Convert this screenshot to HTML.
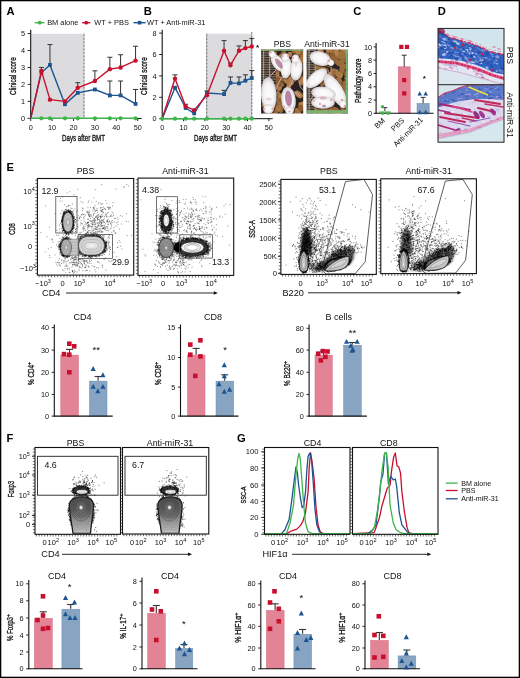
<!DOCTYPE html>
<html><head><meta charset="utf-8"><style>
html,body{margin:0;padding:0;background:#fff;overflow:hidden;width:520px;height:678px;}
svg{display:block;filter:blur(0.3px);}
text{font-family:"Liberation Sans",sans-serif;}
</style></head><body>
<svg width="520" height="678" viewBox="0 0 520 678" font-family="Liberation Sans, sans-serif">
<rect width="520" height="678" fill="#fff"/>
<line x1="34.70" y1="22.70" x2="44.40" y2="22.70" stroke="#3db54a" stroke-width="1.4" />
<circle cx="39.70" cy="22.70" r="1.9" fill="#3db54a"/>
<text x="47.20" y="25.20" font-size="7.4" text-anchor="start" font-weight="normal" fill="#111" >BM alone</text>
<line x1="82.20" y1="22.70" x2="90.30" y2="22.70" stroke="#c8102e" stroke-width="1.4" />
<circle cx="86.20" cy="22.70" r="1.9" fill="#c8102e"/>
<text x="94.30" y="25.20" font-size="7.4" text-anchor="start" font-weight="normal" fill="#111" >WT + PBS</text>
<line x1="133.50" y1="22.70" x2="145.60" y2="22.70" stroke="#1c5590" stroke-width="1.4" />
<rect x="137.80" y="20.90" width="3.60" height="3.60" fill="#1c5590" stroke="none" stroke-width="1" />
<text x="147.00" y="25.20" font-size="7.4" text-anchor="start" font-weight="normal" fill="#111" >WT + Anti-miR-31</text>
<text x="6.60" y="14.50" font-size="11.2" text-anchor="start" font-weight="bold" fill="#000" >A</text>
<rect x="31.20" y="33.80" width="52.30" height="84.70" fill="#dcdcde" stroke="none" stroke-width="1" />
<line x1="84.00" y1="33.80" x2="84.00" y2="118.50" stroke="#222" stroke-width="1" stroke-dasharray="0.7 0.7"/>
<line x1="30.70" y1="29.70" x2="30.70" y2="119.00" stroke="#111" stroke-width="1.1" />
<line x1="30.20" y1="118.50" x2="141.50" y2="118.50" stroke="#111" stroke-width="1" />
<line x1="27.60" y1="118.30" x2="30.70" y2="118.30" stroke="#111" stroke-width="0.9" />
<text x="25.00" y="120.90" font-size="7.3" text-anchor="end" font-weight="normal" fill="#111" >0</text>
<line x1="27.60" y1="101.35" x2="30.70" y2="101.35" stroke="#111" stroke-width="0.9" />
<text x="25.00" y="103.95" font-size="7.3" text-anchor="end" font-weight="normal" fill="#111" >1</text>
<line x1="27.60" y1="84.40" x2="30.70" y2="84.40" stroke="#111" stroke-width="0.9" />
<text x="25.00" y="87.00" font-size="7.3" text-anchor="end" font-weight="normal" fill="#111" >2</text>
<line x1="27.60" y1="67.45" x2="30.70" y2="67.45" stroke="#111" stroke-width="0.9" />
<text x="25.00" y="70.05" font-size="7.3" text-anchor="end" font-weight="normal" fill="#111" >3</text>
<line x1="27.60" y1="50.50" x2="30.70" y2="50.50" stroke="#111" stroke-width="0.9" />
<text x="25.00" y="53.10" font-size="7.3" text-anchor="end" font-weight="normal" fill="#111" >4</text>
<line x1="27.60" y1="33.55" x2="30.70" y2="33.55" stroke="#111" stroke-width="0.9" />
<text x="25.00" y="36.15" font-size="7.3" text-anchor="end" font-weight="normal" fill="#111" >5</text>
<line x1="30.70" y1="118.50" x2="30.70" y2="121.00" stroke="#111" stroke-width="0.9" />
<text x="30.70" y="130.00" font-size="7.3" text-anchor="middle" font-weight="normal" fill="#111" >0</text>
<line x1="52.10" y1="118.50" x2="52.10" y2="121.00" stroke="#111" stroke-width="0.9" />
<text x="52.10" y="130.00" font-size="7.3" text-anchor="middle" font-weight="normal" fill="#111" >10</text>
<line x1="73.50" y1="118.50" x2="73.50" y2="121.00" stroke="#111" stroke-width="0.9" />
<text x="73.50" y="130.00" font-size="7.3" text-anchor="middle" font-weight="normal" fill="#111" >20</text>
<line x1="94.90" y1="118.50" x2="94.90" y2="121.00" stroke="#111" stroke-width="0.9" />
<text x="94.90" y="130.00" font-size="7.3" text-anchor="middle" font-weight="normal" fill="#111" >30</text>
<line x1="116.30" y1="118.50" x2="116.30" y2="121.00" stroke="#111" stroke-width="0.9" />
<text x="116.30" y="130.00" font-size="7.3" text-anchor="middle" font-weight="normal" fill="#111" >40</text>
<line x1="137.70" y1="118.50" x2="137.70" y2="121.00" stroke="#111" stroke-width="0.9" />
<text x="137.70" y="130.00" font-size="7.3" text-anchor="middle" font-weight="normal" fill="#111" >50</text>
<text x="83.50" y="141.00" font-size="9" text-anchor="middle" textLength="43" lengthAdjust="spacingAndGlyphs" fill="#111" stroke="#111" stroke-width="0.32">Days after BMT</text>
<text x="16.50" y="76.10" font-size="9" text-anchor="middle" textLength="37.6" lengthAdjust="spacingAndGlyphs" fill="#111" stroke="#111" stroke-width="0.32" transform="rotate(-90 16.50 76.10)">Clinical score</text>
<line x1="49.96" y1="64.91" x2="49.96" y2="44.57" stroke="#333" stroke-width="1" />
<line x1="47.46" y1="44.57" x2="52.46" y2="44.57" stroke="#333" stroke-width="1" />
<line x1="109.88" y1="95.42" x2="109.88" y2="81.01" stroke="#333" stroke-width="1" />
<line x1="107.38" y1="81.01" x2="112.38" y2="81.01" stroke="#333" stroke-width="1" />
<line x1="120.58" y1="95.42" x2="120.58" y2="81.01" stroke="#333" stroke-width="1" />
<line x1="118.08" y1="81.01" x2="123.08" y2="81.01" stroke="#333" stroke-width="1" />
<line x1="135.56" y1="103.89" x2="135.56" y2="89.48" stroke="#333" stroke-width="1" />
<line x1="133.06" y1="89.48" x2="138.06" y2="89.48" stroke="#333" stroke-width="1" />
<line x1="41.40" y1="70.84" x2="41.40" y2="67.45" stroke="#333" stroke-width="1" />
<line x1="38.90" y1="67.45" x2="43.90" y2="67.45" stroke="#333" stroke-width="1" />
<line x1="77.78" y1="87.79" x2="77.78" y2="82.70" stroke="#333" stroke-width="1" />
<line x1="75.28" y1="82.70" x2="80.28" y2="82.70" stroke="#333" stroke-width="1" />
<line x1="94.90" y1="81.01" x2="94.90" y2="70.84" stroke="#333" stroke-width="1" />
<line x1="92.40" y1="70.84" x2="97.40" y2="70.84" stroke="#333" stroke-width="1" />
<line x1="109.88" y1="69.15" x2="109.88" y2="57.28" stroke="#333" stroke-width="1" />
<line x1="107.38" y1="57.28" x2="112.38" y2="57.28" stroke="#333" stroke-width="1" />
<line x1="120.58" y1="67.45" x2="120.58" y2="54.74" stroke="#333" stroke-width="1" />
<line x1="118.08" y1="54.74" x2="123.08" y2="54.74" stroke="#333" stroke-width="1" />
<line x1="135.56" y1="60.67" x2="135.56" y2="46.26" stroke="#333" stroke-width="1" />
<line x1="133.06" y1="46.26" x2="138.06" y2="46.26" stroke="#333" stroke-width="1" />
<polyline points="30.70,118.30 41.40,72.53 49.96,64.91 64.94,104.23 77.78,92.88 94.90,89.48 109.88,95.42 120.58,95.42 135.56,103.89" fill="none" stroke="#1c5590" stroke-width="1.4" stroke-linejoin="round"/>
<rect x="39.50" y="70.63" width="3.80" height="3.80" fill="#1c5590" stroke="none" stroke-width="1" />
<rect x="48.06" y="63.01" width="3.80" height="3.80" fill="#1c5590" stroke="none" stroke-width="1" />
<rect x="63.04" y="102.33" width="3.80" height="3.80" fill="#1c5590" stroke="none" stroke-width="1" />
<rect x="75.88" y="90.97" width="3.80" height="3.80" fill="#1c5590" stroke="none" stroke-width="1" />
<rect x="93.00" y="87.58" width="3.80" height="3.80" fill="#1c5590" stroke="none" stroke-width="1" />
<rect x="107.98" y="93.52" width="3.80" height="3.80" fill="#1c5590" stroke="none" stroke-width="1" />
<rect x="118.68" y="93.52" width="3.80" height="3.80" fill="#1c5590" stroke="none" stroke-width="1" />
<rect x="133.66" y="101.99" width="3.80" height="3.80" fill="#1c5590" stroke="none" stroke-width="1" />
<polyline points="30.70,118.30 41.40,70.84 49.96,99.66 64.94,101.35 77.78,87.79 94.90,81.01 109.88,69.15 120.58,67.45 135.56,60.67" fill="none" stroke="#c8102e" stroke-width="1.4" stroke-linejoin="round"/>
<circle cx="41.40" cy="70.84" r="2.2" fill="#c8102e"/>
<circle cx="49.96" cy="99.66" r="2.2" fill="#c8102e"/>
<circle cx="64.94" cy="101.35" r="2.2" fill="#c8102e"/>
<circle cx="77.78" cy="87.79" r="2.2" fill="#c8102e"/>
<circle cx="94.90" cy="81.01" r="2.2" fill="#c8102e"/>
<circle cx="109.88" cy="69.15" r="2.2" fill="#c8102e"/>
<circle cx="120.58" cy="67.45" r="2.2" fill="#c8102e"/>
<circle cx="135.56" cy="60.67" r="2.2" fill="#c8102e"/>
<line x1="30.70" y1="118.30" x2="135.56" y2="118.30" stroke="#3db54a" stroke-width="1.5" />
<circle cx="41.40" cy="118.30" r="2.1" fill="#3db54a"/>
<circle cx="49.96" cy="118.30" r="2.1" fill="#3db54a"/>
<circle cx="64.94" cy="118.30" r="2.1" fill="#3db54a"/>
<circle cx="77.78" cy="118.30" r="2.1" fill="#3db54a"/>
<circle cx="94.90" cy="118.30" r="2.1" fill="#3db54a"/>
<circle cx="109.88" cy="118.30" r="2.1" fill="#3db54a"/>
<circle cx="120.58" cy="118.30" r="2.1" fill="#3db54a"/>
<circle cx="135.56" cy="118.30" r="2.1" fill="#3db54a"/>
<text x="143.70" y="14.50" font-size="11.2" text-anchor="start" font-weight="bold" fill="#000" >B</text>
<rect x="206.70" y="33.70" width="45.10" height="85.00" fill="#dcdcde" stroke="none" stroke-width="1" />
<line x1="206.70" y1="33.70" x2="206.70" y2="118.70" stroke="#222" stroke-width="1" stroke-dasharray="0.7 0.7"/>
<line x1="251.80" y1="32.00" x2="251.80" y2="118.70" stroke="#222" stroke-width="1" stroke-dasharray="0.7 0.7"/>
<line x1="162.20" y1="29.70" x2="162.20" y2="119.00" stroke="#111" stroke-width="1.1" />
<line x1="161.70" y1="118.70" x2="272.70" y2="118.70" stroke="#111" stroke-width="1" />
<line x1="159.20" y1="118.70" x2="162.20" y2="118.70" stroke="#111" stroke-width="0.9" />
<text x="156.50" y="121.30" font-size="7.3" text-anchor="end" font-weight="normal" fill="#111" >0</text>
<line x1="159.20" y1="97.30" x2="162.20" y2="97.30" stroke="#111" stroke-width="0.9" />
<text x="156.50" y="99.90" font-size="7.3" text-anchor="end" font-weight="normal" fill="#111" >2</text>
<line x1="159.20" y1="75.90" x2="162.20" y2="75.90" stroke="#111" stroke-width="0.9" />
<text x="156.50" y="78.50" font-size="7.3" text-anchor="end" font-weight="normal" fill="#111" >4</text>
<line x1="159.20" y1="54.50" x2="162.20" y2="54.50" stroke="#111" stroke-width="0.9" />
<text x="156.50" y="57.10" font-size="7.3" text-anchor="end" font-weight="normal" fill="#111" >6</text>
<line x1="159.20" y1="33.10" x2="162.20" y2="33.10" stroke="#111" stroke-width="0.9" />
<text x="156.50" y="35.70" font-size="7.3" text-anchor="end" font-weight="normal" fill="#111" >8</text>
<line x1="162.20" y1="118.70" x2="162.20" y2="121.20" stroke="#111" stroke-width="0.9" />
<text x="162.20" y="130.00" font-size="7.3" text-anchor="middle" font-weight="normal" fill="#111" >0</text>
<line x1="183.53" y1="118.70" x2="183.53" y2="121.20" stroke="#111" stroke-width="0.9" />
<text x="183.53" y="130.00" font-size="7.3" text-anchor="middle" font-weight="normal" fill="#111" >10</text>
<line x1="204.86" y1="118.70" x2="204.86" y2="121.20" stroke="#111" stroke-width="0.9" />
<text x="204.86" y="130.00" font-size="7.3" text-anchor="middle" font-weight="normal" fill="#111" >20</text>
<line x1="226.19" y1="118.70" x2="226.19" y2="121.20" stroke="#111" stroke-width="0.9" />
<text x="226.19" y="130.00" font-size="7.3" text-anchor="middle" font-weight="normal" fill="#111" >30</text>
<line x1="247.52" y1="118.70" x2="247.52" y2="121.20" stroke="#111" stroke-width="0.9" />
<text x="247.52" y="130.00" font-size="7.3" text-anchor="middle" font-weight="normal" fill="#111" >40</text>
<line x1="268.85" y1="118.70" x2="268.85" y2="121.20" stroke="#111" stroke-width="0.9" />
<text x="268.85" y="130.00" font-size="7.3" text-anchor="middle" font-weight="normal" fill="#111" >50</text>
<text x="215.60" y="141.00" font-size="9" text-anchor="middle" textLength="43" lengthAdjust="spacingAndGlyphs" fill="#111" stroke="#111" stroke-width="0.32">Days after BMT</text>
<text x="146.90" y="76.10" font-size="9" text-anchor="middle" textLength="37.6" lengthAdjust="spacingAndGlyphs" fill="#111" stroke="#111" stroke-width="0.32" transform="rotate(-90 146.90 76.10)">Clinical score</text>
<line x1="224.06" y1="94.09" x2="224.06" y2="90.34" stroke="#333" stroke-width="1" />
<line x1="221.56" y1="90.34" x2="226.56" y2="90.34" stroke="#333" stroke-width="1" />
<line x1="230.46" y1="82.86" x2="230.46" y2="76.97" stroke="#333" stroke-width="1" />
<line x1="227.96" y1="76.97" x2="232.96" y2="76.97" stroke="#333" stroke-width="1" />
<line x1="238.99" y1="83.39" x2="238.99" y2="76.97" stroke="#333" stroke-width="1" />
<line x1="236.49" y1="76.97" x2="241.49" y2="76.97" stroke="#333" stroke-width="1" />
<line x1="245.39" y1="80.72" x2="245.39" y2="74.83" stroke="#333" stroke-width="1" />
<line x1="242.89" y1="74.83" x2="247.89" y2="74.83" stroke="#333" stroke-width="1" />
<line x1="251.79" y1="78.04" x2="251.79" y2="70.55" stroke="#333" stroke-width="1" />
<line x1="249.29" y1="70.55" x2="254.29" y2="70.55" stroke="#333" stroke-width="1" />
<line x1="175.00" y1="78.58" x2="175.00" y2="74.83" stroke="#333" stroke-width="1" />
<line x1="172.50" y1="74.83" x2="177.50" y2="74.83" stroke="#333" stroke-width="1" />
<line x1="185.66" y1="106.40" x2="185.66" y2="104.25" stroke="#333" stroke-width="1" />
<line x1="183.16" y1="104.25" x2="188.16" y2="104.25" stroke="#333" stroke-width="1" />
<line x1="206.99" y1="95.16" x2="206.99" y2="90.88" stroke="#333" stroke-width="1" />
<line x1="204.49" y1="90.88" x2="209.49" y2="90.88" stroke="#333" stroke-width="1" />
<line x1="224.06" y1="50.76" x2="224.06" y2="40.59" stroke="#333" stroke-width="1" />
<line x1="221.56" y1="40.59" x2="226.56" y2="40.59" stroke="#333" stroke-width="1" />
<line x1="230.46" y1="65.20" x2="230.46" y2="63.06" stroke="#333" stroke-width="1" />
<line x1="227.96" y1="63.06" x2="232.96" y2="63.06" stroke="#333" stroke-width="1" />
<line x1="238.99" y1="50.76" x2="238.99" y2="45.94" stroke="#333" stroke-width="1" />
<line x1="236.49" y1="45.94" x2="241.49" y2="45.94" stroke="#333" stroke-width="1" />
<line x1="245.39" y1="48.08" x2="245.39" y2="40.59" stroke="#333" stroke-width="1" />
<line x1="242.89" y1="40.59" x2="247.89" y2="40.59" stroke="#333" stroke-width="1" />
<line x1="251.79" y1="46.48" x2="251.79" y2="38.45" stroke="#333" stroke-width="1" />
<line x1="249.29" y1="38.45" x2="254.29" y2="38.45" stroke="#333" stroke-width="1" />
<polyline points="162.20,118.70 175.00,87.67 185.66,108.00 194.19,113.35 206.99,93.02 224.06,94.09 230.46,82.86 238.99,83.39 245.39,80.72 251.79,78.04" fill="none" stroke="#1c5590" stroke-width="1.4" stroke-linejoin="round"/>
<rect x="173.10" y="85.77" width="3.80" height="3.80" fill="#1c5590" stroke="none" stroke-width="1" />
<rect x="183.76" y="106.10" width="3.80" height="3.80" fill="#1c5590" stroke="none" stroke-width="1" />
<rect x="192.29" y="111.45" width="3.80" height="3.80" fill="#1c5590" stroke="none" stroke-width="1" />
<rect x="205.09" y="91.12" width="3.80" height="3.80" fill="#1c5590" stroke="none" stroke-width="1" />
<rect x="222.16" y="92.19" width="3.80" height="3.80" fill="#1c5590" stroke="none" stroke-width="1" />
<rect x="228.56" y="80.95" width="3.80" height="3.80" fill="#1c5590" stroke="none" stroke-width="1" />
<rect x="237.09" y="81.49" width="3.80" height="3.80" fill="#1c5590" stroke="none" stroke-width="1" />
<rect x="243.49" y="78.81" width="3.80" height="3.80" fill="#1c5590" stroke="none" stroke-width="1" />
<rect x="249.89" y="76.14" width="3.80" height="3.80" fill="#1c5590" stroke="none" stroke-width="1" />
<polyline points="162.20,118.70 175.00,78.58 185.66,106.40 194.19,110.14 206.99,95.16 224.06,50.76 230.46,65.20 238.99,50.76 245.39,48.08 251.79,46.48" fill="none" stroke="#c8102e" stroke-width="1.4" stroke-linejoin="round"/>
<circle cx="175.00" cy="78.58" r="2.2" fill="#c8102e"/>
<circle cx="185.66" cy="106.40" r="2.2" fill="#c8102e"/>
<circle cx="194.19" cy="110.14" r="2.2" fill="#c8102e"/>
<circle cx="206.99" cy="95.16" r="2.2" fill="#c8102e"/>
<circle cx="224.06" cy="50.76" r="2.2" fill="#c8102e"/>
<circle cx="230.46" cy="65.20" r="2.2" fill="#c8102e"/>
<circle cx="238.99" cy="50.76" r="2.2" fill="#c8102e"/>
<circle cx="245.39" cy="48.08" r="2.2" fill="#c8102e"/>
<circle cx="251.79" cy="46.48" r="2.2" fill="#c8102e"/>
<line x1="162.20" y1="118.70" x2="251.79" y2="118.70" stroke="#3db54a" stroke-width="1.5" />
<circle cx="162.20" cy="118.70" r="2.1" fill="#3db54a"/>
<circle cx="175.00" cy="118.70" r="2.1" fill="#3db54a"/>
<circle cx="185.66" cy="118.70" r="2.1" fill="#3db54a"/>
<circle cx="194.19" cy="118.70" r="2.1" fill="#3db54a"/>
<circle cx="206.99" cy="118.70" r="2.1" fill="#3db54a"/>
<circle cx="224.06" cy="118.70" r="2.1" fill="#3db54a"/>
<circle cx="230.46" cy="118.70" r="2.1" fill="#3db54a"/>
<circle cx="238.99" cy="118.70" r="2.1" fill="#3db54a"/>
<circle cx="245.39" cy="118.70" r="2.1" fill="#3db54a"/>
<circle cx="251.79" cy="118.70" r="2.1" fill="#3db54a"/>
<text x="257.50" y="50.00" font-size="8" text-anchor="middle" font-weight="bold" fill="#111" >*</text>
<text x="282.30" y="46.70" font-size="8.6" text-anchor="middle" font-weight="normal" fill="#111" >PBS</text>
<text x="327.00" y="46.70" font-size="8.6" text-anchor="middle" font-weight="normal" fill="#111" >Anti-miR-31</text>
<defs><radialGradient id="mouseg"><stop offset="0" stop-color="#fdfdfd"/><stop offset="0.65" stop-color="#f5f4f5"/><stop offset="1" stop-color="#d2cdd0"/></radialGradient></defs>
<defs><filter id="pblur" x="-10%" y="-10%" width="120%" height="120%"><feGaussianBlur stdDeviation="0.45"/></filter></defs>
<clipPath id="cp11"><rect x="261.1" y="49.6" width="42.1" height="64"/></clipPath><g clip-path="url(#cp11)"><g filter="url(#pblur)">
<rect x="260.10" y="48.60" width="44.10" height="66.00" fill="#2a2420" stroke="none" stroke-width="1" />
<ellipse cx="280.15" cy="85.43" rx="4.26" ry="2.51" fill="#946636" transform="rotate(153.90821446276655 280.15 85.43)" />
<ellipse cx="269.09" cy="101.05" rx="3.46" ry="2.70" fill="#a87844" transform="rotate(16.942222121259324 269.09 101.05)" />
<ellipse cx="273.87" cy="55.40" rx="4.06" ry="2.80" fill="#9a6a3a" transform="rotate(107.17857105132053 273.87 55.40)" />
<ellipse cx="277.78" cy="78.59" rx="3.93" ry="2.75" fill="#946636" transform="rotate(2.7001326509288837 277.78 78.59)" />
<ellipse cx="283.34" cy="53.41" rx="2.94" ry="2.21" fill="#9a6a3a" transform="rotate(140.0595131777838 283.34 53.41)" />
<ellipse cx="274.84" cy="87.42" rx="2.95" ry="2.20" fill="#8a5c30" transform="rotate(89.9591673972225 274.84 87.42)" />
<ellipse cx="288.99" cy="78.87" rx="3.10" ry="3.20" fill="#9a6a3a" transform="rotate(127.4057318696309 288.99 78.87)" />
<ellipse cx="274.37" cy="64.30" rx="3.12" ry="1.99" fill="#9a6a3a" transform="rotate(72.07196488532838 274.37 64.30)" />
<ellipse cx="296.74" cy="74.34" rx="4.32" ry="3.00" fill="#9a6a3a" transform="rotate(38.43030212632666 296.74 74.34)" />
<ellipse cx="300.13" cy="52.95" rx="3.28" ry="2.82" fill="#b08050" transform="rotate(13.146901890065621 300.13 52.95)" />
<ellipse cx="287.60" cy="99.42" rx="3.09" ry="2.01" fill="#8a5c30" transform="rotate(2.7269120032617233 287.60 99.42)" />
<ellipse cx="278.36" cy="108.66" rx="2.84" ry="2.82" fill="#9a6a3a" transform="rotate(10.780812529393806 278.36 108.66)" />
<ellipse cx="294.65" cy="60.97" rx="3.61" ry="2.48" fill="#a87844" transform="rotate(177.3506530504 294.65 60.97)" />
<ellipse cx="293.50" cy="76.43" rx="3.29" ry="2.41" fill="#a87844" transform="rotate(0.08476353111188661 293.50 76.43)" />
<ellipse cx="297.49" cy="111.99" rx="3.67" ry="3.20" fill="#9a6a3a" transform="rotate(37.92783985819909 297.49 111.99)" />
<ellipse cx="277.70" cy="104.28" rx="3.76" ry="2.03" fill="#a87844" transform="rotate(38.38380634395406 277.70 104.28)" />
<ellipse cx="271.97" cy="99.05" rx="3.19" ry="2.29" fill="#9a6a3a" transform="rotate(13.37057870791175 271.97 99.05)" />
<ellipse cx="269.89" cy="90.34" rx="2.63" ry="2.38" fill="#946636" transform="rotate(81.57745885029281 269.89 90.34)" />
<ellipse cx="301.48" cy="80.56" rx="3.63" ry="3.03" fill="#a87844" transform="rotate(112.90407767701414 301.48 80.56)" />
<ellipse cx="274.19" cy="64.22" rx="3.70" ry="2.84" fill="#a87844" transform="rotate(133.09639016699722 274.19 64.22)" />
<ellipse cx="300.69" cy="62.18" rx="4.31" ry="3.05" fill="#946636" transform="rotate(14.129605411457263 300.69 62.18)" />
<ellipse cx="263.10" cy="56.58" rx="3.52" ry="2.23" fill="#a0703e" transform="rotate(126.82430290050785 263.10 56.58)" />
<ellipse cx="271.92" cy="102.32" rx="3.67" ry="2.28" fill="#a87844" transform="rotate(167.26251356053052 271.92 102.32)" />
<ellipse cx="302.24" cy="57.69" rx="3.46" ry="2.75" fill="#946636" transform="rotate(110.57454283047626 302.24 57.69)" />
<ellipse cx="272.90" cy="108.31" rx="2.97" ry="1.92" fill="#8a5c30" transform="rotate(74.05678123404826 272.90 108.31)" />
<ellipse cx="271.59" cy="52.58" rx="3.11" ry="2.59" fill="#a87844" transform="rotate(16.59458223869002 271.59 52.58)" />
<ellipse cx="266.93" cy="78.42" rx="3.20" ry="2.85" fill="#946636" transform="rotate(105.1992482724322 266.93 78.42)" />
<ellipse cx="267.01" cy="51.85" rx="2.63" ry="3.08" fill="#a0703e" transform="rotate(56.12484673633264 267.01 51.85)" />
<ellipse cx="262.51" cy="87.90" rx="2.73" ry="1.99" fill="#8a5c30" transform="rotate(57.40280825338545 262.51 87.90)" />
<ellipse cx="303.17" cy="54.42" rx="3.58" ry="2.86" fill="#a0703e" transform="rotate(132.68687327701085 303.17 54.42)" />
<ellipse cx="266.55" cy="111.26" rx="3.21" ry="2.01" fill="#b08050" transform="rotate(162.1504690794682 266.55 111.26)" />
<ellipse cx="297.77" cy="76.30" rx="4.02" ry="3.02" fill="#946636" transform="rotate(2.6158560253150576 297.77 76.30)" />
<ellipse cx="288.98" cy="73.87" rx="2.62" ry="1.99" fill="#9a6a3a" transform="rotate(115.09277627471432 288.98 73.87)" />
<ellipse cx="302.92" cy="105.91" rx="3.91" ry="2.40" fill="#a0703e" transform="rotate(124.94816500374314 302.92 105.91)" />
<ellipse cx="280.37" cy="79.21" rx="3.57" ry="2.57" fill="#946636" transform="rotate(5.362169413583697 280.37 79.21)" />
<ellipse cx="286.41" cy="80.38" rx="3.01" ry="2.81" fill="#b08050" transform="rotate(140.39030619420546 286.41 80.38)" />
<ellipse cx="288.89" cy="80.72" rx="4.21" ry="2.38" fill="#a87844" transform="rotate(122.06465624359589 288.89 80.72)" />
<ellipse cx="269.63" cy="60.45" rx="4.23" ry="2.76" fill="#b08050" transform="rotate(89.69598755621048 269.63 60.45)" />
<ellipse cx="271.27" cy="75.50" rx="3.05" ry="2.72" fill="#a87844" transform="rotate(158.44840525503508 271.27 75.50)" />
<ellipse cx="277.28" cy="86.92" rx="3.17" ry="2.08" fill="#b08050" transform="rotate(63.134125252643294 277.28 86.92)" />
<ellipse cx="298.81" cy="52.20" rx="2.72" ry="3.17" fill="#a87844" transform="rotate(20.30928761599138 298.81 52.20)" />
<ellipse cx="280.94" cy="108.85" rx="4.10" ry="2.40" fill="#946636" transform="rotate(88.89756605764114 280.94 108.85)" />
<ellipse cx="274.38" cy="103.30" rx="4.37" ry="2.49" fill="#9a6a3a" transform="rotate(149.17092431833922 274.38 103.30)" />
<ellipse cx="272.81" cy="88.48" rx="3.82" ry="2.27" fill="#8a5c30" transform="rotate(55.62546325379271 272.81 88.48)" />
<ellipse cx="294.42" cy="50.82" rx="2.84" ry="2.49" fill="#9a6a3a" transform="rotate(138.45836497351763 294.42 50.82)" />
<ellipse cx="272.32" cy="99.47" rx="4.03" ry="3.18" fill="#9a6a3a" transform="rotate(80.36653801518406 272.32 99.47)" />
<ellipse cx="287.62" cy="91.52" rx="4.05" ry="3.15" fill="#a0703e" transform="rotate(35.64905789406191 287.62 91.52)" />
<ellipse cx="295.78" cy="65.99" rx="3.89" ry="2.88" fill="#946636" transform="rotate(128.55077197038756 295.78 65.99)" />
<ellipse cx="268.64" cy="67.03" rx="3.22" ry="2.81" fill="#946636" transform="rotate(90.0748840764208 268.64 67.03)" />
<ellipse cx="303.07" cy="59.79" rx="4.13" ry="2.81" fill="#a87844" transform="rotate(15.69773878072797 303.07 59.79)" />
<ellipse cx="300.36" cy="95.83" rx="2.83" ry="2.49" fill="#a0703e" transform="rotate(159.71865343893887 300.36 95.83)" />
<ellipse cx="261.38" cy="84.80" rx="3.77" ry="2.55" fill="#8a5c30" transform="rotate(83.46739186915839 261.38 84.80)" />
<ellipse cx="288.52" cy="62.71" rx="3.90" ry="2.96" fill="#a0703e" transform="rotate(166.36148042365275 288.52 62.71)" />
<ellipse cx="266.30" cy="65.11" rx="3.30" ry="2.01" fill="#8a5c30" transform="rotate(96.65218812089222 266.30 65.11)" />
<ellipse cx="294.39" cy="70.11" rx="4.24" ry="3.01" fill="#8a5c30" transform="rotate(90.84946509375472 294.39 70.11)" />
<ellipse cx="262.66" cy="71.49" rx="3.36" ry="2.26" fill="#9a6a3a" transform="rotate(39.29301400218328 262.66 71.49)" />
<ellipse cx="297.62" cy="77.05" rx="2.66" ry="2.59" fill="#a0703e" transform="rotate(141.82306487024798 297.62 77.05)" />
<ellipse cx="267.02" cy="59.12" rx="3.53" ry="2.84" fill="#a0703e" transform="rotate(124.08687799594834 267.02 59.12)" />
<ellipse cx="300.92" cy="81.13" rx="4.31" ry="2.01" fill="#a87844" transform="rotate(79.09597750603713 300.92 81.13)" />
<ellipse cx="284.62" cy="102.79" rx="3.61" ry="2.11" fill="#946636" transform="rotate(151.8522118277711 284.62 102.79)" />
<ellipse cx="284.67" cy="69.55" rx="3.29" ry="3.00" fill="#946636" transform="rotate(37.48312305511595 284.67 69.55)" />
<ellipse cx="296.92" cy="111.58" rx="3.54" ry="2.64" fill="#a87844" transform="rotate(73.99503422128157 296.92 111.58)" />
<ellipse cx="265.91" cy="49.92" rx="3.28" ry="2.60" fill="#9a6a3a" transform="rotate(92.88319889548158 265.91 49.92)" />
<ellipse cx="277.96" cy="100.87" rx="3.61" ry="2.54" fill="#a0703e" transform="rotate(30.01882070200175 277.96 100.87)" />
<ellipse cx="300.29" cy="78.97" rx="4.26" ry="2.94" fill="#b08050" transform="rotate(48.45848220832602 300.29 78.97)" />
<ellipse cx="281.02" cy="57.73" rx="3.38" ry="2.96" fill="#b08050" transform="rotate(94.49672115667637 281.02 57.73)" />
<ellipse cx="265.67" cy="76.45" rx="2.65" ry="2.24" fill="#a0703e" transform="rotate(140.27199175887148 265.67 76.45)" />
<ellipse cx="262.06" cy="62.02" rx="3.01" ry="2.79" fill="#8a5c30" transform="rotate(130.24849939318355 262.06 62.02)" />
<ellipse cx="271.39" cy="81.52" rx="3.50" ry="2.66" fill="#946636" transform="rotate(112.2346695147429 271.39 81.52)" />
<ellipse cx="291.32" cy="94.49" rx="4.18" ry="1.93" fill="#a0703e" transform="rotate(74.41236219206715 291.32 94.49)" />
<ellipse cx="283.39" cy="59.82" rx="2.97" ry="2.72" fill="#a0703e" transform="rotate(39.30187430479692 283.39 59.82)" />
<ellipse cx="270.20" cy="84.35" rx="3.66" ry="2.08" fill="#a0703e" transform="rotate(113.01911984303209 270.20 84.35)" />
<ellipse cx="275.73" cy="61.19" rx="3.69" ry="3.06" fill="#a87844" transform="rotate(39.2659759528683 275.73 61.19)" />
<ellipse cx="303.13" cy="106.40" rx="2.84" ry="2.21" fill="#a0703e" transform="rotate(15.865994890850422 303.13 106.40)" />
<ellipse cx="277.43" cy="77.43" rx="4.29" ry="2.61" fill="#a0703e" transform="rotate(22.68058937874621 277.43 77.43)" />
<ellipse cx="278.06" cy="93.45" rx="2.63" ry="2.16" fill="#a0703e" transform="rotate(64.365767568701 278.06 93.45)" />
<ellipse cx="295.66" cy="72.72" rx="3.87" ry="2.73" fill="#8a5c30" transform="rotate(90.5013799648404 295.66 72.72)" />
<ellipse cx="289.97" cy="61.70" rx="2.73" ry="2.04" fill="#9a6a3a" transform="rotate(137.1594954975014 289.97 61.70)" />
<ellipse cx="286.92" cy="107.53" rx="3.47" ry="2.15" fill="#9a6a3a" transform="rotate(36.70452319866788 286.92 107.53)" />
<ellipse cx="296.47" cy="112.98" rx="4.27" ry="2.02" fill="#9a6a3a" transform="rotate(24.201047504462956 296.47 112.98)" />
<ellipse cx="289.77" cy="54.57" rx="2.77" ry="2.41" fill="#b08050" transform="rotate(92.75168272720751 289.77 54.57)" />
<ellipse cx="279.21" cy="88.06" rx="2.62" ry="2.81" fill="#a87844" transform="rotate(32.62845362299719 279.21 88.06)" />
<ellipse cx="280.21" cy="96.92" rx="3.33" ry="2.15" fill="#a87844" transform="rotate(17.064297588623624 280.21 96.92)" />
<ellipse cx="294.46" cy="70.32" rx="2.75" ry="2.99" fill="#a0703e" transform="rotate(169.12558222421842 294.46 70.32)" />
<ellipse cx="285.08" cy="61.82" rx="3.65" ry="2.34" fill="#8a5c30" transform="rotate(50.31283769036698 285.08 61.82)" />
<ellipse cx="266.00" cy="97.15" rx="2.89" ry="3.11" fill="#a87844" transform="rotate(161.3781125797624 266.00 97.15)" />
<ellipse cx="298.14" cy="94.07" rx="3.98" ry="2.89" fill="#b08050" transform="rotate(37.22917877192931 298.14 94.07)" />
<ellipse cx="268.88" cy="100.63" rx="3.14" ry="2.03" fill="#8a5c30" transform="rotate(178.30423589772113 268.88 100.63)" />
<ellipse cx="299.10" cy="52.77" rx="3.09" ry="3.15" fill="#8a5c30" transform="rotate(60.80681054956172 299.10 52.77)" />
<ellipse cx="288.88" cy="86.05" rx="3.56" ry="2.41" fill="#b08050" transform="rotate(115.60774712547192 288.88 86.05)" />
<ellipse cx="290.62" cy="98.35" rx="4.36" ry="1.93" fill="#946636" transform="rotate(19.450336046390817 290.62 98.35)" />
<ellipse cx="271.08" cy="77.99" rx="3.51" ry="2.89" fill="#a0703e" transform="rotate(67.62180717245073 271.08 77.99)" />
<ellipse cx="265.24" cy="65.66" rx="4.23" ry="2.62" fill="#946636" transform="rotate(74.82370595696963 265.24 65.66)" />
<ellipse cx="283.02" cy="103.77" rx="2.78" ry="2.48" fill="#a0703e" transform="rotate(13.715278051009818 283.02 103.77)" />
<ellipse cx="286.26" cy="98.19" rx="2.68" ry="3.11" fill="#a87844" transform="rotate(69.4624469050547 286.26 98.19)" />
<ellipse cx="301.94" cy="104.36" rx="3.58" ry="2.68" fill="#b08050" transform="rotate(170.14921388787002 301.94 104.36)" />
<ellipse cx="278.81" cy="83.31" rx="3.68" ry="2.38" fill="#8a5c30" transform="rotate(86.98367311000881 278.81 83.31)" />
<ellipse cx="272.46" cy="109.09" rx="3.79" ry="2.87" fill="#9a6a3a" transform="rotate(2.5222444463359883 272.46 109.09)" />
<ellipse cx="271.42" cy="52.34" rx="2.88" ry="2.88" fill="#b08050" transform="rotate(9.5024615642248 271.42 52.34)" />
<ellipse cx="274.37" cy="75.06" rx="3.65" ry="2.84" fill="#8a5c30" transform="rotate(13.230770852912144 274.37 75.06)" />
<ellipse cx="299.22" cy="77.09" rx="3.46" ry="3.17" fill="#a87844" transform="rotate(8.17811097357197 299.22 77.09)" />
<ellipse cx="265.25" cy="101.45" rx="4.24" ry="2.09" fill="#a87844" transform="rotate(108.65219240749694 265.25 101.45)" />
<ellipse cx="265.95" cy="89.55" rx="3.42" ry="2.16" fill="#9a6a3a" transform="rotate(64.20547287954349 265.95 89.55)" />
<ellipse cx="267.61" cy="72.85" rx="2.85" ry="2.44" fill="#946636" transform="rotate(47.18329351489818 267.61 72.85)" />
<ellipse cx="285.61" cy="76.45" rx="4.00" ry="2.59" fill="#a87844" transform="rotate(171.47429862784767 285.61 76.45)" />
<ellipse cx="292.01" cy="64.86" rx="2.80" ry="3.06" fill="#946636" transform="rotate(112.49575653956157 292.01 64.86)" />
<ellipse cx="276.22" cy="66.98" rx="3.83" ry="2.63" fill="#946636" transform="rotate(34.204435452506786 276.22 66.98)" />
<ellipse cx="272.83" cy="64.92" rx="4.31" ry="2.55" fill="#a0703e" transform="rotate(164.82996251639722 272.83 64.92)" />
<ellipse cx="298.10" cy="52.13" rx="2.71" ry="2.25" fill="#b08050" transform="rotate(4.842687638125187 298.10 52.13)" />
<ellipse cx="262.70" cy="63.84" rx="3.10" ry="2.88" fill="#a0703e" transform="rotate(28.95430087382457 262.70 63.84)" />
<ellipse cx="270.98" cy="112.42" rx="3.47" ry="2.36" fill="#8a5c30" transform="rotate(61.866094388015824 270.98 112.42)" />
<ellipse cx="292.46" cy="103.27" rx="2.73" ry="2.06" fill="#946636" transform="rotate(150.83808316569912 292.46 103.27)" />
<ellipse cx="293.47" cy="78.04" rx="3.95" ry="2.41" fill="#a87844" transform="rotate(66.41099920588717 293.47 78.04)" />
<ellipse cx="288.62" cy="112.91" rx="3.19" ry="2.61" fill="#a0703e" transform="rotate(148.70825250259418 288.62 112.91)" />
<ellipse cx="268.84" cy="91.44" rx="3.65" ry="2.50" fill="#8a5c30" transform="rotate(14.131371809944042 268.84 91.44)" />
<ellipse cx="264.60" cy="85.71" rx="3.47" ry="2.79" fill="#8a5c30" transform="rotate(148.22932511263022 264.60 85.71)" />
<ellipse cx="261.49" cy="69.45" rx="4.24" ry="2.68" fill="#a0703e" transform="rotate(54.684942432172775 261.49 69.45)" />
<ellipse cx="291.62" cy="94.01" rx="3.11" ry="2.09" fill="#8a5c30" transform="rotate(118.30736972894975 291.62 94.01)" />
<ellipse cx="274.87" cy="107.60" rx="3.18" ry="2.47" fill="#946636" transform="rotate(165.34019203804527 274.87 107.60)" />
<ellipse cx="300.67" cy="108.06" rx="3.39" ry="2.94" fill="#8a5c30" transform="rotate(82.48965559282499 300.67 108.06)" />
<ellipse cx="270.41" cy="111.54" rx="3.91" ry="2.57" fill="#9a6a3a" transform="rotate(65.10495744000583 270.41 111.54)" />
<ellipse cx="276.49" cy="72.85" rx="3.31" ry="2.40" fill="#a87844" transform="rotate(132.9898406675819 276.49 72.85)" />
<ellipse cx="276.60" cy="74.58" rx="2.88" ry="2.67" fill="#a87844" transform="rotate(31.786594958254227 276.60 74.58)" />
<ellipse cx="293.05" cy="105.98" rx="3.11" ry="1.93" fill="#946636" transform="rotate(10.390962943042066 293.05 105.98)" />
<ellipse cx="267.78" cy="68.54" rx="2.64" ry="2.99" fill="#b08050" transform="rotate(11.530165558701963 267.78 68.54)" />
<ellipse cx="284.12" cy="100.04" rx="2.75" ry="2.01" fill="#a0703e" transform="rotate(18.97300229842167 284.12 100.04)" />
<ellipse cx="274.31" cy="51.26" rx="3.78" ry="2.03" fill="#a0703e" transform="rotate(75.96935022012175 274.31 51.26)" />
<ellipse cx="291.08" cy="80.90" rx="4.23" ry="2.34" fill="#b08050" transform="rotate(70.98886372953115 291.08 80.90)" />
<ellipse cx="275.32" cy="111.57" rx="3.81" ry="2.54" fill="#946636" transform="rotate(144.86070655113699 275.32 111.57)" />
<ellipse cx="264.15" cy="89.16" rx="2.68" ry="2.88" fill="#a0703e" transform="rotate(62.84976283930783 264.15 89.16)" />
<ellipse cx="261.26" cy="73.79" rx="2.76" ry="2.50" fill="#946636" transform="rotate(115.2492039232148 261.26 73.79)" />
<ellipse cx="283.15" cy="95.05" rx="4.04" ry="2.45" fill="#b08050" transform="rotate(164.8012413554944 283.15 95.05)" />
<ellipse cx="271.44" cy="59.98" rx="3.74" ry="2.79" fill="#8a5c30" transform="rotate(36.78565494774925 271.44 59.98)" />
<ellipse cx="278.99" cy="68.29" rx="4.35" ry="1.98" fill="#8a5c30" transform="rotate(131.53862283130204 278.99 68.29)" />
<ellipse cx="273.88" cy="59.55" rx="4.26" ry="3.09" fill="#b08050" transform="rotate(3.090606966107754 273.88 59.55)" />
<ellipse cx="281.35" cy="100.83" rx="3.16" ry="2.16" fill="#8a5c30" transform="rotate(39.12558083164043 281.35 100.83)" />
<ellipse cx="271.01" cy="95.50" rx="3.67" ry="2.19" fill="#a87844" transform="rotate(161.01377867602665 271.01 95.50)" />
<ellipse cx="278.04" cy="107.88" rx="4.29" ry="2.71" fill="#946636" transform="rotate(86.30840311654092 278.04 107.88)" />
<ellipse cx="272.07" cy="106.39" rx="4.25" ry="2.34" fill="#946636" transform="rotate(138.90247056084485 272.07 106.39)" />
<ellipse cx="264.99" cy="104.80" rx="3.32" ry="2.18" fill="#a87844" transform="rotate(144.25517785318422 264.99 104.80)" />
<ellipse cx="277.31" cy="83.37" rx="3.53" ry="2.26" fill="#9a6a3a" transform="rotate(118.3595858988632 277.31 83.37)" />
<ellipse cx="271.10" cy="50.30" rx="3.45" ry="2.38" fill="#a87844" transform="rotate(128.39174833788655 271.10 50.30)" />
<ellipse cx="286.62" cy="59.67" rx="2.88" ry="2.32" fill="#8a5c30" transform="rotate(163.4589737390295 286.62 59.67)" />
<ellipse cx="295.20" cy="57.99" rx="3.94" ry="2.71" fill="#946636" transform="rotate(96.22375897712578 295.20 57.99)" />
<ellipse cx="267.44" cy="98.90" rx="2.60" ry="2.97" fill="#a87844" transform="rotate(147.97591181929937 267.44 98.90)" />
<ellipse cx="264.57" cy="66.87" rx="3.89" ry="2.03" fill="#b08050" transform="rotate(124.86453625827633 264.57 66.87)" />
<ellipse cx="264.59" cy="97.51" rx="3.58" ry="2.56" fill="#9a6a3a" transform="rotate(142.07789788989183 264.59 97.51)" />
<ellipse cx="278.65" cy="108.27" rx="2.76" ry="2.97" fill="#a87844" transform="rotate(6.699945612302742 278.65 108.27)" />
<ellipse cx="278.49" cy="81.23" rx="4.30" ry="3.15" fill="#8a5c30" transform="rotate(55.93440244334228 278.49 81.23)" />
<ellipse cx="264.30" cy="69.16" rx="3.44" ry="2.83" fill="#8a5c30" transform="rotate(13.382049975372698 264.30 69.16)" />
<rect x="261.10" y="49.60" width="14.90" height="34.40" fill="#2a2420" stroke="none" stroke-width="1" opacity="0.8"/>
<line x1="261.10" y1="50.40" x2="276.00" y2="50.40" stroke="#a09a90" stroke-width="0.8" opacity="0.85"/>
<line x1="261.10" y1="52.80" x2="276.00" y2="52.80" stroke="#a09a90" stroke-width="0.8" opacity="0.85"/>
<line x1="261.10" y1="55.20" x2="276.00" y2="55.20" stroke="#a09a90" stroke-width="0.8" opacity="0.85"/>
<line x1="261.10" y1="57.60" x2="276.00" y2="57.60" stroke="#a09a90" stroke-width="0.8" opacity="0.85"/>
<line x1="261.10" y1="60.00" x2="276.00" y2="60.00" stroke="#a09a90" stroke-width="0.8" opacity="0.85"/>
<line x1="261.10" y1="62.40" x2="276.00" y2="62.40" stroke="#a09a90" stroke-width="0.8" opacity="0.85"/>
<line x1="261.10" y1="64.80" x2="276.00" y2="64.80" stroke="#a09a90" stroke-width="0.8" opacity="0.85"/>
<line x1="261.10" y1="67.20" x2="276.00" y2="67.20" stroke="#a09a90" stroke-width="0.8" opacity="0.85"/>
<line x1="261.10" y1="69.60" x2="276.00" y2="69.60" stroke="#a09a90" stroke-width="0.8" opacity="0.85"/>
<line x1="261.10" y1="72.00" x2="276.00" y2="72.00" stroke="#a09a90" stroke-width="0.8" opacity="0.85"/>
<line x1="261.10" y1="74.40" x2="276.00" y2="74.40" stroke="#a09a90" stroke-width="0.8" opacity="0.85"/>
<line x1="261.10" y1="76.80" x2="276.00" y2="76.80" stroke="#a09a90" stroke-width="0.8" opacity="0.85"/>
<line x1="261.10" y1="79.20" x2="276.00" y2="79.20" stroke="#a09a90" stroke-width="0.8" opacity="0.85"/>
<line x1="261.10" y1="81.60" x2="276.00" y2="81.60" stroke="#a09a90" stroke-width="0.8" opacity="0.85"/>
<line x1="263.60" y1="49.60" x2="263.60" y2="84.00" stroke="#b0aca4" stroke-width="0.9" />
<line x1="269.60" y1="49.60" x2="269.60" y2="84.00" stroke="#b0aca4" stroke-width="0.9" />
<path d="M283,76 C278,82 277,88 274,95" stroke="#d8a8b8" stroke-width="1" fill="none"/>
<path d="M293,80 C290,88 286,90 281,97" stroke="#d8a8b8" stroke-width="1" fill="none"/>
<path d="M276,70 C270,76 266,80 264,86" stroke="#d8a8b8" stroke-width="1" fill="none"/>
<path d="M300,82 C299,86 301,88 303,90" stroke="#d8a8b8" stroke-width="1" fill="none"/>
<path d="M290,88 C292,92 296,92 300,96" stroke="#d8a8b8" stroke-width="1" fill="none"/>
<ellipse cx="278.50" cy="63.70" rx="5.96" ry="10.28" fill="#1e1a16" transform="rotate(-35 278.50 63.70)" opacity="0.5"/>
<ellipse cx="273.00" cy="55.20" rx="3.82" ry="4.35" fill="#1e1a16" transform="rotate(-45 273.00 55.20)" opacity="0.5"/>
<ellipse cx="286.50" cy="68.20" rx="5.96" ry="11.32" fill="#1e1a16" transform="rotate(4 286.50 68.20)" opacity="0.5"/>
<ellipse cx="285.80" cy="58.20" rx="4.25" ry="4.56" fill="#1e1a16" opacity="0.5"/>
<ellipse cx="296.80" cy="69.70" rx="6.61" ry="11.84" fill="#1e1a16" transform="rotate(5 296.80 69.70)" opacity="0.5"/>
<ellipse cx="296.10" cy="59.70" rx="4.47" ry="4.98" fill="#1e1a16" opacity="0.5"/>
<ellipse cx="269.30" cy="95.20" rx="8.21" ry="17.56" fill="#1e1a16" transform="rotate(-3 269.30 95.20)" opacity="0.5"/>
<ellipse cx="269.00" cy="109.70" rx="5.75" ry="5.08" fill="#1e1a16" opacity="0.5"/>
<ellipse cx="289.00" cy="100.70" rx="7.68" ry="13.40" fill="#1e1a16" transform="rotate(-6 289.00 100.70)" opacity="0.5"/>
<ellipse cx="290.00" cy="111.20" rx="4.68" ry="4.04" fill="#1e1a16" opacity="0.5"/>
<ellipse cx="278.00" cy="63.00" rx="5.56" ry="9.88" fill="url(#mouseg)" transform="rotate(-35 278.00 63.00)" />
<ellipse cx="272.50" cy="54.50" rx="3.42" ry="3.95" fill="url(#mouseg)" transform="rotate(-45 272.50 54.50)" />
<ellipse cx="286.00" cy="67.50" rx="5.56" ry="10.92" fill="url(#mouseg)" transform="rotate(4 286.00 67.50)" />
<ellipse cx="285.30" cy="57.50" rx="3.85" ry="4.16" fill="url(#mouseg)" />
<ellipse cx="296.30" cy="69.00" rx="6.21" ry="11.44" fill="url(#mouseg)" transform="rotate(5 296.30 69.00)" />
<ellipse cx="295.60" cy="59.00" rx="4.07" ry="4.58" fill="url(#mouseg)" />
<ellipse cx="268.80" cy="94.50" rx="7.81" ry="17.16" fill="url(#mouseg)" transform="rotate(-3 268.80 94.50)" />
<ellipse cx="268.50" cy="109.00" rx="5.35" ry="4.68" fill="url(#mouseg)" />
<ellipse cx="288.50" cy="100.00" rx="7.28" ry="13.00" fill="url(#mouseg)" transform="rotate(-6 288.50 100.00)" />
<ellipse cx="289.50" cy="110.50" rx="4.28" ry="3.64" fill="url(#mouseg)" />
<ellipse cx="279.00" cy="63.50" rx="2.40" ry="6.00" fill="#a86890" transform="rotate(-35 279.00 63.50)" opacity="0.75"/>
<ellipse cx="270.50" cy="52.50" rx="1.20" ry="1.00" fill="#e89aa8" opacity="0.9"/>
<ellipse cx="275.00" cy="53.00" rx="1.00" ry="0.80" fill="#e89aa8" opacity="0.8"/>
<ellipse cx="282.80" cy="56.00" rx="1.00" ry="1.00" fill="#e89aa8" opacity="0.9"/>
<ellipse cx="288.00" cy="56.00" rx="1.00" ry="1.00" fill="#e89aa8" opacity="0.9"/>
<ellipse cx="293.00" cy="58.00" rx="1.00" ry="1.00" fill="#e89aa8" opacity="0.9"/>
<ellipse cx="298.60" cy="58.00" rx="1.00" ry="1.00" fill="#e89aa8" opacity="0.9"/>
<ellipse cx="296.00" cy="64.00" rx="1.20" ry="3.00" fill="#d8c0d0" opacity="0.6"/>
<ellipse cx="288.50" cy="98.50" rx="3.40" ry="8.00" fill="#a86890" transform="rotate(-6 288.50 98.50)" opacity="0.8"/>
<ellipse cx="289.50" cy="111.50" rx="1.20" ry="1.00" fill="#e89aa8" opacity="0.9"/>
<ellipse cx="284.00" cy="107.00" rx="1.00" ry="1.00" fill="#e89aa8" opacity="0.8"/>
<ellipse cx="294.00" cy="107.00" rx="1.00" ry="1.00" fill="#e89aa8" opacity="0.8"/>
<ellipse cx="264.00" cy="109.00" rx="1.20" ry="1.00" fill="#e89aa8" opacity="0.9"/>
<ellipse cx="272.50" cy="109.00" rx="1.20" ry="1.00" fill="#e89aa8" opacity="0.9"/>
<ellipse cx="268.50" cy="99.00" rx="3.00" ry="1.50" fill="#e0c8d4" opacity="0.7"/>
</g>
<rect x="261.10" y="49.60" width="42.10" height="1.30" fill="#7ab070" stroke="none" stroke-width="1" />
</g>
<clipPath id="cp12"><rect x="306.6" y="49.6" width="41.3" height="64"/></clipPath><g clip-path="url(#cp12)"><g filter="url(#pblur)">
<rect x="305.60" y="48.60" width="43.30" height="66.00" fill="#2a2420" stroke="none" stroke-width="1" />
<ellipse cx="326.20" cy="91.68" rx="3.80" ry="2.09" fill="#9a6a3a" transform="rotate(179.3920013864026 326.20 91.68)" />
<ellipse cx="326.53" cy="90.78" rx="3.43" ry="3.02" fill="#a87844" transform="rotate(100.47420859560265 326.53 90.78)" />
<ellipse cx="333.91" cy="58.90" rx="3.39" ry="2.11" fill="#a87844" transform="rotate(10.588378933955893 333.91 58.90)" />
<ellipse cx="340.42" cy="54.38" rx="3.84" ry="2.34" fill="#b08050" transform="rotate(143.6176838847444 340.42 54.38)" />
<ellipse cx="310.21" cy="108.41" rx="4.08" ry="2.76" fill="#a87844" transform="rotate(16.376038030545 310.21 108.41)" />
<ellipse cx="347.37" cy="110.19" rx="2.80" ry="2.45" fill="#a87844" transform="rotate(97.10831698967012 347.37 110.19)" />
<ellipse cx="343.03" cy="85.32" rx="4.36" ry="3.05" fill="#946636" transform="rotate(30.81853666383459 343.03 85.32)" />
<ellipse cx="340.29" cy="75.23" rx="3.35" ry="2.67" fill="#b08050" transform="rotate(109.67335186321027 340.29 75.23)" />
<ellipse cx="328.95" cy="90.61" rx="2.75" ry="2.15" fill="#a0703e" transform="rotate(47.081472457514195 328.95 90.61)" />
<ellipse cx="345.47" cy="105.03" rx="3.29" ry="2.30" fill="#8a5c30" transform="rotate(42.29503691451159 345.47 105.03)" />
<ellipse cx="321.61" cy="82.33" rx="4.06" ry="2.55" fill="#9a6a3a" transform="rotate(68.5647509102685 321.61 82.33)" />
<ellipse cx="342.08" cy="51.69" rx="2.65" ry="2.78" fill="#9a6a3a" transform="rotate(69.88430169815528 342.08 51.69)" />
<ellipse cx="338.48" cy="56.17" rx="3.59" ry="2.13" fill="#a0703e" transform="rotate(49.28165455633622 338.48 56.17)" />
<ellipse cx="324.50" cy="81.49" rx="3.68" ry="2.84" fill="#946636" transform="rotate(82.66716693561523 324.50 81.49)" />
<ellipse cx="315.22" cy="67.64" rx="3.46" ry="3.15" fill="#b08050" transform="rotate(43.184227586243566 315.22 67.64)" />
<ellipse cx="347.43" cy="79.34" rx="3.59" ry="2.14" fill="#a0703e" transform="rotate(39.579157562312034 347.43 79.34)" />
<ellipse cx="331.67" cy="110.25" rx="4.25" ry="2.94" fill="#a87844" transform="rotate(43.48561110414765 331.67 110.25)" />
<ellipse cx="306.96" cy="52.16" rx="3.71" ry="3.18" fill="#946636" transform="rotate(90.6479065706223 306.96 52.16)" />
<ellipse cx="307.59" cy="70.24" rx="4.02" ry="2.98" fill="#a0703e" transform="rotate(21.2593297758144 307.59 70.24)" />
<ellipse cx="338.99" cy="81.74" rx="3.48" ry="2.36" fill="#a0703e" transform="rotate(170.40193423680643 338.99 81.74)" />
<ellipse cx="343.54" cy="59.98" rx="3.12" ry="3.04" fill="#8a5c30" transform="rotate(59.40020747410251 343.54 59.98)" />
<ellipse cx="342.21" cy="90.57" rx="3.40" ry="2.93" fill="#a0703e" transform="rotate(51.30371357334024 342.21 90.57)" />
<ellipse cx="317.13" cy="93.33" rx="3.85" ry="2.07" fill="#8a5c30" transform="rotate(75.65811324796161 317.13 93.33)" />
<ellipse cx="316.56" cy="77.46" rx="4.36" ry="2.63" fill="#946636" transform="rotate(129.38411001554235 316.56 77.46)" />
<ellipse cx="345.27" cy="66.11" rx="2.67" ry="2.46" fill="#9a6a3a" transform="rotate(162.17308322229576 345.27 66.11)" />
<ellipse cx="339.20" cy="86.73" rx="3.23" ry="2.38" fill="#a0703e" transform="rotate(69.3070894583978 339.20 86.73)" />
<ellipse cx="313.25" cy="93.68" rx="2.88" ry="1.94" fill="#9a6a3a" transform="rotate(161.54578650845914 313.25 93.68)" />
<ellipse cx="344.20" cy="83.84" rx="4.02" ry="2.39" fill="#9a6a3a" transform="rotate(127.85107123531739 344.20 83.84)" />
<ellipse cx="314.40" cy="66.92" rx="4.03" ry="2.79" fill="#b08050" transform="rotate(111.97951681915065 314.40 66.92)" />
<ellipse cx="311.75" cy="83.79" rx="3.86" ry="2.41" fill="#a87844" transform="rotate(12.91178593962501 311.75 83.79)" />
<ellipse cx="321.29" cy="54.87" rx="3.20" ry="2.79" fill="#a0703e" transform="rotate(56.245912730002246 321.29 54.87)" />
<ellipse cx="335.34" cy="98.22" rx="3.79" ry="3.12" fill="#8a5c30" transform="rotate(31.64348963911274 335.34 98.22)" />
<ellipse cx="315.24" cy="89.47" rx="3.47" ry="1.97" fill="#946636" transform="rotate(61.4277100730833 315.24 89.47)" />
<ellipse cx="316.44" cy="70.56" rx="4.30" ry="1.91" fill="#8a5c30" transform="rotate(65.9672158237154 316.44 70.56)" />
<ellipse cx="341.65" cy="93.66" rx="3.13" ry="2.57" fill="#a87844" transform="rotate(90.18622027697796 341.65 93.66)" />
<ellipse cx="335.43" cy="59.99" rx="3.44" ry="2.69" fill="#a0703e" transform="rotate(44.9777329178965 335.43 59.99)" />
<ellipse cx="325.58" cy="104.31" rx="4.10" ry="2.20" fill="#946636" transform="rotate(125.79537046725754 325.58 104.31)" />
<ellipse cx="339.30" cy="82.97" rx="3.39" ry="1.97" fill="#9a6a3a" transform="rotate(99.69870226587564 339.30 82.97)" />
<ellipse cx="334.72" cy="72.01" rx="3.92" ry="2.32" fill="#b08050" transform="rotate(161.22564781420837 334.72 72.01)" />
<ellipse cx="332.72" cy="60.50" rx="3.46" ry="2.94" fill="#a87844" transform="rotate(45.33303446344472 332.72 60.50)" />
<ellipse cx="308.50" cy="101.03" rx="3.11" ry="3.12" fill="#946636" transform="rotate(50.90397439922385 308.50 101.03)" />
<ellipse cx="340.17" cy="100.12" rx="3.69" ry="2.09" fill="#8a5c30" transform="rotate(115.3699851472956 340.17 100.12)" />
<ellipse cx="341.40" cy="88.54" rx="4.01" ry="2.44" fill="#946636" transform="rotate(118.5262400461419 341.40 88.54)" />
<ellipse cx="320.64" cy="98.80" rx="3.49" ry="3.12" fill="#a87844" transform="rotate(30.568809971068195 320.64 98.80)" />
<ellipse cx="315.07" cy="65.90" rx="4.35" ry="2.58" fill="#9a6a3a" transform="rotate(156.31069623210408 315.07 65.90)" />
<ellipse cx="333.57" cy="97.08" rx="3.89" ry="3.17" fill="#8a5c30" transform="rotate(138.74532285861443 333.57 97.08)" />
<ellipse cx="342.07" cy="69.51" rx="4.17" ry="2.87" fill="#9a6a3a" transform="rotate(100.00975635286086 342.07 69.51)" />
<ellipse cx="308.36" cy="101.46" rx="2.95" ry="2.16" fill="#8a5c30" transform="rotate(166.8570768401737 308.36 101.46)" />
<ellipse cx="347.14" cy="99.10" rx="3.58" ry="1.93" fill="#9a6a3a" transform="rotate(65.63242840244537 347.14 99.10)" />
<ellipse cx="327.18" cy="62.42" rx="2.78" ry="1.91" fill="#a87844" transform="rotate(144.1274625859869 327.18 62.42)" />
<ellipse cx="327.47" cy="90.28" rx="3.44" ry="2.72" fill="#b08050" transform="rotate(153.5116885205831 327.47 90.28)" />
<ellipse cx="343.47" cy="51.40" rx="4.12" ry="1.93" fill="#a87844" transform="rotate(88.47827252954679 343.47 51.40)" />
<ellipse cx="341.93" cy="93.79" rx="4.32" ry="2.79" fill="#b08050" transform="rotate(98.77828190517192 341.93 93.79)" />
<ellipse cx="346.36" cy="73.60" rx="2.73" ry="3.09" fill="#8a5c30" transform="rotate(11.229488117294487 346.36 73.60)" />
<ellipse cx="311.07" cy="54.99" rx="2.70" ry="1.91" fill="#a87844" transform="rotate(5.577578696395009 311.07 54.99)" />
<ellipse cx="334.96" cy="85.75" rx="4.26" ry="2.84" fill="#a0703e" transform="rotate(134.41048646117392 334.96 85.75)" />
<ellipse cx="345.82" cy="51.40" rx="3.01" ry="3.10" fill="#b08050" transform="rotate(113.25915796448542 345.82 51.40)" />
<ellipse cx="325.64" cy="71.15" rx="3.77" ry="2.98" fill="#a87844" transform="rotate(70.33631545075501 325.64 71.15)" />
<ellipse cx="333.69" cy="71.19" rx="2.71" ry="2.94" fill="#a0703e" transform="rotate(168.01329238537426 333.69 71.19)" />
<ellipse cx="321.56" cy="68.68" rx="4.26" ry="2.68" fill="#a0703e" transform="rotate(50.00850768578944 321.56 68.68)" />
<ellipse cx="314.76" cy="57.49" rx="3.38" ry="2.34" fill="#b08050" transform="rotate(136.31372762613594 314.76 57.49)" />
<ellipse cx="320.63" cy="74.02" rx="4.15" ry="3.19" fill="#b08050" transform="rotate(61.657556258574694 320.63 74.02)" />
<ellipse cx="343.33" cy="90.27" rx="3.72" ry="1.98" fill="#8a5c30" transform="rotate(69.362574577133 343.33 90.27)" />
<ellipse cx="331.89" cy="57.72" rx="3.57" ry="3.14" fill="#a0703e" transform="rotate(50.22895608382972 331.89 57.72)" />
<ellipse cx="320.78" cy="113.01" rx="2.81" ry="2.66" fill="#b08050" transform="rotate(31.10818822146545 320.78 113.01)" />
<ellipse cx="329.24" cy="87.73" rx="3.64" ry="2.39" fill="#8a5c30" transform="rotate(67.38040748143204 329.24 87.73)" />
<ellipse cx="344.05" cy="108.23" rx="4.30" ry="2.68" fill="#9a6a3a" transform="rotate(31.14192673894294 344.05 108.23)" />
<ellipse cx="323.11" cy="62.72" rx="3.18" ry="2.38" fill="#8a5c30" transform="rotate(154.50722462556857 323.11 62.72)" />
<ellipse cx="312.46" cy="71.12" rx="4.39" ry="2.74" fill="#9a6a3a" transform="rotate(92.83269211014732 312.46 71.12)" />
<ellipse cx="333.34" cy="54.31" rx="3.81" ry="2.03" fill="#8a5c30" transform="rotate(29.46273673891508 333.34 54.31)" />
<ellipse cx="326.65" cy="55.40" rx="3.16" ry="2.93" fill="#a87844" transform="rotate(50.875728965491746 326.65 55.40)" />
<ellipse cx="341.34" cy="64.53" rx="2.95" ry="2.73" fill="#a0703e" transform="rotate(38.18614517267539 341.34 64.53)" />
<ellipse cx="314.16" cy="97.18" rx="3.16" ry="2.07" fill="#b08050" transform="rotate(70.5132652777807 314.16 97.18)" />
<ellipse cx="325.82" cy="72.60" rx="3.89" ry="2.88" fill="#a87844" transform="rotate(106.24313797564832 325.82 72.60)" />
<ellipse cx="339.00" cy="80.64" rx="3.79" ry="2.83" fill="#a0703e" transform="rotate(61.131524324043546 339.00 80.64)" />
<ellipse cx="323.08" cy="58.35" rx="2.73" ry="2.77" fill="#8a5c30" transform="rotate(70.25030181525064 323.08 58.35)" />
<ellipse cx="346.55" cy="107.36" rx="2.87" ry="2.99" fill="#b08050" transform="rotate(103.8892806810666 346.55 107.36)" />
<ellipse cx="314.00" cy="76.65" rx="4.10" ry="2.08" fill="#b08050" transform="rotate(21.036025551016564 314.00 76.65)" />
<ellipse cx="319.29" cy="59.74" rx="2.82" ry="2.98" fill="#b08050" transform="rotate(92.18856385536492 319.29 59.74)" />
<ellipse cx="319.30" cy="55.56" rx="2.95" ry="2.99" fill="#b08050" transform="rotate(154.865422361953 319.30 55.56)" />
<ellipse cx="344.17" cy="109.24" rx="3.55" ry="2.38" fill="#a87844" transform="rotate(22.653501360959613 344.17 109.24)" />
<ellipse cx="315.16" cy="103.62" rx="2.79" ry="2.21" fill="#9a6a3a" transform="rotate(96.07121302439398 315.16 103.62)" />
<ellipse cx="344.04" cy="56.55" rx="3.71" ry="2.14" fill="#946636" transform="rotate(151.06657395059707 344.04 56.55)" />
<ellipse cx="333.20" cy="77.50" rx="2.64" ry="2.54" fill="#8a5c30" transform="rotate(151.48020485062528 333.20 77.50)" />
<ellipse cx="310.11" cy="84.57" rx="4.24" ry="2.49" fill="#946636" transform="rotate(71.93374185204635 310.11 84.57)" />
<ellipse cx="306.94" cy="81.88" rx="3.35" ry="2.08" fill="#8a5c30" transform="rotate(143.30180580228028 306.94 81.88)" />
<ellipse cx="328.40" cy="89.43" rx="4.38" ry="2.19" fill="#b08050" transform="rotate(50.378300874909506 328.40 89.43)" />
<ellipse cx="327.88" cy="74.80" rx="2.75" ry="2.78" fill="#9a6a3a" transform="rotate(156.45008319304895 327.88 74.80)" />
<ellipse cx="333.45" cy="72.85" rx="3.12" ry="2.01" fill="#9a6a3a" transform="rotate(148.52768233160054 333.45 72.85)" />
<ellipse cx="311.34" cy="101.29" rx="2.72" ry="2.10" fill="#946636" transform="rotate(95.89541517327675 311.34 101.29)" />
<ellipse cx="313.91" cy="102.50" rx="4.15" ry="3.17" fill="#a87844" transform="rotate(149.7981687818382 313.91 102.50)" />
<ellipse cx="307.41" cy="58.85" rx="3.42" ry="2.49" fill="#8a5c30" transform="rotate(135.27831964345202 307.41 58.85)" />
<ellipse cx="340.63" cy="97.66" rx="3.11" ry="2.88" fill="#b08050" transform="rotate(37.097026932950634 340.63 97.66)" />
<ellipse cx="346.02" cy="109.22" rx="3.24" ry="2.28" fill="#946636" transform="rotate(88.21082895206948 346.02 109.22)" />
<ellipse cx="323.74" cy="70.42" rx="3.62" ry="2.60" fill="#946636" transform="rotate(111.95752052744183 323.74 70.42)" />
<ellipse cx="329.51" cy="50.22" rx="3.72" ry="2.63" fill="#a87844" transform="rotate(168.66061919175826 329.51 50.22)" />
<ellipse cx="308.98" cy="69.95" rx="4.28" ry="2.76" fill="#a0703e" transform="rotate(160.80317420362152 308.98 69.95)" />
<ellipse cx="343.13" cy="55.19" rx="4.33" ry="2.69" fill="#a0703e" transform="rotate(77.54756166679061 343.13 55.19)" />
<ellipse cx="340.43" cy="93.07" rx="4.40" ry="2.91" fill="#b08050" transform="rotate(39.418057382549534 340.43 93.07)" />
<ellipse cx="322.04" cy="71.18" rx="3.74" ry="3.18" fill="#8a5c30" transform="rotate(118.85127070708589 322.04 71.18)" />
<ellipse cx="326.42" cy="62.64" rx="2.99" ry="1.99" fill="#9a6a3a" transform="rotate(120.37978489873183 326.42 62.64)" />
<ellipse cx="326.98" cy="101.30" rx="2.90" ry="2.16" fill="#b08050" transform="rotate(96.09426960135731 326.98 101.30)" />
<ellipse cx="322.70" cy="71.12" rx="2.94" ry="3.10" fill="#a87844" transform="rotate(106.26482250430088 322.70 71.12)" />
<ellipse cx="313.57" cy="79.78" rx="3.41" ry="2.10" fill="#a87844" transform="rotate(117.00501064984978 313.57 79.78)" />
<ellipse cx="315.41" cy="66.01" rx="2.73" ry="2.51" fill="#a0703e" transform="rotate(81.13091851020022 315.41 66.01)" />
<ellipse cx="310.34" cy="91.54" rx="4.23" ry="2.12" fill="#946636" transform="rotate(117.01534891311827 310.34 91.54)" />
<ellipse cx="333.45" cy="58.82" rx="3.57" ry="2.12" fill="#8a5c30" transform="rotate(112.70179410036192 333.45 58.82)" />
<ellipse cx="333.98" cy="52.37" rx="3.45" ry="3.01" fill="#a0703e" transform="rotate(160.1427069691841 333.98 52.37)" />
<ellipse cx="313.18" cy="55.26" rx="4.29" ry="2.69" fill="#a0703e" transform="rotate(101.15884184938162 313.18 55.26)" />
<ellipse cx="316.08" cy="109.03" rx="4.35" ry="2.93" fill="#a87844" transform="rotate(160.84855727510813 316.08 109.03)" />
<ellipse cx="327.93" cy="87.65" rx="3.54" ry="2.72" fill="#8a5c30" transform="rotate(14.23009165166002 327.93 87.65)" />
<ellipse cx="313.33" cy="67.00" rx="4.31" ry="3.04" fill="#a0703e" transform="rotate(5.3305208442502945 313.33 67.00)" />
<ellipse cx="331.39" cy="78.44" rx="3.54" ry="3.15" fill="#a0703e" transform="rotate(78.3149963490527 331.39 78.44)" />
<ellipse cx="342.22" cy="61.30" rx="2.71" ry="3.08" fill="#9a6a3a" transform="rotate(21.99998089792774 342.22 61.30)" />
<ellipse cx="328.61" cy="75.40" rx="3.60" ry="2.02" fill="#a0703e" transform="rotate(165.8644469649683 328.61 75.40)" />
<ellipse cx="341.29" cy="83.90" rx="2.76" ry="2.13" fill="#8a5c30" transform="rotate(12.432168594870895 341.29 83.90)" />
<ellipse cx="313.35" cy="75.49" rx="4.12" ry="3.17" fill="#9a6a3a" transform="rotate(27.168685341907832 313.35 75.49)" />
<ellipse cx="309.90" cy="66.61" rx="4.20" ry="2.24" fill="#a0703e" transform="rotate(64.44122106878021 309.90 66.61)" />
<ellipse cx="344.46" cy="87.03" rx="3.39" ry="2.94" fill="#9a6a3a" transform="rotate(158.1578690275077 344.46 87.03)" />
<ellipse cx="324.61" cy="112.63" rx="3.33" ry="3.13" fill="#8a5c30" transform="rotate(179.74732130448953 324.61 112.63)" />
<ellipse cx="310.97" cy="67.10" rx="3.85" ry="3.05" fill="#8a5c30" transform="rotate(139.98277558601998 310.97 67.10)" />
<ellipse cx="326.38" cy="71.39" rx="2.82" ry="2.42" fill="#a87844" transform="rotate(41.13965674394771 326.38 71.39)" />
<ellipse cx="345.12" cy="93.08" rx="4.15" ry="3.09" fill="#b08050" transform="rotate(159.34025783329315 345.12 93.08)" />
<ellipse cx="338.21" cy="74.34" rx="2.72" ry="3.06" fill="#a87844" transform="rotate(109.40633267289347 338.21 74.34)" />
<ellipse cx="313.54" cy="112.94" rx="4.12" ry="2.48" fill="#946636" transform="rotate(53.643299141929035 313.54 112.94)" />
<ellipse cx="336.65" cy="52.61" rx="4.17" ry="2.31" fill="#b08050" transform="rotate(100.92944425582088 336.65 52.61)" />
<ellipse cx="337.85" cy="112.17" rx="4.26" ry="2.94" fill="#b08050" transform="rotate(23.566116498489926 337.85 112.17)" />
<ellipse cx="332.34" cy="112.90" rx="2.61" ry="2.50" fill="#8a5c30" transform="rotate(13.645143328571914 332.34 112.90)" />
<ellipse cx="320.56" cy="50.92" rx="3.21" ry="2.21" fill="#a87844" transform="rotate(10.738941837460924 320.56 50.92)" />
<ellipse cx="312.17" cy="108.99" rx="3.89" ry="3.18" fill="#9a6a3a" transform="rotate(132.91825156384238 312.17 108.99)" />
<ellipse cx="315.97" cy="56.56" rx="4.37" ry="2.79" fill="#a0703e" transform="rotate(127.3858766692785 315.97 56.56)" />
<ellipse cx="307.49" cy="73.22" rx="4.14" ry="2.38" fill="#a87844" transform="rotate(174.1768577560947 307.49 73.22)" />
<ellipse cx="332.32" cy="55.41" rx="2.75" ry="2.88" fill="#8a5c30" transform="rotate(151.0936262163313 332.32 55.41)" />
<ellipse cx="314.24" cy="89.73" rx="3.90" ry="2.34" fill="#9a6a3a" transform="rotate(33.470215745059285 314.24 89.73)" />
<ellipse cx="312.82" cy="78.07" rx="2.80" ry="1.98" fill="#b08050" transform="rotate(10.329193690543125 312.82 78.07)" />
<ellipse cx="327.81" cy="65.01" rx="3.17" ry="1.92" fill="#8a5c30" transform="rotate(29.828680890416255 327.81 65.01)" />
<ellipse cx="324.02" cy="76.15" rx="2.73" ry="3.02" fill="#9a6a3a" transform="rotate(87.58221117368541 324.02 76.15)" />
<ellipse cx="341.53" cy="56.00" rx="4.20" ry="2.51" fill="#a0703e" transform="rotate(173.47549495089953 341.53 56.00)" />
<ellipse cx="338.74" cy="86.72" rx="3.77" ry="2.53" fill="#b08050" transform="rotate(104.10418855974078 338.74 86.72)" />
<ellipse cx="329.21" cy="75.52" rx="3.73" ry="2.66" fill="#b08050" transform="rotate(139.12191819370983 329.21 75.52)" />
<ellipse cx="320.22" cy="95.68" rx="3.02" ry="2.53" fill="#946636" transform="rotate(107.01933868861452 320.22 95.68)" />
<ellipse cx="338.78" cy="62.86" rx="4.09" ry="2.98" fill="#9a6a3a" transform="rotate(30.688452189780683 338.78 62.86)" />
<ellipse cx="329.71" cy="106.03" rx="3.37" ry="2.19" fill="#946636" transform="rotate(125.41457276081796 329.71 106.03)" />
<ellipse cx="333.98" cy="60.08" rx="4.24" ry="3.06" fill="#946636" transform="rotate(89.37215028185176 333.98 60.08)" />
<ellipse cx="334.78" cy="108.77" rx="4.37" ry="1.93" fill="#946636" transform="rotate(18.619288634202494 334.78 108.77)" />
<ellipse cx="345.79" cy="100.08" rx="3.06" ry="2.83" fill="#946636" transform="rotate(51.12479002336948 345.79 100.08)" />
<ellipse cx="320.48" cy="109.61" rx="3.38" ry="1.99" fill="#946636" transform="rotate(1.0104258504583985 320.48 109.61)" />
<ellipse cx="333.00" cy="94.72" rx="4.16" ry="2.60" fill="#946636" transform="rotate(5.635451421847089 333.00 94.72)" />
<ellipse cx="338.18" cy="83.69" rx="4.25" ry="1.93" fill="#9a6a3a" transform="rotate(77.82205275547902 338.18 83.69)" />
<ellipse cx="324.67" cy="109.99" rx="3.70" ry="3.00" fill="#b08050" transform="rotate(7.773560968447837 324.67 109.99)" />
<rect x="306.60" y="49.60" width="8.40" height="64.00" fill="#2a2420" stroke="none" stroke-width="1" opacity="0.8"/>
<line x1="306.60" y1="50.40" x2="315.00" y2="50.40" stroke="#a09a90" stroke-width="0.8" opacity="0.85"/>
<line x1="306.60" y1="52.80" x2="315.00" y2="52.80" stroke="#a09a90" stroke-width="0.8" opacity="0.85"/>
<line x1="306.60" y1="55.20" x2="315.00" y2="55.20" stroke="#a09a90" stroke-width="0.8" opacity="0.85"/>
<line x1="306.60" y1="57.60" x2="315.00" y2="57.60" stroke="#a09a90" stroke-width="0.8" opacity="0.85"/>
<line x1="306.60" y1="60.00" x2="315.00" y2="60.00" stroke="#a09a90" stroke-width="0.8" opacity="0.85"/>
<line x1="306.60" y1="62.40" x2="315.00" y2="62.40" stroke="#a09a90" stroke-width="0.8" opacity="0.85"/>
<line x1="306.60" y1="64.80" x2="315.00" y2="64.80" stroke="#a09a90" stroke-width="0.8" opacity="0.85"/>
<line x1="306.60" y1="67.20" x2="315.00" y2="67.20" stroke="#a09a90" stroke-width="0.8" opacity="0.85"/>
<line x1="306.60" y1="69.60" x2="315.00" y2="69.60" stroke="#a09a90" stroke-width="0.8" opacity="0.85"/>
<line x1="306.60" y1="72.00" x2="315.00" y2="72.00" stroke="#a09a90" stroke-width="0.8" opacity="0.85"/>
<line x1="306.60" y1="74.40" x2="315.00" y2="74.40" stroke="#a09a90" stroke-width="0.8" opacity="0.85"/>
<line x1="306.60" y1="76.80" x2="315.00" y2="76.80" stroke="#a09a90" stroke-width="0.8" opacity="0.85"/>
<line x1="306.60" y1="79.20" x2="315.00" y2="79.20" stroke="#a09a90" stroke-width="0.8" opacity="0.85"/>
<line x1="306.60" y1="81.60" x2="315.00" y2="81.60" stroke="#a09a90" stroke-width="0.8" opacity="0.85"/>
<line x1="306.60" y1="84.00" x2="315.00" y2="84.00" stroke="#a09a90" stroke-width="0.8" opacity="0.85"/>
<line x1="306.60" y1="86.40" x2="315.00" y2="86.40" stroke="#a09a90" stroke-width="0.8" opacity="0.85"/>
<line x1="306.60" y1="88.80" x2="315.00" y2="88.80" stroke="#a09a90" stroke-width="0.8" opacity="0.85"/>
<line x1="306.60" y1="91.20" x2="315.00" y2="91.20" stroke="#a09a90" stroke-width="0.8" opacity="0.85"/>
<line x1="306.60" y1="93.60" x2="315.00" y2="93.60" stroke="#a09a90" stroke-width="0.8" opacity="0.85"/>
<line x1="306.60" y1="96.00" x2="315.00" y2="96.00" stroke="#a09a90" stroke-width="0.8" opacity="0.85"/>
<line x1="306.60" y1="98.40" x2="315.00" y2="98.40" stroke="#a09a90" stroke-width="0.8" opacity="0.85"/>
<line x1="306.60" y1="100.80" x2="315.00" y2="100.80" stroke="#a09a90" stroke-width="0.8" opacity="0.85"/>
<line x1="306.60" y1="103.20" x2="315.00" y2="103.20" stroke="#a09a90" stroke-width="0.8" opacity="0.85"/>
<line x1="306.60" y1="105.60" x2="315.00" y2="105.60" stroke="#a09a90" stroke-width="0.8" opacity="0.85"/>
<line x1="306.60" y1="108.00" x2="315.00" y2="108.00" stroke="#a09a90" stroke-width="0.8" opacity="0.85"/>
<line x1="306.60" y1="110.40" x2="315.00" y2="110.40" stroke="#a09a90" stroke-width="0.8" opacity="0.85"/>
<line x1="306.60" y1="112.80" x2="315.00" y2="112.80" stroke="#a09a90" stroke-width="0.8" opacity="0.85"/>
<line x1="309.10" y1="49.60" x2="309.10" y2="113.60" stroke="#b0aca4" stroke-width="0.9" />
<line x1="315.10" y1="49.60" x2="315.10" y2="113.60" stroke="#b0aca4" stroke-width="0.9" />
<path d="M330,64 C333,70 330,74 327,78" stroke="#d8a8b8" stroke-width="1" fill="none"/>
<path d="M318,90 C314,94 312,98 310,100" stroke="#d8a8b8" stroke-width="1" fill="none"/>
<ellipse cx="320.70" cy="59.20" rx="11.31" ry="7.47" fill="#1e1a16" transform="rotate(16 320.70 59.20)" opacity="0.5"/>
<ellipse cx="331.00" cy="63.20" rx="4.15" ry="3.52" fill="#1e1a16" transform="rotate(30 331.00 63.20)" opacity="0.5"/>
<ellipse cx="317.00" cy="78.90" rx="6.82" ry="13.40" fill="#1e1a16" transform="rotate(48 317.00 78.90)" opacity="0.5"/>
<ellipse cx="336.00" cy="91.20" rx="7.68" ry="19.64" fill="#1e1a16" transform="rotate(-32 336.00 91.20)" opacity="0.5"/>
<ellipse cx="343.50" cy="104.70" rx="4.15" ry="4.56" fill="#1e1a16" transform="rotate(-32 343.50 104.70)" opacity="0.5"/>
<ellipse cx="324.10" cy="94.20" rx="12.71" ry="7.16" fill="#1e1a16" transform="rotate(8 324.10 94.20)" opacity="0.5"/>
<ellipse cx="323.50" cy="103.20" rx="12.17" ry="6.64" fill="#1e1a16" opacity="0.5"/>
<ellipse cx="320.20" cy="58.50" rx="10.91" ry="7.07" fill="url(#mouseg)" transform="rotate(16 320.20 58.50)" />
<ellipse cx="330.50" cy="62.50" rx="3.75" ry="3.12" fill="url(#mouseg)" transform="rotate(30 330.50 62.50)" />
<ellipse cx="316.50" cy="78.20" rx="6.42" ry="13.00" fill="url(#mouseg)" transform="rotate(48 316.50 78.20)" />
<ellipse cx="335.50" cy="90.50" rx="7.28" ry="19.24" fill="url(#mouseg)" transform="rotate(-32 335.50 90.50)" />
<ellipse cx="343.00" cy="104.00" rx="3.75" ry="4.16" fill="url(#mouseg)" transform="rotate(-32 343.00 104.00)" />
<ellipse cx="323.60" cy="93.50" rx="12.31" ry="6.76" fill="url(#mouseg)" transform="rotate(8 323.60 93.50)" />
<ellipse cx="323.00" cy="102.50" rx="11.77" ry="6.24" fill="url(#mouseg)" />
<ellipse cx="328.80" cy="61.00" rx="1.40" ry="1.20" fill="#e89aa8" opacity="0.9"/>
<ellipse cx="342.00" cy="100.00" rx="1.30" ry="1.30" fill="#e89aa8" opacity="0.9"/>
<ellipse cx="345.00" cy="106.00" rx="1.40" ry="1.20" fill="#e89aa8" opacity="0.9"/>
<ellipse cx="323.00" cy="98.00" rx="3.50" ry="1.50" fill="#d0a0b8" opacity="0.7"/>
<ellipse cx="320.00" cy="104.00" rx="1.20" ry="1.20" fill="#e89aa8" opacity="0.9"/>
<ellipse cx="314.00" cy="101.00" rx="1.00" ry="1.00" fill="#e89aa8" opacity="0.8"/>
<ellipse cx="331.00" cy="100.00" rx="1.20" ry="1.00" fill="#e89aa8" opacity="0.8"/>
<ellipse cx="324.00" cy="106.00" rx="2.00" ry="1.20" fill="#a86890" opacity="0.7"/>
<ellipse cx="312.00" cy="92.00" rx="1.00" ry="1.00" fill="#e89aa8" opacity="0.8"/>
</g>
<rect x="306.60" y="110.20" width="41.30" height="3.40" fill="#7ab070" stroke="none" stroke-width="1" />
<rect x="345.80" y="49.60" width="2.10" height="64.00" fill="#7ab070" stroke="none" stroke-width="1" />
</g>
<text x="353.30" y="15.00" font-size="11.2" text-anchor="start" font-weight="bold" fill="#000" >C</text>
<rect x="378.80" y="111.11" width="12.20" height="2.19" fill="#9fd89f" stroke="none" stroke-width="1" />
<rect x="398.20" y="66.82" width="12.00" height="46.48" fill="#e28496" stroke="#d46b80" stroke-width="0.5" />
<rect x="417.00" y="103.34" width="12.20" height="9.96" fill="#87a5c3" stroke="#6f8fb0" stroke-width="0.5" />
<line x1="384.90" y1="111.11" x2="384.90" y2="107.66" stroke="#333" stroke-width="1" />
<line x1="382.40" y1="107.66" x2="387.40" y2="107.66" stroke="#333" stroke-width="1" />
<line x1="404.20" y1="66.82" x2="404.20" y2="55.20" stroke="#333" stroke-width="1" />
<line x1="401.70" y1="55.20" x2="406.70" y2="55.20" stroke="#333" stroke-width="1" />
<line x1="423.10" y1="103.34" x2="423.10" y2="97.36" stroke="#333" stroke-width="1" />
<line x1="420.60" y1="97.36" x2="425.60" y2="97.36" stroke="#333" stroke-width="1" />
<line x1="376.10" y1="43.10" x2="376.10" y2="113.80" stroke="#111" stroke-width="1.1" />
<line x1="375.60" y1="113.30" x2="433.60" y2="113.30" stroke="#111" stroke-width="1.1" />
<line x1="373.60" y1="113.30" x2="376.10" y2="113.30" stroke="#111" stroke-width="0.9" />
<text x="372.10" y="115.90" font-size="7.3" text-anchor="end" font-weight="normal" fill="#111" >0</text>
<line x1="373.60" y1="100.02" x2="376.10" y2="100.02" stroke="#111" stroke-width="0.9" />
<text x="372.10" y="102.62" font-size="7.3" text-anchor="end" font-weight="normal" fill="#111" >2</text>
<line x1="373.60" y1="86.74" x2="376.10" y2="86.74" stroke="#111" stroke-width="0.9" />
<text x="372.10" y="89.34" font-size="7.3" text-anchor="end" font-weight="normal" fill="#111" >4</text>
<line x1="373.60" y1="73.46" x2="376.10" y2="73.46" stroke="#111" stroke-width="0.9" />
<text x="372.10" y="76.06" font-size="7.3" text-anchor="end" font-weight="normal" fill="#111" >6</text>
<line x1="373.60" y1="60.18" x2="376.10" y2="60.18" stroke="#111" stroke-width="0.9" />
<text x="372.10" y="62.78" font-size="7.3" text-anchor="end" font-weight="normal" fill="#111" >8</text>
<line x1="373.60" y1="46.90" x2="376.10" y2="46.90" stroke="#111" stroke-width="0.9" />
<text x="372.10" y="49.50" font-size="7.3" text-anchor="end" font-weight="normal" fill="#111" >10</text>
<text x="361.30" y="80.70" font-size="9" text-anchor="middle" textLength="44.5" lengthAdjust="spacingAndGlyphs" fill="#111" stroke="#111" stroke-width="0.32" transform="rotate(-90 361.30 80.70)">Pathology score</text>
<circle cx="382.50" cy="106.66" r="1.7" fill="#3db54a"/>
<circle cx="382.50" cy="113.30" r="1.7" fill="#3db54a"/>
<circle cx="388.00" cy="113.30" r="1.7" fill="#3db54a"/>
<rect x="399.20" y="44.80" width="4.20" height="4.20" fill="#c8102e" stroke="none" stroke-width="1" />
<rect x="404.90" y="44.80" width="4.20" height="4.20" fill="#c8102e" stroke="none" stroke-width="1" />
<rect x="402.10" y="78.00" width="4.20" height="4.20" fill="#c8102e" stroke="none" stroke-width="1" />
<rect x="402.10" y="91.28" width="4.20" height="4.20" fill="#c8102e" stroke="none" stroke-width="1" />
<polygon points="417.40,95.56 422.00,95.56 419.70,91.19" fill="#1c5590"/>
<polygon points="423.40,95.56 428.00,95.56 425.70,91.19" fill="#1c5590"/>
<polygon points="417.40,114.16 422.00,114.16 419.70,109.79" fill="#1c5590"/>
<polygon points="423.40,114.16 428.00,114.16 425.70,109.79" fill="#1c5590"/>
<text x="424.20" y="81.20" font-size="8" text-anchor="middle" font-weight="bold" fill="#111" >*</text>
<text x="385.5" y="121" font-size="7.6" text-anchor="end" transform="rotate(-45 385.5 121)" fill="#111">BM</text>
<text x="404.8" y="121" font-size="7.6" text-anchor="end" transform="rotate(-45 404.8 121)" fill="#111">PBS</text>
<text x="423.3" y="120.5" font-size="7.6" text-anchor="end" textLength="38" lengthAdjust="spacingAndGlyphs" transform="rotate(-45 423.3 120.5)" fill="#111">Anti-miR-31</text>
<text x="437.70" y="15.00" font-size="11.2" text-anchor="start" font-weight="bold" fill="#000" >D</text>
<defs><filter id="hblur" x="-5%" y="-5%" width="110%" height="110%"><feGaussianBlur stdDeviation="0.35"/></filter></defs>
<clipPath id="dtop"><rect x="438" y="28.4" width="66" height="56.3"/></clipPath>
<clipPath id="dbot"><rect x="438" y="84.7" width="66" height="57.5"/></clipPath>
<g clip-path="url(#dtop)"><g filter="url(#hblur)">
<rect x="437.00" y="27.40" width="68.00" height="58.00" fill="#d2e5ec" stroke="none" stroke-width="1" />
<path d="M438.0,58.3 L456.2,59.6 L476.4,65.0 L492.5,71.8 L504.0,74.5 L504.0,84.7 L470.0,84.7 L438.0,72.0Z" fill="#e2e6f2" stroke="none" stroke-width="1" />
<ellipse cx="479.11" cy="77.88" rx="2.15" ry="0.97" fill="#a8b8e0" transform="rotate(15.435078424254222 479.11 77.88)" opacity="0.8"/>
<ellipse cx="468.73" cy="83.20" rx="1.90" ry="0.94" fill="#e05090" transform="rotate(20.576900333434608 468.73 83.20)" opacity="0.8"/>
<ellipse cx="444.73" cy="64.88" rx="2.04" ry="0.64" fill="#c8b0dc" transform="rotate(28.74518057712828 444.73 64.88)" opacity="0.8"/>
<ellipse cx="451.82" cy="63.99" rx="2.47" ry="0.92" fill="#b0a0d0" transform="rotate(19.704770516024304 451.82 63.99)" opacity="0.8"/>
<ellipse cx="439.42" cy="69.25" rx="2.39" ry="0.56" fill="#b0a0d0" transform="rotate(19.520386511541936 439.42 69.25)" opacity="0.8"/>
<ellipse cx="458.46" cy="79.91" rx="1.62" ry="0.59" fill="#f4f4fa" transform="rotate(22.088075247183717 458.46 79.91)" opacity="0.8"/>
<ellipse cx="449.62" cy="65.06" rx="2.40" ry="0.97" fill="#b0a0d0" transform="rotate(27.673213340821945 449.62 65.06)" opacity="0.8"/>
<ellipse cx="462.17" cy="73.57" rx="0.82" ry="0.43" fill="#c8b0dc" transform="rotate(24.355695466158526 462.17 73.57)" opacity="0.8"/>
<ellipse cx="468.51" cy="71.83" rx="2.32" ry="0.55" fill="#f4f4fa" transform="rotate(16.620793035972493 468.51 71.83)" opacity="0.8"/>
<ellipse cx="487.39" cy="79.35" rx="2.26" ry="0.42" fill="#e05090" transform="rotate(18.127250895731954 487.39 79.35)" opacity="0.8"/>
<ellipse cx="471.85" cy="67.87" rx="1.05" ry="0.57" fill="#a8b8e0" transform="rotate(16.3811001903322 471.85 67.87)" opacity="0.8"/>
<ellipse cx="490.72" cy="74.85" rx="2.03" ry="0.59" fill="#f4f4fa" transform="rotate(17.422941966369244 490.72 74.85)" opacity="0.8"/>
<ellipse cx="473.21" cy="69.02" rx="1.20" ry="0.76" fill="#b0a0d0" transform="rotate(21.834976522359973 473.21 69.02)" opacity="0.8"/>
<ellipse cx="470.58" cy="80.43" rx="1.02" ry="0.84" fill="#c8b0dc" transform="rotate(24.455989401395918 470.58 80.43)" opacity="0.8"/>
<ellipse cx="494.25" cy="84.07" rx="1.57" ry="0.69" fill="#b0a0d0" transform="rotate(22.185636752177274 494.25 84.07)" opacity="0.8"/>
<ellipse cx="457.21" cy="68.96" rx="1.05" ry="0.63" fill="#a8b8e0" transform="rotate(29.39723825224447 457.21 68.96)" opacity="0.8"/>
<ellipse cx="479.38" cy="71.48" rx="1.38" ry="0.45" fill="#b0a0d0" transform="rotate(22.727683087663983 479.38 71.48)" opacity="0.8"/>
<ellipse cx="474.17" cy="71.57" rx="0.91" ry="0.88" fill="#b0a0d0" transform="rotate(25.418951241763416 474.17 71.57)" opacity="0.8"/>
<ellipse cx="481.83" cy="78.35" rx="1.42" ry="0.82" fill="#b0a0d0" transform="rotate(27.528487274686086 481.83 78.35)" opacity="0.8"/>
<ellipse cx="485.26" cy="83.56" rx="1.38" ry="0.51" fill="#e05090" transform="rotate(22.114557684994217 485.26 83.56)" opacity="0.8"/>
<ellipse cx="456.06" cy="65.93" rx="1.65" ry="0.80" fill="#b0a0d0" transform="rotate(20.2182676204155 456.06 65.93)" opacity="0.8"/>
<ellipse cx="480.51" cy="77.78" rx="2.21" ry="0.61" fill="#c8b0dc" transform="rotate(28.048668786917418 480.51 77.78)" opacity="0.8"/>
<ellipse cx="483.43" cy="84.07" rx="2.43" ry="0.71" fill="#a8b8e0" transform="rotate(29.703072328065254 483.43 84.07)" opacity="0.8"/>
<ellipse cx="451.11" cy="67.86" rx="2.25" ry="0.57" fill="#e05090" transform="rotate(25.795297138861375 451.11 67.86)" opacity="0.8"/>
<ellipse cx="489.50" cy="73.63" rx="1.93" ry="0.65" fill="#a8b8e0" transform="rotate(23.298117306981766 489.50 73.63)" opacity="0.8"/>
<ellipse cx="476.71" cy="74.78" rx="1.11" ry="0.86" fill="#c8b0dc" transform="rotate(24.46297743005257 476.71 74.78)" opacity="0.8"/>
<ellipse cx="440.76" cy="70.75" rx="1.18" ry="0.43" fill="#c8b0dc" transform="rotate(16.662432512344886 440.76 70.75)" opacity="0.8"/>
<ellipse cx="474.19" cy="69.27" rx="1.40" ry="0.80" fill="#e05090" transform="rotate(23.852466032396954 474.19 69.27)" opacity="0.8"/>
<ellipse cx="438.04" cy="69.00" rx="1.27" ry="0.65" fill="#e05090" transform="rotate(25.332830231417347 438.04 69.00)" opacity="0.8"/>
<ellipse cx="474.12" cy="83.76" rx="1.73" ry="0.58" fill="#b0a0d0" transform="rotate(23.178312947524454 474.12 83.76)" opacity="0.8"/>
<ellipse cx="460.40" cy="73.64" rx="2.43" ry="0.89" fill="#f4f4fa" transform="rotate(21.138641887864825 460.40 73.64)" opacity="0.8"/>
<ellipse cx="475.22" cy="72.51" rx="1.59" ry="0.49" fill="#f4f4fa" transform="rotate(23.457887076999764 475.22 72.51)" opacity="0.8"/>
<ellipse cx="501.18" cy="83.86" rx="1.83" ry="0.61" fill="#e05090" transform="rotate(20.727807295462302 501.18 83.86)" opacity="0.8"/>
<ellipse cx="473.60" cy="66.89" rx="2.29" ry="0.74" fill="#f4f4fa" transform="rotate(21.475256902353514 473.60 66.89)" opacity="0.8"/>
<ellipse cx="452.94" cy="66.00" rx="2.45" ry="0.63" fill="#c8b0dc" transform="rotate(23.937149673024248 452.94 66.00)" opacity="0.8"/>
<ellipse cx="470.76" cy="69.27" rx="1.34" ry="0.99" fill="#f4f4fa" transform="rotate(28.943168105900103 470.76 69.27)" opacity="0.8"/>
<ellipse cx="481.56" cy="83.67" rx="1.22" ry="0.42" fill="#c8b0dc" transform="rotate(27.402079559012 481.56 83.67)" opacity="0.8"/>
<ellipse cx="455.67" cy="62.39" rx="2.48" ry="0.58" fill="#a8b8e0" transform="rotate(29.887249485548374 455.67 62.39)" opacity="0.8"/>
<ellipse cx="472.20" cy="81.10" rx="2.30" ry="0.94" fill="#e05090" transform="rotate(26.405980191308892 472.20 81.10)" opacity="0.8"/>
<ellipse cx="457.85" cy="72.38" rx="1.37" ry="0.58" fill="#a8b8e0" transform="rotate(15.399237476028883 457.85 72.38)" opacity="0.8"/>
<ellipse cx="461.08" cy="76.30" rx="2.18" ry="0.48" fill="#e05090" transform="rotate(18.786344217497284 461.08 76.30)" opacity="0.8"/>
<ellipse cx="468.07" cy="82.50" rx="2.31" ry="0.73" fill="#e05090" transform="rotate(21.445058000652043 468.07 82.50)" opacity="0.8"/>
<ellipse cx="491.30" cy="74.01" rx="1.97" ry="0.97" fill="#f4f4fa" transform="rotate(27.880393256811274 491.30 74.01)" opacity="0.8"/>
<ellipse cx="483.03" cy="77.30" rx="2.33" ry="0.68" fill="#e05090" transform="rotate(19.55475198137894 483.03 77.30)" opacity="0.8"/>
<ellipse cx="476.42" cy="75.42" rx="1.60" ry="0.59" fill="#c8b0dc" transform="rotate(22.176189165029612 476.42 75.42)" opacity="0.8"/>
<ellipse cx="474.24" cy="71.44" rx="1.36" ry="0.49" fill="#a8b8e0" transform="rotate(23.1210934160452 474.24 71.44)" opacity="0.8"/>
<ellipse cx="455.64" cy="60.55" rx="0.91" ry="0.97" fill="#b0a0d0" transform="rotate(25.838978785574753 455.64 60.55)" opacity="0.8"/>
<ellipse cx="502.59" cy="84.66" rx="1.99" ry="0.43" fill="#e05090" transform="rotate(18.288481639462205 502.59 84.66)" opacity="0.8"/>
<ellipse cx="480.62" cy="83.44" rx="2.01" ry="0.48" fill="#b0a0d0" transform="rotate(25.586608788147323 480.62 83.44)" opacity="0.8"/>
<ellipse cx="466.91" cy="63.13" rx="1.11" ry="0.88" fill="#e05090" transform="rotate(24.336075694837287 466.91 63.13)" opacity="0.8"/>
<ellipse cx="440.88" cy="61.16" rx="1.44" ry="0.44" fill="#e05090" transform="rotate(23.566549968934325 440.88 61.16)" opacity="0.8"/>
<ellipse cx="445.81" cy="68.82" rx="1.86" ry="0.41" fill="#e05090" transform="rotate(19.718544299022454 445.81 68.82)" opacity="0.8"/>
<ellipse cx="477.61" cy="71.22" rx="2.40" ry="0.62" fill="#e05090" transform="rotate(17.073485556687743 477.61 71.22)" opacity="0.8"/>
<ellipse cx="457.45" cy="73.31" rx="1.95" ry="0.57" fill="#a8b8e0" transform="rotate(23.24825457716858 457.45 73.31)" opacity="0.8"/>
<ellipse cx="452.56" cy="59.97" rx="1.20" ry="0.90" fill="#b0a0d0" transform="rotate(22.754935582179908 452.56 59.97)" opacity="0.8"/>
<ellipse cx="446.83" cy="64.49" rx="1.43" ry="0.84" fill="#c8b0dc" transform="rotate(16.967742150272763 446.83 64.49)" opacity="0.8"/>
<ellipse cx="439.23" cy="67.32" rx="1.77" ry="0.42" fill="#e05090" transform="rotate(22.597005619925362 439.23 67.32)" opacity="0.8"/>
<ellipse cx="467.93" cy="68.59" rx="1.59" ry="0.98" fill="#e05090" transform="rotate(26.946953743402197 467.93 68.59)" opacity="0.8"/>
<ellipse cx="441.54" cy="62.28" rx="2.42" ry="0.81" fill="#c8b0dc" transform="rotate(26.244113122978558 441.54 62.28)" opacity="0.8"/>
<ellipse cx="470.44" cy="63.88" rx="1.99" ry="0.63" fill="#c8b0dc" transform="rotate(19.347031712524412 470.44 63.88)" opacity="0.8"/>
<ellipse cx="499.42" cy="76.92" rx="2.15" ry="0.63" fill="#b0a0d0" transform="rotate(24.71834547399498 499.42 76.92)" opacity="0.8"/>
<ellipse cx="477.11" cy="73.43" rx="2.06" ry="0.64" fill="#e05090" transform="rotate(15.556533116828529 477.11 73.43)" opacity="0.8"/>
<ellipse cx="450.30" cy="63.46" rx="1.63" ry="0.96" fill="#b0a0d0" transform="rotate(15.006594482100123 450.30 63.46)" opacity="0.8"/>
<ellipse cx="469.03" cy="81.79" rx="1.85" ry="0.66" fill="#f4f4fa" transform="rotate(21.928469661595127 469.03 81.79)" opacity="0.8"/>
<ellipse cx="450.65" cy="75.55" rx="0.92" ry="0.92" fill="#f4f4fa" transform="rotate(17.281708779044045 450.65 75.55)" opacity="0.8"/>
<ellipse cx="454.77" cy="65.62" rx="1.07" ry="0.57" fill="#c8b0dc" transform="rotate(15.497295910347543 454.77 65.62)" opacity="0.8"/>
<ellipse cx="441.89" cy="58.87" rx="1.58" ry="0.91" fill="#c8b0dc" transform="rotate(16.768699338885032 441.89 58.87)" opacity="0.8"/>
<ellipse cx="482.51" cy="77.55" rx="1.08" ry="0.52" fill="#e05090" transform="rotate(23.62080118400668 482.51 77.55)" opacity="0.8"/>
<ellipse cx="481.33" cy="74.60" rx="2.35" ry="0.82" fill="#b0a0d0" transform="rotate(17.767143227313117 481.33 74.60)" opacity="0.8"/>
<ellipse cx="451.78" cy="59.46" rx="1.83" ry="0.84" fill="#b0a0d0" transform="rotate(15.094090267484743 451.78 59.46)" opacity="0.8"/>
<path d="M438,68 L458,72 L480,78 L504,84.7 L438,84.7Z" fill="#dbe6ee" stroke="none" stroke-width="1" />
<path d="M438,68 L458,72 L480,78 L504,84.7" fill="none" stroke="#c8a0c8" stroke-width="0.8" />
<path d="M438.0,30.5 L444.0,33.0 L449.5,37.5 L456.0,39.0 L463.0,41.5 L470.0,43.0 L476.4,45.7 L483.0,48.0 L489.8,51.7 L496.0,53.0 L504.0,54.5 L504.0,74.5 L492.5,71.8 L484.0,68.0 L476.4,65.0 L466.0,62.0 L456.2,59.6 L446.0,58.8 L438.0,58.3Z" fill="#3264c2" stroke="none" stroke-width="1" />
<ellipse cx="472.25" cy="45.90" rx="0.97" ry="0.46" fill="#c8d8f0" transform="rotate(3.67786643974072 472.25 45.90)" opacity="0.85"/>
<ellipse cx="469.10" cy="60.54" rx="1.96" ry="0.80" fill="#1f4fb0" transform="rotate(1.9160426424235233 469.10 60.54)" opacity="0.85"/>
<ellipse cx="483.92" cy="58.68" rx="1.14" ry="0.59" fill="#5a4aa8" transform="rotate(31.631963285201913 483.92 58.68)" opacity="0.85"/>
<ellipse cx="486.19" cy="58.00" rx="1.59" ry="0.69" fill="#8aa8e0" transform="rotate(22.85688154939411 486.19 58.00)" opacity="0.85"/>
<ellipse cx="462.86" cy="58.00" rx="2.11" ry="1.13" fill="#2448a0" transform="rotate(27.544211581063852 462.86 58.00)" opacity="0.85"/>
<ellipse cx="455.39" cy="48.21" rx="1.04" ry="0.83" fill="#c8d8f0" transform="rotate(9.793982117525925 455.39 48.21)" opacity="0.85"/>
<ellipse cx="443.57" cy="49.36" rx="1.84" ry="0.60" fill="#1f4fb0" transform="rotate(19.70641097444367 443.57 49.36)" opacity="0.85"/>
<ellipse cx="490.55" cy="69.34" rx="2.39" ry="0.46" fill="#5a4aa8" transform="rotate(15.19457601079857 490.55 69.34)" opacity="0.85"/>
<ellipse cx="441.12" cy="49.31" rx="0.99" ry="1.04" fill="#3f70c8" transform="rotate(12.851124127486013 441.12 49.31)" opacity="0.85"/>
<ellipse cx="470.85" cy="44.72" rx="0.86" ry="0.83" fill="#1f4fb0" transform="rotate(1.0988912348932756 470.85 44.72)" opacity="0.85"/>
<ellipse cx="441.34" cy="36.23" rx="1.44" ry="1.09" fill="#1f4fb0" transform="rotate(9.243885733913682 441.34 36.23)" opacity="0.85"/>
<ellipse cx="466.31" cy="46.45" rx="1.39" ry="0.41" fill="#3f70c8" transform="rotate(29.073326284568502 466.31 46.45)" opacity="0.85"/>
<ellipse cx="444.29" cy="53.83" rx="1.11" ry="0.97" fill="#c8d8f0" transform="rotate(30.58734504536914 444.29 53.83)" opacity="0.85"/>
<ellipse cx="466.68" cy="49.40" rx="1.40" ry="0.76" fill="#5a86d4" transform="rotate(18.439884959526914 466.68 49.40)" opacity="0.85"/>
<ellipse cx="466.65" cy="49.92" rx="2.18" ry="1.15" fill="#c8d8f0" transform="rotate(38.78660872323019 466.65 49.92)" opacity="0.85"/>
<ellipse cx="440.17" cy="55.89" rx="1.67" ry="1.11" fill="#8aa8e0" transform="rotate(18.567599718457398 440.17 55.89)" opacity="0.85"/>
<ellipse cx="458.01" cy="53.20" rx="2.18" ry="1.03" fill="#5a4aa8" transform="rotate(14.070835652601993 458.01 53.20)" opacity="0.85"/>
<ellipse cx="493.45" cy="67.89" rx="1.91" ry="0.72" fill="#3f70c8" transform="rotate(5.713046440982521 493.45 67.89)" opacity="0.85"/>
<ellipse cx="453.73" cy="47.29" rx="0.97" ry="0.72" fill="#2448a0" transform="rotate(36.00726751115148 453.73 47.29)" opacity="0.85"/>
<ellipse cx="494.97" cy="57.92" rx="2.24" ry="0.70" fill="#1f4fb0" transform="rotate(4.141533229274672 494.97 57.92)" opacity="0.85"/>
<ellipse cx="477.95" cy="57.82" rx="2.26" ry="0.42" fill="#1f4fb0" transform="rotate(24.40964737894456 477.95 57.82)" opacity="0.85"/>
<ellipse cx="471.90" cy="52.55" rx="1.78" ry="0.95" fill="#c8d8f0" transform="rotate(39.29549538720085 471.90 52.55)" opacity="0.85"/>
<ellipse cx="491.82" cy="71.15" rx="2.05" ry="0.94" fill="#3f70c8" transform="rotate(31.947272544108472 491.82 71.15)" opacity="0.85"/>
<ellipse cx="461.94" cy="56.62" rx="2.02" ry="0.82" fill="#2448a0" transform="rotate(11.455810987278001 461.94 56.62)" opacity="0.85"/>
<ellipse cx="440.49" cy="34.39" rx="2.53" ry="0.64" fill="#5a4aa8" transform="rotate(27.506992757672663 440.49 34.39)" opacity="0.85"/>
<ellipse cx="493.32" cy="63.00" rx="1.90" ry="0.57" fill="#2a5ab8" transform="rotate(35.84523055585212 493.32 63.00)" opacity="0.85"/>
<ellipse cx="473.90" cy="47.81" rx="0.81" ry="0.71" fill="#3f70c8" transform="rotate(30.0320540824811 473.90 47.81)" opacity="0.85"/>
<ellipse cx="496.69" cy="60.79" rx="2.57" ry="0.60" fill="#2a5ab8" transform="rotate(8.508331863241514 496.69 60.79)" opacity="0.85"/>
<ellipse cx="458.17" cy="42.28" rx="1.92" ry="1.12" fill="#3f70c8" transform="rotate(3.066974768879258 458.17 42.28)" opacity="0.85"/>
<ellipse cx="481.29" cy="55.58" rx="1.93" ry="0.91" fill="#8aa8e0" transform="rotate(16.673958966363234 481.29 55.58)" opacity="0.85"/>
<ellipse cx="466.08" cy="53.77" rx="2.43" ry="0.64" fill="#2448a0" transform="rotate(3.3769853727127286 466.08 53.77)" opacity="0.85"/>
<ellipse cx="457.51" cy="54.92" rx="1.81" ry="0.75" fill="#5a4aa8" transform="rotate(23.7808463282327 457.51 54.92)" opacity="0.85"/>
<ellipse cx="480.66" cy="60.87" rx="2.11" ry="0.45" fill="#c8d8f0" transform="rotate(5.508314917872581 480.66 60.87)" opacity="0.85"/>
<ellipse cx="450.50" cy="51.09" rx="1.49" ry="1.12" fill="#c8d8f0" transform="rotate(33.59640660905732 450.50 51.09)" opacity="0.85"/>
<ellipse cx="445.37" cy="45.27" rx="1.46" ry="1.01" fill="#c8d8f0" transform="rotate(29.448649085389718 445.37 45.27)" opacity="0.85"/>
<ellipse cx="491.88" cy="65.86" rx="2.08" ry="1.14" fill="#2a5ab8" transform="rotate(14.613473446036025 491.88 65.86)" opacity="0.85"/>
<ellipse cx="438.22" cy="47.27" rx="1.42" ry="0.99" fill="#c8d8f0" transform="rotate(30.391710680011972 438.22 47.27)" opacity="0.85"/>
<ellipse cx="445.71" cy="51.58" rx="1.44" ry="0.99" fill="#5a4aa8" transform="rotate(15.283739012962542 445.71 51.58)" opacity="0.85"/>
<ellipse cx="457.18" cy="52.45" rx="2.05" ry="1.03" fill="#2a5ab8" transform="rotate(11.838787915737141 457.18 52.45)" opacity="0.85"/>
<ellipse cx="473.73" cy="47.50" rx="2.48" ry="0.47" fill="#5a4aa8" transform="rotate(5.160657707089196 473.73 47.50)" opacity="0.85"/>
<ellipse cx="439.41" cy="55.24" rx="2.52" ry="1.09" fill="#2a5ab8" transform="rotate(2.125068000410124 439.41 55.24)" opacity="0.85"/>
<ellipse cx="467.21" cy="51.26" rx="0.95" ry="0.62" fill="#c8d8f0" transform="rotate(20.31252563670222 467.21 51.26)" opacity="0.85"/>
<ellipse cx="441.50" cy="47.78" rx="2.20" ry="0.75" fill="#1f4fb0" transform="rotate(8.623864359801804 441.50 47.78)" opacity="0.85"/>
<ellipse cx="491.62" cy="66.74" rx="1.58" ry="1.12" fill="#1f4fb0" transform="rotate(39.9620121168061 491.62 66.74)" opacity="0.85"/>
<ellipse cx="487.91" cy="69.74" rx="1.07" ry="1.02" fill="#8aa8e0" transform="rotate(33.368305257585085 487.91 69.74)" opacity="0.85"/>
<ellipse cx="443.06" cy="46.76" rx="1.51" ry="0.55" fill="#3f70c8" transform="rotate(18.79348050457657 443.06 46.76)" opacity="0.85"/>
<ellipse cx="446.14" cy="37.95" rx="1.62" ry="0.46" fill="#8aa8e0" transform="rotate(1.436594098032411 446.14 37.95)" opacity="0.85"/>
<ellipse cx="480.78" cy="63.38" rx="1.69" ry="0.65" fill="#c8d8f0" transform="rotate(5.453412970351192 480.78 63.38)" opacity="0.85"/>
<ellipse cx="450.20" cy="49.38" rx="1.28" ry="1.00" fill="#5a4aa8" transform="rotate(13.365677230115466 450.20 49.38)" opacity="0.85"/>
<ellipse cx="452.16" cy="43.43" rx="2.41" ry="1.11" fill="#2a5ab8" transform="rotate(11.345697972471509 452.16 43.43)" opacity="0.85"/>
<ellipse cx="444.99" cy="48.07" rx="1.35" ry="1.13" fill="#c8d8f0" transform="rotate(38.63414611541988 444.99 48.07)" opacity="0.85"/>
<ellipse cx="453.90" cy="55.52" rx="1.27" ry="0.84" fill="#8aa8e0" transform="rotate(5.343938242650785 453.90 55.52)" opacity="0.85"/>
<ellipse cx="469.76" cy="61.55" rx="0.81" ry="1.02" fill="#8aa8e0" transform="rotate(9.296908528853368 469.76 61.55)" opacity="0.85"/>
<ellipse cx="496.35" cy="64.67" rx="1.80" ry="0.75" fill="#2a5ab8" transform="rotate(26.195080019063038 496.35 64.67)" opacity="0.85"/>
<ellipse cx="472.98" cy="61.88" rx="2.49" ry="1.16" fill="#8aa8e0" transform="rotate(12.070899858107943 472.98 61.88)" opacity="0.85"/>
<ellipse cx="443.11" cy="50.24" rx="2.13" ry="0.82" fill="#8aa8e0" transform="rotate(3.9384227766133995 443.11 50.24)" opacity="0.85"/>
<ellipse cx="462.62" cy="48.48" rx="1.62" ry="0.45" fill="#1f4fb0" transform="rotate(22.636726666899165 462.62 48.48)" opacity="0.85"/>
<ellipse cx="451.69" cy="50.47" rx="0.91" ry="0.47" fill="#5a4aa8" transform="rotate(35.40853921883942 451.69 50.47)" opacity="0.85"/>
<ellipse cx="462.70" cy="45.49" rx="2.27" ry="0.79" fill="#3f70c8" transform="rotate(29.64630667101325 462.70 45.49)" opacity="0.85"/>
<ellipse cx="479.30" cy="47.60" rx="1.93" ry="0.60" fill="#2448a0" transform="rotate(23.68069049016257 479.30 47.60)" opacity="0.85"/>
<ellipse cx="495.77" cy="70.77" rx="2.31" ry="0.88" fill="#1f4fb0" transform="rotate(36.06746576420377 495.77 70.77)" opacity="0.85"/>
<ellipse cx="468.09" cy="61.02" rx="1.90" ry="0.94" fill="#1f4fb0" transform="rotate(1.0400621857807524 468.09 61.02)" opacity="0.85"/>
<ellipse cx="465.15" cy="48.65" rx="1.76" ry="0.75" fill="#5a86d4" transform="rotate(21.456556304997576 465.15 48.65)" opacity="0.85"/>
<ellipse cx="483.95" cy="61.55" rx="2.09" ry="0.87" fill="#1f4fb0" transform="rotate(2.6733868467189525 483.95 61.55)" opacity="0.85"/>
<ellipse cx="468.38" cy="59.05" rx="2.41" ry="0.98" fill="#2a5ab8" transform="rotate(38.257202697729454 468.38 59.05)" opacity="0.85"/>
<ellipse cx="464.74" cy="43.93" rx="1.62" ry="0.64" fill="#5a4aa8" transform="rotate(20.630116956710044 464.74 43.93)" opacity="0.85"/>
<ellipse cx="448.26" cy="40.02" rx="1.27" ry="1.16" fill="#5a86d4" transform="rotate(18.304727401793933 448.26 40.02)" opacity="0.85"/>
<ellipse cx="480.23" cy="49.76" rx="1.73" ry="0.72" fill="#5a86d4" transform="rotate(5.552307044002336 480.23 49.76)" opacity="0.85"/>
<ellipse cx="470.42" cy="60.74" rx="1.60" ry="0.86" fill="#1f4fb0" transform="rotate(5.802320669249674 470.42 60.74)" opacity="0.85"/>
<ellipse cx="455.68" cy="52.23" rx="1.77" ry="1.12" fill="#5a86d4" transform="rotate(26.495269587071036 455.68 52.23)" opacity="0.85"/>
<ellipse cx="445.12" cy="41.90" rx="1.44" ry="1.11" fill="#2448a0" transform="rotate(19.467514344864934 445.12 41.90)" opacity="0.85"/>
<ellipse cx="491.68" cy="60.85" rx="1.00" ry="0.48" fill="#2448a0" transform="rotate(33.773573862252604 491.68 60.85)" opacity="0.85"/>
<ellipse cx="480.00" cy="62.36" rx="1.27" ry="0.73" fill="#5a4aa8" transform="rotate(35.29907855270084 480.00 62.36)" opacity="0.85"/>
<ellipse cx="458.59" cy="43.38" rx="1.41" ry="1.20" fill="#8aa8e0" transform="rotate(2.5086444813534747 458.59 43.38)" opacity="0.85"/>
<ellipse cx="500.27" cy="65.28" rx="2.41" ry="0.81" fill="#2a5ab8" transform="rotate(18.471019392057613 500.27 65.28)" opacity="0.85"/>
<ellipse cx="442.73" cy="49.06" rx="2.49" ry="0.83" fill="#2a5ab8" transform="rotate(27.265258285870036 442.73 49.06)" opacity="0.85"/>
<ellipse cx="459.34" cy="46.44" rx="0.94" ry="0.70" fill="#3f70c8" transform="rotate(30.74832089127309 459.34 46.44)" opacity="0.85"/>
<ellipse cx="445.58" cy="54.15" rx="0.95" ry="1.19" fill="#8aa8e0" transform="rotate(17.499054406546026 445.58 54.15)" opacity="0.85"/>
<ellipse cx="455.96" cy="54.74" rx="2.55" ry="0.74" fill="#5a86d4" transform="rotate(35.27718499739732 455.96 54.74)" opacity="0.85"/>
<ellipse cx="448.96" cy="58.16" rx="1.62" ry="0.72" fill="#2a5ab8" transform="rotate(5.3678508388865165 448.96 58.16)" opacity="0.85"/>
<ellipse cx="467.46" cy="57.76" rx="2.34" ry="0.53" fill="#c8d8f0" transform="rotate(4.208962112053087 467.46 57.76)" opacity="0.85"/>
<ellipse cx="477.05" cy="58.62" rx="1.68" ry="1.10" fill="#2448a0" transform="rotate(24.215328196821716 477.05 58.62)" opacity="0.85"/>
<ellipse cx="441.82" cy="43.20" rx="1.74" ry="0.64" fill="#5a4aa8" transform="rotate(39.05518852862652 441.82 43.20)" opacity="0.85"/>
<ellipse cx="487.96" cy="62.54" rx="0.80" ry="1.15" fill="#2448a0" transform="rotate(38.54307200105916 487.96 62.54)" opacity="0.85"/>
<ellipse cx="465.55" cy="42.91" rx="2.28" ry="0.87" fill="#c8d8f0" transform="rotate(13.593801234537167 465.55 42.91)" opacity="0.85"/>
<ellipse cx="486.30" cy="52.73" rx="2.08" ry="0.89" fill="#1f4fb0" transform="rotate(6.372365825451181 486.30 52.73)" opacity="0.85"/>
<ellipse cx="490.19" cy="64.45" rx="2.31" ry="0.43" fill="#1f4fb0" transform="rotate(19.143813839935405 490.19 64.45)" opacity="0.85"/>
<ellipse cx="445.89" cy="39.41" rx="2.55" ry="1.08" fill="#5a86d4" transform="rotate(26.637017079925812 445.89 39.41)" opacity="0.85"/>
<ellipse cx="451.53" cy="40.88" rx="0.92" ry="1.14" fill="#5a4aa8" transform="rotate(17.394603068288408 451.53 40.88)" opacity="0.85"/>
<ellipse cx="462.60" cy="56.76" rx="2.16" ry="0.76" fill="#1f4fb0" transform="rotate(35.67267783298461 462.60 56.76)" opacity="0.85"/>
<ellipse cx="466.10" cy="50.90" rx="1.14" ry="0.55" fill="#3f70c8" transform="rotate(18.323883083210205 466.10 50.90)" opacity="0.85"/>
<ellipse cx="469.46" cy="53.46" rx="0.84" ry="1.04" fill="#c8d8f0" transform="rotate(33.39255232169083 469.46 53.46)" opacity="0.85"/>
<ellipse cx="478.53" cy="62.00" rx="2.33" ry="0.89" fill="#1f4fb0" transform="rotate(26.05653014317578 478.53 62.00)" opacity="0.85"/>
<ellipse cx="467.30" cy="52.61" rx="2.54" ry="0.96" fill="#5a86d4" transform="rotate(4.00542751970526 467.30 52.61)" opacity="0.85"/>
<ellipse cx="466.29" cy="43.70" rx="2.11" ry="0.71" fill="#3f70c8" transform="rotate(30.87364135783803 466.29 43.70)" opacity="0.85"/>
<ellipse cx="445.55" cy="47.39" rx="1.14" ry="0.51" fill="#c8d8f0" transform="rotate(5.892845812056211 445.55 47.39)" opacity="0.85"/>
<ellipse cx="483.38" cy="67.39" rx="1.28" ry="0.47" fill="#5a86d4" transform="rotate(36.68593031839906 483.38 67.39)" opacity="0.85"/>
<ellipse cx="481.54" cy="59.46" rx="2.39" ry="0.97" fill="#c8d8f0" transform="rotate(29.30512910805738 481.54 59.46)" opacity="0.85"/>
<ellipse cx="451.37" cy="56.11" rx="2.09" ry="1.09" fill="#1f4fb0" transform="rotate(7.683231777300272 451.37 56.11)" opacity="0.85"/>
<ellipse cx="477.97" cy="46.45" rx="1.06" ry="0.63" fill="#1f4fb0" transform="rotate(21.76762287285396 477.97 46.45)" opacity="0.85"/>
<ellipse cx="487.03" cy="61.34" rx="1.64" ry="1.06" fill="#5a4aa8" transform="rotate(29.056790150541655 487.03 61.34)" opacity="0.85"/>
<ellipse cx="465.22" cy="47.80" rx="1.81" ry="1.18" fill="#1f4fb0" transform="rotate(9.184796357266233 465.22 47.80)" opacity="0.85"/>
<ellipse cx="442.68" cy="54.13" rx="1.20" ry="0.93" fill="#5a4aa8" transform="rotate(3.7724796179038345 442.68 54.13)" opacity="0.85"/>
<ellipse cx="471.87" cy="51.16" rx="1.60" ry="0.52" fill="#2448a0" transform="rotate(24.642370775197882 471.87 51.16)" opacity="0.85"/>
<ellipse cx="492.88" cy="56.46" rx="0.93" ry="0.70" fill="#8aa8e0" transform="rotate(3.8376984476246623 492.88 56.46)" opacity="0.85"/>
<ellipse cx="443.80" cy="45.57" rx="1.18" ry="0.95" fill="#c8d8f0" transform="rotate(13.000495761126828 443.80 45.57)" opacity="0.85"/>
<ellipse cx="492.79" cy="52.35" rx="0.86" ry="1.17" fill="#1f4fb0" transform="rotate(23.797104426646097 492.79 52.35)" opacity="0.85"/>
<ellipse cx="472.71" cy="53.09" rx="0.97" ry="0.81" fill="#c8d8f0" transform="rotate(16.51896257902407 472.71 53.09)" opacity="0.85"/>
<ellipse cx="442.18" cy="44.70" rx="0.87" ry="1.03" fill="#8aa8e0" transform="rotate(24.131816011581783 442.18 44.70)" opacity="0.85"/>
<ellipse cx="440.73" cy="35.29" rx="2.16" ry="1.12" fill="#2a5ab8" transform="rotate(36.890020096731476 440.73 35.29)" opacity="0.85"/>
<ellipse cx="457.46" cy="43.36" rx="1.58" ry="0.59" fill="#8aa8e0" transform="rotate(18.26222279565537 457.46 43.36)" opacity="0.85"/>
<ellipse cx="448.67" cy="45.12" rx="2.05" ry="0.81" fill="#8aa8e0" transform="rotate(33.66878016777101 448.67 45.12)" opacity="0.85"/>
<ellipse cx="449.71" cy="51.38" rx="1.38" ry="0.90" fill="#2a5ab8" transform="rotate(17.507312561650533 449.71 51.38)" opacity="0.85"/>
<ellipse cx="460.44" cy="58.12" rx="1.01" ry="0.72" fill="#c8d8f0" transform="rotate(39.879902382081156 460.44 58.12)" opacity="0.85"/>
<ellipse cx="486.00" cy="50.64" rx="1.30" ry="0.54" fill="#8aa8e0" transform="rotate(0.37991193887146224 486.00 50.64)" opacity="0.85"/>
<ellipse cx="445.81" cy="47.14" rx="1.15" ry="0.55" fill="#8aa8e0" transform="rotate(9.747657087814424 445.81 47.14)" opacity="0.85"/>
<ellipse cx="470.96" cy="56.06" rx="1.71" ry="1.12" fill="#2448a0" transform="rotate(3.9691252525842247 470.96 56.06)" opacity="0.85"/>
<ellipse cx="460.23" cy="45.80" rx="2.32" ry="0.41" fill="#5a86d4" transform="rotate(19.98089642318039 460.23 45.80)" opacity="0.85"/>
<ellipse cx="456.04" cy="53.65" rx="0.88" ry="0.58" fill="#5a4aa8" transform="rotate(31.52192333770973 456.04 53.65)" opacity="0.85"/>
<ellipse cx="452.59" cy="50.57" rx="0.86" ry="0.50" fill="#5a86d4" transform="rotate(4.34635340699292 452.59 50.57)" opacity="0.85"/>
<ellipse cx="497.33" cy="58.41" rx="2.19" ry="1.12" fill="#5a4aa8" transform="rotate(31.30589465415051 497.33 58.41)" opacity="0.85"/>
<ellipse cx="494.16" cy="62.60" rx="2.12" ry="1.13" fill="#5a86d4" transform="rotate(15.332567592005875 494.16 62.60)" opacity="0.85"/>
<ellipse cx="440.41" cy="41.94" rx="1.62" ry="0.50" fill="#2a5ab8" transform="rotate(36.9741136572651 440.41 41.94)" opacity="0.85"/>
<ellipse cx="459.10" cy="41.11" rx="1.91" ry="0.41" fill="#1f4fb0" transform="rotate(23.695588095893854 459.10 41.11)" opacity="0.85"/>
<ellipse cx="459.27" cy="47.78" rx="1.37" ry="0.91" fill="#2448a0" transform="rotate(18.120183691246005 459.27 47.78)" opacity="0.85"/>
<ellipse cx="483.25" cy="56.54" rx="1.16" ry="1.13" fill="#2448a0" transform="rotate(3.565274545079382 483.25 56.54)" opacity="0.85"/>
<ellipse cx="453.64" cy="47.35" rx="1.96" ry="0.57" fill="#3f70c8" transform="rotate(8.258580791858261 453.64 47.35)" opacity="0.85"/>
<ellipse cx="477.07" cy="61.52" rx="2.12" ry="0.79" fill="#c8d8f0" transform="rotate(25.16567477763292 477.07 61.52)" opacity="0.85"/>
<ellipse cx="450.32" cy="50.99" rx="1.78" ry="0.48" fill="#5a4aa8" transform="rotate(22.704757891639687 450.32 50.99)" opacity="0.85"/>
<ellipse cx="438.95" cy="31.11" rx="1.10" ry="0.53" fill="#2448a0" transform="rotate(15.157928251951835 438.95 31.11)" opacity="0.85"/>
<ellipse cx="493.32" cy="67.99" rx="1.89" ry="0.67" fill="#5a86d4" transform="rotate(17.845387026079354 493.32 67.99)" opacity="0.85"/>
<ellipse cx="439.37" cy="52.44" rx="1.33" ry="0.42" fill="#2448a0" transform="rotate(28.66460536761155 439.37 52.44)" opacity="0.85"/>
<ellipse cx="455.85" cy="58.65" rx="1.36" ry="0.49" fill="#5a86d4" transform="rotate(0.8330686699409906 455.85 58.65)" opacity="0.85"/>
<ellipse cx="453.10" cy="42.87" rx="2.41" ry="0.75" fill="#2448a0" transform="rotate(2.690633380469003 453.10 42.87)" opacity="0.85"/>
<ellipse cx="503.10" cy="71.81" rx="0.91" ry="1.19" fill="#8aa8e0" transform="rotate(24.512239574854693 503.10 71.81)" opacity="0.85"/>
<ellipse cx="440.93" cy="52.73" rx="1.99" ry="0.66" fill="#3f70c8" transform="rotate(14.712156185923352 440.93 52.73)" opacity="0.85"/>
<ellipse cx="478.68" cy="57.52" rx="2.01" ry="1.14" fill="#5a86d4" transform="rotate(22.641448263561713 478.68 57.52)" opacity="0.85"/>
<ellipse cx="489.84" cy="59.55" rx="1.31" ry="1.18" fill="#8aa8e0" transform="rotate(19.684327983715274 489.84 59.55)" opacity="0.85"/>
<ellipse cx="472.57" cy="62.28" rx="2.18" ry="0.77" fill="#c8d8f0" transform="rotate(17.72011686303437 472.57 62.28)" opacity="0.85"/>
<ellipse cx="489.29" cy="59.18" rx="1.77" ry="1.03" fill="#3f70c8" transform="rotate(0.5487824936358043 489.29 59.18)" opacity="0.85"/>
<ellipse cx="484.07" cy="60.39" rx="1.05" ry="0.49" fill="#1f4fb0" transform="rotate(33.13676677986942 484.07 60.39)" opacity="0.85"/>
<ellipse cx="442.26" cy="49.26" rx="2.44" ry="1.16" fill="#1f4fb0" transform="rotate(13.34489518061623 442.26 49.26)" opacity="0.85"/>
<ellipse cx="488.81" cy="53.89" rx="2.00" ry="0.91" fill="#5a4aa8" transform="rotate(28.568076260090052 488.81 53.89)" opacity="0.85"/>
<ellipse cx="470.57" cy="59.43" rx="1.81" ry="0.44" fill="#5a4aa8" transform="rotate(0.3567619620636986 470.57 59.43)" opacity="0.85"/>
<ellipse cx="482.18" cy="50.01" rx="0.92" ry="0.80" fill="#c8d8f0" transform="rotate(9.333415129375485 482.18 50.01)" opacity="0.85"/>
<ellipse cx="466.79" cy="44.34" rx="2.22" ry="0.59" fill="#2448a0" transform="rotate(30.73606110658622 466.79 44.34)" opacity="0.85"/>
<ellipse cx="454.49" cy="43.40" rx="1.93" ry="0.78" fill="#2a5ab8" transform="rotate(21.260970688991414 454.49 43.40)" opacity="0.85"/>
<ellipse cx="444.67" cy="43.73" rx="1.06" ry="1.14" fill="#5a86d4" transform="rotate(12.68959025323069 444.67 43.73)" opacity="0.85"/>
<ellipse cx="438.20" cy="41.92" rx="2.58" ry="0.97" fill="#2a5ab8" transform="rotate(32.44254204518491 438.20 41.92)" opacity="0.85"/>
<ellipse cx="438.42" cy="44.00" rx="1.64" ry="1.13" fill="#3f70c8" transform="rotate(14.533734615847656 438.42 44.00)" opacity="0.85"/>
<ellipse cx="501.59" cy="68.60" rx="1.30" ry="0.75" fill="#1f4fb0" transform="rotate(18.13753142355139 501.59 68.60)" opacity="0.85"/>
<ellipse cx="469.37" cy="44.04" rx="2.20" ry="0.60" fill="#8aa8e0" transform="rotate(4.391031296279322 469.37 44.04)" opacity="0.85"/>
<ellipse cx="476.48" cy="58.73" rx="1.71" ry="0.71" fill="#5a86d4" transform="rotate(26.931710741671697 476.48 58.73)" opacity="0.85"/>
<ellipse cx="482.36" cy="53.44" rx="1.46" ry="0.52" fill="#1f4fb0" transform="rotate(0.957045293133234 482.36 53.44)" opacity="0.85"/>
<ellipse cx="478.76" cy="48.69" rx="2.53" ry="0.77" fill="#5a86d4" transform="rotate(35.89809665490537 478.76 48.69)" opacity="0.85"/>
<ellipse cx="452.97" cy="51.97" rx="1.26" ry="0.61" fill="#2448a0" transform="rotate(39.50057289393542 452.97 51.97)" opacity="0.85"/>
<ellipse cx="466.54" cy="60.05" rx="1.64" ry="0.44" fill="#3f70c8" transform="rotate(2.019219765843543 466.54 60.05)" opacity="0.85"/>
<ellipse cx="500.55" cy="68.58" rx="1.67" ry="1.11" fill="#2448a0" transform="rotate(2.8787931741650308 500.55 68.58)" opacity="0.85"/>
<ellipse cx="468.49" cy="59.90" rx="1.45" ry="0.89" fill="#5a86d4" transform="rotate(2.933109258248159 468.49 59.90)" opacity="0.85"/>
<ellipse cx="456.45" cy="59.35" rx="2.44" ry="0.94" fill="#1f4fb0" transform="rotate(29.73378370631615 456.45 59.35)" opacity="0.85"/>
<ellipse cx="465.12" cy="57.07" rx="1.56" ry="1.07" fill="#5a86d4" transform="rotate(23.86956548109953 465.12 57.07)" opacity="0.85"/>
<ellipse cx="444.28" cy="39.14" rx="2.13" ry="1.00" fill="#c8d8f0" transform="rotate(26.87012991969337 444.28 39.14)" opacity="0.85"/>
<ellipse cx="462.41" cy="47.89" rx="1.81" ry="0.70" fill="#5a4aa8" transform="rotate(38.00658202984446 462.41 47.89)" opacity="0.85"/>
<ellipse cx="461.01" cy="48.65" rx="1.30" ry="1.03" fill="#c8d8f0" transform="rotate(13.095811954268818 461.01 48.65)" opacity="0.85"/>
<ellipse cx="496.97" cy="63.83" rx="1.39" ry="0.47" fill="#c8d8f0" transform="rotate(14.348873783893886 496.97 63.83)" opacity="0.85"/>
<ellipse cx="457.66" cy="43.81" rx="1.89" ry="0.80" fill="#c8d8f0" transform="rotate(30.583256685908175 457.66 43.81)" opacity="0.85"/>
<ellipse cx="448.95" cy="39.19" rx="1.51" ry="1.19" fill="#2448a0" transform="rotate(37.22125221607116 448.95 39.19)" opacity="0.85"/>
<ellipse cx="479.03" cy="56.43" rx="2.22" ry="0.97" fill="#5a86d4" transform="rotate(4.235259418723514 479.03 56.43)" opacity="0.85"/>
<ellipse cx="487.85" cy="53.10" rx="2.07" ry="0.86" fill="#2448a0" transform="rotate(30.806218095434193 487.85 53.10)" opacity="0.85"/>
<ellipse cx="493.94" cy="68.55" rx="1.81" ry="1.15" fill="#2a5ab8" transform="rotate(28.038645543333793 493.94 68.55)" opacity="0.85"/>
<ellipse cx="450.12" cy="56.05" rx="1.96" ry="0.63" fill="#5a86d4" transform="rotate(24.399895487755995 450.12 56.05)" opacity="0.85"/>
<ellipse cx="478.79" cy="62.93" rx="1.38" ry="0.61" fill="#5a4aa8" transform="rotate(1.3837972218491723 478.79 62.93)" opacity="0.85"/>
<ellipse cx="456.79" cy="47.94" rx="1.90" ry="1.02" fill="#5a86d4" transform="rotate(10.483787293695176 456.79 47.94)" opacity="0.85"/>
<ellipse cx="443.01" cy="35.30" rx="1.85" ry="0.88" fill="#2a5ab8" transform="rotate(34.12037323705257 443.01 35.30)" opacity="0.85"/>
<ellipse cx="465.83" cy="51.23" rx="1.47" ry="1.01" fill="#2448a0" transform="rotate(4.902367546201254 465.83 51.23)" opacity="0.85"/>
<ellipse cx="487.42" cy="54.59" rx="1.86" ry="0.86" fill="#2a5ab8" transform="rotate(19.85529754484293 487.42 54.59)" opacity="0.85"/>
<ellipse cx="456.56" cy="58.03" rx="1.87" ry="0.59" fill="#1f4fb0" transform="rotate(15.483426186272698 456.56 58.03)" opacity="0.85"/>
<ellipse cx="438.14" cy="56.48" rx="2.22" ry="0.87" fill="#5a86d4" transform="rotate(23.275586584534636 438.14 56.48)" opacity="0.85"/>
<ellipse cx="447.21" cy="51.82" rx="1.46" ry="0.92" fill="#c8d8f0" transform="rotate(0.7208614501116806 447.21 51.82)" opacity="0.85"/>
<ellipse cx="476.93" cy="50.66" rx="1.66" ry="0.74" fill="#5a86d4" transform="rotate(13.059438115043921 476.93 50.66)" opacity="0.85"/>
<ellipse cx="482.83" cy="49.24" rx="2.40" ry="0.42" fill="#1f4fb0" transform="rotate(7.723968228995761 482.83 49.24)" opacity="0.85"/>
<ellipse cx="491.28" cy="53.96" rx="2.48" ry="0.66" fill="#8aa8e0" transform="rotate(39.62057771672969 491.28 53.96)" opacity="0.85"/>
<ellipse cx="460.38" cy="47.64" rx="1.02" ry="0.95" fill="#2a5ab8" transform="rotate(26.882289305097366 460.38 47.64)" opacity="0.85"/>
<ellipse cx="496.86" cy="71.01" rx="1.59" ry="1.07" fill="#8aa8e0" transform="rotate(9.700167655585092 496.86 71.01)" opacity="0.85"/>
<ellipse cx="496.27" cy="60.44" rx="1.28" ry="0.98" fill="#8aa8e0" transform="rotate(8.802233599019601 496.27 60.44)" opacity="0.85"/>
<ellipse cx="451.36" cy="58.23" rx="0.89" ry="0.40" fill="#5a4aa8" transform="rotate(31.38934679550307 451.36 58.23)" opacity="0.85"/>
<ellipse cx="470.72" cy="52.19" rx="1.61" ry="0.46" fill="#5a4aa8" transform="rotate(6.953073913364021 470.72 52.19)" opacity="0.85"/>
<ellipse cx="439.43" cy="44.85" rx="2.57" ry="1.06" fill="#c8d8f0" transform="rotate(34.62895986365979 439.43 44.85)" opacity="0.85"/>
<ellipse cx="497.01" cy="57.29" rx="2.34" ry="0.96" fill="#8aa8e0" transform="rotate(14.055556688857003 497.01 57.29)" opacity="0.85"/>
<ellipse cx="440.65" cy="35.40" rx="1.15" ry="0.66" fill="#5a86d4" transform="rotate(14.566597929243908 440.65 35.40)" opacity="0.85"/>
<ellipse cx="463.53" cy="51.36" rx="2.03" ry="0.62" fill="#c8d8f0" transform="rotate(8.164339666044924 463.53 51.36)" opacity="0.85"/>
<ellipse cx="452.61" cy="54.50" rx="1.57" ry="1.12" fill="#3f70c8" transform="rotate(15.36811855919074 452.61 54.50)" opacity="0.85"/>
<ellipse cx="473.43" cy="60.89" rx="1.27" ry="0.56" fill="#5a4aa8" transform="rotate(7.371481884412332 473.43 60.89)" opacity="0.85"/>
<ellipse cx="454.47" cy="45.24" rx="1.10" ry="0.94" fill="#2448a0" transform="rotate(39.82691593606107 454.47 45.24)" opacity="0.85"/>
<ellipse cx="446.04" cy="36.02" rx="2.13" ry="0.69" fill="#1f4fb0" transform="rotate(34.243019056170226 446.04 36.02)" opacity="0.85"/>
<ellipse cx="500.39" cy="71.40" rx="1.21" ry="1.14" fill="#c8d8f0" transform="rotate(31.205483044574137 500.39 71.40)" opacity="0.85"/>
<ellipse cx="481.79" cy="58.67" rx="1.16" ry="0.93" fill="#1f4fb0" transform="rotate(1.8172708954198402 481.79 58.67)" opacity="0.85"/>
<ellipse cx="485.01" cy="62.78" rx="1.84" ry="0.66" fill="#2a5ab8" transform="rotate(39.97042725729611 485.01 62.78)" opacity="0.85"/>
<ellipse cx="474.42" cy="56.83" rx="1.35" ry="0.93" fill="#c8d8f0" transform="rotate(33.00379334195247 474.42 56.83)" opacity="0.85"/>
<ellipse cx="452.05" cy="49.26" rx="1.26" ry="1.06" fill="#2a5ab8" transform="rotate(14.500231545906281 452.05 49.26)" opacity="0.85"/>
<ellipse cx="466.28" cy="46.73" rx="2.60" ry="0.56" fill="#2448a0" transform="rotate(31.00068721988684 466.28 46.73)" opacity="0.85"/>
<ellipse cx="443.16" cy="33.99" rx="1.47" ry="0.46" fill="#2448a0" transform="rotate(29.037656062594973 443.16 33.99)" opacity="0.85"/>
<ellipse cx="465.90" cy="47.21" rx="1.51" ry="1.13" fill="#8aa8e0" transform="rotate(9.797726213687374 465.90 47.21)" opacity="0.85"/>
<ellipse cx="501.85" cy="70.79" rx="1.03" ry="1.18" fill="#5a4aa8" transform="rotate(31.574180375093054 501.85 70.79)" opacity="0.85"/>
<ellipse cx="453.38" cy="41.49" rx="1.48" ry="0.77" fill="#8aa8e0" transform="rotate(33.08869598058922 453.38 41.49)" opacity="0.85"/>
<ellipse cx="459.94" cy="59.84" rx="2.27" ry="0.95" fill="#8aa8e0" transform="rotate(4.548430609688761 459.94 59.84)" opacity="0.85"/>
<ellipse cx="438.61" cy="37.43" rx="0.98" ry="1.02" fill="#5a4aa8" transform="rotate(35.13415086830578 438.61 37.43)" opacity="0.85"/>
<ellipse cx="462.60" cy="54.17" rx="1.81" ry="0.93" fill="#5a86d4" transform="rotate(25.137238278065247 462.60 54.17)" opacity="0.85"/>
<ellipse cx="465.85" cy="58.60" rx="2.09" ry="1.18" fill="#8aa8e0" transform="rotate(38.29442725388745 465.85 58.60)" opacity="0.85"/>
<ellipse cx="440.55" cy="36.78" rx="2.13" ry="0.70" fill="#5a86d4" transform="rotate(0.05204730520353085 440.55 36.78)" opacity="0.85"/>
<ellipse cx="478.62" cy="64.55" rx="0.82" ry="0.91" fill="#2448a0" transform="rotate(28.214884055428904 478.62 64.55)" opacity="0.85"/>
<ellipse cx="503.40" cy="71.14" rx="1.97" ry="0.45" fill="#5a86d4" transform="rotate(31.296834304213625 503.40 71.14)" opacity="0.85"/>
<ellipse cx="485.21" cy="49.85" rx="1.94" ry="1.14" fill="#c8d8f0" transform="rotate(18.386308573048545 485.21 49.85)" opacity="0.85"/>
<ellipse cx="476.64" cy="62.34" rx="1.30" ry="0.45" fill="#3f70c8" transform="rotate(3.5567578987442428 476.64 62.34)" opacity="0.85"/>
<ellipse cx="443.39" cy="41.95" rx="2.36" ry="0.58" fill="#c8d8f0" transform="rotate(17.192710583318544 443.39 41.95)" opacity="0.85"/>
<ellipse cx="470.40" cy="47.90" rx="1.64" ry="0.66" fill="#c8d8f0" transform="rotate(0.31841723987285686 470.40 47.90)" opacity="0.85"/>
<ellipse cx="503.96" cy="65.03" rx="0.85" ry="1.08" fill="#2448a0" transform="rotate(13.79154977789931 503.96 65.03)" opacity="0.85"/>
<ellipse cx="496.67" cy="71.88" rx="0.93" ry="0.90" fill="#8aa8e0" transform="rotate(8.977240761064568 496.67 71.88)" opacity="0.85"/>
<ellipse cx="443.57" cy="54.93" rx="1.88" ry="1.06" fill="#c8d8f0" transform="rotate(9.951084653927435 443.57 54.93)" opacity="0.85"/>
<ellipse cx="459.57" cy="54.43" rx="1.78" ry="0.63" fill="#2448a0" transform="rotate(38.64094755931445 459.57 54.43)" opacity="0.85"/>
<ellipse cx="483.11" cy="57.58" rx="1.46" ry="0.94" fill="#8aa8e0" transform="rotate(5.364605719217117 483.11 57.58)" opacity="0.85"/>
<ellipse cx="482.06" cy="55.93" rx="2.37" ry="1.10" fill="#1f4fb0" transform="rotate(13.175540361670626 482.06 55.93)" opacity="0.85"/>
<ellipse cx="458.17" cy="52.39" rx="1.04" ry="0.57" fill="#8aa8e0" transform="rotate(27.019671535334417 458.17 52.39)" opacity="0.85"/>
<ellipse cx="491.52" cy="61.80" rx="1.71" ry="0.74" fill="#1f4fb0" transform="rotate(26.802524653017983 491.52 61.80)" opacity="0.85"/>
<ellipse cx="465.96" cy="60.94" rx="2.15" ry="0.96" fill="#5a4aa8" transform="rotate(33.72148816341456 465.96 60.94)" opacity="0.85"/>
<ellipse cx="472.14" cy="47.70" rx="2.37" ry="0.54" fill="#2448a0" transform="rotate(35.33528907308113 472.14 47.70)" opacity="0.85"/>
<ellipse cx="440.76" cy="56.76" rx="1.58" ry="0.83" fill="#2448a0" transform="rotate(20.510788140429778 440.76 56.76)" opacity="0.85"/>
<ellipse cx="461.79" cy="48.43" rx="0.87" ry="1.16" fill="#2a5ab8" transform="rotate(6.643799007804909 461.79 48.43)" opacity="0.85"/>
<ellipse cx="451.78" cy="55.52" rx="0.96" ry="0.61" fill="#2448a0" transform="rotate(34.040003831796106 451.78 55.52)" opacity="0.85"/>
<ellipse cx="499.89" cy="71.83" rx="0.91" ry="1.08" fill="#3f70c8" transform="rotate(5.187408712372523 499.89 71.83)" opacity="0.85"/>
<ellipse cx="500.26" cy="69.54" rx="2.59" ry="0.60" fill="#5a86d4" transform="rotate(29.141438733788835 500.26 69.54)" opacity="0.85"/>
<ellipse cx="480.39" cy="56.74" rx="1.84" ry="1.03" fill="#3f70c8" transform="rotate(8.809286721227112 480.39 56.74)" opacity="0.85"/>
<ellipse cx="499.12" cy="72.50" rx="2.26" ry="0.51" fill="#2448a0" transform="rotate(21.28699287854168 499.12 72.50)" opacity="0.85"/>
<ellipse cx="452.46" cy="44.81" rx="2.46" ry="0.82" fill="#1f4fb0" transform="rotate(35.29443521545251 452.46 44.81)" opacity="0.85"/>
<ellipse cx="450.02" cy="56.63" rx="1.34" ry="1.04" fill="#1f4fb0" transform="rotate(25.228051027322145 450.02 56.63)" opacity="0.85"/>
<ellipse cx="478.58" cy="51.99" rx="2.43" ry="1.11" fill="#1f4fb0" transform="rotate(29.01664319329604 478.58 51.99)" opacity="0.85"/>
<ellipse cx="439.62" cy="38.30" rx="1.96" ry="0.97" fill="#5a4aa8" transform="rotate(27.9558299778172 439.62 38.30)" opacity="0.85"/>
<ellipse cx="464.08" cy="48.86" rx="1.24" ry="0.90" fill="#1f4fb0" transform="rotate(18.368417104008287 464.08 48.86)" opacity="0.85"/>
<ellipse cx="477.56" cy="61.15" rx="1.18" ry="1.12" fill="#3f70c8" transform="rotate(25.39801864561776 477.56 61.15)" opacity="0.85"/>
<ellipse cx="466.18" cy="47.77" rx="2.55" ry="1.16" fill="#3f70c8" transform="rotate(7.2268506343205186 466.18 47.77)" opacity="0.85"/>
<ellipse cx="467.77" cy="57.14" rx="0.82" ry="0.62" fill="#2448a0" transform="rotate(22.358218561098834 467.77 57.14)" opacity="0.85"/>
<ellipse cx="497.61" cy="72.56" rx="2.17" ry="0.63" fill="#2a5ab8" transform="rotate(4.656741364585364 497.61 72.56)" opacity="0.85"/>
<ellipse cx="474.07" cy="45.70" rx="1.65" ry="0.63" fill="#2a5ab8" transform="rotate(1.8064425692320762 474.07 45.70)" opacity="0.85"/>
<ellipse cx="450.39" cy="52.67" rx="2.40" ry="1.01" fill="#1f4fb0" transform="rotate(0.8855703715713936 450.39 52.67)" opacity="0.85"/>
<ellipse cx="445.96" cy="49.38" rx="1.71" ry="0.44" fill="#1f4fb0" transform="rotate(1.161392122101037 445.96 49.38)" opacity="0.85"/>
<ellipse cx="461.39" cy="57.37" rx="1.44" ry="0.84" fill="#5a4aa8" transform="rotate(6.254817445721739 461.39 57.37)" opacity="0.85"/>
<ellipse cx="494.83" cy="53.03" rx="1.26" ry="0.76" fill="#8aa8e0" transform="rotate(39.04232449850091 494.83 53.03)" opacity="0.85"/>
<ellipse cx="483.45" cy="52.88" rx="2.26" ry="0.81" fill="#5a86d4" transform="rotate(30.503730675647503 483.45 52.88)" opacity="0.85"/>
<ellipse cx="497.67" cy="56.34" rx="1.65" ry="0.91" fill="#8aa8e0" transform="rotate(31.5938411893137 497.67 56.34)" opacity="0.85"/>
<ellipse cx="483.55" cy="53.94" rx="1.71" ry="0.84" fill="#2448a0" transform="rotate(13.925754096819967 483.55 53.94)" opacity="0.85"/>
<ellipse cx="470.02" cy="52.16" rx="0.83" ry="0.50" fill="#c8d8f0" transform="rotate(25.460158218496947 470.02 52.16)" opacity="0.85"/>
<ellipse cx="444.46" cy="56.34" rx="1.36" ry="0.49" fill="#3f70c8" transform="rotate(17.34612488525828 444.46 56.34)" opacity="0.85"/>
<ellipse cx="486.05" cy="51.07" rx="1.52" ry="0.95" fill="#5a4aa8" transform="rotate(23.775172722391666 486.05 51.07)" opacity="0.85"/>
<ellipse cx="476.27" cy="53.82" rx="1.80" ry="0.81" fill="#8aa8e0" transform="rotate(34.434842591937084 476.27 53.82)" opacity="0.85"/>
<ellipse cx="480.01" cy="51.62" rx="2.14" ry="1.07" fill="#5a4aa8" transform="rotate(27.74296663620452 480.01 51.62)" opacity="0.85"/>
<ellipse cx="486.99" cy="67.56" rx="1.73" ry="0.87" fill="#c8d8f0" transform="rotate(20.24322218824523 486.99 67.56)" opacity="0.85"/>
<ellipse cx="445.33" cy="39.12" rx="1.10" ry="1.02" fill="#8aa8e0" transform="rotate(17.541608251536054 445.33 39.12)" opacity="0.85"/>
<ellipse cx="460.56" cy="41.10" rx="2.20" ry="0.87" fill="#3f70c8" transform="rotate(7.776917587821814 460.56 41.10)" opacity="0.85"/>
<ellipse cx="463.11" cy="57.65" rx="2.19" ry="0.74" fill="#3f70c8" transform="rotate(18.353277261731655 463.11 57.65)" opacity="0.85"/>
<ellipse cx="500.51" cy="62.08" rx="0.92" ry="0.93" fill="#1f4fb0" transform="rotate(28.92963927444797 500.51 62.08)" opacity="0.85"/>
<ellipse cx="455.48" cy="41.54" rx="2.04" ry="0.92" fill="#c8d8f0" transform="rotate(30.890218283059706 455.48 41.54)" opacity="0.85"/>
<ellipse cx="442.26" cy="35.37" rx="1.78" ry="0.88" fill="#2a5ab8" transform="rotate(6.086425655055838 442.26 35.37)" opacity="0.85"/>
<ellipse cx="492.16" cy="67.26" rx="0.85" ry="0.65" fill="#2448a0" transform="rotate(22.64786698337225 492.16 67.26)" opacity="0.85"/>
<ellipse cx="503.45" cy="68.58" rx="2.49" ry="0.98" fill="#2448a0" transform="rotate(21.242583904932715 503.45 68.58)" opacity="0.85"/>
<ellipse cx="456.99" cy="54.20" rx="1.35" ry="1.12" fill="#3f70c8" transform="rotate(22.80829145642796 456.99 54.20)" opacity="0.85"/>
<ellipse cx="444.21" cy="46.85" rx="2.07" ry="0.85" fill="#2448a0" transform="rotate(31.234888850735985 444.21 46.85)" opacity="0.85"/>
<ellipse cx="488.17" cy="54.38" rx="2.42" ry="0.54" fill="#2a5ab8" transform="rotate(18.6498873530915 488.17 54.38)" opacity="0.85"/>
<ellipse cx="465.52" cy="47.46" rx="2.19" ry="0.64" fill="#2a5ab8" transform="rotate(33.5667671686617 465.52 47.46)" opacity="0.85"/>
<ellipse cx="461.38" cy="46.32" rx="2.22" ry="0.82" fill="#2a5ab8" transform="rotate(5.205799399264781 461.38 46.32)" opacity="0.85"/>
<ellipse cx="457.02" cy="56.33" rx="2.45" ry="0.93" fill="#8aa8e0" transform="rotate(6.989774426515569 457.02 56.33)" opacity="0.85"/>
<ellipse cx="440.36" cy="46.57" rx="1.00" ry="0.42" fill="#5a4aa8" transform="rotate(5.318531981727279 440.36 46.57)" opacity="0.85"/>
<ellipse cx="449.00" cy="43.77" rx="1.21" ry="0.57" fill="#1f4fb0" transform="rotate(30.58221979794016 449.00 43.77)" opacity="0.85"/>
<ellipse cx="485.97" cy="54.90" rx="1.86" ry="0.88" fill="#1f4fb0" transform="rotate(21.34433751385735 485.97 54.90)" opacity="0.85"/>
<ellipse cx="470.42" cy="49.44" rx="1.08" ry="0.84" fill="#c8d8f0" transform="rotate(27.99728588119118 470.42 49.44)" opacity="0.85"/>
<ellipse cx="460.41" cy="57.54" rx="1.16" ry="0.82" fill="#5a86d4" transform="rotate(35.66606604627829 460.41 57.54)" opacity="0.85"/>
<ellipse cx="484.65" cy="54.60" rx="1.74" ry="0.44" fill="#3f70c8" transform="rotate(21.64853322461947 484.65 54.60)" opacity="0.85"/>
<ellipse cx="452.25" cy="48.06" rx="2.31" ry="1.00" fill="#8aa8e0" transform="rotate(21.826393885848752 452.25 48.06)" opacity="0.85"/>
<ellipse cx="460.09" cy="52.56" rx="0.91" ry="0.95" fill="#1f4fb0" transform="rotate(32.16561720539047 460.09 52.56)" opacity="0.85"/>
<ellipse cx="457.23" cy="55.23" rx="1.09" ry="1.15" fill="#3f70c8" transform="rotate(8.7579315853719 457.23 55.23)" opacity="0.85"/>
<ellipse cx="468.95" cy="61.79" rx="2.57" ry="0.83" fill="#8aa8e0" transform="rotate(27.951773180198103 468.95 61.79)" opacity="0.85"/>
<ellipse cx="463.00" cy="45.00" rx="1.60" ry="1.10" fill="#c82040" transform="rotate(42.932264438149176 463.00 45.00)" />
<ellipse cx="470.00" cy="60.00" rx="1.60" ry="1.10" fill="#c82040" transform="rotate(18.02820863762012 470.00 60.00)" />
<ellipse cx="455.00" cy="48.00" rx="1.60" ry="1.10" fill="#c82040" transform="rotate(11.216384436746123 455.00 48.00)" />
<ellipse cx="492.00" cy="70.00" rx="1.60" ry="1.10" fill="#c82040" transform="rotate(14.590357926997688 492.00 70.00)" />
<ellipse cx="482.00" cy="54.00" rx="1.60" ry="1.10" fill="#c82040" transform="rotate(51.84257219461073 482.00 54.00)" />
<path d="M438.0,30.5 L444.0,33.0 L449.5,37.5 L456.0,39.0 L463.0,41.5 L470.0,43.0 L476.4,45.7 L483.0,48.0 L489.8,51.7 L496.0,53.0 L504.0,54.5" fill="none" stroke="#c8285a" stroke-width="1.4" stroke-dasharray="4 0.8 2 1.2"/>
<path d="M438.0,28.3 L444.0,30.8 L449.5,35.3 L456.0,36.8 L463.0,39.3 L470.0,40.8 L476.4,43.5 L483.0,45.8 L489.8,49.5 L496.0,50.8 L504.0,52.3" fill="none" stroke="#e8a0b8" stroke-width="0.9" stroke-dasharray="3 2"/>
<path d="M438,61.5 L456,63 L476,68.5 L492,75 L504,78.5" fill="none" stroke="#e06a98" stroke-width="3.2" />
<path d="M438,61.5 L456,63 L476,68.5 L492,75 L504,78.5" fill="none" stroke="#d02860" stroke-width="2.2" stroke-dasharray="2.5 0.8 1.5 1.2 3 0.6 1 1"/>
<ellipse cx="441.00" cy="31.00" rx="4.00" ry="3.00" fill="#8a2050" transform="rotate(20 441.00 31.00)" opacity="0.8"/>
<ellipse cx="448.00" cy="35.00" rx="2.00" ry="0.80" fill="#e07090" transform="rotate(15 448.00 35.00)" opacity="0.7"/>
<ellipse cx="455.00" cy="37.00" rx="2.00" ry="0.80" fill="#e07090" transform="rotate(15 455.00 37.00)" opacity="0.7"/>
<ellipse cx="462.00" cy="39.00" rx="2.00" ry="0.80" fill="#e07090" transform="rotate(15 462.00 39.00)" opacity="0.7"/>
<ellipse cx="494.00" cy="47.00" rx="2.00" ry="0.80" fill="#e07090" transform="rotate(15 494.00 47.00)" opacity="0.7"/>
<ellipse cx="499.00" cy="49.00" rx="2.00" ry="0.80" fill="#e07090" transform="rotate(15 499.00 49.00)" opacity="0.7"/>
<ellipse cx="470.00" cy="41.00" rx="2.00" ry="0.80" fill="#e07090" transform="rotate(15 470.00 41.00)" opacity="0.7"/>
</g></g>
<g clip-path="url(#dbot)"><g filter="url(#hblur)">
<rect x="437.00" y="84.00" width="68.00" height="59.00" fill="#d4e6ec" stroke="none" stroke-width="1" />
<path d="M438.0,97.5 L445.0,93.0 L452.0,91.0 L458.0,88.5 L465.0,86.0 L470.0,85.0 L504.0,84.5 L504.0,116.3 L489.8,121.0 L470.0,128.5 L438.0,134.0Z" fill="#dcd8ee" stroke="none" stroke-width="1" />
<ellipse cx="493.99" cy="112.55" rx="2.16" ry="0.60" fill="#c8b8e0" transform="rotate(13.697150335249814 493.99 112.55)" opacity="0.8"/>
<ellipse cx="484.46" cy="100.59" rx="1.05" ry="0.85" fill="#c8b8e0" transform="rotate(21.324541849188762 484.46 100.59)" opacity="0.8"/>
<ellipse cx="465.63" cy="128.98" rx="0.86" ry="0.94" fill="#b8c8ea" transform="rotate(18.95747250847637 465.63 128.98)" opacity="0.8"/>
<ellipse cx="476.77" cy="125.36" rx="1.18" ry="0.51" fill="#d8cce8" transform="rotate(27.521038623402763 476.77 125.36)" opacity="0.8"/>
<ellipse cx="453.03" cy="111.57" rx="1.66" ry="0.59" fill="#f8f8fc" transform="rotate(15.656707600568446 453.03 111.57)" opacity="0.8"/>
<ellipse cx="489.45" cy="104.90" rx="1.05" ry="0.98" fill="#d8cce8" transform="rotate(14.634307787083959 489.45 104.90)" opacity="0.8"/>
<ellipse cx="458.78" cy="90.96" rx="1.96" ry="0.74" fill="#c8b8e0" transform="rotate(15.086277428499502 458.78 90.96)" opacity="0.8"/>
<ellipse cx="485.21" cy="95.06" rx="0.82" ry="0.40" fill="#f8f8fc" transform="rotate(13.544287525641305 485.21 95.06)" opacity="0.8"/>
<ellipse cx="473.43" cy="102.21" rx="1.36" ry="0.95" fill="#c8b8e0" transform="rotate(16.3233890563285 473.43 102.21)" opacity="0.8"/>
<ellipse cx="449.90" cy="106.13" rx="2.01" ry="0.60" fill="#e0d0e8" transform="rotate(19.921579836072198 449.90 106.13)" opacity="0.8"/>
<ellipse cx="449.31" cy="118.48" rx="2.40" ry="0.79" fill="#e0d0e8" transform="rotate(13.455652516152302 449.31 118.48)" opacity="0.8"/>
<ellipse cx="457.34" cy="113.56" rx="2.27" ry="0.73" fill="#b8c8ea" transform="rotate(17.746243089436106 457.34 113.56)" opacity="0.8"/>
<ellipse cx="460.30" cy="126.26" rx="1.73" ry="0.54" fill="#b8c8ea" transform="rotate(14.11771666537495 460.30 126.26)" opacity="0.8"/>
<ellipse cx="494.98" cy="99.95" rx="2.05" ry="0.43" fill="#f8f8fc" transform="rotate(19.374358160867388 494.98 99.95)" opacity="0.8"/>
<ellipse cx="487.11" cy="89.75" rx="1.83" ry="0.89" fill="#c8b8e0" transform="rotate(29.541291161325116 487.11 89.75)" opacity="0.8"/>
<ellipse cx="468.77" cy="115.90" rx="2.20" ry="0.45" fill="#f8f8fc" transform="rotate(16.483362659884648 468.77 115.90)" opacity="0.8"/>
<ellipse cx="498.42" cy="98.79" rx="0.95" ry="0.92" fill="#f8f8fc" transform="rotate(18.912530813788674 498.42 98.79)" opacity="0.8"/>
<ellipse cx="483.99" cy="121.68" rx="2.22" ry="0.51" fill="#f8f8fc" transform="rotate(25.775590031647234 483.99 121.68)" opacity="0.8"/>
<ellipse cx="472.45" cy="104.00" rx="2.47" ry="1.00" fill="#d8cce8" transform="rotate(20.12936086798149 472.45 104.00)" opacity="0.8"/>
<ellipse cx="471.29" cy="91.03" rx="1.84" ry="0.48" fill="#c8b8e0" transform="rotate(10.215085680572596 471.29 91.03)" opacity="0.8"/>
<ellipse cx="476.19" cy="112.46" rx="1.36" ry="0.60" fill="#b8c8ea" transform="rotate(20.1417341657249 476.19 112.46)" opacity="0.8"/>
<ellipse cx="458.79" cy="115.06" rx="2.40" ry="0.41" fill="#f8f8fc" transform="rotate(24.39753947742124 458.79 115.06)" opacity="0.8"/>
<ellipse cx="443.49" cy="112.08" rx="2.26" ry="0.41" fill="#f8f8fc" transform="rotate(12.778985816535391 443.49 112.08)" opacity="0.8"/>
<ellipse cx="461.10" cy="122.15" rx="1.89" ry="0.70" fill="#f8f8fc" transform="rotate(24.737372695883685 461.10 122.15)" opacity="0.8"/>
<ellipse cx="441.32" cy="112.15" rx="1.98" ry="0.47" fill="#c8b8e0" transform="rotate(23.759537157648538 441.32 112.15)" opacity="0.8"/>
<ellipse cx="463.21" cy="121.45" rx="1.94" ry="0.75" fill="#f8f8fc" transform="rotate(21.05547825560579 463.21 121.45)" opacity="0.8"/>
<ellipse cx="473.52" cy="97.29" rx="2.12" ry="0.46" fill="#f8f8fc" transform="rotate(27.863685284475338 473.52 97.29)" opacity="0.8"/>
<ellipse cx="468.16" cy="103.81" rx="2.06" ry="0.41" fill="#d8cce8" transform="rotate(15.199301181636631 468.16 103.81)" opacity="0.8"/>
<ellipse cx="469.82" cy="115.00" rx="1.13" ry="0.73" fill="#c8b8e0" transform="rotate(12.989962491894842 469.82 115.00)" opacity="0.8"/>
<ellipse cx="452.42" cy="94.17" rx="0.98" ry="0.41" fill="#f8f8fc" transform="rotate(10.782531647365603 452.42 94.17)" opacity="0.8"/>
<ellipse cx="492.99" cy="113.16" rx="1.15" ry="0.93" fill="#f8f8fc" transform="rotate(19.477165734795037 492.99 113.16)" opacity="0.8"/>
<ellipse cx="501.29" cy="106.15" rx="1.97" ry="0.51" fill="#e0d0e8" transform="rotate(15.875841775199262 501.29 106.15)" opacity="0.8"/>
<ellipse cx="477.96" cy="121.10" rx="0.86" ry="0.84" fill="#b8c8ea" transform="rotate(11.982807155668898 477.96 121.10)" opacity="0.8"/>
<ellipse cx="442.11" cy="126.66" rx="1.99" ry="0.84" fill="#e0d0e8" transform="rotate(27.58784956399841 442.11 126.66)" opacity="0.8"/>
<ellipse cx="445.47" cy="101.57" rx="0.83" ry="0.88" fill="#b8c8ea" transform="rotate(23.64180173683101 445.47 101.57)" opacity="0.8"/>
<ellipse cx="481.25" cy="95.34" rx="1.40" ry="0.83" fill="#f8f8fc" transform="rotate(19.06550675846347 481.25 95.34)" opacity="0.8"/>
<ellipse cx="440.58" cy="123.74" rx="2.45" ry="0.76" fill="#b8c8ea" transform="rotate(29.595901052371477 440.58 123.74)" opacity="0.8"/>
<ellipse cx="492.43" cy="106.45" rx="1.25" ry="0.95" fill="#f8f8fc" transform="rotate(10.697301118105171 492.43 106.45)" opacity="0.8"/>
<ellipse cx="500.78" cy="88.86" rx="1.79" ry="0.76" fill="#d8cce8" transform="rotate(29.716124139786032 500.78 88.86)" opacity="0.8"/>
<ellipse cx="497.56" cy="109.27" rx="2.13" ry="0.95" fill="#c8b8e0" transform="rotate(10.438049228636583 497.56 109.27)" opacity="0.8"/>
<ellipse cx="455.39" cy="110.59" rx="2.20" ry="0.51" fill="#e0d0e8" transform="rotate(16.70334612056541 455.39 110.59)" opacity="0.8"/>
<ellipse cx="468.76" cy="121.05" rx="1.75" ry="0.89" fill="#d8cce8" transform="rotate(29.30008299667276 468.76 121.05)" opacity="0.8"/>
<ellipse cx="460.52" cy="125.75" rx="2.47" ry="0.46" fill="#f8f8fc" transform="rotate(15.935798237378936 460.52 125.75)" opacity="0.8"/>
<ellipse cx="481.02" cy="97.64" rx="1.72" ry="0.44" fill="#c8b8e0" transform="rotate(19.500813013792985 481.02 97.64)" opacity="0.8"/>
<ellipse cx="447.42" cy="109.60" rx="1.65" ry="0.52" fill="#c8b8e0" transform="rotate(24.79735888765579 447.42 109.60)" opacity="0.8"/>
<ellipse cx="448.94" cy="115.26" rx="1.82" ry="0.96" fill="#c8b8e0" transform="rotate(27.794696861623937 448.94 115.26)" opacity="0.8"/>
<ellipse cx="441.59" cy="105.35" rx="1.06" ry="0.85" fill="#f8f8fc" transform="rotate(26.541438524193488 441.59 105.35)" opacity="0.8"/>
<ellipse cx="455.41" cy="101.71" rx="1.71" ry="0.59" fill="#d8cce8" transform="rotate(24.64123575415769 455.41 101.71)" opacity="0.8"/>
<ellipse cx="479.44" cy="111.56" rx="1.68" ry="0.42" fill="#d8cce8" transform="rotate(12.276643766280007 479.44 111.56)" opacity="0.8"/>
<ellipse cx="467.45" cy="96.56" rx="0.83" ry="0.88" fill="#d8cce8" transform="rotate(28.442739040783913 467.45 96.56)" opacity="0.8"/>
<ellipse cx="471.32" cy="123.08" rx="0.86" ry="0.69" fill="#b8c8ea" transform="rotate(14.91115019596565 471.32 123.08)" opacity="0.8"/>
<ellipse cx="463.27" cy="114.47" rx="1.55" ry="0.72" fill="#c8b8e0" transform="rotate(25.750715038752148 463.27 114.47)" opacity="0.8"/>
<ellipse cx="482.37" cy="114.29" rx="2.08" ry="0.55" fill="#e0d0e8" transform="rotate(18.869395322418022 482.37 114.29)" opacity="0.8"/>
<ellipse cx="480.24" cy="114.35" rx="1.83" ry="0.94" fill="#d8cce8" transform="rotate(11.18319226215001 480.24 114.35)" opacity="0.8"/>
<ellipse cx="490.13" cy="99.22" rx="2.02" ry="0.47" fill="#e0d0e8" transform="rotate(26.048655025909014 490.13 99.22)" opacity="0.8"/>
<ellipse cx="450.48" cy="103.27" rx="1.78" ry="0.75" fill="#f8f8fc" transform="rotate(20.12381887701094 450.48 103.27)" opacity="0.8"/>
<ellipse cx="444.65" cy="123.21" rx="2.15" ry="0.44" fill="#e0d0e8" transform="rotate(10.117412913114105 444.65 123.21)" opacity="0.8"/>
<ellipse cx="483.16" cy="115.31" rx="1.31" ry="0.45" fill="#c8b8e0" transform="rotate(27.123266849668482 483.16 115.31)" opacity="0.8"/>
<ellipse cx="480.50" cy="86.10" rx="1.54" ry="0.52" fill="#d8cce8" transform="rotate(16.070552704226703 480.50 86.10)" opacity="0.8"/>
<ellipse cx="440.49" cy="132.80" rx="1.41" ry="0.85" fill="#b8c8ea" transform="rotate(11.265641229005688 440.49 132.80)" opacity="0.8"/>
<ellipse cx="456.49" cy="103.45" rx="1.36" ry="0.68" fill="#b8c8ea" transform="rotate(11.944714016203573 456.49 103.45)" opacity="0.8"/>
<ellipse cx="476.24" cy="112.58" rx="1.56" ry="0.97" fill="#f8f8fc" transform="rotate(29.04609894953526 476.24 112.58)" opacity="0.8"/>
<ellipse cx="447.33" cy="110.73" rx="1.99" ry="0.51" fill="#f8f8fc" transform="rotate(12.413043892045208 447.33 110.73)" opacity="0.8"/>
<ellipse cx="457.58" cy="118.19" rx="2.30" ry="1.00" fill="#c8b8e0" transform="rotate(12.987463896878173 457.58 118.19)" opacity="0.8"/>
<ellipse cx="459.28" cy="104.13" rx="1.23" ry="0.85" fill="#b8c8ea" transform="rotate(10.692767207102097 459.28 104.13)" opacity="0.8"/>
<ellipse cx="466.39" cy="90.49" rx="1.15" ry="0.59" fill="#d8cce8" transform="rotate(18.838939249776182 466.39 90.49)" opacity="0.8"/>
<ellipse cx="451.44" cy="115.03" rx="1.47" ry="0.41" fill="#c8b8e0" transform="rotate(20.816237533732117 451.44 115.03)" opacity="0.8"/>
<ellipse cx="459.92" cy="114.59" rx="1.36" ry="0.96" fill="#c8b8e0" transform="rotate(27.565497308927746 459.92 114.59)" opacity="0.8"/>
<ellipse cx="445.88" cy="115.25" rx="2.19" ry="0.78" fill="#d8cce8" transform="rotate(14.291444269550889 445.88 115.25)" opacity="0.8"/>
<ellipse cx="446.39" cy="127.86" rx="1.15" ry="0.71" fill="#b8c8ea" transform="rotate(11.951175850164208 446.39 127.86)" opacity="0.8"/>
<ellipse cx="467.32" cy="125.94" rx="2.50" ry="0.99" fill="#b8c8ea" transform="rotate(20.89745129818799 467.32 125.94)" opacity="0.8"/>
<ellipse cx="476.00" cy="109.58" rx="1.80" ry="0.73" fill="#d8cce8" transform="rotate(27.276464195259233 476.00 109.58)" opacity="0.8"/>
<ellipse cx="471.93" cy="117.15" rx="2.39" ry="0.79" fill="#c8b8e0" transform="rotate(11.940177362027399 471.93 117.15)" opacity="0.8"/>
<ellipse cx="439.31" cy="130.15" rx="1.42" ry="0.48" fill="#e0d0e8" transform="rotate(27.819280223944748 439.31 130.15)" opacity="0.8"/>
<ellipse cx="464.28" cy="114.29" rx="1.55" ry="0.93" fill="#f8f8fc" transform="rotate(17.483085921392153 464.28 114.29)" opacity="0.8"/>
<ellipse cx="480.15" cy="95.11" rx="2.40" ry="0.50" fill="#b8c8ea" transform="rotate(20.722138141184814 480.15 95.11)" opacity="0.8"/>
<ellipse cx="451.13" cy="118.08" rx="1.24" ry="0.48" fill="#d8cce8" transform="rotate(27.806191074893547 451.13 118.08)" opacity="0.8"/>
<ellipse cx="496.87" cy="117.81" rx="1.89" ry="0.49" fill="#e0d0e8" transform="rotate(16.554782053619636 496.87 117.81)" opacity="0.8"/>
<ellipse cx="480.14" cy="85.77" rx="1.34" ry="0.71" fill="#b8c8ea" transform="rotate(10.522494228683016 480.14 85.77)" opacity="0.8"/>
<ellipse cx="497.94" cy="90.04" rx="1.54" ry="0.87" fill="#d8cce8" transform="rotate(23.39958792143602 497.94 90.04)" opacity="0.8"/>
<ellipse cx="487.09" cy="105.07" rx="1.00" ry="0.78" fill="#e0d0e8" transform="rotate(13.86584840469811 487.09 105.07)" opacity="0.8"/>
<ellipse cx="495.95" cy="117.11" rx="1.93" ry="0.85" fill="#d8cce8" transform="rotate(12.65854213504204 495.95 117.11)" opacity="0.8"/>
<ellipse cx="450.82" cy="93.75" rx="1.10" ry="0.47" fill="#e0d0e8" transform="rotate(11.594987137574524 450.82 93.75)" opacity="0.8"/>
<ellipse cx="480.86" cy="99.42" rx="0.97" ry="0.99" fill="#d8cce8" transform="rotate(24.517396130492923 480.86 99.42)" opacity="0.8"/>
<ellipse cx="440.04" cy="106.75" rx="1.68" ry="0.62" fill="#c8b8e0" transform="rotate(24.915487906305966 440.04 106.75)" opacity="0.8"/>
<ellipse cx="465.33" cy="96.56" rx="2.06" ry="0.49" fill="#d8cce8" transform="rotate(14.62203257753621 465.33 96.56)" opacity="0.8"/>
<ellipse cx="444.85" cy="103.79" rx="1.83" ry="0.53" fill="#f8f8fc" transform="rotate(24.375361999416242 444.85 103.79)" opacity="0.8"/>
<ellipse cx="444.98" cy="102.43" rx="1.64" ry="0.42" fill="#f8f8fc" transform="rotate(15.20410523532857 444.98 102.43)" opacity="0.8"/>
<ellipse cx="492.34" cy="98.40" rx="1.80" ry="0.72" fill="#d8cce8" transform="rotate(11.454972854390347 492.34 98.40)" opacity="0.8"/>
<ellipse cx="501.58" cy="116.12" rx="1.38" ry="0.69" fill="#d8cce8" transform="rotate(13.76745256827161 501.58 116.12)" opacity="0.8"/>
<ellipse cx="438.57" cy="106.23" rx="2.30" ry="0.78" fill="#c8b8e0" transform="rotate(10.939264074819743 438.57 106.23)" opacity="0.8"/>
<ellipse cx="482.02" cy="110.97" rx="2.35" ry="0.84" fill="#e0d0e8" transform="rotate(19.90033307869902 482.02 110.97)" opacity="0.8"/>
<ellipse cx="448.23" cy="125.57" rx="2.01" ry="0.51" fill="#d8cce8" transform="rotate(21.08111159681117 448.23 125.57)" opacity="0.8"/>
<ellipse cx="459.45" cy="93.09" rx="1.15" ry="0.75" fill="#e0d0e8" transform="rotate(27.31106937304489 459.45 93.09)" opacity="0.8"/>
<ellipse cx="497.52" cy="107.91" rx="1.00" ry="0.50" fill="#f8f8fc" transform="rotate(25.92554429536471 497.52 107.91)" opacity="0.8"/>
<ellipse cx="489.92" cy="112.51" rx="1.16" ry="0.87" fill="#c8b8e0" transform="rotate(18.763240269879994 489.92 112.51)" opacity="0.8"/>
<ellipse cx="473.69" cy="94.16" rx="1.29" ry="0.96" fill="#c8b8e0" transform="rotate(25.05498683373443 473.69 94.16)" opacity="0.8"/>
<ellipse cx="472.61" cy="85.05" rx="2.45" ry="0.91" fill="#f8f8fc" transform="rotate(23.24155489663534 472.61 85.05)" opacity="0.8"/>
<ellipse cx="460.00" cy="101.27" rx="1.99" ry="0.98" fill="#b8c8ea" transform="rotate(18.594740041697214 460.00 101.27)" opacity="0.8"/>
<ellipse cx="467.04" cy="107.78" rx="1.68" ry="0.46" fill="#f8f8fc" transform="rotate(19.512795374581444 467.04 107.78)" opacity="0.8"/>
<ellipse cx="479.05" cy="118.60" rx="2.30" ry="0.84" fill="#b8c8ea" transform="rotate(21.256305866977954 479.05 118.60)" opacity="0.8"/>
<ellipse cx="480.40" cy="118.62" rx="0.95" ry="0.96" fill="#f8f8fc" transform="rotate(27.58918344523414 480.40 118.62)" opacity="0.8"/>
<ellipse cx="480.39" cy="123.16" rx="1.39" ry="0.57" fill="#d8cce8" transform="rotate(23.20513861201531 480.39 123.16)" opacity="0.8"/>
<ellipse cx="489.07" cy="96.63" rx="0.92" ry="0.62" fill="#b8c8ea" transform="rotate(18.794278593669958 489.07 96.63)" opacity="0.8"/>
<ellipse cx="449.66" cy="128.87" rx="0.99" ry="0.71" fill="#f8f8fc" transform="rotate(23.995991091140166 449.66 128.87)" opacity="0.8"/>
<ellipse cx="456.88" cy="92.99" rx="0.83" ry="0.54" fill="#f8f8fc" transform="rotate(12.790344496217212 456.88 92.99)" opacity="0.8"/>
<ellipse cx="493.91" cy="111.17" rx="1.45" ry="0.89" fill="#b8c8ea" transform="rotate(25.799715525361023 493.91 111.17)" opacity="0.8"/>
<ellipse cx="471.37" cy="93.56" rx="2.50" ry="0.47" fill="#e0d0e8" transform="rotate(22.754964281985956 471.37 93.56)" opacity="0.8"/>
<ellipse cx="461.22" cy="95.84" rx="2.12" ry="0.44" fill="#e0d0e8" transform="rotate(13.871696401698593 461.22 95.84)" opacity="0.8"/>
<ellipse cx="487.39" cy="96.04" rx="1.90" ry="0.43" fill="#e0d0e8" transform="rotate(22.668562299849196 487.39 96.04)" opacity="0.8"/>
<ellipse cx="475.47" cy="110.92" rx="1.12" ry="0.77" fill="#b8c8ea" transform="rotate(11.713212385657389 475.47 110.92)" opacity="0.8"/>
<ellipse cx="478.01" cy="103.75" rx="1.65" ry="0.93" fill="#e0d0e8" transform="rotate(16.202934632756687 478.01 103.75)" opacity="0.8"/>
<ellipse cx="463.21" cy="89.42" rx="1.70" ry="0.79" fill="#f8f8fc" transform="rotate(16.06411878552443 463.21 89.42)" opacity="0.8"/>
<ellipse cx="457.16" cy="118.89" rx="1.02" ry="0.54" fill="#b8c8ea" transform="rotate(27.854929697881467 457.16 118.89)" opacity="0.8"/>
<ellipse cx="502.89" cy="109.84" rx="1.85" ry="0.42" fill="#d8cce8" transform="rotate(26.723510534258164 502.89 109.84)" opacity="0.8"/>
<ellipse cx="460.81" cy="114.68" rx="0.96" ry="0.96" fill="#b8c8ea" transform="rotate(25.829221823584657 460.81 114.68)" opacity="0.8"/>
<ellipse cx="458.90" cy="128.19" rx="2.34" ry="0.42" fill="#b8c8ea" transform="rotate(22.390294458909917 458.90 128.19)" opacity="0.8"/>
<ellipse cx="493.85" cy="85.37" rx="1.66" ry="0.98" fill="#f8f8fc" transform="rotate(13.41523060577652 493.85 85.37)" opacity="0.8"/>
<ellipse cx="451.73" cy="120.22" rx="2.18" ry="0.44" fill="#d8cce8" transform="rotate(12.188817248174109 451.73 120.22)" opacity="0.8"/>
<ellipse cx="439.47" cy="114.35" rx="1.86" ry="0.42" fill="#d8cce8" transform="rotate(25.35108067326213 439.47 114.35)" opacity="0.8"/>
<ellipse cx="477.31" cy="96.53" rx="2.37" ry="0.53" fill="#b8c8ea" transform="rotate(21.02280869056815 477.31 96.53)" opacity="0.8"/>
<ellipse cx="497.99" cy="111.49" rx="1.83" ry="0.96" fill="#b8c8ea" transform="rotate(18.16908051269818 497.99 111.49)" opacity="0.8"/>
<ellipse cx="494.22" cy="108.69" rx="0.86" ry="0.83" fill="#d8cce8" transform="rotate(25.21952869909157 494.22 108.69)" opacity="0.8"/>
<ellipse cx="451.87" cy="96.06" rx="0.90" ry="0.90" fill="#f8f8fc" transform="rotate(16.24134836146689 451.87 96.06)" opacity="0.8"/>
<ellipse cx="480.53" cy="115.38" rx="0.86" ry="0.96" fill="#c8b8e0" transform="rotate(11.66121788637604 480.53 115.38)" opacity="0.8"/>
<ellipse cx="445.33" cy="126.38" rx="1.04" ry="0.84" fill="#e0d0e8" transform="rotate(19.653530672622665 445.33 126.38)" opacity="0.8"/>
<ellipse cx="465.88" cy="128.81" rx="1.88" ry="0.99" fill="#b8c8ea" transform="rotate(20.278966135606595 465.88 128.81)" opacity="0.8"/>
<ellipse cx="449.55" cy="121.06" rx="2.33" ry="0.96" fill="#f8f8fc" transform="rotate(15.39842972131706 449.55 121.06)" opacity="0.8"/>
<ellipse cx="467.03" cy="92.34" rx="0.94" ry="0.68" fill="#f8f8fc" transform="rotate(24.21862047549267 467.03 92.34)" opacity="0.8"/>
<ellipse cx="487.20" cy="96.86" rx="2.12" ry="0.84" fill="#f8f8fc" transform="rotate(16.534826459693303 487.20 96.86)" opacity="0.8"/>
<ellipse cx="443.54" cy="112.94" rx="2.22" ry="0.71" fill="#f8f8fc" transform="rotate(18.392210823065962 443.54 112.94)" opacity="0.8"/>
<ellipse cx="472.86" cy="88.11" rx="0.93" ry="0.91" fill="#e0d0e8" transform="rotate(19.09432474658552 472.86 88.11)" opacity="0.8"/>
<ellipse cx="477.43" cy="87.57" rx="2.41" ry="0.48" fill="#c8b8e0" transform="rotate(27.42135795491358 477.43 87.57)" opacity="0.8"/>
<ellipse cx="458.93" cy="101.02" rx="1.89" ry="0.76" fill="#e0d0e8" transform="rotate(20.84800366563241 458.93 101.02)" opacity="0.8"/>
<ellipse cx="498.36" cy="109.40" rx="0.82" ry="0.85" fill="#b8c8ea" transform="rotate(17.71973691142978 498.36 109.40)" opacity="0.8"/>
<ellipse cx="481.52" cy="114.76" rx="1.40" ry="0.59" fill="#c8b8e0" transform="rotate(18.940454569144443 481.52 114.76)" opacity="0.8"/>
<ellipse cx="502.68" cy="84.54" rx="1.98" ry="0.62" fill="#e0d0e8" transform="rotate(29.93593554596209 502.68 84.54)" opacity="0.8"/>
<ellipse cx="454.46" cy="114.74" rx="1.15" ry="0.61" fill="#b8c8ea" transform="rotate(23.230494150353366 454.46 114.74)" opacity="0.8"/>
<ellipse cx="488.63" cy="116.70" rx="1.97" ry="0.83" fill="#c8b8e0" transform="rotate(24.86907584709017 488.63 116.70)" opacity="0.8"/>
<ellipse cx="500.10" cy="84.73" rx="1.32" ry="0.65" fill="#d8cce8" transform="rotate(14.803446733175399 500.10 84.73)" opacity="0.8"/>
<path d="M438.0,97.5 L445.0,93.0 L452.0,91.0 L458.0,88.5 L465.0,86.0 L470.0,85.0 L504.0,84.5 L504.0,100.0 L490.0,99.0 L475.0,99.0 L460.0,101.0 L448.0,104.0 L438.0,107.0Z" fill="#5a78c8" stroke="none" stroke-width="1" />
<ellipse cx="498.36" cy="89.27" rx="1.37" ry="0.75" fill="#4a6ac0" transform="rotate(-23.01739578867632 498.36 89.27)" opacity="0.85"/>
<ellipse cx="489.76" cy="98.61" rx="1.85" ry="0.46" fill="#2e50a8" transform="rotate(-21.703666355911494 489.76 98.61)" opacity="0.85"/>
<ellipse cx="467.02" cy="95.02" rx="0.92" ry="0.50" fill="#7a70c0" transform="rotate(-20.096347049553394 467.02 95.02)" opacity="0.85"/>
<ellipse cx="489.82" cy="91.80" rx="1.91" ry="0.82" fill="#8aa4dc" transform="rotate(0.023551780371580122 489.82 91.80)" opacity="0.85"/>
<ellipse cx="450.66" cy="101.13" rx="2.19" ry="0.66" fill="#8aa4dc" transform="rotate(-8.238099385055804 450.66 101.13)" opacity="0.85"/>
<ellipse cx="493.68" cy="87.76" rx="2.28" ry="0.59" fill="#7a70c0" transform="rotate(-17.301126337739184 493.68 87.76)" opacity="0.85"/>
<ellipse cx="458.68" cy="89.10" rx="1.81" ry="0.45" fill="#7a70c0" transform="rotate(-6.11195400913606 458.68 89.10)" opacity="0.85"/>
<ellipse cx="469.53" cy="94.36" rx="1.50" ry="0.79" fill="#b0a0d8" transform="rotate(-7.733478324231765 469.53 94.36)" opacity="0.85"/>
<ellipse cx="485.68" cy="88.26" rx="1.32" ry="0.83" fill="#b0a0d8" transform="rotate(-23.400700265553887 485.68 88.26)" opacity="0.85"/>
<ellipse cx="472.39" cy="88.28" rx="2.19" ry="0.65" fill="#2e50a8" transform="rotate(-10.01664044328077 472.39 88.28)" opacity="0.85"/>
<ellipse cx="459.65" cy="88.09" rx="1.51" ry="0.60" fill="#3a60b8" transform="rotate(0.2815009570860276 459.65 88.09)" opacity="0.85"/>
<ellipse cx="490.67" cy="88.81" rx="1.66" ry="0.56" fill="#2e50a8" transform="rotate(-14.795689614359569 490.67 88.81)" opacity="0.85"/>
<ellipse cx="477.23" cy="94.12" rx="1.95" ry="0.40" fill="#2e50a8" transform="rotate(-8.126892318746954 477.23 94.12)" opacity="0.85"/>
<ellipse cx="459.25" cy="95.53" rx="1.63" ry="0.45" fill="#4a6ac0" transform="rotate(-1.9014130119563362 459.25 95.53)" opacity="0.85"/>
<ellipse cx="490.74" cy="97.86" rx="2.00" ry="0.82" fill="#2e50a8" transform="rotate(-18.853885478588086 490.74 97.86)" opacity="0.85"/>
<ellipse cx="467.02" cy="96.36" rx="0.98" ry="0.77" fill="#2e50a8" transform="rotate(-18.99540069530469 467.02 96.36)" opacity="0.85"/>
<ellipse cx="498.10" cy="86.49" rx="2.19" ry="0.83" fill="#6a88d0" transform="rotate(-7.895368288529376 498.10 86.49)" opacity="0.85"/>
<ellipse cx="464.39" cy="92.23" rx="1.48" ry="0.49" fill="#6a88d0" transform="rotate(-6.2614877787503325 464.39 92.23)" opacity="0.85"/>
<ellipse cx="466.82" cy="90.01" rx="1.60" ry="0.64" fill="#b0a0d8" transform="rotate(1.5042495179861817 466.82 90.01)" opacity="0.85"/>
<ellipse cx="484.56" cy="96.23" rx="0.82" ry="0.67" fill="#6a88d0" transform="rotate(-8.76621549338996 484.56 96.23)" opacity="0.85"/>
<ellipse cx="490.22" cy="92.92" rx="2.22" ry="0.70" fill="#8aa4dc" transform="rotate(-15.135252701378027 490.22 92.92)" opacity="0.85"/>
<ellipse cx="441.85" cy="105.57" rx="1.94" ry="0.99" fill="#7a70c0" transform="rotate(-10.106624092395137 441.85 105.57)" opacity="0.85"/>
<ellipse cx="488.47" cy="88.20" rx="2.29" ry="0.44" fill="#6a88d0" transform="rotate(-12.24874660608134 488.47 88.20)" opacity="0.85"/>
<ellipse cx="491.42" cy="97.93" rx="1.59" ry="0.78" fill="#4a6ac0" transform="rotate(2.2146010000002008 491.42 97.93)" opacity="0.85"/>
<ellipse cx="442.55" cy="99.26" rx="1.14" ry="0.83" fill="#8aa4dc" transform="rotate(-15.467289679990746 442.55 99.26)" opacity="0.85"/>
<ellipse cx="497.76" cy="90.41" rx="1.99" ry="1.00" fill="#4a6ac0" transform="rotate(-12.021330903225744 497.76 90.41)" opacity="0.85"/>
<ellipse cx="452.54" cy="92.61" rx="1.78" ry="0.84" fill="#4a6ac0" transform="rotate(-1.0025286464044534 452.54 92.61)" opacity="0.85"/>
<ellipse cx="460.49" cy="87.64" rx="1.58" ry="0.47" fill="#2e50a8" transform="rotate(-14.703003906857749 460.49 87.64)" opacity="0.85"/>
<ellipse cx="495.62" cy="95.75" rx="2.23" ry="0.57" fill="#4a6ac0" transform="rotate(4.44015385335565 495.62 95.75)" opacity="0.85"/>
<ellipse cx="445.37" cy="100.83" rx="0.94" ry="0.94" fill="#2e50a8" transform="rotate(-23.18961511345695 445.37 100.83)" opacity="0.85"/>
<ellipse cx="448.67" cy="101.82" rx="1.31" ry="0.70" fill="#2e50a8" transform="rotate(1.2974491178917944 448.67 101.82)" opacity="0.85"/>
<ellipse cx="477.43" cy="93.73" rx="1.95" ry="0.87" fill="#b0a0d8" transform="rotate(-12.018939322866883 477.43 93.73)" opacity="0.85"/>
<ellipse cx="439.66" cy="99.13" rx="2.24" ry="0.61" fill="#6a88d0" transform="rotate(-20.60623601908899 439.66 99.13)" opacity="0.85"/>
<ellipse cx="471.81" cy="87.02" rx="2.02" ry="0.75" fill="#6a88d0" transform="rotate(-9.989859304654331 471.81 87.02)" opacity="0.85"/>
<ellipse cx="446.31" cy="99.24" rx="1.24" ry="0.55" fill="#8aa4dc" transform="rotate(1.963067002850238 446.31 99.24)" opacity="0.85"/>
<ellipse cx="498.53" cy="98.41" rx="2.07" ry="0.51" fill="#b0a0d8" transform="rotate(-21.789017461309697 498.53 98.41)" opacity="0.85"/>
<ellipse cx="467.89" cy="98.14" rx="2.24" ry="0.75" fill="#7a70c0" transform="rotate(-4.644765600651059 467.89 98.14)" opacity="0.85"/>
<ellipse cx="456.95" cy="98.15" rx="2.08" ry="0.78" fill="#6a88d0" transform="rotate(-11.316403757270452 456.95 98.15)" opacity="0.85"/>
<ellipse cx="503.15" cy="99.31" rx="1.52" ry="0.69" fill="#b0a0d8" transform="rotate(-18.77735453108692 503.15 99.31)" opacity="0.85"/>
<ellipse cx="500.60" cy="97.56" rx="2.26" ry="0.66" fill="#3a60b8" transform="rotate(-6.977352260628621 500.60 97.56)" opacity="0.85"/>
<ellipse cx="477.49" cy="90.15" rx="1.78" ry="0.50" fill="#6a88d0" transform="rotate(-17.650013778880037 477.49 90.15)" opacity="0.85"/>
<ellipse cx="491.89" cy="84.81" rx="0.96" ry="0.89" fill="#4a6ac0" transform="rotate(-19.747520070558192 491.89 84.81)" opacity="0.85"/>
<ellipse cx="443.19" cy="94.54" rx="1.94" ry="0.64" fill="#b0a0d8" transform="rotate(-17.18196803639581 443.19 94.54)" opacity="0.85"/>
<ellipse cx="494.86" cy="98.30" rx="1.43" ry="0.94" fill="#7a70c0" transform="rotate(-17.543185826928184 494.86 98.30)" opacity="0.85"/>
<ellipse cx="497.46" cy="91.83" rx="1.18" ry="0.40" fill="#b0a0d8" transform="rotate(-3.0083196204787086 497.46 91.83)" opacity="0.85"/>
<ellipse cx="492.18" cy="84.78" rx="1.93" ry="0.72" fill="#2e50a8" transform="rotate(3.327455217365703 492.18 84.78)" opacity="0.85"/>
<ellipse cx="448.22" cy="103.40" rx="0.96" ry="0.86" fill="#8aa4dc" transform="rotate(-1.3920893540673198 448.22 103.40)" opacity="0.85"/>
<ellipse cx="470.33" cy="89.09" rx="2.14" ry="0.51" fill="#3a60b8" transform="rotate(2.8011383440944364 470.33 89.09)" opacity="0.85"/>
<ellipse cx="491.41" cy="96.16" rx="1.46" ry="0.43" fill="#8aa4dc" transform="rotate(-11.038607409917192 491.41 96.16)" opacity="0.85"/>
<ellipse cx="466.92" cy="99.22" rx="1.40" ry="0.64" fill="#2e50a8" transform="rotate(-8.74181781772337 466.92 99.22)" opacity="0.85"/>
<ellipse cx="487.13" cy="87.52" rx="1.99" ry="0.48" fill="#3a60b8" transform="rotate(-13.357825030016699 487.13 87.52)" opacity="0.85"/>
<ellipse cx="499.50" cy="95.89" rx="1.07" ry="0.85" fill="#4a6ac0" transform="rotate(-8.490628773897772 499.50 95.89)" opacity="0.85"/>
<ellipse cx="460.98" cy="98.04" rx="1.39" ry="0.90" fill="#b0a0d8" transform="rotate(-15.733859439386656 460.98 98.04)" opacity="0.85"/>
<ellipse cx="442.80" cy="95.69" rx="1.57" ry="0.53" fill="#8aa4dc" transform="rotate(0.09122938145268833 442.80 95.69)" opacity="0.85"/>
<ellipse cx="502.64" cy="94.74" rx="1.92" ry="0.66" fill="#6a88d0" transform="rotate(-0.12993795116582874 502.64 94.74)" opacity="0.85"/>
<ellipse cx="490.09" cy="94.62" rx="2.20" ry="0.53" fill="#2e50a8" transform="rotate(-18.45798716383232 490.09 94.62)" opacity="0.85"/>
<ellipse cx="498.17" cy="98.87" rx="2.08" ry="0.50" fill="#7a70c0" transform="rotate(-20.795303241059194 498.17 98.87)" opacity="0.85"/>
<ellipse cx="439.42" cy="105.39" rx="2.38" ry="0.95" fill="#3a60b8" transform="rotate(-8.035727423585811 439.42 105.39)" opacity="0.85"/>
<ellipse cx="493.40" cy="95.95" rx="0.93" ry="0.97" fill="#7a70c0" transform="rotate(1.5627756143775713 493.40 95.95)" opacity="0.85"/>
<ellipse cx="497.01" cy="96.63" rx="1.63" ry="0.82" fill="#b0a0d8" transform="rotate(-21.69452559034023 497.01 96.63)" opacity="0.85"/>
<ellipse cx="460.37" cy="92.26" rx="2.25" ry="0.91" fill="#7a70c0" transform="rotate(-16.58640776378618 460.37 92.26)" opacity="0.85"/>
<ellipse cx="459.81" cy="90.89" rx="1.11" ry="0.41" fill="#6a88d0" transform="rotate(-22.64326321091127 459.81 90.89)" opacity="0.85"/>
<ellipse cx="473.13" cy="86.00" rx="1.00" ry="0.63" fill="#3a60b8" transform="rotate(-8.586940985297318 473.13 86.00)" opacity="0.85"/>
<ellipse cx="502.06" cy="90.44" rx="0.84" ry="0.96" fill="#7a70c0" transform="rotate(-1.864375263021632 502.06 90.44)" opacity="0.85"/>
<ellipse cx="448.97" cy="103.52" rx="2.18" ry="0.71" fill="#6a88d0" transform="rotate(-15.57019862534527 448.97 103.52)" opacity="0.85"/>
<ellipse cx="439.87" cy="98.75" rx="1.35" ry="0.49" fill="#6a88d0" transform="rotate(-14.208321774326091 439.87 98.75)" opacity="0.85"/>
<ellipse cx="458.45" cy="99.02" rx="1.02" ry="0.98" fill="#8aa4dc" transform="rotate(-7.352983968743455 458.45 99.02)" opacity="0.85"/>
<ellipse cx="450.37" cy="102.89" rx="1.73" ry="0.45" fill="#8aa4dc" transform="rotate(-17.757423295795988 450.37 102.89)" opacity="0.85"/>
<ellipse cx="440.77" cy="104.74" rx="0.98" ry="0.72" fill="#3a60b8" transform="rotate(-14.940313149690693 440.77 104.74)" opacity="0.85"/>
<ellipse cx="484.58" cy="92.88" rx="0.85" ry="0.45" fill="#4a6ac0" transform="rotate(4.229776082276505 484.58 92.88)" opacity="0.85"/>
<ellipse cx="452.71" cy="100.26" rx="2.23" ry="0.85" fill="#3a60b8" transform="rotate(4.781168140605864 452.71 100.26)" opacity="0.85"/>
<ellipse cx="438.14" cy="102.98" rx="0.88" ry="0.73" fill="#7a70c0" transform="rotate(0.047676565096249846 438.14 102.98)" opacity="0.85"/>
<ellipse cx="464.97" cy="87.62" rx="1.74" ry="0.56" fill="#6a88d0" transform="rotate(-0.7269799982945777 464.97 87.62)" opacity="0.85"/>
<ellipse cx="468.36" cy="96.21" rx="0.90" ry="0.84" fill="#4a6ac0" transform="rotate(-5.013305271991776 468.36 96.21)" opacity="0.85"/>
<ellipse cx="482.71" cy="94.13" rx="1.05" ry="0.41" fill="#4a6ac0" transform="rotate(-6.928374556608887 482.71 94.13)" opacity="0.85"/>
<ellipse cx="441.99" cy="98.84" rx="2.13" ry="0.52" fill="#3a60b8" transform="rotate(-19.94777511184405 441.99 98.84)" opacity="0.85"/>
<ellipse cx="467.03" cy="94.34" rx="2.34" ry="0.69" fill="#b0a0d8" transform="rotate(2.594054875250123 467.03 94.34)" opacity="0.85"/>
<ellipse cx="480.62" cy="84.87" rx="2.04" ry="0.86" fill="#6a88d0" transform="rotate(-8.88489279953323 480.62 84.87)" opacity="0.85"/>
<ellipse cx="498.50" cy="93.13" rx="1.23" ry="0.59" fill="#4a6ac0" transform="rotate(0.7217582625391614 498.50 93.13)" opacity="0.85"/>
<ellipse cx="442.63" cy="104.87" rx="1.30" ry="0.89" fill="#8aa4dc" transform="rotate(2.5971815185465132 442.63 104.87)" opacity="0.85"/>
<ellipse cx="479.68" cy="90.83" rx="2.14" ry="0.75" fill="#b0a0d8" transform="rotate(-3.2169263652675113 479.68 90.83)" opacity="0.85"/>
<ellipse cx="474.83" cy="94.77" rx="1.61" ry="0.68" fill="#3a60b8" transform="rotate(-2.229040062566412 474.83 94.77)" opacity="0.85"/>
<ellipse cx="487.07" cy="89.77" rx="2.37" ry="0.84" fill="#6a88d0" transform="rotate(-16.46777997314853 487.07 89.77)" opacity="0.85"/>
<ellipse cx="460.28" cy="97.24" rx="2.28" ry="0.81" fill="#7a70c0" transform="rotate(-18.814433173608762 460.28 97.24)" opacity="0.85"/>
<ellipse cx="495.55" cy="89.42" rx="1.20" ry="0.79" fill="#6a88d0" transform="rotate(-12.76861168170032 495.55 89.42)" opacity="0.85"/>
<ellipse cx="463.87" cy="99.81" rx="1.51" ry="0.80" fill="#7a70c0" transform="rotate(-12.453732987105802 463.87 99.81)" opacity="0.85"/>
<ellipse cx="498.54" cy="95.18" rx="1.98" ry="0.55" fill="#3a60b8" transform="rotate(-10.153953159256696 498.54 95.18)" opacity="0.85"/>
<ellipse cx="470.46" cy="96.21" rx="1.81" ry="0.72" fill="#7a70c0" transform="rotate(-14.46433746792325 470.46 96.21)" opacity="0.85"/>
<ellipse cx="487.46" cy="92.70" rx="1.99" ry="0.79" fill="#3a60b8" transform="rotate(-7.332326647171509 487.46 92.70)" opacity="0.85"/>
<ellipse cx="502.17" cy="92.90" rx="1.67" ry="0.52" fill="#6a88d0" transform="rotate(-24.541302617322984 502.17 92.90)" opacity="0.85"/>
<ellipse cx="485.08" cy="96.21" rx="1.27" ry="0.66" fill="#2e50a8" transform="rotate(-15.166883512943656 485.08 96.21)" opacity="0.85"/>
<ellipse cx="475.36" cy="94.84" rx="2.39" ry="0.81" fill="#8aa4dc" transform="rotate(-12.032163463996206 475.36 94.84)" opacity="0.85"/>
<ellipse cx="479.56" cy="89.88" rx="1.95" ry="0.79" fill="#2e50a8" transform="rotate(-16.50310667885866 479.56 89.88)" opacity="0.85"/>
<ellipse cx="454.52" cy="91.68" rx="1.22" ry="0.78" fill="#3a60b8" transform="rotate(-11.347317999788867 454.52 91.68)" opacity="0.85"/>
<ellipse cx="488.80" cy="93.31" rx="2.02" ry="0.47" fill="#3a60b8" transform="rotate(-17.183811716440154 488.80 93.31)" opacity="0.85"/>
<ellipse cx="493.38" cy="95.01" rx="0.97" ry="0.86" fill="#3a60b8" transform="rotate(-7.7252926990027255 493.38 95.01)" opacity="0.85"/>
<ellipse cx="448.09" cy="101.87" rx="1.28" ry="0.81" fill="#4a6ac0" transform="rotate(2.506364467384195 448.09 101.87)" opacity="0.85"/>
<ellipse cx="479.40" cy="88.22" rx="1.25" ry="0.75" fill="#4a6ac0" transform="rotate(4.517826525959876 479.40 88.22)" opacity="0.85"/>
<ellipse cx="503.45" cy="96.76" rx="2.02" ry="0.62" fill="#b0a0d8" transform="rotate(-17.5802385943882 503.45 96.76)" opacity="0.85"/>
<ellipse cx="477.13" cy="96.77" rx="1.20" ry="0.56" fill="#8aa4dc" transform="rotate(-18.36417142296861 477.13 96.77)" opacity="0.85"/>
<ellipse cx="479.82" cy="90.31" rx="2.07" ry="0.77" fill="#4a6ac0" transform="rotate(-14.293417874328586 479.82 90.31)" opacity="0.85"/>
<ellipse cx="452.60" cy="98.34" rx="1.92" ry="0.50" fill="#7a70c0" transform="rotate(-1.1808083259271989 452.60 98.34)" opacity="0.85"/>
<ellipse cx="496.28" cy="88.12" rx="2.16" ry="0.41" fill="#8aa4dc" transform="rotate(-21.107295221684907 496.28 88.12)" opacity="0.85"/>
<ellipse cx="485.85" cy="94.55" rx="1.93" ry="0.84" fill="#2e50a8" transform="rotate(-11.193934445317822 485.85 94.55)" opacity="0.85"/>
<ellipse cx="444.76" cy="94.16" rx="1.48" ry="0.59" fill="#2e50a8" transform="rotate(-0.269414824476911 444.76 94.16)" opacity="0.85"/>
<ellipse cx="460.65" cy="92.26" rx="1.75" ry="0.99" fill="#6a88d0" transform="rotate(-5.34593277639425 460.65 92.26)" opacity="0.85"/>
<ellipse cx="484.39" cy="91.15" rx="0.90" ry="0.52" fill="#8aa4dc" transform="rotate(-14.279419193710076 484.39 91.15)" opacity="0.85"/>
<ellipse cx="462.21" cy="97.55" rx="1.05" ry="0.69" fill="#6a88d0" transform="rotate(-5.7963853679230795 462.21 97.55)" opacity="0.85"/>
<ellipse cx="455.42" cy="101.10" rx="2.23" ry="0.56" fill="#4a6ac0" transform="rotate(-17.945628247032523 455.42 101.10)" opacity="0.85"/>
<ellipse cx="462.17" cy="93.96" rx="1.89" ry="0.70" fill="#2e50a8" transform="rotate(-24.14201969935993 462.17 93.96)" opacity="0.85"/>
<path d="M438,97.5 L445,93 L452,91 L458,88.5 L465,86 L470,85 L504,84.5" fill="none" stroke="#c83a70" stroke-width="1.1" />
<path d="M468.5,87 L488,95" fill="none" stroke="#f0e040" stroke-width="1.8" />
<path d="M440,104 L470,110" fill="none" stroke="#b02070" stroke-width="2.0" stroke-linecap="round"/>
<path d="M445,113 L478,118" fill="none" stroke="#c02858" stroke-width="2.1" stroke-linecap="round"/>
<path d="M475,100 L500,104" fill="none" stroke="#c02858" stroke-width="1.9" stroke-linecap="round"/>
<path d="M478,108 L495,112" fill="none" stroke="#c02858" stroke-width="1.9" stroke-linecap="round"/>
<path d="M440,117 L465,122" fill="none" stroke="#c02858" stroke-width="2.0" stroke-linecap="round"/>
<path d="M438,125 L455,130" fill="none" stroke="#b02070" stroke-width="1.8" stroke-linecap="round"/>
<path d="M452,106 L472,112" fill="none" stroke="#d05080" stroke-width="1.5" stroke-linecap="round"/>
<path d="M462,118 L476,121" fill="none" stroke="#c03068" stroke-width="1.4" stroke-linecap="round"/>
<path d="M485,104 L503,107" fill="none" stroke="#c03068" stroke-width="1.5" stroke-linecap="round"/>
<path d="M438,110 L450,112.5" fill="none" stroke="#a03088" stroke-width="1.3" stroke-linecap="round"/>
<path d="M448,121 L470,126" fill="none" stroke="#9a50b0" stroke-width="1.2" stroke-linecap="round"/>
<path d="M470,122 L490,118" fill="none" stroke="#8a60c0" stroke-width="1.0" stroke-linecap="round"/>
<ellipse cx="476.50" cy="115.00" rx="2.20" ry="4.50" fill="#8a1e78" transform="rotate(-35 476.50 115.00)" opacity="0.9"/>
<ellipse cx="482.00" cy="114.50" rx="2.00" ry="4.20" fill="#9a2888" transform="rotate(-35 482.00 114.50)" opacity="0.9"/>
<ellipse cx="493.00" cy="112.00" rx="2.00" ry="4.00" fill="#9a2888" transform="rotate(-35 493.00 112.00)" opacity="0.9"/>
<ellipse cx="458.00" cy="130.00" rx="2.60" ry="1.60" fill="#8a1e78" transform="rotate(-20 458.00 130.00)" opacity="0.9"/>
<path d="M438,134 L470,128.5 L489.8,121 L504,116.3 L504,119.5 L489.8,124.5 L470,132.5 L438,139Z" fill="#e0a0c4" stroke="none" stroke-width="1" />
<ellipse cx="468.16" cy="129.73" rx="0.56" ry="0.65" fill="#c8a0d0" transform="rotate(8.713074261915674 468.16 129.73)" opacity="0.8"/>
<ellipse cx="455.17" cy="133.65" rx="1.02" ry="0.62" fill="#c8a0d0" transform="rotate(12.810907854665786 455.17 133.65)" opacity="0.8"/>
<ellipse cx="480.30" cy="127.64" rx="1.18" ry="0.70" fill="#d86098" transform="rotate(16.043374226992057 480.30 127.64)" opacity="0.8"/>
<ellipse cx="459.88" cy="132.14" rx="0.62" ry="0.40" fill="#f0c0d8" transform="rotate(19.914201601815932 459.88 132.14)" opacity="0.8"/>
<ellipse cx="458.44" cy="134.32" rx="0.98" ry="0.41" fill="#c8a0d0" transform="rotate(9.817048075478942 458.44 134.32)" opacity="0.8"/>
<ellipse cx="499.18" cy="119.47" rx="0.77" ry="0.51" fill="#f0c0d8" transform="rotate(1.7438218080204226 499.18 119.47)" opacity="0.8"/>
<ellipse cx="440.08" cy="136.61" rx="1.19" ry="0.65" fill="#f0c0d8" transform="rotate(13.157698085450507 440.08 136.61)" opacity="0.8"/>
<ellipse cx="454.39" cy="131.66" rx="1.11" ry="0.69" fill="#d86098" transform="rotate(4.639673679720198 454.39 131.66)" opacity="0.8"/>
<ellipse cx="465.51" cy="129.72" rx="0.91" ry="0.59" fill="#d86098" transform="rotate(3.4814653185618782 465.51 129.72)" opacity="0.8"/>
<ellipse cx="477.91" cy="128.55" rx="1.11" ry="0.45" fill="#c8a0d0" transform="rotate(19.646407679871253 477.91 128.55)" opacity="0.8"/>
<ellipse cx="494.36" cy="121.30" rx="0.81" ry="0.47" fill="#c8a0d0" transform="rotate(9.91142543393394 494.36 121.30)" opacity="0.8"/>
<ellipse cx="485.43" cy="123.65" rx="0.67" ry="0.48" fill="#c8a0d0" transform="rotate(3.280369147449922 485.43 123.65)" opacity="0.8"/>
<ellipse cx="462.65" cy="133.10" rx="0.58" ry="0.44" fill="#f0c0d8" transform="rotate(12.708130455567698 462.65 133.10)" opacity="0.8"/>
<ellipse cx="461.17" cy="131.21" rx="1.15" ry="0.69" fill="#d86098" transform="rotate(6.973898269940461 461.17 131.21)" opacity="0.8"/>
<ellipse cx="462.04" cy="132.25" rx="1.18" ry="0.66" fill="#f0c0d8" transform="rotate(17.212960263270492 462.04 132.25)" opacity="0.8"/>
<ellipse cx="488.03" cy="124.44" rx="0.51" ry="0.76" fill="#d86098" transform="rotate(1.4022329546789325 488.03 124.44)" opacity="0.8"/>
<ellipse cx="439.28" cy="133.92" rx="0.89" ry="0.66" fill="#f0c0d8" transform="rotate(12.019377967808367 439.28 133.92)" opacity="0.8"/>
<ellipse cx="483.13" cy="126.17" rx="0.93" ry="0.64" fill="#c8a0d0" transform="rotate(3.558735626462717 483.13 126.17)" opacity="0.8"/>
<ellipse cx="460.79" cy="133.03" rx="0.73" ry="0.51" fill="#d86098" transform="rotate(2.111558627675907 460.79 133.03)" opacity="0.8"/>
<ellipse cx="442.79" cy="134.59" rx="0.55" ry="0.78" fill="#f0c0d8" transform="rotate(3.705269740501582 442.79 134.59)" opacity="0.8"/>
<ellipse cx="458.70" cy="133.05" rx="1.16" ry="0.44" fill="#d86098" transform="rotate(9.138042823233732 458.70 133.05)" opacity="0.8"/>
<ellipse cx="496.10" cy="120.73" rx="0.87" ry="0.59" fill="#f0c0d8" transform="rotate(8.151084493136626 496.10 120.73)" opacity="0.8"/>
<ellipse cx="500.54" cy="117.52" rx="1.18" ry="0.49" fill="#d86098" transform="rotate(2.441978764286803 500.54 117.52)" opacity="0.8"/>
<ellipse cx="479.38" cy="128.41" rx="1.04" ry="0.58" fill="#c8a0d0" transform="rotate(0.6318963476850881 479.38 128.41)" opacity="0.8"/>
<ellipse cx="495.51" cy="122.14" rx="0.80" ry="0.70" fill="#f0c0d8" transform="rotate(9.56171039285611 495.51 122.14)" opacity="0.8"/>
<ellipse cx="491.21" cy="120.71" rx="1.15" ry="0.44" fill="#d86098" transform="rotate(10.517535141904744 491.21 120.71)" opacity="0.8"/>
<ellipse cx="476.31" cy="129.65" rx="0.72" ry="0.42" fill="#c8a0d0" transform="rotate(1.0639531690465653 476.31 129.65)" opacity="0.8"/>
<ellipse cx="497.20" cy="119.39" rx="0.83" ry="0.66" fill="#d86098" transform="rotate(12.952644169652178 497.20 119.39)" opacity="0.8"/>
<ellipse cx="498.68" cy="118.42" rx="0.62" ry="0.70" fill="#d86098" transform="rotate(9.630737985672367 498.68 118.42)" opacity="0.8"/>
<ellipse cx="495.38" cy="120.69" rx="0.67" ry="0.42" fill="#d86098" transform="rotate(6.039629880223747 495.38 120.69)" opacity="0.8"/>
<ellipse cx="478.28" cy="127.26" rx="0.88" ry="0.51" fill="#d86098" transform="rotate(8.305667460317682 478.28 127.26)" opacity="0.8"/>
<ellipse cx="461.59" cy="133.81" rx="0.84" ry="0.74" fill="#f0c0d8" transform="rotate(6.505374791144545 461.59 133.81)" opacity="0.8"/>
<ellipse cx="497.84" cy="119.21" rx="1.14" ry="0.55" fill="#d86098" transform="rotate(6.326835417434329 497.84 119.21)" opacity="0.8"/>
<ellipse cx="501.31" cy="118.87" rx="1.13" ry="0.48" fill="#f0c0d8" transform="rotate(14.443749341431502 501.31 118.87)" opacity="0.8"/>
<ellipse cx="469.28" cy="130.03" rx="1.07" ry="0.47" fill="#f0c0d8" transform="rotate(2.256953244218576 469.28 130.03)" opacity="0.8"/>
<ellipse cx="476.31" cy="129.23" rx="0.60" ry="0.43" fill="#c8a0d0" transform="rotate(9.702435838275552 476.31 129.23)" opacity="0.8"/>
<ellipse cx="470.74" cy="131.01" rx="0.96" ry="0.65" fill="#c8a0d0" transform="rotate(15.137072221957231 470.74 131.01)" opacity="0.8"/>
<ellipse cx="461.78" cy="131.13" rx="0.95" ry="0.56" fill="#f0c0d8" transform="rotate(1.191315232324599 461.78 131.13)" opacity="0.8"/>
<ellipse cx="494.12" cy="121.33" rx="0.61" ry="0.43" fill="#f0c0d8" transform="rotate(5.134660899617655 494.12 121.33)" opacity="0.8"/>
<ellipse cx="446.15" cy="136.06" rx="0.65" ry="0.41" fill="#f0c0d8" transform="rotate(17.229512648309836 446.15 136.06)" opacity="0.8"/>
<path d="M438,139 L470,132.5 L489.8,124.5 L504,119.5 L504,143 L438,143Z" fill="#d6e8ee" stroke="none" stroke-width="1" />
<path d="M438,139 L470,132.5 L489.8,124.5 L504,119.5" fill="none" stroke="#b8b8d8" stroke-width="0.6" />
</g></g>
<rect x="438.00" y="28.40" width="66.00" height="113.80" fill="none" stroke="#222" stroke-width="1" />
<line x1="438.00" y1="84.70" x2="504.00" y2="84.70" stroke="#222" stroke-width="1" />
<text x="507" y="55.3" font-size="8.6" text-anchor="middle" transform="rotate(90 507 55.3)" fill="#111">PBS</text>
<text x="507" y="115" font-size="8.6" text-anchor="middle" transform="rotate(90 507 115)" fill="#111">Anti-miR-31</text>
<defs><filter id="bl06" x="-50%" y="-50%" width="200%" height="200%"><feGaussianBlur stdDeviation="0.6"/></filter><filter id="bl1" x="-50%" y="-50%" width="200%" height="200%"><feGaussianBlur stdDeviation="1"/></filter><filter id="bl15" x="-50%" y="-50%" width="200%" height="200%"><feGaussianBlur stdDeviation="1.5"/></filter><filter id="bl2" x="-50%" y="-50%" width="200%" height="200%"><feGaussianBlur stdDeviation="2.2"/></filter></defs>
<text x="6.60" y="171.00" font-size="11.2" text-anchor="start" font-weight="bold" fill="#000" >E</text>
<text x="85.50" y="174.30" font-size="8.8" text-anchor="middle" font-weight="normal" fill="#111" >PBS</text>
<clipPath id="ce1"><rect x="37.9" y="179.0" width="95.29999999999998" height="95.60000000000002"/></clipPath>
<g clip-path="url(#ce1)">
<path d="M93.6 220.4h.01M93.9 228.7h.01M93.7 207.8h.01M98.3 219.5h.01M92.8 223.1h.01M97.3 233.1h.01M101.6 223.0h.01M87.6 212.4h.01M97.5 234.5h.01M95.4 221.0h.01M100.3 208.2h.01M91.9 226.7h.01M103.7 219.7h.01M98.8 224.4h.01M102.8 211.4h.01M100.7 207.6h.01M68.8 216.2h.01M85.8 230.3h.01M101.6 210.4h.01M103.5 212.5h.01M94.1 219.2h.01M96.1 229.8h.01M101.4 225.3h.01M101.5 226.5h.01M88.7 215.2h.01M90.3 226.7h.01M92.5 244.2h.01M86.8 211.6h.01M102.7 235.5h.01M100.1 229.9h.01M109.3 221.1h.01M80.8 216.9h.01M104.5 208.3h.01M95.3 224.4h.01M91.8 228.9h.01M100.8 244.1h.01M101.2 216.2h.01M89.4 214.1h.01M104.5 216.6h.01M94.3 229.1h.01M87.8 219.2h.01M76.6 211.7h.01M89.3 225.9h.01M106.9 221.8h.01M97.6 223.6h.01M105.8 230.5h.01M97.7 212.4h.01M104.0 225.6h.01M107.3 221.7h.01M114.5 218.6h.01M110.9 223.1h.01M89.8 211.3h.01M93.5 235.5h.01M103.2 228.5h.01M71.2 228.8h.01M100.6 216.8h.01M88.7 222.0h.01M112.2 212.0h.01M90.7 234.9h.01M90.5 218.5h.01M96.0 210.2h.01M97.2 210.5h.01M103.9 222.0h.01M117.8 224.7h.01M108.7 209.6h.01M93.8 225.1h.01M112.5 206.0h.01M104.9 227.6h.01M110.3 228.8h.01M95.5 217.0h.01M82.5 223.9h.01M93.1 241.2h.01M88.9 225.0h.01M79.3 218.2h.01M97.6 229.8h.01M109.5 221.6h.01M83.8 226.3h.01M100.2 226.7h.01M88.0 232.8h.01M95.9 228.6h.01M107.7 227.8h.01M97.9 242.5h.01M97.4 219.2h.01M96.1 236.1h.01M96.2 226.9h.01M107.0 217.1h.01M77.7 224.8h.01M97.3 216.2h.01M103.7 227.8h.01M85.1 226.9h.01M93.0 207.9h.01M99.5 221.6h.01M87.5 227.0h.01M99.9 216.5h.01M99.0 231.6h.01M87.9 225.6h.01M95.0 243.5h.01M76.4 228.6h.01M91.9 221.0h.01M114.0 221.9h.01M117.4 217.8h.01M98.5 217.3h.01M88.1 222.6h.01M92.2 223.9h.01M73.9 241.0h.01M93.3 238.6h.01M84.9 224.8h.01M126.6 213.7h.01M80.0 216.8h.01M99.7 228.6h.01M107.9 219.6h.01M79.0 217.9h.01M107.4 226.4h.01M75.4 221.7h.01M109.0 242.2h.01M100.6 224.9h.01M82.6 214.0h.01M95.5 226.8h.01M100.8 217.5h.01M83.5 214.6h.01M83.4 228.1h.01M71.9 218.8h.01M99.5 236.5h.01M95.7 231.5h.01M91.0 214.9h.01M88.3 236.5h.01M104.9 226.6h.01M128.3 221.7h.01M101.2 224.9h.01M92.8 244.0h.01M110.1 208.7h.01M91.0 226.1h.01M102.8 209.2h.01M72.4 203.9h.01M94.3 221.0h.01M98.5 214.7h.01M82.8 202.8h.01M98.3 225.5h.01M104.9 229.5h.01M93.1 234.8h.01M93.6 215.7h.01M89.8 216.4h.01M73.3 223.5h.01M97.5 218.6h.01M87.9 225.5h.01M112.2 222.4h.01M89.9 216.4h.01M94.3 210.0h.01M93.7 222.6h.01M113.4 231.0h.01M105.3 215.2h.01M101.7 211.2h.01M98.1 226.0h.01M87.3 241.0h.01M100.7 203.9h.01M100.5 218.1h.01M95.0 226.4h.01M98.9 202.6h.01M83.4 229.3h.01M108.0 240.1h.01M113.0 202.5h.01M102.7 203.8h.01M111.1 224.4h.01M83.6 241.1h.01M101.4 204.0h.01M97.9 215.1h.01M96.1 217.6h.01M108.7 208.5h.01M98.2 239.2h.01M86.7 224.0h.01M97.0 215.4h.01M101.5 222.9h.01M85.6 238.7h.01M102.9 220.4h.01M88.6 214.5h.01M107.3 220.6h.01M99.6 220.2h.01M101.2 220.9h.01M102.6 220.3h.01M103.3 228.4h.01M93.8 213.8h.01M85.6 215.0h.01M85.2 230.2h.01M94.5 236.9h.01M117.8 222.2h.01M79.5 218.4h.01M94.2 207.9h.01M92.5 224.7h.01M90.4 214.7h.01M87.4 239.0h.01M93.4 214.1h.01M91.3 231.1h.01M88.2 226.6h.01M102.3 229.1h.01M109.0 216.8h.01M106.3 214.5h.01M91.0 233.4h.01M103.2 222.0h.01M83.1 227.3h.01M88.7 213.2h.01M88.5 224.3h.01M73.8 225.4h.01M96.7 216.4h.01M105.4 227.8h.01M88.9 215.6h.01M102.0 207.6h.01M91.7 216.0h.01M95.7 224.0h.01M95.4 232.8h.01M97.3 219.0h.01M82.9 228.9h.01M100.3 235.8h.01M87.5 222.3h.01M94.4 221.2h.01M95.1 205.7h.01M103.2 228.2h.01M106.3 243.4h.01M91.8 221.7h.01M95.1 240.5h.01M77.7 226.6h.01M80.3 197.5h.01M74.8 208.9h.01M105.7 213.8h.01M92.7 210.9h.01M101.1 211.5h.01M108.2 212.6h.01M87.4 223.2h.01M95.2 235.5h.01M96.2 210.5h.01M89.4 216.6h.01M102.3 225.6h.01M93.8 230.3h.01M89.7 220.7h.01M96.8 236.5h.01M94.0 218.7h.01M84.5 228.5h.01M89.1 225.3h.01M76.0 231.9h.01M81.7 214.6h.01M105.6 209.3h.01M74.2 262.4h.01M65.0 268.7h.01M90.0 252.1h.01M60.5 266.0h.01M62.0 260.1h.01M76.3 265.5h.01M72.8 262.5h.01M67.2 268.5h.01M70.0 263.7h.01M69.9 262.5h.01M73.3 261.2h.01M64.9 266.0h.01M89.1 263.2h.01M82.3 266.2h.01M84.3 263.5h.01M77.1 266.3h.01M75.7 257.1h.01M75.2 252.6h.01M74.9 264.1h.01M87.4 262.8h.01M84.3 262.0h.01M64.8 254.9h.01M65.3 255.2h.01M81.3 261.0h.01M80.7 262.4h.01M85.4 267.3h.01M68.5 260.6h.01M69.7 253.9h.01M81.8 267.9h.01M74.9 259.5h.01M85.9 250.3h.01M76.8 262.7h.01M69.3 269.0h.01M84.7 260.7h.01M74.1 260.1h.01M69.9 255.5h.01M88.8 267.1h.01M83.0 256.5h.01M95.8 271.9h.01M76.9 257.5h.01M66.3 264.1h.01M65.9 261.8h.01M85.9 254.5h.01M95.1 269.8h.01M62.6 254.9h.01M72.2 256.8h.01M72.4 249.1h.01M72.7 271.0h.01M63.8 260.6h.01M60.1 265.2h.01M72.7 271.7h.01M77.1 260.1h.01M80.5 259.5h.01M61.6 263.5h.01M73.3 262.8h.01M78.8 259.4h.01M79.2 270.7h.01M63.9 270.7h.01M72.6 258.2h.01M99.3 262.8h.01M88.7 266.1h.01M58.2 262.6h.01M69.7 255.3h.01M57.3 262.5h.01M80.9 264.0h.01M71.9 258.0h.01M65.1 259.2h.01M64.7 261.0h.01M74.8 257.5h.01M72.7 258.2h.01M75.0 264.5h.01M76.8 264.4h.01M58.5 260.1h.01M77.8 265.2h.01M59.0 262.8h.01M87.1 261.1h.01M74.1 264.3h.01M77.5 265.4h.01M75.7 262.8h.01M67.2 261.1h.01M75.5 219.5h.01M67.0 216.1h.01M72.7 211.7h.01M73.5 210.8h.01M61.7 224.5h.01M68.8 225.6h.01M74.4 217.1h.01M70.7 211.1h.01M75.6 229.6h.01M71.2 224.3h.01M63.3 218.1h.01M71.0 221.8h.01M68.7 205.7h.01M69.1 213.7h.01M61.5 220.1h.01M56.9 230.4h.01M73.1 221.4h.01M62.0 210.7h.01M67.1 192.9h.01M69.1 230.0h.01M66.1 216.1h.01M69.1 226.2h.01M74.6 222.2h.01M63.9 216.5h.01M69.1 240.7h.01M66.1 209.4h.01M62.8 196.8h.01M70.0 205.7h.01M60.6 198.3h.01M61.3 228.8h.01M60.1 201.0h.01M69.1 217.9h.01M70.6 230.9h.01M67.9 206.4h.01M67.3 228.0h.01M64.5 204.8h.01M74.6 217.0h.01M65.5 222.2h.01M74.2 225.2h.01M66.0 230.2h.01M80.9 238.7h.01M72.0 208.5h.01M90.5 207.6h.01M65.8 213.6h.01M77.8 227.0h.01M59.4 225.2h.01M71.3 218.2h.01M60.7 213.3h.01M65.4 222.3h.01M64.9 230.8h.01M62.3 201.2h.01M63.6 238.2h.01M64.6 250.1h.01M70.9 208.0h.01M63.0 224.9h.01M60.9 250.5h.01M62.1 230.2h.01M76.8 220.7h.01M62.0 218.7h.01M70.2 232.5h.01M68.3 205.2h.01M68.3 213.9h.01M54.9 213.6h.01M59.4 229.0h.01M79.7 244.3h.01M64.6 216.4h.01M72.1 234.7h.01M65.5 220.3h.01M81.2 220.7h.01M65.1 223.4h.01M70.6 239.8h.01M64.0 238.7h.01M63.8 263.0h.01M71.9 247.3h.01M58.5 245.5h.01M74.4 243.5h.01M77.6 237.0h.01M63.7 261.9h.01M49.9 257.5h.01M51.2 247.3h.01M64.6 254.6h.01M40.8 232.7h.01M61.5 248.3h.01M58.9 246.2h.01M56.5 244.8h.01M59.2 250.0h.01M70.7 259.5h.01M60.7 245.5h.01M66.4 245.6h.01M65.6 235.5h.01M69.0 240.7h.01M58.3 235.3h.01M75.3 246.9h.01M75.2 250.2h.01M52.4 239.3h.01M72.1 241.9h.01M57.3 246.6h.01M64.6 239.9h.01M63.4 244.2h.01M45.3 252.0h.01M59.5 258.4h.01M56.8 235.4h.01M75.5 235.3h.01M60.9 252.8h.01M63.4 234.8h.01M67.5 246.4h.01M76.3 252.7h.01M90.3 234.8h.01M65.8 239.5h.01M75.2 254.6h.01M72.0 241.8h.01M60.0 231.8h.01M79.7 252.1h.01M63.9 255.5h.01M72.0 255.8h.01M53.0 242.3h.01M67.6 250.8h.01M73.7 239.9h.01M67.0 265.6h.01M71.5 255.0h.01M90.7 252.9h.01M118.1 247.0h.01M109.4 238.1h.01M99.9 254.1h.01M79.7 255.9h.01M80.9 238.8h.01M91.0 263.4h.01M95.6 254.4h.01M80.0 246.7h.01M73.4 240.9h.01M103.5 245.7h.01M112.8 244.2h.01M88.0 257.5h.01M81.3 232.3h.01M110.5 249.7h.01M58.5 246.4h.01M84.9 261.7h.01M80.1 240.8h.01M77.3 236.5h.01M80.5 233.1h.01M75.5 231.5h.01M68.5 232.0h.01M83.2 239.8h.01M72.6 250.3h.01M90.3 242.1h.01M84.0 260.3h.01M94.6 250.3h.01M52.2 240.1h.01M58.4 242.2h.01M96.6 239.9h.01M98.8 236.8h.01M99.6 232.0h.01M87.1 249.8h.01M99.0 244.9h.01M120.1 242.3h.01M84.2 221.2h.01M117.5 242.7h.01M73.4 257.9h.01M109.5 247.0h.01M69.5 249.8h.01M81.7 235.5h.01M106.7 226.8h.01M99.5 250.1h.01M121.8 248.9h.01M60.1 238.5h.01M92.0 249.2h.01M105.7 228.4h.01M86.1 254.7h.01M114.2 262.7h.01M85.1 255.9h.01M116.7 256.8h.01M101.9 253.5h.01M79.2 233.0h.01M105.7 242.9h.01M90.6 240.8h.01M85.1 248.1h.01M75.7 246.6h.01M94.7 245.3h.01M79.8 253.1h.01M119.1 240.6h.01M109.5 254.0h.01M51.2 239.1h.01M81.5 253.0h.01M93.8 250.3h.01M100.5 237.9h.01M79.8 235.0h.01M88.4 244.9h.01M93.6 239.5h.01M104.6 254.3h.01M114.2 252.4h.01M93.8 252.1h.01M100.1 240.1h.01M110.3 261.5h.01M120.7 246.3h.01M95.9 249.7h.01M91.0 251.6h.01M89.2 244.3h.01M117.4 247.5h.01M92.0 253.9h.01M93.3 248.6h.01M107.9 229.2h.01M108.2 224.6h.01M111.2 228.0h.01M49.5 227.2h.01M126.7 184.5h.01M111.7 260.8h.01M87.5 222.9h.01M128.4 186.1h.01M83.6 217.7h.01M102.7 225.9h.01M123.4 187.3h.01M46.9 236.8h.01M45.5 206.0h.01M97.8 231.3h.01M69.4 272.6h.01M88.4 222.5h.01M95.3 189.7h.01M104.2 259.5h.01M99.5 251.7h.01M105.9 200.4h.01M81.1 201.7h.01M70.7 222.5h.01M77.8 189.3h.01M78.8 242.1h.01M73.9 194.6h.01M124.6 186.7h.01M116.2 189.1h.01M48.3 248.9h.01M114.3 232.0h.01M93.5 232.5h.01M69.8 191.8h.01M72.0 242.1h.01M108.7 260.9h.01M106.0 270.2h.01M94.8 213.1h.01M62.8 217.0h.01M69.0 234.5h.01M72.5 229.3h.01M68.4 210.6h.01M62.5 217.1h.01M74.6 220.1h.01M70.5 211.3h.01M74.0 224.1h.01M73.1 217.4h.01M70.4 232.6h.01M66.2 211.7h.01M74.0 222.6h.01M72.1 213.6h.01M71.5 230.8h.01M63.4 212.7h.01M69.1 232.9h.01M62.7 227.6h.01M66.8 210.8h.01M68.9 211.3h.01M73.2 225.7h.01M71.4 232.3h.01M67.0 234.0h.01M64.6 212.0h.01M67.1 232.7h.01M68.1 210.6h.01M66.7 233.4h.01M65.0 210.9h.01M73.3 225.2h.01M63.5 228.7h.01M66.1 232.3h.01M69.3 233.1h.01M65.1 232.2h.01M73.4 222.7h.01M63.6 230.0h.01M65.9 209.6h.01M69.8 212.3h.01M73.0 226.9h.01M73.5 223.5h.01M73.3 216.6h.01M62.3 216.9h.01M66.4 211.5h.01M73.5 223.6h.01M65.3 232.1h.01M71.1 211.5h.01M73.8 216.0h.01M68.2 234.1h.01M62.6 215.9h.01M65.8 232.2h.01M64.8 231.4h.01M62.0 221.5h.01M73.2 231.1h.01M64.6 230.9h.01M67.0 210.7h.01M68.5 235.0h.01M71.4 231.0h.01M68.3 209.9h.01M64.5 212.6h.01M61.3 222.7h.01M68.1 211.6h.01M73.5 216.7h.01M62.2 217.6h.01M72.0 213.2h.01M64.0 214.5h.01M62.5 226.1h.01M66.1 232.2h.01M62.2 221.7h.01M65.8 232.4h.01M70.6 212.9h.01M73.6 227.9h.01M63.0 213.9h.01M61.5 221.7h.01M69.4 211.7h.01M73.3 214.3h.01M64.5 213.0h.01M65.3 232.4h.01M73.0 226.2h.01M72.7 229.2h.01M66.6 211.2h.01M62.1 221.9h.01M62.4 226.6h.01M62.4 226.4h.01M64.0 229.8h.01M66.7 233.5h.01M63.1 215.7h.01M69.3 211.7h.01M72.6 228.3h.01M65.4 212.3h.01M64.2 211.6h.01M72.9 215.9h.01M62.7 216.5h.01M72.1 232.0h.01M65.7 209.4h.01M62.5 230.5h.01M65.5 233.7h.01M63.7 230.0h.01M64.6 210.8h.01M70.6 212.8h.01M61.4 220.1h.01M64.2 212.9h.01M64.1 230.6h.01M70.4 232.4h.01M60.7 223.4h.01M68.7 232.9h.01M71.1 213.1h.01M72.5 228.6h.01M73.0 213.4h.01M73.9 225.0h.01M72.4 231.4h.01M63.5 230.5h.01M68.8 209.6h.01M70.0 211.7h.01M62.7 228.5h.01M65.4 212.7h.01M66.5 233.9h.01M67.8 210.1h.01M65.8 232.5h.01M70.4 210.0h.01M64.0 230.3h.01M73.9 218.3h.01M66.8 232.6h.01M62.5 231.7h.01M70.3 212.0h.01M69.8 211.6h.01M64.2 213.4h.01M72.0 214.3h.01M71.1 213.4h.01M71.3 213.3h.01M66.9 234.9h.01M72.8 215.8h.01M73.7 218.3h.01M69.0 233.8h.01M73.5 224.0h.01M73.6 226.0h.01M73.4 221.8h.01M62.8 231.9h.01M71.0 212.8h.01M64.6 213.5h.01M66.5 233.1h.01M70.6 212.8h.01M66.3 211.4h.01M62.4 225.7h.01M67.7 232.7h.01M71.3 211.3h.01M62.1 220.3h.01M72.2 229.1h.01M73.7 225.6h.01M62.9 227.5h.01M72.7 229.9h.01M72.5 216.2h.01M62.3 221.2h.01M68.2 233.6h.01M63.3 214.5h.01M68.3 234.5h.01M73.1 228.1h.01M74.1 220.3h.01M62.0 221.7h.01M74.1 221.3h.01M62.3 224.2h.01M63.9 213.5h.01M73.4 223.3h.01M69.4 210.8h.01M63.4 213.3h.01M68.6 211.7h.01M73.8 225.4h.01M62.5 219.1h.01M69.0 211.1h.01M62.2 224.7h.01M70.3 210.7h.01M73.1 226.4h.01M66.2 233.8h.01M73.3 225.1h.01M73.1 217.8h.01M61.5 221.0h.01M67.8 232.8h.01M68.0 211.2h.01M69.1 210.7h.01M71.7 214.1h.01M64.0 230.4h.01M72.2 215.4h.01M62.6 231.0h.01M74.2 220.2h.01M72.8 217.4h.01M62.1 220.8h.01M73.7 228.2h.01M63.2 215.4h.01M65.2 233.1h.01M73.0 227.6h.01M63.1 215.3h.01M62.8 227.1h.01M73.8 225.3h.01M72.7 212.4h.01M66.7 236.5h.01M73.6 220.8h.01M64.3 214.1h.01M64.1 230.7h.01M74.2 218.5h.01M72.0 231.9h.01M74.0 224.8h.01M73.0 226.6h.01M63.3 230.1h.01M62.1 217.2h.01M73.8 218.5h.01M64.0 229.9h.01M61.6 219.9h.01M63.2 228.9h.01M72.4 229.6h.01M67.3 210.4h.01M62.8 218.2h.01M67.5 232.8h.01M74.2 221.9h.01M66.5 233.8h.01M72.2 230.1h.01M72.1 211.5h.01M62.3 226.1h.01M73.1 228.3h.01M65.0 233.9h.01M64.3 232.1h.01M72.4 215.1h.01M71.4 213.1h.01M63.3 211.8h.01M69.5 211.4h.01M69.6 232.2h.01M71.5 230.3h.01M62.6 218.6h.01M64.0 230.3h.01M63.0 214.3h.01M73.5 228.7h.01M66.3 206.8h.01M62.3 220.5h.01M74.0 228.1h.01M73.8 220.2h.01M65.3 211.6h.01M64.3 232.4h.01M63.8 212.8h.01M70.5 233.1h.01M72.7 216.4h.01M73.4 226.0h.01M70.9 231.7h.01M65.4 231.9h.01M73.6 217.9h.01M72.5 215.4h.01M64.0 213.7h.01M62.3 218.6h.01M62.1 219.8h.01M61.5 222.0h.01M71.9 233.3h.01M64.8 213.1h.01M71.5 211.9h.01M62.8 218.1h.01M73.3 225.2h.01M63.8 212.7h.01M68.5 210.8h.01M62.7 228.0h.01M63.6 213.8h.01M66.3 233.9h.01M69.8 211.9h.01M65.7 212.4h.01M73.3 226.3h.01M62.3 226.4h.01M63.6 215.6h.01M63.9 256.0h.01M70.8 239.2h.01M72.5 246.0h.01M60.3 243.8h.01M63.5 256.4h.01M66.3 256.5h.01M71.1 252.7h.01M61.2 240.8h.01M66.3 256.8h.01M63.3 255.8h.01M60.6 243.0h.01M59.1 247.6h.01M59.7 246.6h.01M71.9 248.8h.01M73.8 243.4h.01M67.5 256.2h.01M62.1 255.7h.01M70.7 241.3h.01M62.3 238.9h.01M69.6 240.0h.01M60.0 251.9h.01M66.8 237.3h.01M61.7 255.1h.01M68.4 256.7h.01M59.9 244.2h.01M66.8 238.1h.01M64.9 258.1h.01M70.5 253.6h.01M73.1 245.8h.01M62.6 256.2h.01M71.6 244.2h.01M59.8 246.9h.01M60.0 247.5h.01M63.2 255.3h.01M59.4 249.2h.01M60.1 246.6h.01M63.3 255.8h.01M72.3 247.0h.01M65.8 238.4h.01M69.3 238.8h.01M60.3 245.7h.01M68.8 238.5h.01M61.5 255.2h.01M59.3 241.5h.01M67.9 238.8h.01M73.2 249.3h.01M59.0 249.3h.01M67.2 238.4h.01M60.9 243.2h.01M69.5 256.7h.01M61.4 239.8h.01M70.3 255.9h.01M62.9 236.7h.01M71.0 253.5h.01M72.1 248.6h.01M63.9 238.7h.01M61.0 252.4h.01M71.6 239.1h.01M65.6 238.1h.01M67.8 256.2h.01M63.3 256.1h.01M63.6 256.8h.01M69.2 256.2h.01M62.4 255.0h.01M67.0 238.4h.01M63.8 237.5h.01M61.6 241.7h.01M60.2 244.0h.01M67.2 257.3h.01M64.8 256.2h.01M67.8 256.3h.01M62.4 255.5h.01M71.7 243.8h.01M70.9 254.3h.01M62.8 237.2h.01M69.3 237.2h.01M72.0 244.9h.01M64.7 257.0h.01M64.8 238.1h.01M65.9 257.4h.01M60.1 248.7h.01M72.4 243.3h.01M64.0 238.1h.01M60.5 242.2h.01M66.5 257.1h.01M61.8 239.7h.01M72.8 250.9h.01M71.5 253.3h.01M67.1 237.1h.01M71.5 243.7h.01M60.0 253.7h.01M59.8 248.9h.01M68.2 256.9h.01M62.6 240.3h.01M71.8 241.9h.01M60.0 245.4h.01M64.9 236.2h.01M69.2 256.3h.01M71.1 240.7h.01M73.7 247.3h.01M60.0 254.6h.01M71.9 245.4h.01M71.5 243.5h.01M60.8 243.8h.01M71.3 253.7h.01M72.1 246.9h.01M58.7 244.3h.01M69.7 240.3h.01M60.4 249.3h.01M69.4 255.5h.01M60.6 249.8h.01M65.7 237.9h.01M68.0 237.1h.01M69.1 256.2h.01M70.6 239.1h.01M59.5 246.5h.01M71.4 252.3h.01M70.2 254.9h.01M63.6 255.4h.01M66.8 257.3h.01M66.4 237.6h.01M65.2 238.5h.01M72.7 248.2h.01M72.6 251.5h.01M70.7 253.8h.01M59.6 247.3h.01M71.0 241.9h.01M71.0 254.1h.01M71.5 242.8h.01M67.5 257.8h.01M70.6 255.0h.01M60.7 241.0h.01M60.4 252.6h.01M60.3 245.3h.01M63.2 239.8h.01M66.4 237.7h.01M70.8 240.3h.01M64.4 238.4h.01M71.6 251.8h.01M60.5 244.9h.01M60.0 247.2h.01M63.4 255.5h.01M60.0 246.3h.01M60.8 242.8h.01M72.4 253.5h.01M60.5 250.1h.01M60.1 246.7h.01M60.5 249.6h.01M68.3 239.1h.01M68.9 238.3h.01M66.0 238.4h.01M62.9 254.9h.01M73.4 252.1h.01M71.5 251.2h.01M72.3 243.4h.01M66.9 238.5h.01M66.9 236.9h.01M61.0 251.8h.01M73.3 247.0h.01M72.0 241.7h.01M61.7 254.3h.01M59.5 244.9h.01M62.7 239.9h.01M60.1 245.3h.01M60.4 245.9h.01M72.6 247.7h.01M72.3 248.8h.01M59.4 244.6h.01M60.2 245.7h.01M62.6 255.5h.01M65.1 258.1h.01M71.0 253.8h.01M68.8 237.5h.01M71.0 240.9h.01M72.1 248.4h.01M72.2 249.5h.01M61.4 242.4h.01M65.8 238.3h.01M61.4 252.6h.01M70.4 240.2h.01M72.3 250.9h.01M68.5 239.4h.01M65.5 238.0h.01M63.0 238.3h.01M63.6 255.7h.01M62.9 239.5h.01M67.3 256.3h.01M72.0 244.6h.01M71.2 240.4h.01M60.4 251.8h.01M58.4 247.8h.01M63.3 239.3h.01M67.6 238.4h.01M70.1 255.6h.01M62.0 253.7h.01M70.2 239.2h.01M64.3 256.4h.01M72.5 241.8h.01M59.8 243.5h.01M70.2 254.3h.01M91.5 256.2h.01M105.3 240.0h.01M100.2 235.9h.01M96.5 255.9h.01M89.0 256.3h.01M102.1 237.2h.01M96.3 255.1h.01M75.2 241.1h.01M75.7 246.9h.01M105.5 242.6h.01M108.7 246.7h.01M102.5 253.1h.01M106.2 245.5h.01M79.4 239.2h.01M95.3 256.5h.01M93.2 234.7h.01M79.3 253.2h.01M89.7 255.9h.01M75.9 244.6h.01M104.9 244.3h.01M75.0 247.7h.01M79.0 254.5h.01M77.7 251.1h.01M99.7 253.8h.01M89.7 257.1h.01M77.7 250.8h.01M99.4 254.3h.01M98.6 235.8h.01M75.2 245.5h.01M90.1 257.1h.01M97.9 234.9h.01M76.1 246.1h.01M97.9 254.6h.01M88.0 234.8h.01M74.9 246.3h.01M81.2 237.0h.01M106.9 250.0h.01M104.8 241.9h.01M83.7 236.5h.01M99.5 236.0h.01M92.5 255.7h.01M76.4 245.1h.01M79.6 253.7h.01M79.0 237.9h.01M76.5 246.6h.01M77.3 242.2h.01M106.2 246.3h.01M105.1 244.0h.01M105.8 246.7h.01M96.5 234.4h.01M103.3 239.8h.01M99.5 254.0h.01M96.9 257.0h.01M89.2 256.0h.01M78.6 252.1h.01M76.7 241.1h.01M105.3 244.9h.01M100.4 235.8h.01M81.8 236.1h.01M104.4 252.0h.01M80.1 252.8h.01M105.2 246.1h.01M98.3 255.6h.01M93.8 235.5h.01M77.4 241.3h.01M76.3 243.6h.01M105.2 248.3h.01M104.0 237.4h.01M76.2 247.1h.01M103.6 240.8h.01M102.6 239.3h.01M103.7 241.0h.01M84.4 256.2h.01M91.0 234.9h.01M87.4 235.2h.01M98.4 254.4h.01M91.7 256.3h.01M103.2 238.7h.01M83.8 254.4h.01M105.8 244.7h.01M87.8 232.4h.01M104.2 248.9h.01M77.0 249.6h.01M92.6 234.5h.01M106.5 242.2h.01M106.4 247.6h.01M88.5 256.9h.01M82.0 253.6h.01M106.1 241.2h.01M82.7 236.3h.01M104.8 251.5h.01M87.1 234.2h.01M104.4 251.0h.01M79.9 236.8h.01M89.9 235.1h.01M105.7 245.8h.01M85.4 255.6h.01M101.0 253.6h.01M97.0 256.2h.01M78.4 251.3h.01M105.2 247.2h.01M78.8 239.4h.01M83.9 255.2h.01M79.3 252.5h.01M105.5 251.7h.01M106.9 243.9h.01M77.3 240.8h.01M100.8 254.1h.01M86.1 255.6h.01M77.8 249.6h.01M77.7 250.6h.01M90.6 255.7h.01M91.1 256.8h.01M96.1 256.1h.01M102.9 252.4h.01M82.0 256.7h.01M80.1 238.3h.01M82.9 255.1h.01M97.6 234.3h.01M102.3 255.0h.01M84.3 255.4h.01M85.1 255.1h.01M105.9 243.0h.01M85.9 235.7h.01M75.6 246.1h.01M80.3 252.9h.01M96.8 235.8h.01M77.3 241.4h.01M77.0 239.0h.01M76.6 242.2h.01M106.7 242.0h.01M77.1 249.5h.01M86.9 256.1h.01M95.6 233.8h.01M76.9 251.9h.01M91.5 255.7h.01M82.8 236.6h.01M106.0 251.0h.01M106.6 244.8h.01M76.4 245.1h.01M103.9 240.4h.01M94.9 234.3h.01M80.8 254.3h.01M80.8 237.1h.01M103.3 250.8h.01M80.7 254.9h.01M79.6 234.8h.01M84.0 235.5h.01M79.3 251.5h.01M74.2 251.1h.01M105.1 246.2h.01M74.8 244.1h.01M77.0 240.0h.01M79.2 252.3h.01M93.0 234.3h.01M82.3 254.5h.01M106.1 247.2h.01M105.6 242.9h.01M102.0 252.7h.01M85.3 255.2h.01M76.7 248.4h.01M75.0 247.2h.01M77.2 249.5h.01M86.0 256.1h.01M96.9 234.5h.01M81.1 236.1h.01M83.5 234.8h.01M91.5 258.5h.01M97.8 255.3h.01M106.2 242.5h.01M92.5 256.2h.01M81.4 237.3h.01M75.9 250.4h.01M95.5 255.4h.01M77.3 239.2h.01M95.1 256.4h.01M91.0 235.2h.01M102.6 251.8h.01M101.0 237.9h.01M75.8 248.4h.01M89.6 256.6h.01M80.7 236.9h.01M77.8 239.0h.01M81.8 254.6h.01M100.0 235.8h.01M86.4 234.3h.01M86.5 255.6h.01M100.6 253.3h.01M101.5 252.5h.01M85.5 235.3h.01M75.9 244.8h.01M79.9 252.5h.01M97.0 256.0h.01M81.0 236.4h.01M106.7 245.5h.01M100.2 253.7h.01M85.0 255.2h.01M81.7 253.5h.01M106.9 246.2h.01M106.8 242.8h.01M74.2 245.1h.01M78.5 250.7h.01M98.8 236.5h.01M104.8 247.5h.01M91.8 235.1h.01M75.8 242.9h.01M99.0 256.0h.01M92.3 234.9h.01M76.7 242.2h.01M93.1 235.1h.01M98.0 235.1h.01M106.7 248.5h.01M87.2 232.2h.01M103.3 252.2h.01M97.7 236.6h.01M106.3 245.5h.01M75.7 249.1h.01M75.4 250.0h.01M105.2 245.1h.01M96.5 235.3h.01M77.4 239.6h.01M79.9 236.9h.01M98.3 254.7h.01M94.8 255.9h.01M104.7 249.4h.01M76.0 242.9h.01M84.3 254.9h.01M89.1 256.5h.01M101.2 236.2h.01M102.7 251.3h.01M105.4 243.0h.01M108.5 244.9h.01M101.8 236.7h.01M90.8 257.3h.01M87.1 234.7h.01M83.4 234.8h.01M75.5 246.2h.01M78.1 251.0h.01M75.1 249.0h.01M104.7 252.1h.01M76.0 244.5h.01M78.6 254.9h.01M104.4 242.4h.01M93.0 235.3h.01M89.2 235.2h.01M82.6 235.7h.01M80.7 254.5h.01M93.8 256.0h.01M77.7 250.0h.01M98.1 235.7h.01M82.4 255.3h.01M75.7 246.5h.01M82.8 254.1h.01M102.7 251.7h.01M94.0 235.0h.01M99.8 237.4h.01M73.8 250.2h.01M95.0 255.3h.01M84.9 235.0h.01M99.4 255.1h.01M104.1 241.2h.01M90.8 257.4h.01M80.4 253.3h.01M79.1 251.9h.01M85.8 255.3h.01M82.2 236.4h.01M86.2 234.5h.01M100.4 253.1h.01M92.9 255.7h.01M86.0 235.8h.01M97.3 235.1h.01M100.5 253.1h.01M105.4 250.5h.01M103.5 252.4h.01M85.0 255.3h.01M93.0 235.0h.01M91.1 232.9h.01M102.0 255.6h.01M74.6 243.2h.01M77.5 249.3h.01M88.2 235.0h.01M78.2 251.1h.01M85.1 235.8h.01M102.7 251.7h.01M91.0 234.3h.01M105.4 243.0h.01M84.9 255.4h.01M103.9 251.0h.01M75.7 241.7h.01M93.6 234.6h.01M85.1 235.1h.01M85.7 256.5h.01M74.1 244.2h.01M86.7 255.4h.01M107.2 249.7h.01M74.2 245.9h.01M103.2 253.1h.01M76.8 243.7h.01M108.5 243.7h.01M100.6 253.2h.01M100.8 236.9h.01M84.7 235.8h.01M92.1 233.4h.01M105.7 246.6h.01M103.8 249.7h.01M104.4 249.4h.01M94.8 234.0h.01M76.5 245.4h.01M78.4 250.7h.01M76.4 243.1h.01M80.0 238.6h.01M75.3 244.7h.01M95.1 255.7h.01M78.4 252.8h.01M80.5 237.2h.01M105.7 250.2h.01M86.2 235.6h.01M106.9 249.9h.01M104.3 251.4h.01M79.2 238.7h.01M85.6 255.1h.01M103.1 253.7h.01M87.0 235.5h.01M105.3 242.3h.01M76.2 244.0h.01M99.1 255.9h.01M100.9 252.9h.01M102.5 238.2h.01M93.1 233.4h.01M88.8 256.0h.01M104.3 249.6h.01M105.2 250.9h.01M76.0 248.6h.01M76.5 240.9h.01M81.2 253.0h.01M77.4 240.7h.01M88.3 235.3h.01M106.3 248.7h.01M100.1 237.7h.01M78.9 253.2h.01M100.8 255.4h.01M76.1 241.9h.01M103.1 240.2h.01M83.9 255.8h.01M78.3 250.7h.01M104.4 250.7h.01M78.5 254.6h.01M96.9 254.7h.01M96.9 233.2h.01M104.1 249.9h.01M76.3 247.8h.01M82.8 256.4h.01M76.4 241.9h.01M77.7 241.5h.01M85.7 256.0h.01M77.8 239.5h.01M76.5 245.9h.01M103.2 239.1h.01M91.7 235.3h.01M78.7 251.0h.01M92.5 256.9h.01M102.8 237.1h.01M106.6 241.9h.01M99.1 237.2h.01M88.6 234.3h.01M91.9 256.5h.01M71.6 246.2h.01M86.9 234.2h.01M105.1 252.3h.01M75.1 244.1h.01M85.6 233.7h.01M105.7 251.8h.01M104.1 252.1h.01M105.4 250.8h.01M74.4 240.2h.01M92.1 256.8h.01M89.7 256.5h.01M85.7 234.0h.01M89.4 235.0h.01M104.5 250.5h.01M95.1 255.5h.01M99.9 255.2h.01M98.9 255.2h.01M76.6 243.2h.01M105.0 243.2h.01M89.3 256.6h.01M102.1 253.1h.01M98.3 235.2h.01M85.2 233.9h.01M83.8 255.0h.01M102.7 251.0h.01M75.2 244.5h.01M84.4 236.1h.01M109.5 248.2h.01M77.0 252.3h.01M90.8 256.3h.01M76.7 248.0h.01M105.8 246.3h.01M98.1 236.0h.01M97.2 236.3h.01M79.8 253.6h.01M77.0 239.9h.01M90.0 255.8h.01M104.1 249.6h.01M103.1 239.3h.01M102.8 239.7h.01M97.7 236.4h.01M76.6 248.0h.01M99.1 256.0h.01M78.5 252.3h.01M105.2 247.4h.01M94.1 256.1h.01M96.5 255.3h.01M107.8 248.2h.01M80.4 238.5h.01M77.6 251.4h.01M76.2 242.0h.01M100.4 253.5h.01M95.7 256.2h.01M80.2 237.3h.01M103.3 207.1h.01M116.2 222.8h.01M88.3 233.7h.01M72.8 226.1h.01M86.1 223.9h.01M101.1 231.9h.01M101.5 244.9h.01M97.7 220.6h.01M110.5 223.3h.01M101.6 184.6h.01M102.0 223.3h.01M92.2 217.4h.01M106.9 203.6h.01M131.6 235.5h.01M101.1 243.0h.01M100.0 215.1h.01M108.3 207.6h.01M103.6 236.0h.01M102.9 209.5h.01M99.3 222.8h.01M88.8 200.9h.01M84.0 219.0h.01M109.4 251.5h.01M106.4 216.1h.01M92.4 234.8h.01M103.8 227.9h.01M99.6 236.0h.01M121.6 224.1h.01M98.7 229.0h.01M91.9 202.1h.01M102.4 216.7h.01M111.5 225.8h.01M113.5 215.4h.01M109.4 207.7h.01M107.3 221.6h.01M107.3 220.4h.01M104.5 229.0h.01M101.2 228.4h.01M115.5 218.4h.01M112.4 220.5h.01M110.3 247.4h.01M88.2 202.4h.01M98.8 217.1h.01M91.2 220.7h.01M91.1 238.3h.01M109.4 235.6h.01M122.4 216.3h.01M69.5 244.2h.01M99.8 223.4h.01M77.2 210.5h.01M104.6 222.6h.01M73.3 214.6h.01M108.5 236.8h.01M99.4 252.3h.01M108.3 242.1h.01M111.7 232.3h.01M82.3 208.0h.01M88.8 226.6h.01M97.0 227.7h.01M96.8 228.8h.01M107.9 224.1h.01M93.8 197.8h.01M106.6 216.3h.01M87.0 232.7h.01M107.1 230.8h.01M107.5 213.1h.01M94.5 218.5h.01M116.0 232.6h.01M94.3 232.4h.01M101.1 222.8h.01M102.1 232.5h.01M95.4 211.5h.01M100.9 221.4h.01M84.4 216.3h.01M94.3 224.3h.01M103.2 221.9h.01M101.9 220.3h.01M103.0 228.0h.01M103.3 238.4h.01M93.9 208.1h.01M96.1 232.1h.01M97.3 227.2h.01M78.1 215.7h.01M102.9 231.8h.01M88.7 227.7h.01M89.2 212.5h.01M97.8 226.2h.01M101.4 231.3h.01M115.4 233.5h.01M93.0 233.4h.01M80.9 225.0h.01M108.6 230.8h.01M106.1 243.1h.01M88.9 231.9h.01M96.0 235.1h.01M98.3 231.8h.01M114.0 230.3h.01M94.7 220.3h.01M89.4 234.4h.01M111.4 221.6h.01M77.1 217.7h.01M101.8 214.5h.01M75.5 219.6h.01M74.6 227.3h.01M92.6 224.6h.01M111.3 214.9h.01M73.4 223.7h.01M102.2 209.7h.01M92.9 220.5h.01M97.3 217.8h.01M126.3 221.4h.01M99.1 219.2h.01M67.9 237.8h.01M62.3 237.6h.01M82.5 210.4h.01M95.8 246.0h.01M100.5 222.1h.01M88.6 230.5h.01M92.9 231.1h.01M75.4 229.3h.01M100.5 210.4h.01M85.6 222.5h.01M91.6 226.9h.01M81.2 215.2h.01M120.3 215.6h.01M92.3 222.2h.01M93.9 236.1h.01M90.7 232.5h.01M87.6 231.7h.01M94.6 222.3h.01M96.0 229.5h.01M83.9 214.3h.01M119.4 229.1h.01M93.0 230.4h.01M96.3 201.5h.01M98.8 222.8h.01M100.8 216.3h.01M94.6 235.4h.01M95.3 219.7h.01M101.0 220.1h.01M108.7 222.3h.01M101.0 217.0h.01M83.3 231.2h.01M99.9 230.4h.01M105.1 209.3h.01M98.3 203.9h.01M102.7 213.1h.01M102.1 231.3h.01M91.1 223.8h.01M110.4 207.5h.01M104.1 225.2h.01M107.4 207.5h.01M97.0 235.0h.01M112.0 216.3h.01M93.9 242.4h.01M81.4 223.5h.01M99.0 225.7h.01M86.7 233.6h.01M106.8 242.2h.01M88.3 219.2h.01M109.1 242.2h.01M96.9 208.7h.01M94.6 233.6h.01M104.5 235.1h.01M118.2 219.7h.01M87.1 212.0h.01M95.6 234.2h.01M116.0 226.2h.01M97.2 222.7h.01M110.5 216.4h.01M95.8 223.2h.01M96.7 242.1h.01M87.2 248.6h.01M89.8 215.8h.01M89.7 230.5h.01M96.8 235.2h.01M87.9 207.3h.01M92.9 226.8h.01M80.8 222.9h.01M102.9 215.9h.01M87.9 213.0h.01M95.4 228.6h.01M127.2 235.7h.01M83.1 208.6h.01M95.8 239.7h.01M104.2 218.7h.01M108.0 237.8h.01M113.1 213.3h.01M101.8 211.2h.01M88.1 211.2h.01M94.1 209.6h.01M105.5 223.9h.01M87.5 228.9h.01M113.8 227.5h.01M90.6 221.2h.01M95.9 217.0h.01M78.2 220.2h.01M110.7 215.7h.01M75.8 223.1h.01M109.1 206.8h.01M82.3 264.5h.01M86.4 265.3h.01M87.3 252.5h.01M87.4 270.3h.01M77.3 264.2h.01M67.8 269.8h.01M72.6 271.9h.01M75.4 266.1h.01M73.6 273.3h.01M56.3 264.2h.01M55.0 254.8h.01M102.7 267.4h.01M55.9 262.0h.01M72.6 265.4h.01M102.2 265.9h.01M85.2 265.0h.01M66.9 266.2h.01M91.1 258.3h.01M72.3 270.7h.01M82.5 255.2h.01M74.9 259.3h.01M79.2 261.6h.01M77.0 272.0h.01M90.0 270.9h.01M59.7 262.7h.01M94.1 266.4h.01M71.8 257.5h.01M91.5 260.7h.01M87.8 262.9h.01M78.6 262.7h.01M70.0 272.2h.01M86.6 270.4h.01M73.6 258.8h.01M76.2 256.8h.01M88.1 266.3h.01M73.8 260.1h.01M84.5 257.5h.01M75.1 271.4h.01M71.0 258.9h.01M110.1 249.2h.01M65.8 272.8h.01M75.1 265.0h.01M105.4 257.7h.01M72.9 264.5h.01M79.1 258.9h.01M78.4 254.0h.01M85.6 267.0h.01M78.1 260.7h.01M86.6 258.8h.01M76.3 261.6h.01M97.7 261.7h.01M78.6 261.0h.01M75.4 256.2h.01M69.0 267.2h.01M73.2 262.6h.01M74.3 254.0h.01M74.4 270.4h.01M75.0 257.9h.01M74.9 260.0h.01M82.7 259.5h.01M78.8 259.1h.01M84.3 263.9h.01M82.5 265.8h.01M78.8 269.3h.01M85.6 270.9h.01M79.0 263.6h.01M71.8 262.1h.01M89.8 259.8h.01M97.9 262.2h.01M99.0 255.7h.01M76.7 259.0h.01M92.1 265.9h.01M79.1 259.3h.01M79.7 266.3h.01M90.0 261.6h.01M74.6 262.6h.01M81.6 263.5h.01M74.6 272.4h.01M72.5 271.1h.01M96.7 267.7h.01M102.5 265.3h.01M76.2 258.9h.01M71.9 267.0h.01M62.2 253.5h.01M98.4 268.1h.01M85.0 267.5h.01M89.3 260.9h.01M62.4 269.7h.01M85.4 253.7h.01M81.7 259.2h.01M78.6 260.0h.01M86.6 260.7h.01M66.1 266.0h.01M85.8 253.4h.01M84.9 267.3h.01M78.2 263.1h.01M70.8 251.5h.01M86.3 261.5h.01M85.2 260.6h.01M76.9 263.0h.01M79.2 267.2h.01M74.9 253.3h.01M81.7 254.2h.01M49.6 255.4h.01M74.7 257.2h.01M61.6 260.7h.01M94.6 267.0h.01M80.1 267.5h.01M74.7 256.7h.01M88.1 255.5h.01M84.0 261.8h.01M75.6 259.3h.01M93.6 252.5h.01M83.2 260.3h.01M71.1 262.2h.01M83.8 261.6h.01M82.9 270.5h.01M72.8 264.5h.01M59.1 264.7h.01M57.6 265.8h.01" stroke="#000" stroke-width="0.5" stroke-linecap="square" fill="none" opacity="0.85"/>
<ellipse cx="67.90" cy="222.20" rx="6.10" ry="11.10" fill="#000" opacity="0.65" filter="url(#bl06)"/>
<ellipse cx="66.20" cy="247.50" rx="6.40" ry="9.40" fill="#000" opacity="0.65" filter="url(#bl06)"/>
<ellipse cx="91.50" cy="245.50" rx="15.00" ry="10.60" fill="#000" opacity="0.6" filter="url(#bl06)"/>
<ellipse cx="75.00" cy="247.00" rx="4.00" ry="7.00" fill="#000" opacity="0.8" filter="url(#bl06)"/>
<path d="M68.0,239.5 L79.0,239.0 L79.0,255.5 L68.0,255.5Z" fill="#c6c6c6" stroke="#555" stroke-width="0.4"/>
<path d="M68.0,242.0 L79.0,242.3" stroke="#888" stroke-width="0.35"/>
<path d="M68.0,245.0 L79.0,245.3" stroke="#888" stroke-width="0.35"/>
<path d="M68.0,248.0 L79.0,248.3" stroke="#888" stroke-width="0.35"/>
<path d="M68.0,251.0 L79.0,251.3" stroke="#888" stroke-width="0.35"/>
<path d="M68.0,254.0 L79.0,254.3" stroke="#888" stroke-width="0.35"/>
<ellipse cx="67.90" cy="222.20" rx="4.90" ry="9.80" fill="#c8c8c8" stroke="#1a1a1a" stroke-width="0.5"/>
<ellipse cx="67.90" cy="222.20" rx="3.51" ry="7.02" fill="none" stroke="#8a8a8a" stroke-width="0.45"/>
<ellipse cx="67.90" cy="222.20" rx="2.12" ry="4.25" fill="none" stroke="#8a8a8a" stroke-width="0.45"/>
<ellipse cx="67.90" cy="222.20" rx="1.47" ry="2.94" fill="#dadada" stroke="#777" stroke-width="0.4"/>
<ellipse cx="66.20" cy="247.50" rx="5.30" ry="8.20" fill="#bcbcbc" stroke="#1a1a1a" stroke-width="0.5"/>
<ellipse cx="66.20" cy="247.50" rx="4.17" ry="6.46" fill="none" stroke="#7a7a7a" stroke-width="0.45"/>
<ellipse cx="66.20" cy="247.50" rx="3.05" ry="4.71" fill="none" stroke="#7a7a7a" stroke-width="0.45"/>
<ellipse cx="66.20" cy="247.50" rx="1.92" ry="2.97" fill="none" stroke="#7a7a7a" stroke-width="0.45"/>
<ellipse cx="66.20" cy="247.50" rx="0.95" ry="1.48" fill="#f4f4f4" stroke="#777" stroke-width="0.4"/>
<rect x="78.5" y="236.5" width="26" height="18.5" rx="9" ry="9" fill="#d2d2d2" stroke="#333" stroke-width="0.6"/>
<rect x="81.5" y="239.5" width="20" height="12.5" rx="6" ry="6" fill="none" stroke="#999" stroke-width="0.4"/>
<rect x="85.0" y="242.5" width="13" height="6.5" rx="3.2" ry="3.2" fill="#e4e4e4" stroke="#999" stroke-width="0.4"/>
<ellipse cx="91.5" cy="245.8" rx="2.5" ry="1.2" fill="#f4f4f4"/>
</g>
<rect x="55.80" y="196.40" width="21.20" height="36.60" fill="none" stroke="#444" stroke-width="0.75" />
<rect x="78.20" y="234.50" width="34.30" height="23.90" fill="none" stroke="#444" stroke-width="0.75" />
<rect x="37.40" y="178.50" width="96.30" height="96.60" fill="none" stroke="#111" stroke-width="1.1" />
<path d="M35.2 180.2h2.2M35.2 183.7h2.2M35.2 187.1h2.2M35.2 190.6h2.2M35.2 194.0h2.2M35.2 197.5h2.2M35.2 200.9h2.2M35.2 204.4h2.2M35.2 207.8h2.2M35.2 211.3h2.2M35.2 214.7h2.2M35.2 218.2h2.2M35.2 221.6h2.2M35.2 225.1h2.2M35.2 228.5h2.2M35.2 232.0h2.2M35.2 235.4h2.2M35.2 238.9h2.2M35.2 242.3h2.2M35.2 245.8h2.2M35.2 249.2h2.2M35.2 252.7h2.2M35.2 256.1h2.2M35.2 259.6h2.2M35.2 263.0h2.2M35.2 266.5h2.2M35.2 269.9h2.2M35.2 273.4h2.2" stroke="#222" stroke-width="0.65"/>
<path d="M39.0 275.1v2.2M42.1 275.1v2.2M45.2 275.1v2.2M48.3 275.1v2.2M51.5 275.1v2.2M54.6 275.1v2.2M57.7 275.1v2.2M60.8 275.1v2.2M64.0 275.1v2.2M67.1 275.1v2.2M70.2 275.1v2.2M73.4 275.1v2.2M76.5 275.1v2.2M79.6 275.1v2.2M82.7 275.1v2.2M85.9 275.1v2.2M89.0 275.1v2.2M92.1 275.1v2.2M95.2 275.1v2.2M98.4 275.1v2.2M101.5 275.1v2.2M104.6 275.1v2.2M107.7 275.1v2.2M110.9 275.1v2.2M114.0 275.1v2.2M117.1 275.1v2.2M120.3 275.1v2.2M123.4 275.1v2.2M126.5 275.1v2.2M129.6 275.1v2.2" stroke="#222" stroke-width="0.65"/>
<text x="41.40" y="193.50" font-size="8.8" text-anchor="start" font-weight="normal" fill="#111" >12.9</text>
<text x="129.20" y="265.00" font-size="8.8" text-anchor="end" font-weight="normal" fill="#111" >29.9</text>
<text x="185.40" y="174.30" font-size="8.8" text-anchor="middle" font-weight="normal" fill="#111" >Anti-miR-31</text>
<clipPath id="ce2"><rect x="138.5" y="178.6" width="94.69999999999999" height="96.29999999999998"/></clipPath>
<g clip-path="url(#ce2)">
<path d="M186.8 223.6h.01M176.0 222.2h.01M201.1 228.2h.01M191.8 221.9h.01M204.6 229.4h.01M185.1 216.2h.01M184.5 221.6h.01M179.2 200.4h.01M189.6 224.5h.01M194.1 232.8h.01M177.8 216.9h.01M176.1 224.5h.01M190.8 217.2h.01M192.5 214.9h.01M180.8 237.8h.01M200.9 220.2h.01M175.0 219.9h.01M198.3 223.7h.01M203.1 234.3h.01M191.1 217.3h.01M186.6 217.9h.01M202.0 217.8h.01M173.5 226.6h.01M190.9 217.3h.01M170.4 233.7h.01M199.7 210.6h.01M193.7 211.2h.01M177.0 201.0h.01M200.6 230.8h.01M188.6 221.4h.01M211.3 214.4h.01M179.0 223.3h.01M198.0 219.0h.01M176.3 214.3h.01M199.5 229.1h.01M173.6 209.8h.01M181.2 221.7h.01M216.3 219.1h.01M192.7 214.0h.01M220.4 216.0h.01M186.4 223.6h.01M177.4 230.1h.01M191.9 213.6h.01M185.4 203.1h.01M185.9 199.3h.01M187.0 217.0h.01M185.5 216.2h.01M182.7 234.3h.01M207.8 220.3h.01M204.6 218.9h.01M188.7 213.7h.01M199.7 228.2h.01M177.8 223.6h.01M186.3 213.0h.01M191.7 202.8h.01M187.2 240.9h.01M196.8 210.6h.01M198.1 222.9h.01M188.5 216.1h.01M192.0 216.1h.01M190.1 229.4h.01M201.0 209.0h.01M186.8 238.1h.01M211.8 225.7h.01M209.7 234.1h.01M190.5 202.0h.01M191.3 209.2h.01M193.5 239.5h.01M194.7 214.1h.01M179.1 202.4h.01M171.0 238.3h.01M201.4 220.7h.01M190.3 221.5h.01M191.9 235.9h.01M196.3 202.2h.01M203.7 202.7h.01M187.5 208.1h.01M192.4 209.4h.01M176.8 211.5h.01M201.0 220.1h.01M199.3 235.6h.01M194.6 227.7h.01M181.3 221.2h.01M179.4 227.5h.01M202.0 231.7h.01M191.7 231.0h.01M190.4 216.4h.01M197.5 229.3h.01M216.2 229.3h.01M179.9 212.2h.01M177.7 222.8h.01M179.9 235.6h.01M188.8 228.4h.01M193.7 225.4h.01M180.6 221.7h.01M187.3 221.0h.01M193.4 228.8h.01M186.9 230.2h.01M195.6 238.4h.01M155.6 215.6h.01M205.8 196.8h.01M208.3 222.8h.01M169.5 229.3h.01M180.4 212.9h.01M208.1 218.1h.01M181.4 242.1h.01M202.2 218.7h.01M183.3 220.0h.01M209.4 212.2h.01M178.0 234.7h.01M188.9 223.0h.01M197.8 218.1h.01M165.3 219.9h.01M205.7 243.7h.01M190.7 221.7h.01M207.0 228.0h.01M195.2 202.2h.01M187.4 224.1h.01M175.3 218.3h.01M210.8 219.4h.01M176.2 203.1h.01M191.9 216.2h.01M182.4 224.3h.01M195.1 223.7h.01M195.9 209.7h.01M185.0 218.7h.01M191.4 231.9h.01M184.0 214.2h.01M208.4 223.6h.01M176.6 218.9h.01M178.4 210.6h.01M177.3 214.0h.01M214.7 232.1h.01M207.2 232.9h.01M190.5 226.0h.01M193.1 211.3h.01M179.2 231.0h.01M178.6 224.0h.01M199.2 229.5h.01M196.1 210.0h.01M180.4 261.2h.01M165.2 250.1h.01M179.5 252.7h.01M157.9 272.5h.01M163.0 259.5h.01M175.7 262.4h.01M164.8 257.8h.01M183.1 260.3h.01M174.8 249.0h.01M169.3 267.1h.01M167.7 256.3h.01M178.7 265.6h.01M178.3 258.6h.01M182.5 271.8h.01M186.7 252.6h.01M204.3 254.0h.01M162.7 263.8h.01M174.1 264.2h.01M188.1 267.6h.01M166.1 262.4h.01M185.1 268.3h.01M186.2 266.9h.01M182.1 258.9h.01M161.8 264.5h.01M170.5 269.5h.01M166.3 259.7h.01M170.7 267.8h.01M182.5 262.1h.01M177.9 271.7h.01M157.4 266.5h.01M185.8 269.3h.01M183.0 257.4h.01M169.6 266.0h.01M169.1 260.8h.01M159.9 254.8h.01M178.5 259.4h.01M167.4 260.9h.01M178.0 260.4h.01M176.7 262.5h.01M172.5 261.9h.01M166.1 259.0h.01M156.6 255.0h.01M163.1 259.6h.01M186.3 261.9h.01M176.5 256.3h.01M177.9 272.2h.01M174.1 257.1h.01M163.3 263.6h.01M165.6 266.3h.01M164.9 252.1h.01M179.8 254.2h.01M181.1 268.2h.01M169.1 263.2h.01M188.9 259.2h.01M191.0 260.0h.01M165.6 262.6h.01M177.3 268.8h.01M183.9 264.2h.01M181.6 263.1h.01M182.9 258.9h.01M164.2 263.3h.01M201.9 266.8h.01M168.0 270.4h.01M156.4 260.5h.01M179.0 258.0h.01M169.1 261.0h.01M169.6 257.3h.01M164.2 252.6h.01M165.3 261.4h.01M185.1 258.0h.01M158.7 238.7h.01M159.1 222.0h.01M160.4 213.1h.01M168.3 226.1h.01M173.6 228.4h.01M166.9 227.9h.01M159.8 234.3h.01M169.2 226.4h.01M169.6 204.7h.01M159.2 222.5h.01M166.9 227.3h.01M166.6 219.0h.01M173.5 224.8h.01M170.5 234.1h.01M173.6 224.5h.01M170.4 223.9h.01M172.4 246.1h.01M159.7 212.7h.01M175.5 223.0h.01M163.4 213.4h.01M171.6 227.2h.01M178.0 220.0h.01M171.4 239.2h.01M157.4 209.4h.01M167.6 214.7h.01M163.5 213.7h.01M165.1 211.1h.01M158.3 225.2h.01M166.7 231.8h.01M169.1 225.7h.01M170.5 210.9h.01M163.0 224.0h.01M171.6 228.1h.01M164.7 219.0h.01M167.5 208.3h.01M171.1 229.5h.01M171.6 231.9h.01M172.0 200.3h.01M167.4 205.3h.01M160.3 219.5h.01M173.1 224.6h.01M167.4 240.6h.01M167.4 210.6h.01M157.6 211.4h.01M166.7 204.1h.01M168.6 224.4h.01M161.7 222.1h.01M169.1 214.0h.01M170.4 213.1h.01M169.5 237.0h.01M167.9 207.0h.01M166.5 221.9h.01M160.8 207.1h.01M163.7 230.6h.01M170.9 234.2h.01M165.7 242.6h.01M160.9 225.8h.01M164.6 237.4h.01M166.2 209.6h.01M167.5 208.7h.01M160.8 231.2h.01M165.9 230.4h.01M160.8 235.3h.01M164.9 199.5h.01M160.6 205.6h.01M157.2 226.6h.01M168.2 227.5h.01M161.6 226.8h.01M157.2 215.7h.01M165.0 214.7h.01M166.6 220.7h.01M168.8 224.3h.01M171.7 215.7h.01M169.9 224.1h.01M167.5 222.5h.01M153.1 242.1h.01M160.5 212.2h.01M164.1 206.6h.01M176.5 214.2h.01M161.9 211.9h.01M168.6 236.4h.01M167.6 212.5h.01M173.9 224.1h.01M161.7 220.2h.01M166.8 223.6h.01M166.0 221.3h.01M177.2 252.2h.01M167.0 210.9h.01M159.7 229.9h.01M156.3 219.0h.01M169.2 249.5h.01M162.8 262.7h.01M172.4 244.2h.01M172.3 246.5h.01M161.9 244.7h.01M175.5 243.5h.01M165.4 256.2h.01M168.4 249.9h.01M160.7 266.6h.01M172.5 229.1h.01M176.4 237.7h.01M155.0 242.4h.01M176.1 245.8h.01M167.7 234.6h.01M174.6 245.9h.01M155.7 250.6h.01M169.9 248.7h.01M176.3 252.7h.01M178.0 247.6h.01M166.9 254.9h.01M175.3 245.3h.01M181.1 248.9h.01M166.0 251.5h.01M159.2 234.8h.01M182.4 256.5h.01M158.6 249.1h.01M171.0 244.1h.01M177.5 244.0h.01M173.9 243.0h.01M170.1 260.4h.01M169.8 244.1h.01M167.8 253.8h.01M162.6 244.8h.01M180.1 259.2h.01M160.7 237.5h.01M155.7 239.1h.01M163.7 247.4h.01M154.9 249.2h.01M142.8 249.1h.01M178.9 238.3h.01M185.0 271.9h.01M224.0 206.2h.01M160.4 233.9h.01M145.0 254.7h.01M183.9 230.6h.01M186.1 216.8h.01M202.9 196.4h.01M229.5 245.2h.01M182.2 244.4h.01M141.1 199.8h.01M193.3 210.5h.01M196.2 204.3h.01M190.3 202.2h.01M183.2 237.3h.01M173.6 226.6h.01M159.3 245.5h.01M174.1 259.8h.01M165.6 196.9h.01M152.0 233.8h.01M161.0 189.4h.01M164.8 202.1h.01M179.6 215.6h.01M153.4 269.6h.01M153.7 255.3h.01M156.2 226.7h.01M231.3 259.3h.01M187.4 247.3h.01M212.0 208.1h.01M191.5 233.1h.01M176.5 244.5h.01M145.5 256.0h.01M183.7 238.9h.01M181.3 211.3h.01M173.1 232.4h.01M225.5 204.1h.01M173.1 222.1h.01M172.9 217.4h.01M168.4 232.8h.01M169.0 230.8h.01M167.5 208.4h.01M159.8 221.4h.01M165.8 208.6h.01M165.0 231.7h.01M162.5 212.3h.01M168.3 209.9h.01M163.1 230.8h.01M170.0 210.4h.01M171.4 225.2h.01M163.9 230.9h.01M164.9 230.6h.01M165.4 233.6h.01M160.8 224.3h.01M161.2 214.3h.01M172.0 217.9h.01M171.8 222.0h.01M165.4 207.6h.01M164.0 206.5h.01M171.1 225.6h.01M171.5 224.7h.01M170.2 213.0h.01M162.1 226.6h.01M166.9 208.8h.01M169.5 229.6h.01M163.0 210.8h.01M166.4 231.8h.01M165.1 231.2h.01M169.3 211.0h.01M172.5 222.6h.01M163.1 232.8h.01M159.8 222.3h.01M165.5 230.9h.01M159.8 225.0h.01M168.7 230.1h.01M161.2 213.3h.01M160.4 215.5h.01M160.5 218.7h.01M162.9 230.0h.01M160.9 217.7h.01M162.1 229.7h.01M166.0 230.6h.01M168.4 211.0h.01M169.7 210.9h.01M172.5 221.0h.01M172.0 214.5h.01M171.9 221.0h.01M161.4 224.9h.01M172.3 220.9h.01M161.8 229.4h.01M161.6 227.6h.01M169.0 229.3h.01M161.7 229.0h.01M165.8 232.0h.01M166.8 209.5h.01M171.2 214.3h.01M164.8 233.4h.01M166.1 209.4h.01M170.1 210.6h.01M168.6 230.4h.01M161.3 211.5h.01M165.5 231.5h.01M172.0 221.8h.01M171.9 224.0h.01M170.6 226.7h.01M165.6 231.3h.01M167.1 234.0h.01M169.9 230.3h.01M164.3 229.9h.01M168.3 208.4h.01M167.6 210.5h.01M163.0 232.0h.01M173.3 225.5h.01M167.3 208.1h.01M168.3 230.9h.01M169.6 210.4h.01M171.4 230.1h.01M166.9 210.2h.01M159.6 225.3h.01M165.8 207.8h.01M167.0 209.8h.01M159.9 218.7h.01M164.1 210.9h.01M164.1 231.1h.01M172.7 223.8h.01M171.9 215.9h.01M162.9 212.4h.01M168.5 233.2h.01M167.6 233.2h.01M170.8 227.9h.01M169.2 230.5h.01M165.2 233.3h.01M172.8 221.1h.01M171.6 223.2h.01M161.0 213.2h.01M162.3 228.6h.01M171.0 226.3h.01M159.9 208.9h.01M161.5 210.9h.01M172.1 224.9h.01M168.0 207.9h.01M170.2 228.1h.01M168.3 204.5h.01M166.5 209.4h.01M168.5 232.0h.01M164.2 210.2h.01M170.9 213.8h.01M160.3 221.5h.01M164.5 210.1h.01M168.4 230.6h.01M165.6 208.4h.01M165.3 232.8h.01M159.4 215.5h.01M171.5 225.1h.01M165.8 232.1h.01M161.7 230.3h.01M162.5 227.4h.01M169.2 233.7h.01M167.2 209.8h.01M166.7 231.2h.01M159.7 217.2h.01M161.4 228.7h.01M161.2 217.0h.01M161.8 212.8h.01M171.4 228.7h.01M159.2 218.4h.01M170.5 229.1h.01M170.2 212.6h.01M171.5 227.7h.01M160.8 215.3h.01M159.8 218.3h.01M164.7 210.6h.01M161.4 212.8h.01M171.6 225.4h.01M160.8 221.0h.01M171.7 211.7h.01M172.0 224.9h.01M160.4 216.0h.01M162.5 228.5h.01M164.9 209.8h.01M172.1 223.4h.01M171.8 225.5h.01M173.8 216.7h.01M170.7 226.5h.01M168.7 232.4h.01M161.2 218.7h.01M169.2 232.4h.01M166.3 209.3h.01M162.8 212.2h.01M162.0 230.8h.01M170.5 213.0h.01M169.1 230.1h.01M163.0 230.8h.01M169.8 230.9h.01M163.2 228.6h.01M163.8 231.5h.01M162.7 227.8h.01M166.9 207.0h.01M161.7 213.0h.01M161.1 216.1h.01M172.6 214.2h.01M166.1 232.9h.01M161.9 226.9h.01M165.3 207.4h.01M161.0 219.2h.01M171.8 220.0h.01M167.4 232.2h.01M170.8 209.2h.01M164.3 210.4h.01M165.2 233.1h.01M171.4 215.4h.01M169.8 230.5h.01M169.8 228.6h.01M162.3 229.0h.01M168.4 210.2h.01M172.4 228.1h.01M165.6 207.4h.01M165.4 210.0h.01M169.0 210.2h.01M163.6 207.0h.01M161.1 213.4h.01M164.6 230.4h.01M172.2 226.6h.01M171.3 224.0h.01M168.9 209.3h.01M160.5 227.0h.01M167.3 233.7h.01M163.2 211.8h.01M167.2 210.2h.01M162.4 227.4h.01M161.0 217.7h.01M169.8 229.9h.01M171.3 223.6h.01M165.6 208.4h.01M161.4 213.8h.01M160.9 220.1h.01M161.5 227.8h.01M170.7 229.8h.01M171.9 223.9h.01M161.2 227.8h.01M167.2 209.0h.01M170.5 229.2h.01M160.0 221.3h.01M163.0 211.2h.01M165.7 207.4h.01M166.5 234.0h.01M163.6 231.0h.01M172.2 214.4h.01M160.9 225.9h.01M162.9 229.8h.01M172.8 222.3h.01M164.0 232.9h.01M171.6 219.8h.01M161.2 224.2h.01M168.6 210.6h.01M168.3 232.6h.01M170.2 210.1h.01M172.2 230.3h.01M171.8 215.1h.01M169.9 212.8h.01M164.4 210.5h.01M170.5 227.3h.01M167.6 230.4h.01M160.9 217.8h.01M165.9 233.1h.01M161.1 221.5h.01M164.5 209.6h.01M172.9 221.9h.01M172.1 223.6h.01M169.0 230.1h.01M161.0 211.0h.01M171.3 223.8h.01M162.2 227.1h.01M165.5 232.4h.01M170.6 210.8h.01M172.5 221.9h.01M167.1 232.9h.01M162.1 228.0h.01M164.2 229.9h.01M170.3 211.8h.01M161.0 220.4h.01M161.1 223.2h.01M166.4 230.8h.01M160.6 218.3h.01M169.7 230.5h.01M162.8 230.3h.01M166.9 233.0h.01M173.5 218.5h.01M162.6 213.1h.01M171.2 211.2h.01M172.7 222.8h.01M161.3 216.9h.01M171.0 213.5h.01M162.9 210.4h.01M171.9 217.6h.01M161.9 213.1h.01M166.6 231.7h.01M170.7 232.6h.01M163.6 230.1h.01M161.1 217.6h.01M160.7 217.5h.01M168.1 209.5h.01M164.6 209.2h.01M158.7 218.2h.01M174.2 218.0h.01M170.9 232.0h.01M163.7 231.5h.01M160.9 216.4h.01M164.1 230.0h.01M170.3 213.0h.01M171.5 210.9h.01M161.0 226.7h.01M171.6 215.8h.01M171.0 213.1h.01M167.3 209.7h.01M171.0 227.7h.01M161.0 211.6h.01M165.7 232.0h.01M166.9 231.2h.01M163.9 209.0h.01M159.8 222.3h.01M159.7 220.2h.01M161.9 229.2h.01M169.8 211.3h.01M168.1 230.0h.01M171.4 222.5h.01M165.6 230.9h.01M161.7 225.9h.01M166.7 203.7h.01M173.7 226.8h.01M170.8 210.7h.01M160.5 221.1h.01M166.4 232.8h.01M160.5 228.1h.01M162.2 228.0h.01M163.8 232.4h.01M161.0 213.4h.01M159.8 218.4h.01M159.8 218.7h.01M161.2 223.5h.01M171.8 220.1h.01M159.7 218.9h.01M160.4 216.0h.01M160.9 219.3h.01M164.9 230.8h.01M161.6 227.3h.01M159.3 223.8h.01M161.5 225.4h.01M160.9 219.3h.01M169.9 229.3h.01M165.2 208.3h.01M170.6 227.7h.01M163.7 206.0h.01M170.4 229.6h.01M168.8 230.7h.01M161.8 214.7h.01M160.6 223.7h.01M166.3 232.3h.01M168.5 206.3h.01M165.2 209.6h.01M161.0 223.8h.01M162.2 229.8h.01M167.7 210.2h.01M160.1 219.5h.01M162.2 227.8h.01M167.0 207.9h.01M163.1 210.6h.01M169.6 229.4h.01M164.9 209.5h.01M161.1 226.0h.01M159.7 224.9h.01M162.3 212.5h.01M167.9 230.9h.01M162.5 213.3h.01M170.3 210.4h.01M159.1 216.4h.01M166.7 230.7h.01M160.9 213.8h.01M171.0 225.4h.01M162.1 214.3h.01M161.5 211.5h.01M161.3 216.7h.01M169.6 229.1h.01M162.1 208.6h.01M163.5 210.7h.01M169.4 210.5h.01M173.5 224.9h.01M161.2 226.2h.01M161.2 211.9h.01M163.8 207.9h.01M169.1 231.5h.01M159.1 224.5h.01M171.7 227.4h.01M164.5 231.5h.01M171.8 225.3h.01M160.8 225.7h.01M169.9 228.5h.01M164.5 210.4h.01M159.8 218.4h.01M164.4 210.0h.01M165.6 209.6h.01M161.8 211.2h.01M164.3 210.8h.01M171.9 215.6h.01M162.2 213.9h.01M162.7 236.2h.01M162.8 229.4h.01M170.7 229.6h.01M162.4 212.1h.01M160.5 220.9h.01M164.6 207.9h.01M171.7 219.0h.01M162.6 213.2h.01M171.0 228.8h.01M173.1 220.3h.01M161.2 226.4h.01M162.1 210.8h.01M174.0 248.5h.01M168.3 237.1h.01M163.2 258.3h.01M173.8 248.2h.01M162.9 237.5h.01M159.5 239.9h.01M174.1 249.7h.01M161.8 257.3h.01M161.9 237.1h.01M161.0 238.9h.01M157.1 249.2h.01M157.2 245.0h.01M162.2 256.7h.01M165.8 236.4h.01M170.3 238.6h.01M162.5 258.9h.01M158.4 245.4h.01M169.0 236.3h.01M173.3 239.9h.01M164.3 260.5h.01M175.1 250.1h.01M170.5 239.3h.01M158.4 242.9h.01M171.8 239.4h.01M166.3 237.5h.01M174.5 250.0h.01M159.0 253.5h.01M158.9 250.8h.01M173.6 244.7h.01M172.7 255.0h.01M167.9 237.5h.01M156.9 252.3h.01M174.9 249.6h.01M169.0 257.3h.01M173.1 243.1h.01M167.6 236.3h.01M171.8 257.0h.01M174.6 243.3h.01M162.3 237.5h.01M157.6 250.7h.01M164.5 237.9h.01M173.1 243.7h.01M163.1 238.1h.01M158.5 249.9h.01M175.0 251.2h.01M163.2 257.3h.01M158.7 242.6h.01M162.0 259.3h.01M168.9 257.3h.01M158.3 251.9h.01M172.2 255.0h.01M174.4 248.8h.01M160.2 240.2h.01M161.7 255.9h.01M162.6 258.1h.01M164.4 259.2h.01M166.5 259.5h.01M161.8 257.0h.01M158.3 251.6h.01M162.4 237.8h.01M173.0 254.8h.01M169.6 257.3h.01M158.6 240.9h.01M163.5 236.9h.01M160.0 240.5h.01M164.0 235.7h.01M161.2 235.8h.01M166.5 237.0h.01M157.5 250.3h.01M174.1 242.1h.01M157.2 250.2h.01M164.2 237.5h.01M158.7 250.0h.01M171.6 239.4h.01M159.9 240.3h.01M163.7 237.6h.01M162.1 238.6h.01M156.9 251.5h.01M174.6 249.9h.01M158.7 250.3h.01M169.9 256.8h.01M172.5 256.3h.01M172.9 254.4h.01M161.9 258.7h.01M161.5 239.4h.01M159.0 254.6h.01M158.9 253.6h.01M174.6 246.0h.01M159.8 255.4h.01M158.4 241.2h.01M168.2 235.8h.01M158.2 244.8h.01M166.9 258.1h.01M173.4 243.4h.01M158.1 242.5h.01M158.7 250.1h.01M158.8 244.3h.01M174.1 244.8h.01M174.5 252.9h.01M167.4 236.3h.01M159.6 256.1h.01M172.7 253.2h.01M170.0 236.6h.01M160.2 238.8h.01M174.2 247.8h.01M158.3 245.7h.01M159.9 254.7h.01M162.9 238.3h.01M162.2 259.5h.01M163.3 258.5h.01M175.9 243.0h.01M161.3 257.4h.01M175.3 255.3h.01M159.8 253.6h.01M171.7 255.2h.01M158.0 244.4h.01M173.9 251.3h.01M160.2 257.5h.01M171.4 239.6h.01M163.8 237.5h.01M159.9 254.3h.01M159.9 255.4h.01M158.3 244.8h.01M169.5 258.3h.01M159.2 256.0h.01M171.0 257.1h.01M174.1 247.6h.01M173.5 252.4h.01M174.0 248.8h.01M158.1 252.3h.01M175.1 247.1h.01M159.0 253.4h.01M158.6 250.7h.01M158.2 253.1h.01M170.0 258.4h.01M158.9 250.9h.01M161.2 256.3h.01M158.3 242.3h.01M170.6 239.5h.01M158.7 254.0h.01M157.0 244.2h.01M157.3 242.5h.01M163.8 237.0h.01M163.1 237.5h.01M171.2 256.0h.01M176.8 246.4h.01M167.6 237.4h.01M172.1 241.3h.01M174.1 254.3h.01M173.9 245.2h.01M207.8 252.4h.01M185.4 257.2h.01M208.5 250.8h.01M174.5 249.6h.01M173.8 246.6h.01M178.5 251.9h.01M207.4 245.3h.01M208.6 249.7h.01M205.6 243.4h.01M175.2 243.3h.01M207.4 251.1h.01M206.7 250.3h.01M208.4 246.9h.01M188.2 257.7h.01M209.1 253.1h.01M189.7 256.3h.01M203.0 254.4h.01M211.5 248.5h.01M204.8 253.7h.01M202.6 255.9h.01M177.6 250.5h.01M187.2 238.2h.01M176.0 248.4h.01M181.7 256.9h.01M207.9 252.9h.01M203.1 256.7h.01M173.5 247.8h.01M193.4 256.4h.01M177.4 250.9h.01M190.7 238.1h.01M182.6 255.9h.01M205.6 254.5h.01M200.5 255.9h.01M191.9 238.1h.01M192.6 237.5h.01M188.1 238.8h.01M174.8 249.2h.01M210.8 248.3h.01M208.6 242.8h.01M207.9 245.3h.01M184.2 236.9h.01M181.7 240.3h.01M211.0 244.4h.01M203.0 239.7h.01M184.6 255.1h.01M183.3 239.8h.01M180.3 253.3h.01M190.5 236.6h.01M179.0 242.6h.01M186.1 238.3h.01M200.0 257.1h.01M200.1 239.3h.01M208.1 248.2h.01M177.6 250.5h.01M195.2 256.3h.01M208.5 248.9h.01M207.4 253.3h.01M200.6 239.3h.01M208.7 244.4h.01M205.2 254.6h.01M203.0 239.6h.01M206.3 241.5h.01M174.4 242.9h.01M187.0 238.7h.01M191.9 259.3h.01M182.0 240.3h.01M205.9 243.3h.01M206.5 241.7h.01M194.2 238.4h.01M206.8 251.8h.01M195.1 238.0h.01M207.5 251.0h.01M206.9 245.0h.01M175.0 248.0h.01M206.8 243.4h.01M176.4 248.0h.01M201.7 254.5h.01M182.0 239.9h.01M205.3 242.8h.01M206.7 251.7h.01M178.8 243.7h.01M206.1 241.3h.01M203.1 256.1h.01M182.6 237.9h.01M190.6 257.1h.01M174.9 242.3h.01M175.0 246.5h.01M177.6 251.2h.01M201.1 239.8h.01M174.1 244.8h.01M211.2 247.7h.01M176.2 248.6h.01M176.9 243.4h.01M185.7 239.1h.01M177.1 253.9h.01M208.4 253.5h.01M176.8 245.5h.01M177.6 249.7h.01M193.9 238.3h.01M207.9 249.8h.01M180.2 253.8h.01M206.8 241.0h.01M181.7 240.8h.01M181.7 240.7h.01M190.8 238.2h.01M189.3 238.2h.01M179.1 242.4h.01M177.7 245.3h.01M185.5 258.0h.01M177.2 250.4h.01M208.0 247.3h.01M195.9 238.8h.01M209.6 250.3h.01M183.5 238.5h.01M175.9 250.1h.01M203.6 256.5h.01M178.7 243.1h.01M201.9 254.5h.01M181.0 237.9h.01M207.5 250.1h.01M187.5 238.6h.01M207.5 250.4h.01M186.8 256.1h.01M200.6 256.4h.01M179.3 242.6h.01M176.4 247.7h.01M197.1 238.7h.01M175.4 252.5h.01M199.2 237.6h.01M185.4 255.6h.01M208.2 246.1h.01M200.3 239.7h.01M196.4 238.9h.01M183.1 256.5h.01M204.2 254.1h.01M186.7 238.2h.01M173.7 243.7h.01M208.6 250.0h.01M205.8 253.3h.01M195.3 237.4h.01M207.5 248.4h.01M198.7 255.5h.01M207.3 253.0h.01M176.1 253.0h.01M197.8 239.0h.01M197.3 257.9h.01M181.3 239.7h.01M206.5 244.1h.01M179.7 241.4h.01M177.0 247.5h.01M209.1 244.3h.01M182.1 256.0h.01M207.4 247.8h.01M176.5 245.7h.01M206.7 253.3h.01M175.0 244.9h.01M195.3 256.4h.01M189.3 258.0h.01M197.8 256.3h.01M210.1 245.4h.01M176.0 249.0h.01M209.6 250.3h.01M182.8 240.3h.01M183.6 256.3h.01M197.4 239.2h.01M191.4 238.3h.01M207.2 243.0h.01M173.9 248.5h.01M205.6 254.5h.01M178.0 242.0h.01M184.9 255.9h.01M184.0 257.0h.01M195.1 238.6h.01M191.1 238.2h.01M203.3 240.6h.01M176.5 249.2h.01M176.4 248.4h.01M206.5 243.4h.01M177.0 250.1h.01M189.3 238.4h.01M181.2 240.4h.01M202.9 253.9h.01M186.6 238.7h.01M201.5 240.2h.01M176.9 249.9h.01M205.0 241.1h.01M179.8 241.9h.01M178.5 240.7h.01M201.6 257.4h.01M205.8 252.3h.01M206.1 237.3h.01M179.3 242.6h.01M200.4 239.7h.01M190.7 236.7h.01M192.6 257.1h.01M206.0 241.0h.01M178.3 242.2h.01M209.6 247.8h.01M209.6 246.2h.01M194.1 238.4h.01M209.4 249.6h.01M196.9 238.8h.01M199.5 238.7h.01M177.9 244.2h.01M207.9 248.2h.01M206.0 256.3h.01M187.9 256.3h.01M176.7 248.7h.01M186.8 256.5h.01M192.0 236.3h.01M210.7 249.2h.01M203.6 240.8h.01M179.4 252.6h.01M175.7 249.7h.01M181.9 240.7h.01M204.6 241.8h.01M183.7 256.3h.01M190.4 256.5h.01M210.0 243.8h.01M196.1 238.4h.01M207.7 252.5h.01M208.7 251.0h.01M208.4 244.1h.01M206.9 254.7h.01M181.3 254.8h.01M199.7 256.1h.01M175.4 243.7h.01M196.9 256.7h.01M207.3 246.5h.01M176.4 248.8h.01M210.7 243.2h.01M196.7 257.5h.01M191.8 238.5h.01M190.4 257.4h.01M185.9 239.5h.01M183.4 255.2h.01M176.3 248.3h.01M188.5 238.9h.01M185.0 238.6h.01M181.2 241.3h.01M198.1 237.0h.01M207.5 244.0h.01M207.8 251.5h.01M206.8 252.2h.01M205.4 241.8h.01M208.0 255.1h.01M189.7 256.7h.01M204.6 240.3h.01M176.2 246.3h.01M208.3 245.7h.01M176.5 245.0h.01M176.8 250.8h.01M183.0 240.5h.01M203.2 240.8h.01M194.3 258.0h.01M178.7 252.5h.01M183.4 255.4h.01M178.5 242.1h.01M187.0 238.5h.01M186.6 256.9h.01M202.7 254.1h.01M191.3 257.0h.01M173.7 248.6h.01M207.3 250.2h.01M182.5 255.1h.01M206.0 243.4h.01M188.4 238.2h.01M203.4 237.2h.01M186.8 238.9h.01M193.5 256.9h.01M207.3 249.8h.01M191.3 256.9h.01M198.5 255.9h.01M186.1 255.7h.01M182.9 255.7h.01M201.2 256.0h.01M186.9 256.9h.01M176.2 247.5h.01M202.6 255.3h.01M207.8 247.7h.01M191.1 237.6h.01M188.1 238.9h.01M176.2 249.1h.01M212.3 246.1h.01M177.4 243.1h.01M206.7 241.9h.01M177.0 250.9h.01M207.1 241.2h.01M203.1 255.1h.01M179.6 252.8h.01M200.9 239.6h.01M206.7 250.5h.01M182.0 240.1h.01M206.8 243.9h.01M189.2 257.7h.01M177.8 250.5h.01M184.1 238.6h.01M197.9 256.5h.01M184.4 257.7h.01M207.6 241.7h.01M181.0 255.4h.01M179.7 255.4h.01M181.5 254.0h.01M209.1 246.1h.01M205.0 240.0h.01M176.5 250.9h.01M207.9 247.1h.01M198.0 238.3h.01M211.1 245.4h.01M203.3 255.2h.01M178.4 242.5h.01M176.7 249.0h.01M202.9 240.6h.01M206.9 245.3h.01M192.9 237.6h.01M206.2 242.6h.01M176.6 253.0h.01M192.8 238.0h.01M202.6 254.5h.01M176.3 244.2h.01M208.6 250.1h.01M186.1 257.8h.01M177.9 244.2h.01M207.4 247.6h.01M190.8 258.6h.01M176.4 249.1h.01M182.8 239.4h.01M175.9 248.0h.01M186.6 239.3h.01M189.6 256.8h.01M210.6 247.1h.01M177.9 242.8h.01M176.6 243.5h.01M175.2 249.0h.01M186.5 238.2h.01M177.3 243.0h.01M201.0 240.0h.01M185.7 255.8h.01M203.8 241.1h.01M190.0 256.8h.01M177.6 252.3h.01M188.3 256.6h.01M175.2 245.6h.01M194.0 238.1h.01M199.6 257.2h.01M175.9 244.8h.01M203.8 240.5h.01M186.6 257.5h.01M186.2 239.2h.01M178.4 243.0h.01M200.1 238.2h.01M181.7 253.9h.01M174.8 248.5h.01M207.6 254.2h.01M200.9 254.9h.01M205.4 241.7h.01M180.0 241.2h.01M175.3 245.5h.01M178.0 244.7h.01M176.7 249.8h.01M207.5 252.1h.01M172.9 249.0h.01M185.6 257.1h.01M206.2 240.7h.01M179.9 242.4h.01M188.1 237.8h.01M207.7 249.1h.01M202.5 239.9h.01M201.8 254.4h.01M203.3 254.4h.01M206.7 252.1h.01M208.7 252.6h.01M194.6 238.8h.01M204.5 253.3h.01M196.5 238.6h.01M203.4 253.5h.01M192.0 258.1h.01M192.8 237.9h.01M195.6 238.1h.01M205.1 242.1h.01M198.5 255.9h.01M201.2 239.9h.01M208.1 244.0h.01M200.6 255.3h.01M177.1 247.5h.01M177.3 243.3h.01M204.7 252.7h.01M195.4 256.2h.01M198.0 256.2h.01M173.2 244.8h.01M208.3 245.9h.01M176.4 247.3h.01M187.9 237.9h.01M176.3 251.2h.01M207.6 245.1h.01M180.0 254.3h.01M195.7 256.2h.01M208.3 246.6h.01M203.7 254.0h.01M193.5 238.3h.01M187.9 238.7h.01M185.1 255.4h.01M204.0 253.6h.01M185.5 257.2h.01M209.7 246.0h.01M188.3 256.6h.01M201.7 240.4h.01M200.8 239.7h.01M176.9 248.9h.01M208.5 247.4h.01M175.5 248.0h.01M183.4 239.4h.01M206.4 252.4h.01M178.2 242.2h.01M208.7 254.6h.01M208.6 251.6h.01M208.7 246.0h.01M209.8 246.9h.01M204.4 254.4h.01M189.1 257.9h.01M188.5 238.1h.01M196.2 238.5h.01M181.8 239.7h.01M179.2 241.7h.01M178.5 253.1h.01M194.0 238.7h.01M204.0 253.0h.01M180.1 240.1h.01M202.6 254.3h.01M206.3 251.3h.01M184.8 238.5h.01M185.7 239.4h.01M201.3 255.1h.01M206.2 251.8h.01M192.5 238.4h.01M197.9 258.1h.01M183.5 239.2h.01M183.9 254.9h.01M205.1 238.4h.01M208.5 249.4h.01M177.0 251.7h.01M185.9 256.2h.01M181.2 253.9h.01M178.1 244.4h.01M202.6 240.2h.01M174.1 248.1h.01M202.6 254.3h.01M205.8 254.0h.01M184.7 238.7h.01M176.3 242.9h.01M175.9 249.0h.01M179.1 253.8h.01M174.3 247.9h.01M182.9 254.8h.01M207.4 246.3h.01M207.2 250.0h.01M201.2 238.9h.01M210.0 249.3h.01M204.4 241.7h.01M183.4 255.2h.01M181.7 255.3h.01M192.6 257.8h.01M180.9 238.5h.01M208.5 251.6h.01M187.1 255.9h.01M185.2 255.5h.01M175.9 249.9h.01M206.3 241.7h.01M190.6 256.8h.01M210.0 246.6h.01M179.9 254.5h.01M198.3 238.3h.01M205.2 253.0h.01M175.5 247.3h.01M193.9 237.8h.01M180.8 255.3h.01M174.6 251.9h.01M195.8 238.9h.01M201.3 239.2h.01M207.0 250.2h.01M208.6 247.3h.01M191.6 238.2h.01M205.3 252.5h.01M184.1 255.4h.01M206.7 251.3h.01M196.6 257.4h.01M196.8 238.5h.01M197.8 238.4h.01M177.3 251.4h.01M179.7 252.7h.01M179.2 239.8h.01M199.1 256.1h.01M208.5 248.6h.01M175.3 242.3h.01M196.6 258.1h.01M176.8 249.4h.01M208.9 243.4h.01M194.2 238.4h.01M176.0 251.7h.01M176.2 246.2h.01M181.9 254.5h.01M186.0 238.9h.01M187.1 256.9h.01M199.9 239.4h.01M206.7 251.1h.01M200.0 238.5h.01M183.1 240.5h.01M177.4 253.4h.01M204.1 253.5h.01M200.0 238.9h.01M175.5 249.8h.01M182.7 240.1h.01M207.5 249.6h.01M191.5 256.9h.01M197.5 238.8h.01M202.0 239.9h.01M207.3 245.5h.01M201.9 240.7h.01M208.3 253.0h.01M206.6 241.4h.01M186.5 230.8h.01M193.1 221.0h.01M214.0 218.8h.01M199.7 229.1h.01M193.3 199.5h.01M173.7 222.2h.01M222.4 217.1h.01M195.7 247.9h.01M196.5 230.6h.01M199.7 215.8h.01M185.7 219.5h.01M195.9 216.9h.01M190.1 227.9h.01M210.4 251.0h.01M187.5 228.1h.01M184.2 218.2h.01M175.4 244.0h.01M190.9 235.6h.01M183.3 199.2h.01M216.5 207.2h.01M183.6 238.2h.01M197.1 223.0h.01M212.0 221.9h.01M205.6 211.4h.01M213.1 218.9h.01M198.1 217.1h.01M186.2 221.9h.01M207.0 222.3h.01M198.3 219.8h.01M211.9 208.9h.01M175.9 240.6h.01M170.1 243.9h.01M195.8 229.8h.01M199.9 217.8h.01M202.2 247.4h.01M210.6 217.2h.01M210.9 212.1h.01M193.4 226.6h.01M210.9 209.8h.01M208.6 220.5h.01M176.3 236.0h.01M191.0 203.0h.01M205.6 206.4h.01M191.5 212.6h.01M186.3 237.0h.01M203.6 208.4h.01M193.3 225.7h.01M212.3 230.1h.01M181.5 210.8h.01M204.0 233.4h.01M188.8 218.1h.01M202.1 228.2h.01M164.4 222.0h.01M205.9 208.7h.01M206.4 211.3h.01M198.8 215.7h.01M176.6 227.4h.01M194.8 241.7h.01M206.0 207.5h.01M199.9 235.8h.01M206.2 245.5h.01M219.4 217.2h.01M200.7 251.4h.01M211.3 217.6h.01M177.7 207.9h.01M203.9 223.8h.01M193.8 218.6h.01M185.7 231.8h.01M195.7 229.7h.01M176.4 244.7h.01M210.1 236.8h.01M171.2 234.8h.01M178.8 229.7h.01M210.0 236.8h.01M204.7 245.4h.01M198.0 216.1h.01M189.7 225.2h.01M206.1 213.3h.01M205.8 224.7h.01M190.5 214.7h.01M190.3 228.4h.01M193.7 233.3h.01M176.7 208.8h.01M183.6 237.2h.01M194.3 225.4h.01M203.1 232.2h.01M189.6 209.3h.01M191.7 208.2h.01M195.2 216.6h.01M199.4 227.2h.01M191.6 232.0h.01M230.0 204.7h.01M225.1 214.3h.01M179.7 214.4h.01M204.8 227.4h.01M188.6 218.6h.01M186.9 231.5h.01M211.1 222.2h.01M187.8 220.9h.01M168.3 224.4h.01M200.6 220.9h.01M189.9 237.3h.01M199.8 229.3h.01M202.0 226.6h.01M211.8 209.9h.01M195.6 199.9h.01M191.0 247.0h.01M180.6 212.9h.01M195.1 234.5h.01M204.2 219.0h.01M216.4 224.4h.01M209.7 242.5h.01M184.2 208.6h.01M202.4 227.0h.01M196.4 227.9h.01M194.8 242.2h.01M159.9 239.0h.01M199.1 223.6h.01M184.3 238.6h.01M182.1 226.2h.01M209.7 206.8h.01M199.8 228.4h.01M201.1 219.9h.01M203.0 236.4h.01M192.4 247.9h.01M182.4 217.5h.01M210.4 222.6h.01M184.8 220.1h.01M214.2 233.7h.01M184.9 204.4h.01M213.9 227.7h.01M190.9 215.0h.01M171.1 210.5h.01M199.6 219.6h.01M215.7 235.1h.01M188.9 214.8h.01M211.5 220.9h.01M227.7 226.1h.01M179.6 202.6h.01M187.2 240.9h.01M193.0 197.5h.01M188.5 221.8h.01M212.4 229.8h.01M194.2 228.3h.01M222.7 236.6h.01M187.1 232.5h.01M209.6 250.6h.01M199.4 221.4h.01M200.3 219.7h.01M197.8 216.1h.01M196.3 209.0h.01M206.1 233.8h.01M176.2 233.2h.01M189.3 240.5h.01M208.1 237.0h.01M203.1 213.5h.01M171.1 226.5h.01M180.7 227.1h.01M178.1 233.6h.01M202.2 210.9h.01M184.4 229.7h.01M206.6 227.5h.01M187.7 226.8h.01M193.3 219.1h.01M179.1 225.5h.01M186.2 223.6h.01M171.8 234.2h.01M189.3 225.9h.01M214.0 242.1h.01M203.9 213.8h.01M194.9 228.3h.01M199.2 226.5h.01M205.8 232.2h.01M210.6 234.0h.01M187.7 221.5h.01M195.8 229.5h.01M190.1 224.9h.01M192.0 219.1h.01M201.0 235.0h.01M217.3 236.2h.01M173.3 269.6h.01M160.8 264.5h.01M171.3 258.7h.01M201.8 259.5h.01M181.0 265.5h.01M177.7 253.8h.01M181.9 259.9h.01M176.7 261.9h.01M183.5 264.5h.01M159.8 263.3h.01M199.2 250.6h.01M166.9 257.9h.01M154.2 251.0h.01M166.5 268.9h.01M173.6 256.4h.01M176.0 264.9h.01M183.8 262.3h.01M209.7 263.6h.01M183.2 258.8h.01M167.7 255.0h.01M162.5 265.3h.01M179.9 258.2h.01M173.8 268.4h.01M175.5 262.2h.01M181.5 265.0h.01M168.9 247.2h.01M154.6 264.1h.01M171.1 259.9h.01M157.4 257.2h.01M179.4 262.2h.01M165.1 255.1h.01M201.1 260.5h.01M176.7 254.0h.01M168.6 260.3h.01M164.2 262.5h.01M164.1 257.5h.01M168.4 252.0h.01M159.1 262.7h.01M165.6 260.9h.01M176.3 264.0h.01M187.7 258.1h.01M164.2 263.2h.01M188.3 259.9h.01M177.2 260.8h.01M176.1 265.8h.01M173.2 265.6h.01M169.3 268.9h.01M187.6 254.7h.01M184.8 265.7h.01M170.7 247.2h.01M186.9 254.2h.01M175.9 251.4h.01M185.1 251.0h.01M171.0 258.6h.01M177.9 253.1h.01M183.5 264.9h.01M173.6 260.3h.01M145.0 271.6h.01M175.3 265.9h.01M180.2 262.3h.01M186.3 258.2h.01M190.2 271.5h.01M180.4 261.1h.01M189.7 264.5h.01M173.5 260.0h.01M179.5 266.6h.01M172.0 266.7h.01M201.6 265.6h.01M177.2 265.4h.01M172.7 255.3h.01M168.9 253.8h.01M189.5 259.1h.01M155.8 265.1h.01M182.4 263.8h.01M161.9 255.3h.01M199.1 258.4h.01M183.5 262.7h.01M161.4 253.2h.01M183.9 260.1h.01M174.6 268.3h.01M158.5 261.6h.01M192.1 267.1h.01M174.7 264.8h.01M185.5 256.7h.01M160.3 267.2h.01M178.6 272.9h.01M170.3 268.0h.01M188.0 265.0h.01M178.3 256.3h.01M174.5 259.0h.01M178.3 255.7h.01M181.0 272.7h.01M167.5 265.2h.01M155.3 265.0h.01M181.1 256.5h.01M184.6 262.6h.01M199.7 262.7h.01M182.7 261.1h.01M180.2 263.8h.01M179.0 253.2h.01" stroke="#000" stroke-width="0.5" stroke-linecap="square" fill="none" opacity="0.85"/>
<ellipse cx="166.40" cy="220.40" rx="5.60" ry="10.40" fill="#000" opacity="0.85" filter="url(#bl06)"/>
<ellipse cx="166.20" cy="247.80" rx="7.80" ry="10.20" fill="#000" opacity="0.7" filter="url(#bl06)"/>
<ellipse cx="192.40" cy="247.50" rx="15.50" ry="9.20" fill="#000" opacity="0.8" filter="url(#bl06)"/>
<ellipse cx="178.00" cy="247.50" rx="4.00" ry="5.00" fill="#000" opacity="0.9" filter="url(#bl06)"/>
<ellipse cx="166.30" cy="220.40" rx="3.00" ry="6.20" fill="#fafafa" stroke="#1a1a1a" stroke-width="0.5"/>
<ellipse cx="166.30" cy="220.40" rx="1.72" ry="3.56" fill="none" stroke="#999" stroke-width="0.45"/>
<ellipse cx="166.20" cy="247.80" rx="7.20" ry="9.60" fill="#a5a5a5" stroke="#1a1a1a" stroke-width="0.6"/>
<ellipse cx="166.20" cy="247.80" rx="6.18" ry="8.24" fill="none" stroke="#555" stroke-width="0.45"/>
<ellipse cx="166.20" cy="247.80" rx="5.16" ry="6.88" fill="none" stroke="#555" stroke-width="0.45"/>
<ellipse cx="166.20" cy="247.80" rx="4.14" ry="5.52" fill="none" stroke="#555" stroke-width="0.45"/>
<ellipse cx="166.20" cy="247.80" rx="3.12" ry="4.16" fill="none" stroke="#555" stroke-width="0.45"/>
<ellipse cx="166.20" cy="247.80" rx="2.10" ry="2.80" fill="none" stroke="#555" stroke-width="0.45"/>
<ellipse cx="166.20" cy="247.80" rx="1.44" ry="1.92" fill="#d0d0d0" stroke="#777" stroke-width="0.4"/>
<ellipse cx="192.40" cy="247.50" rx="11.50" ry="5.60" fill="#f2f2f2" stroke="#1a1a1a" stroke-width="0.6"/>
<ellipse cx="192.40" cy="247.50" rx="8.24" ry="4.01" fill="none" stroke="#777" stroke-width="0.45"/>
<ellipse cx="192.40" cy="247.50" rx="4.98" ry="2.43" fill="none" stroke="#777" stroke-width="0.45"/>
<ellipse cx="192.40" cy="247.50" rx="5.75" ry="2.80" fill="#fff" stroke="#777" stroke-width="0.4"/>
</g>
<rect x="156.40" y="196.70" width="21.20" height="36.40" fill="none" stroke="#444" stroke-width="0.75" />
<rect x="179.70" y="234.80" width="32.80" height="23.30" fill="none" stroke="#444" stroke-width="0.75" />
<rect x="138.00" y="178.10" width="95.70" height="97.30" fill="none" stroke="#111" stroke-width="1.1" />
<path d="M135.8 179.8h2.2M135.8 183.3h2.2M135.8 186.8h2.2M135.8 190.3h2.2M135.8 193.7h2.2M135.8 197.2h2.2M135.8 200.7h2.2M135.8 204.2h2.2M135.8 207.6h2.2M135.8 211.1h2.2M135.8 214.6h2.2M135.8 218.1h2.2M135.8 221.5h2.2M135.8 225.0h2.2M135.8 228.5h2.2M135.8 232.0h2.2M135.8 235.4h2.2M135.8 238.9h2.2M135.8 242.4h2.2M135.8 245.9h2.2M135.8 249.3h2.2M135.8 252.8h2.2M135.8 256.3h2.2M135.8 259.8h2.2M135.8 263.2h2.2M135.8 266.7h2.2M135.8 270.2h2.2M135.8 273.7h2.2" stroke="#222" stroke-width="0.65"/>
<path d="M139.6 275.4v2.2M142.7 275.4v2.2M145.8 275.4v2.2M148.9 275.4v2.2M152.0 275.4v2.2M155.1 275.4v2.2M158.2 275.4v2.2M161.3 275.4v2.2M164.4 275.4v2.2M167.5 275.4v2.2M170.6 275.4v2.2M173.7 275.4v2.2M176.8 275.4v2.2M179.9 275.4v2.2M183.1 275.4v2.2M186.2 275.4v2.2M189.3 275.4v2.2M192.4 275.4v2.2M195.5 275.4v2.2M198.6 275.4v2.2M201.7 275.4v2.2M204.8 275.4v2.2M207.9 275.4v2.2M211.0 275.4v2.2M214.1 275.4v2.2M217.2 275.4v2.2M220.3 275.4v2.2M223.4 275.4v2.2M226.6 275.4v2.2M229.7 275.4v2.2" stroke="#222" stroke-width="0.65"/>
<text x="142.00" y="193.10" font-size="8.8" text-anchor="start" font-weight="normal" fill="#111" >4.38</text>
<text x="229.20" y="264.60" font-size="8.8" text-anchor="end" font-weight="normal" fill="#111" >13.3</text>
<text x="29.00" y="194.30" font-size="7.5" text-anchor="middle" fill="#111">10<tspan font-size="5.55" dy="-3.15">4</tspan></text>
<text x="29.00" y="228.60" font-size="7.5" text-anchor="middle" fill="#111">10<tspan font-size="5.55" dy="-3.15">3</tspan></text>
<text x="30.00" y="248.70" font-size="7.5" text-anchor="middle" font-weight="normal" fill="#111" >0</text>
<text x="28.00" y="271.00" font-size="7.5" text-anchor="middle" fill="#111">−10<tspan font-size="5.55" dy="-3.15">3</tspan></text>
<text x="14.80" y="229.00" font-size="9" text-anchor="middle" textLength="11.5" lengthAdjust="spacingAndGlyphs" fill="#111" stroke="#111" stroke-width="0.32" transform="rotate(-90 14.80 229.00)">CD8</text>
<text x="43.00" y="286.00" font-size="7.5" text-anchor="middle" fill="#111">−10<tspan font-size="5.55" dy="-3.15">3</tspan></text>
<text x="62.50" y="286.00" font-size="7.5" text-anchor="middle" font-weight="normal" fill="#111" >0</text>
<text x="79.40" y="286.00" font-size="7.5" text-anchor="middle" fill="#111">10<tspan font-size="5.55" dy="-3.15">3</tspan></text>
<text x="109.90" y="286.00" font-size="7.5" text-anchor="middle" fill="#111">10<tspan font-size="5.55" dy="-3.15">4</tspan></text>
<text x="144.20" y="286.00" font-size="7.5" text-anchor="middle" fill="#111">−10<tspan font-size="5.55" dy="-3.15">3</tspan></text>
<text x="163.00" y="286.00" font-size="7.5" text-anchor="middle" font-weight="normal" fill="#111" >0</text>
<text x="181.50" y="286.00" font-size="7.5" text-anchor="middle" fill="#111">10<tspan font-size="5.55" dy="-3.15">3</tspan></text>
<text x="211.00" y="286.00" font-size="7.5" text-anchor="middle" fill="#111">10<tspan font-size="5.55" dy="-3.15">4</tspan></text>
<text x="51.20" y="295.80" font-size="9.2" text-anchor="middle" font-weight="normal" fill="#111" >CD4</text>
<line x1="66.00" y1="293.00" x2="214.80" y2="293.00" stroke="#111" stroke-width="0.9" />
<polygon points="217.80,293.00 213.80,291.30 213.80,294.70" fill="#111"/>
<text x="328.90" y="174.30" font-size="8.8" text-anchor="middle" font-weight="normal" fill="#111" >PBS</text>
<clipPath id="cb1"><rect x="281.4" y="179.9" width="94.40000000000003" height="93.99999999999997"/></clipPath>
<g clip-path="url(#cb1)">
<path d="M301.0,252.0 C300.5,240.0 303.0,230.0 307.0,228.0 C311.0,232.0 313.0,245.0 312.0,256.0 Z" fill="#000" opacity="0.75" filter="url(#bl1)"/>
<path d="M312.0,271.0 C320.0,262.0 335.0,250.0 352.0,246.0 C356.0,251.0 355.0,260.0 349.0,265.0 C338.0,270.0 322.0,272.0 312.0,271.0Z" fill="#000" opacity="0.6" filter="url(#bl1)"/>
<path d="M301.6 227.6h.01M310.2 245.0h.01M304.9 229.6h.01M303.3 240.2h.01M302.1 248.0h.01M303.4 238.7h.01M305.7 223.5h.01M308.6 241.3h.01M298.9 237.9h.01M304.9 232.7h.01M307.1 250.6h.01M307.1 229.7h.01M303.8 225.2h.01M306.6 233.0h.01M306.9 247.4h.01M308.8 242.7h.01M305.2 228.0h.01M313.0 258.7h.01M305.7 244.5h.01M302.3 237.9h.01M306.1 236.3h.01M311.6 243.5h.01M304.0 237.7h.01M306.8 228.3h.01M307.5 240.7h.01M308.9 243.8h.01M303.9 235.6h.01M310.4 244.4h.01M307.9 245.8h.01M305.7 232.2h.01M311.8 239.5h.01M310.1 240.3h.01M309.5 234.1h.01M301.8 238.8h.01M304.5 246.3h.01M307.1 228.6h.01M303.6 229.8h.01M303.6 240.3h.01M304.0 250.3h.01M307.3 234.2h.01M310.1 248.3h.01M306.6 238.1h.01M312.2 247.4h.01M302.6 242.3h.01M303.3 248.2h.01M302.7 235.9h.01M304.0 244.8h.01M302.6 241.1h.01M299.1 247.8h.01M297.4 242.4h.01M306.8 237.0h.01M309.5 250.0h.01M309.4 250.1h.01M307.0 238.0h.01M306.8 249.8h.01M305.8 221.8h.01M300.6 255.4h.01M303.4 236.1h.01M309.0 248.2h.01M307.8 242.2h.01M299.2 258.7h.01M304.8 249.7h.01M306.5 236.7h.01M305.1 239.7h.01M311.3 230.7h.01M307.3 255.4h.01M304.4 241.3h.01M302.2 254.2h.01M302.4 246.2h.01M299.7 234.1h.01M306.7 232.1h.01M305.2 230.3h.01M306.3 231.5h.01M302.6 243.1h.01M299.9 246.0h.01M303.4 253.8h.01M304.3 233.9h.01M306.3 249.0h.01M298.2 235.9h.01M310.0 232.7h.01M302.1 228.3h.01M304.9 231.0h.01M307.4 229.0h.01M304.5 239.5h.01M304.1 239.1h.01M302.9 233.9h.01M309.9 244.4h.01M307.4 249.4h.01M307.3 238.6h.01M307.9 239.0h.01M311.6 242.7h.01M306.1 253.5h.01M308.6 235.4h.01M307.5 230.8h.01M305.2 242.4h.01M306.4 239.7h.01M302.9 244.2h.01M307.8 235.6h.01M305.9 244.9h.01M307.6 243.8h.01M307.5 245.8h.01M308.3 244.7h.01M304.4 243.7h.01M303.9 236.3h.01M307.1 241.5h.01M303.8 245.5h.01M303.6 244.7h.01M301.7 251.6h.01M307.6 244.7h.01M306.1 230.4h.01M300.7 241.6h.01M304.8 243.6h.01M309.3 244.3h.01M302.9 246.1h.01M304.0 244.2h.01M307.9 236.8h.01M310.7 238.3h.01M306.1 251.2h.01M306.6 234.3h.01M304.9 242.9h.01M304.6 236.9h.01M309.0 239.5h.01M311.6 239.7h.01M302.7 239.0h.01M309.0 236.4h.01M309.6 241.1h.01M307.3 235.2h.01M306.1 241.0h.01M309.4 237.3h.01M301.0 232.2h.01M303.8 246.1h.01M303.1 233.2h.01M305.0 240.8h.01M305.7 230.7h.01M305.0 248.6h.01M307.3 244.1h.01M303.6 238.7h.01M302.0 245.6h.01M308.7 239.1h.01M304.8 234.3h.01M305.6 254.3h.01M303.7 242.8h.01M308.9 240.2h.01M301.8 243.7h.01M310.9 242.2h.01M305.9 240.6h.01M299.2 243.5h.01M304.5 233.7h.01M309.9 233.4h.01M306.3 231.1h.01M307.1 229.7h.01M306.7 241.9h.01M308.4 230.6h.01M304.6 234.4h.01M308.3 227.2h.01M304.7 244.9h.01M306.6 228.7h.01M309.6 241.5h.01M309.2 237.6h.01M306.1 242.6h.01M304.6 258.7h.01M305.1 243.7h.01M303.9 236.6h.01M305.5 235.3h.01M303.0 241.3h.01M304.7 258.0h.01M305.4 235.7h.01M308.0 255.0h.01M300.9 250.8h.01M302.6 237.1h.01M301.5 237.2h.01M301.6 236.1h.01M304.9 239.8h.01M306.8 243.1h.01M305.7 251.4h.01M306.5 250.6h.01M306.4 235.9h.01M301.7 218.7h.01M304.6 231.8h.01M305.9 251.3h.01M298.8 246.4h.01M301.2 226.2h.01M313.2 247.1h.01M296.5 251.7h.01M305.3 252.9h.01M303.0 242.6h.01M306.4 224.4h.01M306.4 247.4h.01M302.9 245.2h.01M308.1 241.2h.01M309.6 246.1h.01M311.2 243.1h.01M309.3 239.8h.01M308.2 243.7h.01M307.4 246.9h.01M305.0 238.4h.01M300.2 242.8h.01M302.2 234.8h.01M304.8 246.2h.01M307.8 244.7h.01M305.4 243.3h.01M303.1 253.3h.01M311.2 236.2h.01M302.0 231.7h.01M303.0 233.5h.01M307.0 242.4h.01M308.7 242.4h.01M306.7 238.6h.01M311.0 253.9h.01M303.5 243.4h.01M305.2 238.9h.01M304.2 231.8h.01M305.1 248.5h.01M310.4 248.6h.01M306.5 251.8h.01M305.7 240.0h.01M301.8 250.5h.01M309.2 233.4h.01M302.0 256.9h.01M306.7 232.4h.01M305.0 245.6h.01M309.4 247.5h.01M311.1 246.8h.01M307.4 250.8h.01M304.4 236.3h.01M301.5 247.1h.01M303.8 243.0h.01M306.3 238.3h.01M304.7 248.9h.01M311.2 237.6h.01M303.5 256.4h.01M306.3 236.5h.01M304.9 247.8h.01M305.7 241.7h.01M301.9 234.8h.01M309.6 244.4h.01M309.2 227.4h.01M304.1 243.5h.01M308.1 257.7h.01M306.6 233.9h.01M303.6 230.3h.01M310.3 239.8h.01M303.9 250.2h.01M310.3 238.5h.01M304.3 243.3h.01M300.6 245.0h.01M308.2 242.5h.01M308.3 241.1h.01M306.6 252.1h.01M306.4 254.0h.01M308.7 238.9h.01M305.9 235.6h.01M309.9 263.2h.01M305.2 243.4h.01M307.6 241.7h.01M305.5 246.1h.01M301.3 234.0h.01M306.8 241.5h.01M306.6 245.7h.01M309.8 232.6h.01M303.8 249.6h.01M306.3 242.5h.01M309.9 226.3h.01M310.8 242.6h.01M301.9 250.7h.01M311.8 253.0h.01M305.2 246.6h.01M307.7 230.0h.01M314.2 233.1h.01M312.6 240.8h.01M306.8 239.0h.01M310.5 255.3h.01M306.6 236.0h.01M303.8 246.4h.01M298.9 228.1h.01M306.0 243.5h.01M304.5 237.5h.01M300.5 237.9h.01M305.5 243.3h.01M307.8 225.4h.01M311.0 224.1h.01M307.7 237.4h.01M309.1 245.4h.01M305.4 238.5h.01M300.7 240.3h.01M303.7 233.5h.01M302.4 241.1h.01M304.6 248.0h.01M304.3 229.1h.01M303.5 241.2h.01M300.1 251.5h.01M305.2 239.9h.01M306.4 246.3h.01M308.1 234.9h.01M303.7 256.7h.01M299.2 232.9h.01M303.2 248.2h.01M306.9 243.5h.01M303.2 243.5h.01M302.9 236.5h.01M303.6 235.2h.01M302.8 242.7h.01M306.9 234.4h.01M304.5 244.4h.01M306.5 252.5h.01M305.2 243.6h.01M308.1 233.0h.01M302.5 230.0h.01M307.3 239.4h.01M306.8 242.0h.01M306.7 246.0h.01M304.7 247.0h.01M307.9 229.9h.01M305.2 253.4h.01M317.5 240.6h.01M306.1 227.9h.01M306.4 240.5h.01M304.2 255.2h.01M306.7 233.0h.01M302.5 246.9h.01M304.0 233.5h.01M300.6 239.9h.01M307.9 247.5h.01M306.8 254.2h.01M302.2 242.5h.01M307.2 227.9h.01M305.4 232.2h.01M306.7 234.3h.01M308.1 253.7h.01M305.3 235.8h.01M302.1 244.2h.01M303.0 248.4h.01M311.3 254.8h.01M311.8 241.9h.01M307.5 234.7h.01M301.7 246.9h.01M301.4 248.9h.01M303.2 239.3h.01M311.6 243.0h.01M307.6 238.8h.01M308.7 238.9h.01M303.0 233.1h.01M301.0 230.9h.01M308.1 240.3h.01M302.9 247.3h.01M306.6 244.6h.01M302.8 237.3h.01M307.1 238.8h.01M309.2 247.2h.01M310.8 243.4h.01M303.9 241.4h.01M313.4 249.7h.01M305.5 246.7h.01M305.3 238.4h.01M309.6 244.4h.01M309.0 255.0h.01M304.4 243.5h.01M309.0 247.4h.01M304.8 241.4h.01M312.2 236.5h.01M307.5 245.0h.01M301.4 246.2h.01M301.7 242.7h.01M310.0 237.0h.01M301.1 240.8h.01M305.9 242.0h.01M306.7 243.3h.01M301.3 249.6h.01M299.1 238.2h.01M308.6 234.9h.01M301.4 235.0h.01M304.4 257.0h.01M301.2 244.4h.01M305.4 234.5h.01M301.6 231.5h.01M307.1 246.4h.01M310.2 233.4h.01M299.2 245.6h.01M307.7 250.5h.01M299.9 253.0h.01M306.4 257.1h.01M305.3 252.1h.01M304.1 258.2h.01M304.4 228.9h.01M306.8 250.1h.01M310.1 240.5h.01M307.3 240.9h.01M310.3 249.4h.01M304.4 248.8h.01M305.9 250.5h.01M304.8 241.7h.01M304.2 228.5h.01M302.1 250.0h.01M308.0 234.7h.01M307.6 241.3h.01M308.5 237.5h.01M306.0 231.8h.01M309.7 245.2h.01M306.4 260.6h.01M309.8 252.4h.01M307.1 236.9h.01M307.5 241.4h.01M304.9 250.5h.01M305.0 243.0h.01M306.4 229.0h.01M307.7 247.2h.01M306.2 243.1h.01M305.0 236.0h.01M304.0 226.6h.01M307.7 230.4h.01M304.6 224.3h.01M303.9 245.4h.01M306.3 241.3h.01M306.8 227.5h.01M308.8 237.6h.01M306.1 244.5h.01M297.5 252.4h.01M304.9 245.5h.01M304.9 236.1h.01M310.2 231.4h.01M305.3 253.8h.01M306.3 265.2h.01M307.1 262.5h.01M301.3 256.0h.01M305.5 267.6h.01M306.1 256.5h.01M305.0 265.3h.01M306.1 265.2h.01M302.2 265.3h.01M302.4 258.8h.01M306.6 247.4h.01M302.9 260.2h.01M304.7 264.6h.01M293.5 244.7h.01M308.5 263.9h.01M312.8 257.1h.01M293.7 244.7h.01M301.8 246.6h.01M310.8 255.9h.01M300.8 267.9h.01M306.9 253.3h.01M307.1 250.6h.01M300.9 267.4h.01M300.2 254.0h.01M301.9 253.5h.01M292.5 245.5h.01M304.7 269.0h.01M307.1 253.8h.01M303.4 244.6h.01M302.8 256.1h.01M301.3 262.8h.01M305.8 262.4h.01M313.9 262.3h.01M295.1 246.8h.01M303.7 250.9h.01M302.9 269.3h.01M304.4 248.3h.01M310.4 256.4h.01M303.8 259.7h.01M306.3 252.1h.01M304.3 267.9h.01M309.5 251.5h.01M304.1 270.2h.01M302.8 247.3h.01M301.1 262.8h.01M303.5 258.3h.01M305.2 255.8h.01M306.3 268.6h.01M305.9 262.2h.01M309.1 263.8h.01M309.1 241.8h.01M304.2 261.2h.01M303.4 251.2h.01M303.4 252.1h.01M305.5 263.4h.01M302.9 266.5h.01M301.6 253.2h.01M304.4 254.8h.01M308.5 256.6h.01M306.4 265.5h.01M296.7 257.6h.01M304.5 243.2h.01M304.2 256.5h.01M297.5 268.6h.01M304.6 240.0h.01M301.9 255.4h.01M303.5 251.9h.01M299.2 260.0h.01M299.7 265.7h.01M306.2 259.9h.01M301.4 258.9h.01M304.3 259.2h.01M296.8 257.9h.01M293.8 259.0h.01M315.1 250.2h.01M300.4 264.6h.01M300.2 249.7h.01M302.9 259.2h.01M307.9 254.3h.01M301.3 255.9h.01M300.8 260.4h.01M310.2 251.3h.01M298.8 257.4h.01M301.4 246.6h.01M298.0 243.1h.01M303.7 252.1h.01M312.0 261.2h.01M299.4 249.2h.01M301.9 247.1h.01M303.6 266.8h.01M302.6 252.4h.01M295.1 246.2h.01M304.4 256.9h.01M304.9 246.6h.01M307.9 254.0h.01M295.7 249.1h.01M301.1 257.4h.01M296.5 265.0h.01M303.9 264.8h.01M310.5 255.6h.01M301.1 262.6h.01M296.2 266.6h.01M303.7 254.6h.01M298.9 247.5h.01M302.6 261.7h.01M303.9 239.6h.01M300.9 262.1h.01M312.3 256.8h.01M305.7 258.0h.01M302.2 248.8h.01M299.9 247.3h.01M306.1 264.8h.01M303.1 252.9h.01M296.1 262.5h.01M304.6 260.6h.01M307.1 270.3h.01M298.7 264.1h.01M297.6 246.6h.01M305.9 263.8h.01M301.4 262.5h.01M300.7 266.9h.01M297.3 259.7h.01M305.3 259.7h.01M304.0 257.0h.01M292.4 246.3h.01M308.5 263.6h.01M310.1 258.5h.01M311.6 256.9h.01M308.6 254.3h.01M301.5 265.2h.01M297.5 270.2h.01M312.3 257.9h.01M310.2 253.7h.01M302.9 259.9h.01M301.5 263.6h.01M308.0 263.2h.01M301.7 245.8h.01M305.9 255.2h.01M296.7 248.4h.01M302.7 270.2h.01M305.7 251.0h.01M299.1 250.1h.01M299.4 259.3h.01M311.9 254.1h.01M308.2 258.8h.01M311.8 262.1h.01M301.8 265.7h.01M300.4 253.0h.01M302.6 255.9h.01M294.6 266.1h.01M316.0 248.1h.01M310.1 244.4h.01M303.6 251.4h.01M304.8 262.2h.01M298.2 256.7h.01M307.3 250.6h.01M309.6 268.3h.01M301.9 269.3h.01M295.3 253.1h.01M306.4 265.6h.01M307.5 268.6h.01M305.1 272.1h.01M304.0 251.0h.01M299.5 265.7h.01M302.8 250.2h.01M308.4 254.5h.01M304.4 251.1h.01M299.0 263.1h.01M307.7 255.1h.01M299.2 259.2h.01M303.1 250.0h.01M307.3 253.5h.01M308.1 257.2h.01M300.7 252.3h.01M300.5 268.9h.01M300.0 269.6h.01M300.5 252.1h.01M305.7 251.2h.01M304.7 272.0h.01M307.9 267.1h.01M303.6 249.7h.01M307.5 268.8h.01M300.3 270.2h.01M299.0 255.8h.01M309.0 261.6h.01M306.7 252.7h.01M308.6 260.1h.01M301.8 251.4h.01M305.4 250.3h.01M304.7 271.8h.01M299.9 268.5h.01M306.8 269.8h.01M308.5 257.7h.01M299.0 264.6h.01M299.9 254.8h.01M305.5 250.6h.01M302.5 251.0h.01M308.7 260.8h.01M307.7 269.8h.01M299.3 262.9h.01M306.4 251.1h.01M300.6 268.7h.01M308.9 260.2h.01M305.2 273.1h.01M303.4 250.7h.01M308.9 265.3h.01M307.1 253.4h.01M300.0 268.6h.01M308.9 260.4h.01M309.2 260.8h.01M299.2 258.2h.01M309.1 260.8h.01M304.1 250.3h.01M302.9 272.3h.01M302.3 251.2h.01M299.6 269.0h.01M307.0 269.1h.01M305.7 250.6h.01M306.7 252.9h.01M306.5 271.2h.01M307.0 269.5h.01M306.9 270.2h.01M304.8 271.6h.01M309.2 262.2h.01M303.1 250.0h.01M308.8 260.7h.01M306.9 270.5h.01M306.5 252.6h.01M308.9 255.9h.01M306.2 272.2h.01M308.9 265.3h.01M300.0 255.7h.01M308.7 259.4h.01M308.7 263.8h.01M308.4 258.6h.01M301.0 252.2h.01M305.3 250.6h.01M301.3 252.6h.01M300.7 251.6h.01M303.1 272.2h.01M307.5 269.1h.01M308.5 267.3h.01M299.3 260.9h.01M309.0 263.2h.01M303.2 272.3h.01M303.8 251.0h.01M299.1 262.6h.01M300.7 252.4h.01M307.8 267.8h.01M308.8 266.1h.01M305.9 271.8h.01M305.9 250.8h.01M299.4 259.1h.01M305.9 250.9h.01M299.9 256.2h.01M302.8 251.3h.01M304.0 250.7h.01M308.6 259.2h.01M300.0 255.3h.01M306.2 272.3h.01M307.4 269.1h.01M307.1 269.1h.01M299.4 257.3h.01M307.4 251.0h.01M299.0 261.1h.01M300.6 270.0h.01M308.4 257.9h.01M308.8 261.5h.01M298.3 260.0h.01M304.9 250.8h.01M299.5 256.3h.01M301.9 249.1h.01M301.0 270.1h.01M299.4 259.0h.01M305.9 251.8h.01M304.3 272.1h.01M306.4 251.9h.01M308.6 258.6h.01M300.9 269.8h.01M307.2 269.1h.01M303.8 272.1h.01M300.2 269.0h.01M308.1 266.9h.01M303.8 273.2h.01M299.1 259.0h.01M308.2 266.1h.01M301.9 248.7h.01M305.7 272.1h.01M306.1 251.2h.01M300.1 254.9h.01M308.6 261.0h.01M299.1 266.2h.01M308.1 266.4h.01M307.5 269.5h.01M308.4 266.0h.01M300.8 253.1h.01M303.2 272.4h.01M307.0 253.9h.01M300.6 268.8h.01M308.6 259.4h.01M308.1 256.7h.01M306.0 270.8h.01M306.1 251.5h.01M298.6 262.3h.01M307.0 253.6h.01M298.8 257.7h.01M306.4 271.7h.01M308.5 257.9h.01M303.6 250.6h.01M309.0 259.2h.01M306.7 252.9h.01M299.3 263.0h.01M299.3 260.6h.01M306.6 270.6h.01M303.5 250.6h.01M308.4 265.0h.01M302.4 249.0h.01M303.9 273.0h.01M306.0 271.8h.01M308.6 260.6h.01M303.1 272.8h.01M299.0 266.9h.01M305.8 251.3h.01M302.1 272.6h.01M299.4 268.3h.01M302.1 271.3h.01M303.3 251.1h.01M308.3 257.9h.01M303.7 250.9h.01M298.7 257.4h.01M308.4 259.1h.01M299.2 267.0h.01M299.3 262.8h.01M298.4 260.3h.01M302.4 251.7h.01M299.5 268.2h.01M303.8 249.7h.01M302.8 251.0h.01M303.5 249.5h.01M307.4 254.1h.01M298.9 259.5h.01M308.8 259.0h.01M301.6 251.5h.01M304.7 272.5h.01M308.3 266.5h.01M308.7 258.2h.01M299.6 266.6h.01M307.6 268.7h.01M307.8 256.2h.01M304.4 250.0h.01M307.4 268.6h.01M305.0 272.3h.01M303.5 250.6h.01M302.3 271.5h.01M308.6 256.8h.01M309.0 264.1h.01M299.1 264.1h.01M300.8 270.2h.01M300.3 254.4h.01M308.9 261.9h.01M307.6 254.7h.01M307.9 268.1h.01M298.8 262.1h.01M306.7 270.5h.01M307.4 269.1h.01M301.3 252.9h.01M304.6 272.3h.01M299.6 266.2h.01M305.8 271.0h.01M299.5 265.5h.01M306.5 252.4h.01M299.4 266.0h.01M300.9 269.8h.01M305.7 271.5h.01M308.9 264.4h.01M308.0 254.9h.01M306.4 270.5h.01M301.3 251.7h.01M303.4 272.9h.01M305.4 251.1h.01M302.8 250.7h.01M307.8 253.5h.01M298.5 261.4h.01M300.1 268.7h.01M307.5 268.2h.01M306.5 270.1h.01M299.3 261.5h.01M301.8 251.6h.01M301.0 271.5h.01M299.6 265.7h.01M302.6 273.1h.01M304.0 271.9h.01M306.7 270.5h.01M304.4 251.2h.01M307.1 253.2h.01M305.9 252.2h.01M305.4 271.7h.01M302.3 250.0h.01M298.7 261.3h.01M299.0 254.4h.01M300.8 253.7h.01M308.6 264.1h.01M308.9 260.8h.01M300.3 254.3h.01M308.1 267.6h.01M302.3 271.5h.01M300.8 253.8h.01M298.9 263.0h.01M299.1 260.8h.01M303.3 272.4h.01M303.0 272.2h.01M301.8 271.6h.01M308.4 264.6h.01M303.7 251.1h.01M307.7 267.8h.01M305.9 271.8h.01M302.3 271.5h.01M349.0 263.8h.01M343.5 257.4h.01M332.7 270.5h.01M337.5 257.6h.01M323.8 267.1h.01M342.1 268.5h.01M329.0 270.6h.01M334.7 258.8h.01M348.6 264.9h.01M328.0 261.6h.01M343.3 267.7h.01M350.8 262.7h.01M324.1 266.4h.01M350.3 259.3h.01M342.2 267.9h.01M343.0 267.6h.01M325.1 266.0h.01M344.0 256.2h.01M347.8 256.7h.01M325.9 269.5h.01M332.8 259.5h.01M327.3 270.0h.01M347.3 258.2h.01M326.3 264.1h.01M331.4 260.3h.01M325.2 265.5h.01M338.7 257.6h.01M327.3 271.2h.01M329.6 260.2h.01M345.9 267.0h.01M335.1 258.1h.01M327.4 270.9h.01M337.1 269.8h.01M341.3 268.6h.01M330.8 259.9h.01M324.8 269.8h.01M331.9 259.6h.01M340.9 268.5h.01M332.0 259.7h.01M349.1 261.7h.01M339.7 269.2h.01M344.8 257.5h.01M347.1 258.1h.01M326.8 262.1h.01M338.9 269.5h.01M350.2 259.8h.01M331.2 271.0h.01M348.8 263.2h.01M331.4 259.5h.01M327.5 270.4h.01M326.7 263.6h.01M340.3 257.5h.01M341.0 257.3h.01M345.5 267.7h.01M351.4 258.0h.01M337.4 257.8h.01M337.7 257.4h.01M328.6 271.0h.01M328.1 261.7h.01M324.0 266.2h.01M340.3 257.6h.01M325.0 264.9h.01M339.6 257.7h.01M340.2 269.0h.01M333.1 258.8h.01M349.5 263.6h.01M344.0 267.4h.01M344.1 268.0h.01M325.0 268.2h.01M350.7 260.4h.01M345.0 266.6h.01M325.8 263.7h.01M349.2 262.6h.01M346.4 257.7h.01M349.4 258.8h.01M333.4 259.1h.01M339.8 257.3h.01M349.7 260.7h.01M341.0 257.5h.01M350.5 261.4h.01M338.9 269.4h.01M327.2 262.9h.01M351.8 259.8h.01M347.9 264.2h.01M334.1 258.7h.01M342.8 268.4h.01M324.3 268.9h.01M344.9 266.6h.01M332.6 270.6h.01M331.0 260.4h.01M326.3 262.8h.01M348.8 264.1h.01M334.9 271.2h.01M345.9 265.7h.01M347.2 257.4h.01M345.6 265.9h.01M328.7 261.8h.01M327.7 271.6h.01M344.9 257.5h.01M344.5 266.8h.01M349.2 264.4h.01M330.0 271.4h.01M325.4 263.3h.01M348.0 257.2h.01M345.8 257.5h.01M324.6 266.9h.01M326.1 264.1h.01M329.3 261.2h.01M334.7 270.4h.01M348.3 264.1h.01M347.5 257.3h.01M340.4 256.5h.01M332.5 259.8h.01M347.2 258.3h.01M345.8 266.0h.01M328.3 270.7h.01M333.1 259.4h.01M349.8 262.5h.01M324.9 265.0h.01M348.1 263.6h.01M349.3 259.8h.01M333.2 270.9h.01M326.9 270.0h.01M338.7 257.4h.01M332.3 270.8h.01M339.3 269.8h.01M326.3 270.6h.01M325.0 266.7h.01M341.0 257.0h.01M326.5 270.4h.01M325.1 265.0h.01M331.2 259.5h.01M340.7 270.3h.01M349.1 260.7h.01M322.9 266.1h.01M349.4 262.2h.01M330.8 271.2h.01M341.0 256.6h.01M335.1 270.8h.01M350.1 258.6h.01M346.3 257.9h.01M350.9 261.8h.01M347.3 265.7h.01M329.4 270.6h.01M350.1 260.8h.01M331.7 260.1h.01M328.1 261.1h.01M344.5 257.0h.01M349.3 261.1h.01M348.6 263.0h.01M325.3 265.3h.01M343.8 267.3h.01M334.8 258.9h.01M334.7 271.1h.01M327.0 270.6h.01M330.6 259.9h.01M335.8 270.6h.01M351.0 260.8h.01M335.4 258.7h.01M341.4 257.5h.01M329.8 260.6h.01M341.6 257.0h.01M348.0 257.2h.01M327.2 269.9h.01M345.9 266.5h.01M348.8 259.4h.01M346.9 265.0h.01M341.5 268.9h.01M343.4 267.2h.01M342.7 256.7h.01M340.5 257.1h.01M328.1 262.3h.01M341.4 257.0h.01M327.2 261.9h.01M342.8 267.7h.01M326.2 263.9h.01M342.8 257.0h.01M324.9 266.4h.01M350.1 262.4h.01M334.0 270.9h.01M325.0 266.0h.01M337.3 269.8h.01M349.8 258.9h.01M338.4 257.7h.01M350.0 261.6h.01M351.5 259.7h.01M330.8 270.6h.01M343.2 268.0h.01M335.4 258.5h.01M330.6 259.1h.01M349.1 263.8h.01M348.5 264.0h.01M339.8 257.3h.01M328.6 271.0h.01M325.4 264.6h.01M345.8 266.1h.01M325.5 269.1h.01M332.9 259.5h.01M345.1 257.3h.01M336.7 257.6h.01M345.6 266.7h.01M333.6 259.2h.01M328.1 261.8h.01M338.0 257.8h.01M331.5 271.3h.01M325.5 270.5h.01M345.2 257.6h.01M342.1 268.5h.01M326.3 263.6h.01M327.3 262.9h.01M324.9 268.0h.01M344.3 257.2h.01M323.2 266.5h.01M348.4 263.4h.01M348.8 263.7h.01M346.3 266.9h.01M336.4 270.0h.01M343.9 267.2h.01M336.9 258.3h.01M338.4 270.0h.01M344.5 257.4h.01M347.1 265.0h.01M323.4 265.6h.01M327.9 270.5h.01M343.3 257.2h.01M330.1 270.6h.01M342.7 256.9h.01M330.4 260.7h.01M324.9 267.7h.01M329.3 260.2h.01M326.2 263.1h.01M339.3 269.7h.01M341.3 256.4h.01M335.6 270.1h.01M345.1 266.3h.01M328.8 270.5h.01M324.8 269.4h.01M327.7 262.2h.01M346.0 257.6h.01M333.9 259.2h.01M347.9 257.2h.01M342.7 268.1h.01M332.3 271.3h.01M321.9 269.6h.01M331.5 259.8h.01M349.1 261.5h.01M346.1 266.5h.01M333.4 270.5h.01M349.9 261.0h.01M347.9 258.1h.01M330.0 271.1h.01M349.3 262.0h.01M344.7 256.6h.01M337.2 269.9h.01M327.6 262.6h.01M328.0 270.2h.01M335.0 270.4h.01M322.7 267.6h.01M329.7 261.3h.01M349.8 263.6h.01M346.5 257.3h.01M345.6 266.9h.01M330.9 271.1h.01M330.6 260.4h.01M345.0 266.4h.01M330.7 260.2h.01M327.6 271.4h.01M326.2 264.2h.01M349.0 263.0h.01M332.8 271.1h.01M350.4 259.1h.01M334.2 258.8h.01M333.5 270.7h.01M346.2 266.0h.01M344.8 256.3h.01M326.6 271.1h.01M323.7 267.5h.01M341.4 257.5h.01M348.9 265.2h.01M348.6 263.8h.01M341.4 268.8h.01M325.0 266.2h.01M344.9 266.7h.01M348.5 258.4h.01M348.6 259.2h.01M340.1 257.6h.01M350.1 260.4h.01M344.2 257.1h.01M331.3 260.0h.01M327.1 270.6h.01M330.6 271.2h.01M336.4 258.3h.01M347.6 264.5h.01M344.4 267.2h.01M325.2 264.3h.01M342.4 257.3h.01M330.5 260.4h.01M326.9 263.2h.01M348.8 257.0h.01M340.1 256.2h.01M317.9 233.7h.01M306.4 216.4h.01M301.0 224.4h.01M313.5 221.8h.01M303.6 229.0h.01M315.9 225.9h.01M307.3 227.7h.01M305.4 227.0h.01M313.3 235.7h.01M322.2 244.3h.01M316.3 218.2h.01M315.0 208.5h.01M311.0 222.6h.01M308.0 229.6h.01M308.4 246.1h.01M310.0 244.9h.01M312.7 213.1h.01M311.7 247.6h.01M310.1 225.0h.01M314.3 232.8h.01M315.5 205.4h.01M306.6 218.2h.01M329.2 215.2h.01M311.8 253.6h.01M314.0 238.8h.01M316.1 206.6h.01M308.2 221.3h.01M300.2 201.1h.01M317.0 245.1h.01M304.6 222.7h.01M319.7 235.6h.01M302.5 223.6h.01M313.5 203.3h.01M307.8 217.9h.01M297.2 215.3h.01M311.8 228.7h.01M303.2 229.9h.01M309.8 222.6h.01M307.4 200.1h.01M316.2 229.1h.01M310.8 218.2h.01M302.9 228.5h.01M308.2 230.3h.01M315.0 218.5h.01M306.6 222.2h.01M313.0 205.0h.01M312.1 208.0h.01M308.8 249.4h.01M305.0 212.7h.01M308.5 221.5h.01M303.2 227.8h.01M314.8 229.6h.01M313.1 221.0h.01M305.3 224.4h.01M314.1 214.7h.01M309.7 224.1h.01M324.6 236.4h.01M319.1 231.7h.01M307.3 230.7h.01M320.1 213.1h.01M311.4 225.4h.01M314.4 236.8h.01M309.8 222.3h.01M329.9 218.7h.01M302.8 225.5h.01M307.6 222.1h.01M310.3 198.9h.01M311.5 226.5h.01M318.1 225.9h.01M317.9 242.1h.01M314.2 229.1h.01M309.0 230.8h.01M309.0 198.2h.01M310.2 236.5h.01M316.3 221.1h.01M306.3 221.1h.01M310.8 211.1h.01M305.0 223.1h.01M312.3 230.3h.01M306.2 202.8h.01M309.8 234.8h.01M302.1 214.6h.01M307.0 242.1h.01M317.6 220.4h.01M315.7 216.2h.01M310.8 203.8h.01M305.1 213.5h.01M304.0 230.1h.01M305.0 235.1h.01M314.3 226.6h.01M318.0 226.8h.01M306.7 219.2h.01M315.0 210.0h.01M316.5 221.8h.01M314.7 225.3h.01M306.3 241.5h.01M309.5 227.3h.01M307.8 215.2h.01M311.6 218.5h.01M310.6 225.5h.01M307.8 234.8h.01M314.6 201.4h.01M305.5 219.9h.01M305.1 216.0h.01M314.9 229.4h.01M301.3 209.7h.01M312.5 220.7h.01M315.9 216.8h.01M311.2 214.4h.01M309.3 230.6h.01M313.3 211.8h.01M317.3 223.3h.01M313.6 228.7h.01M308.3 233.6h.01M306.6 219.8h.01M303.7 207.0h.01M324.2 222.2h.01M308.5 244.6h.01M300.5 237.4h.01M312.5 222.5h.01M309.6 220.7h.01M319.9 235.1h.01M310.2 215.3h.01M311.1 212.9h.01M306.1 220.7h.01M306.4 216.9h.01M308.8 212.6h.01M320.1 200.6h.01M315.2 231.4h.01M309.9 222.2h.01M311.8 224.5h.01M315.2 230.0h.01M308.5 213.1h.01M312.9 230.3h.01M315.7 217.9h.01M325.9 205.0h.01M322.1 215.1h.01M310.4 243.2h.01M322.2 241.1h.01M315.8 228.5h.01M302.7 210.9h.01M310.5 230.7h.01M315.3 233.3h.01M319.4 239.6h.01M311.2 201.0h.01M317.1 221.6h.01M308.1 225.8h.01M303.2 221.5h.01M302.3 198.5h.01M306.8 240.0h.01M311.7 232.5h.01M310.3 228.4h.01M299.6 216.0h.01M305.7 208.9h.01M311.7 228.3h.01M313.1 223.3h.01M315.2 224.6h.01M312.6 217.6h.01M314.3 228.6h.01M304.8 216.7h.01M317.4 209.6h.01M308.5 235.2h.01M315.0 234.7h.01M314.6 220.0h.01M300.3 246.6h.01M315.9 214.3h.01M311.7 217.0h.01M310.4 230.5h.01M306.7 244.8h.01M309.0 219.0h.01M323.1 236.6h.01M316.8 266.0h.01M316.6 249.0h.01M312.5 238.6h.01M314.7 267.5h.01M321.5 251.8h.01M320.1 255.6h.01M314.0 246.9h.01M315.6 251.0h.01M310.2 235.3h.01M311.6 250.5h.01M309.4 253.9h.01M309.1 245.1h.01M307.7 252.5h.01M306.8 228.9h.01M316.4 249.9h.01M320.6 248.6h.01M318.5 248.7h.01M317.2 259.4h.01M314.7 238.2h.01M323.9 255.7h.01M319.4 242.1h.01M318.9 262.2h.01M313.2 253.1h.01M308.0 238.7h.01M321.9 252.9h.01M313.9 237.2h.01M311.5 265.4h.01M316.4 254.8h.01M319.5 249.5h.01M318.7 244.1h.01M322.8 247.8h.01M314.1 251.9h.01M315.8 250.6h.01M310.9 231.1h.01M302.8 233.8h.01M310.0 241.8h.01M316.0 251.3h.01M319.3 236.4h.01M327.4 246.0h.01M312.4 246.1h.01M317.6 250.2h.01M312.7 260.8h.01M306.7 251.3h.01M320.6 246.6h.01M310.3 247.7h.01M321.6 247.7h.01M312.9 228.6h.01M317.8 229.5h.01M322.6 240.0h.01M322.9 255.9h.01M315.8 245.2h.01M327.7 244.6h.01M314.2 242.8h.01M311.5 247.1h.01M315.1 222.8h.01M309.7 258.5h.01M321.2 268.0h.01M306.0 229.1h.01M322.5 237.5h.01M321.3 241.2h.01M323.1 244.1h.01M315.1 260.5h.01M320.6 241.2h.01M299.4 261.3h.01M315.4 249.4h.01M310.5 246.0h.01M311.1 240.8h.01M300.9 253.6h.01M317.3 239.8h.01M322.9 245.0h.01M313.3 237.7h.01M325.2 266.0h.01M309.7 237.7h.01M314.4 254.0h.01M316.3 245.5h.01M320.7 248.9h.01M314.3 245.4h.01M313.8 256.0h.01M315.9 246.7h.01M315.9 255.4h.01M313.5 264.4h.01M310.8 233.7h.01M317.4 250.2h.01M318.6 258.3h.01M319.7 250.1h.01M310.5 248.4h.01M319.2 235.1h.01M302.2 258.0h.01M319.8 251.1h.01M314.3 254.4h.01M307.7 241.7h.01M312.5 257.6h.01M314.4 241.5h.01M321.0 255.6h.01M315.2 250.6h.01M308.3 241.8h.01M310.4 244.5h.01M320.6 240.2h.01M320.2 254.4h.01M310.6 266.4h.01M314.4 237.2h.01M310.4 251.1h.01M314.8 248.1h.01M301.9 238.8h.01M307.1 254.2h.01M312.2 241.9h.01M316.3 257.8h.01M321.2 255.1h.01M311.4 244.0h.01M316.2 238.0h.01M315.5 247.6h.01M320.3 229.8h.01M314.1 247.7h.01M326.6 252.7h.01M312.8 240.4h.01M320.1 251.3h.01M310.7 247.9h.01M325.1 252.5h.01M311.5 233.9h.01M319.8 249.0h.01M322.1 258.6h.01M311.7 247.2h.01M310.7 231.3h.01M314.4 254.4h.01M316.7 246.9h.01M306.9 248.3h.01M316.0 247.1h.01M313.6 244.2h.01M319.3 250.5h.01M304.8 249.8h.01M314.1 248.1h.01M320.4 253.3h.01M327.1 245.2h.01M320.1 237.5h.01M320.0 234.7h.01M321.3 237.4h.01M308.2 252.3h.01M320.4 262.3h.01M314.0 242.4h.01M315.6 235.7h.01M311.1 248.1h.01M308.5 227.2h.01M307.1 247.6h.01M308.8 255.8h.01M320.9 252.8h.01M314.7 248.0h.01M308.5 250.1h.01M321.1 247.5h.01M308.2 232.0h.01M314.7 245.2h.01M328.8 234.3h.01M306.6 249.9h.01M313.1 272.1h.01M308.6 260.8h.01M310.4 246.8h.01M314.4 238.4h.01M324.1 252.1h.01M310.3 258.5h.01M310.9 259.1h.01M317.1 239.9h.01M316.4 239.4h.01M305.5 259.4h.01M312.4 240.1h.01M307.3 249.3h.01M303.8 237.5h.01M317.2 236.2h.01M319.6 252.8h.01M321.3 244.7h.01M311.5 240.8h.01M327.3 251.9h.01M317.5 250.4h.01M327.0 260.0h.01M306.0 249.2h.01M326.8 245.1h.01M315.5 240.4h.01M319.0 243.7h.01M323.9 237.5h.01M314.1 248.6h.01M313.7 244.1h.01M317.3 244.1h.01M316.7 234.8h.01M323.3 229.8h.01M312.0 259.6h.01M303.1 265.8h.01M312.4 244.3h.01M315.9 256.7h.01M315.1 252.9h.01M321.8 261.0h.01M317.4 241.5h.01M308.6 240.7h.01M314.0 241.7h.01M320.7 229.3h.01M312.1 254.1h.01M313.8 246.0h.01M319.8 260.4h.01M323.3 240.2h.01M304.7 247.4h.01M309.9 242.6h.01M311.0 257.0h.01M313.0 245.2h.01M321.8 250.9h.01M314.4 249.4h.01M325.2 254.4h.01M315.1 251.3h.01M317.0 259.1h.01M313.9 252.6h.01M328.6 239.6h.01M315.9 261.0h.01M327.1 254.5h.01M318.3 246.3h.01M305.5 239.0h.01M322.4 242.6h.01M314.3 248.8h.01M315.1 242.9h.01M302.8 250.6h.01M315.9 249.2h.01M313.5 253.0h.01M310.8 260.2h.01M320.8 255.7h.01M314.6 226.7h.01M309.6 231.2h.01M316.2 250.5h.01M328.3 240.7h.01M313.0 232.3h.01M332.5 252.6h.01M323.7 243.2h.01M314.1 244.6h.01M302.2 240.1h.01M315.8 249.6h.01M325.0 266.8h.01M314.3 263.4h.01M314.2 271.5h.01M319.2 265.9h.01M327.7 267.8h.01M320.8 262.6h.01M323.8 262.5h.01M317.4 262.2h.01M327.7 267.6h.01M315.9 263.0h.01M315.1 266.7h.01M306.2 268.4h.01M323.7 265.7h.01M320.2 269.0h.01M322.1 266.8h.01M314.3 264.9h.01M317.8 259.7h.01M320.1 262.3h.01M319.0 266.0h.01M315.9 260.6h.01M320.8 266.7h.01M318.8 266.8h.01M312.9 269.5h.01M318.2 268.5h.01M312.6 263.9h.01M319.7 266.8h.01M318.0 269.8h.01M308.2 266.2h.01M309.7 271.2h.01M319.8 270.7h.01M327.7 264.1h.01M315.7 270.2h.01M313.3 265.6h.01M315.7 262.6h.01M330.2 268.1h.01M315.7 262.0h.01M317.2 268.0h.01M328.7 272.2h.01M319.2 270.9h.01M319.4 268.8h.01M319.3 264.5h.01M327.2 265.4h.01M314.1 263.3h.01M323.3 268.3h.01M322.7 266.5h.01M309.6 269.7h.01M322.2 267.2h.01M312.6 263.8h.01M321.8 263.8h.01M321.9 266.6h.01M320.6 268.9h.01M322.8 266.8h.01M312.6 265.3h.01M326.1 266.7h.01M328.6 261.8h.01M327.1 263.0h.01M309.5 263.3h.01M311.9 270.7h.01M312.2 267.3h.01M316.7 261.1h.01M320.7 266.5h.01M310.7 269.1h.01M312.8 260.7h.01M324.2 264.7h.01M311.0 264.3h.01M314.5 265.8h.01M310.7 269.4h.01M320.8 265.3h.01M328.7 266.5h.01M320.4 265.6h.01M318.0 269.8h.01M314.9 268.6h.01M313.7 264.1h.01M312.3 261.6h.01M321.0 262.2h.01M323.5 268.7h.01M316.0 268.1h.01M320.9 269.0h.01M311.7 267.2h.01M324.7 265.3h.01M320.3 264.3h.01M331.2 268.6h.01M316.6 270.1h.01M317.1 267.0h.01M322.4 270.6h.01M316.0 272.0h.01M323.9 269.0h.01M323.0 269.3h.01M320.8 266.5h.01M326.8 267.1h.01M323.1 263.0h.01M327.2 267.2h.01M326.8 267.8h.01M317.7 268.3h.01M312.8 260.7h.01M312.2 269.8h.01M313.5 264.4h.01M323.7 267.5h.01M313.6 265.8h.01M315.3 268.6h.01M320.7 263.2h.01M310.3 261.2h.01M321.3 268.1h.01M319.3 263.4h.01M310.7 268.4h.01M302.1 267.5h.01M315.4 264.8h.01M331.3 267.9h.01M319.2 265.6h.01M309.6 262.6h.01M307.6 265.6h.01M310.1 265.8h.01M315.7 267.7h.01M318.8 265.3h.01M317.1 263.1h.01M320.4 266.0h.01M330.4 269.3h.01M319.1 269.5h.01M311.2 264.3h.01M309.5 268.4h.01M322.2 263.0h.01M324.4 267.1h.01M311.6 265.5h.01M316.6 271.7h.01M316.8 268.2h.01M318.4 271.1h.01M313.7 268.5h.01M318.0 264.5h.01M318.5 270.9h.01M322.2 264.1h.01M313.7 268.9h.01M325.5 263.8h.01M312.8 264.0h.01M311.2 267.9h.01M319.4 264.6h.01M307.9 264.8h.01M311.3 268.2h.01M321.0 267.8h.01M316.8 268.5h.01M323.5 267.5h.01M325.8 265.6h.01M311.1 262.2h.01M327.9 262.4h.01M321.0 266.1h.01M317.4 269.8h.01M327.0 263.9h.01M319.1 266.6h.01M309.7 267.9h.01M321.2 265.9h.01M327.0 261.0h.01M322.6 264.4h.01M311.7 268.2h.01M317.3 264.5h.01M328.3 262.1h.01M311.0 263.7h.01M319.8 266.0h.01M317.6 263.2h.01M312.2 267.0h.01M307.2 267.8h.01M316.3 269.3h.01M320.5 267.4h.01M319.3 259.4h.01M320.3 265.5h.01M324.4 263.5h.01M312.1 269.2h.01M313.3 268.2h.01M310.0 265.8h.01M320.5 265.5h.01M316.4 268.6h.01M306.2 263.5h.01M307.9 263.2h.01M313.3 267.2h.01M316.4 267.7h.01M324.8 270.3h.01M316.3 257.0h.01M319.8 269.5h.01M310.6 264.1h.01M322.0 267.4h.01M321.5 267.6h.01M306.4 268.3h.01M314.8 272.5h.01M328.0 265.6h.01M325.9 264.0h.01M320.6 267.6h.01M323.3 261.7h.01M330.8 267.1h.01M325.2 265.1h.01M318.2 265.7h.01M318.7 265.4h.01M322.2 272.8h.01M309.2 263.9h.01M306.8 265.3h.01M317.2 267.4h.01M314.9 260.4h.01M312.0 267.1h.01M317.0 272.0h.01M327.7 265.8h.01M322.2 267.9h.01M327.4 268.5h.01M317.2 263.4h.01M313.2 265.9h.01M313.1 263.4h.01M319.6 261.4h.01M312.6 272.3h.01M305.3 268.8h.01M319.4 263.5h.01M322.8 262.3h.01M319.2 265.4h.01M317.5 265.7h.01M321.8 268.2h.01M326.4 264.4h.01M317.7 267.7h.01M321.8 261.5h.01M317.2 268.0h.01M328.5 260.8h.01M324.2 262.1h.01M320.2 266.0h.01M314.2 265.3h.01M320.7 268.8h.01M317.5 268.9h.01M310.6 263.8h.01M309.3 266.4h.01M320.2 268.3h.01M318.6 268.5h.01M307.3 266.5h.01M313.6 267.8h.01M315.3 266.2h.01M327.4 270.0h.01M318.2 263.5h.01M323.2 265.5h.01M316.4 264.7h.01M312.9 266.6h.01M325.0 269.0h.01M315.1 261.0h.01M307.2 266.6h.01M311.8 266.2h.01M318.5 268.5h.01M305.4 265.7h.01M318.4 265.0h.01M318.6 263.7h.01M315.5 268.7h.01M312.3 267.1h.01M322.0 264.8h.01M317.3 263.3h.01M320.2 263.7h.01M311.4 268.1h.01M320.0 267.8h.01M307.7 260.8h.01M313.9 264.2h.01M317.0 265.6h.01M316.1 260.7h.01M325.9 268.5h.01M326.7 263.3h.01M309.7 264.6h.01M312.3 265.7h.01M319.1 267.7h.01M306.4 264.7h.01M319.4 271.3h.01M322.6 264.6h.01M320.1 270.8h.01M343.0 251.9h.01M361.5 247.5h.01M348.6 252.9h.01M336.1 254.8h.01M339.8 256.1h.01M341.0 250.0h.01M341.0 255.0h.01M342.0 247.0h.01M352.0 254.3h.01M341.0 254.7h.01M354.1 251.6h.01M340.5 249.0h.01M357.3 248.4h.01M336.7 253.0h.01M337.6 247.1h.01M346.5 256.3h.01M339.1 256.9h.01M339.1 253.5h.01M340.9 255.7h.01M341.6 258.6h.01M334.2 255.8h.01M361.3 252.2h.01M331.4 254.4h.01M349.0 247.7h.01M341.3 253.7h.01M332.5 255.8h.01M334.6 258.7h.01M346.3 253.1h.01M349.3 249.7h.01M343.0 256.2h.01M329.0 254.7h.01M335.1 261.2h.01M344.7 251.5h.01M351.4 256.6h.01M334.6 255.3h.01M349.7 254.5h.01M327.8 258.4h.01M335.0 253.8h.01M340.8 250.0h.01M339.1 257.0h.01M346.2 254.2h.01M332.5 254.1h.01M354.2 248.9h.01M339.4 246.4h.01M333.6 254.4h.01M335.8 251.8h.01M337.0 249.7h.01M355.1 238.7h.01M344.8 252.7h.01M337.3 250.5h.01M340.5 250.8h.01M340.2 250.8h.01M321.1 263.6h.01M350.0 251.1h.01M350.2 256.3h.01M327.0 258.1h.01M332.4 254.6h.01M339.6 257.6h.01M338.2 262.6h.01M335.1 250.6h.01M334.1 252.7h.01M337.7 252.3h.01M335.2 254.5h.01M329.6 252.6h.01M334.4 254.8h.01M322.1 261.3h.01M352.4 246.5h.01M343.3 250.5h.01M324.8 257.1h.01M349.9 250.4h.01M343.2 253.5h.01M348.2 250.2h.01M347.7 256.5h.01M333.3 254.7h.01M350.4 251.6h.01M346.3 254.4h.01M335.0 253.9h.01M325.5 251.4h.01M340.7 260.4h.01M347.5 247.0h.01M338.4 259.1h.01M336.1 256.3h.01M328.4 255.6h.01M345.7 252.6h.01M339.2 250.4h.01M341.2 254.8h.01M342.8 247.3h.01M340.7 249.5h.01M341.0 247.7h.01M340.5 260.3h.01M348.5 246.3h.01M336.0 255.0h.01M342.9 240.6h.01M355.1 252.3h.01M344.7 253.7h.01M345.6 249.0h.01M343.0 251.6h.01M331.7 255.7h.01M336.2 251.5h.01M336.7 254.4h.01M332.8 254.2h.01M334.6 258.1h.01M338.4 258.3h.01M323.1 257.2h.01M350.2 241.7h.01M355.5 245.7h.01M334.9 247.6h.01M331.3 254.4h.01M342.4 246.6h.01M332.0 254.4h.01M340.1 254.0h.01M335.6 258.1h.01M332.7 250.0h.01M344.9 256.7h.01M361.2 246.3h.01M337.5 255.8h.01M340.8 252.5h.01M331.7 257.7h.01M348.4 250.7h.01M348.4 252.7h.01M343.2 261.3h.01M339.1 253.0h.01M340.8 257.6h.01M354.2 250.4h.01M342.4 258.1h.01M356.3 246.7h.01M351.8 242.6h.01M353.1 249.0h.01M331.4 256.4h.01M349.7 245.5h.01M341.5 251.8h.01M359.3 248.6h.01M350.6 255.2h.01M343.7 250.6h.01M327.6 261.1h.01M353.0 251.1h.01M344.8 252.5h.01M316.5 257.8h.01M346.6 256.4h.01M357.5 248.4h.01M344.5 249.0h.01M333.8 246.9h.01M322.0 254.2h.01M320.5 258.7h.01M328.9 261.3h.01M339.1 252.3h.01M344.4 247.7h.01M340.0 251.7h.01M334.9 256.1h.01M345.5 256.0h.01M349.3 256.2h.01M341.3 252.6h.01M340.9 256.7h.01M336.2 258.9h.01M335.9 249.8h.01M337.0 254.8h.01M353.7 252.4h.01M346.9 256.0h.01M354.8 247.0h.01M341.6 250.1h.01M338.9 254.9h.01M339.1 250.7h.01M346.0 246.5h.01M345.1 250.2h.01M340.5 251.0h.01M354.3 250.8h.01M343.6 254.1h.01M339.3 256.2h.01M350.0 257.8h.01M345.0 254.7h.01M338.0 251.0h.01M329.9 257.0h.01M335.2 259.5h.01M330.0 258.3h.01M341.9 251.8h.01M344.3 248.5h.01M335.1 254.3h.01M337.6 250.6h.01M344.8 245.2h.01M346.3 257.3h.01M324.8 258.1h.01M341.5 251.2h.01M341.1 249.9h.01M338.9 253.9h.01M351.5 253.5h.01M343.4 254.2h.01M333.4 253.5h.01M333.9 259.0h.01M354.4 250.0h.01M327.4 251.6h.01M350.0 250.3h.01M336.2 259.5h.01M357.8 252.7h.01M338.9 257.9h.01M341.9 253.5h.01M343.2 248.2h.01M332.3 253.9h.01M329.2 261.3h.01M342.0 256.5h.01M335.7 259.8h.01M336.9 264.4h.01M350.0 245.3h.01M348.5 247.8h.01M329.0 260.2h.01M349.0 249.3h.01M351.3 250.5h.01M355.6 244.3h.01M360.4 244.6h.01M351.3 259.8h.01M340.4 251.1h.01M332.7 264.5h.01M348.0 250.1h.01M340.4 246.0h.01M336.2 255.2h.01M345.8 251.4h.01M345.7 249.2h.01M346.9 252.5h.01M342.6 254.2h.01M343.2 258.3h.01M344.7 248.6h.01M333.4 256.0h.01M328.5 258.2h.01M332.6 247.4h.01M331.2 249.6h.01M335.1 248.4h.01M345.0 252.9h.01M340.7 250.9h.01M341.2 244.5h.01M345.2 245.8h.01M333.9 257.1h.01M350.5 251.9h.01M338.8 248.4h.01M344.7 257.2h.01M340.8 249.3h.01M334.3 261.5h.01M328.8 252.7h.01M350.7 246.9h.01M345.1 253.6h.01M344.4 256.0h.01M335.8 259.6h.01M335.2 256.4h.01M330.4 261.3h.01M362.7 248.1h.01M336.8 255.5h.01M332.3 248.9h.01M337.6 254.5h.01M339.0 252.0h.01M349.4 244.8h.01M348.6 250.8h.01M333.0 253.8h.01M331.9 257.3h.01M349.1 249.4h.01M341.0 249.6h.01M342.0 258.3h.01M327.5 253.0h.01M333.5 256.6h.01M333.5 256.0h.01M332.8 254.8h.01M343.1 241.4h.01M332.5 255.0h.01M338.2 251.9h.01M332.9 263.6h.01M335.8 253.3h.01M344.6 245.9h.01M338.5 254.2h.01M340.7 255.1h.01M332.9 255.9h.01M349.9 246.2h.01M342.0 256.3h.01M338.6 260.9h.01M335.6 254.1h.01M340.2 253.9h.01M337.0 259.4h.01M333.7 253.2h.01M355.1 249.9h.01M341.5 254.5h.01M353.5 252.5h.01M334.0 252.1h.01M340.6 263.7h.01M337.8 251.3h.01M346.4 244.5h.01M338.4 249.0h.01M337.8 254.4h.01M338.1 255.6h.01M352.8 248.3h.01M346.4 248.6h.01M344.4 251.7h.01M352.9 246.2h.01M339.5 253.9h.01M347.0 250.1h.01M328.8 250.2h.01M344.7 248.2h.01M345.7 253.2h.01M341.5 256.2h.01M324.1 257.8h.01M343.7 259.3h.01M335.1 258.1h.01M340.4 248.9h.01M338.7 246.8h.01M340.6 259.0h.01M324.6 253.0h.01M337.2 251.4h.01M339.7 253.8h.01M337.4 255.2h.01M341.3 258.3h.01M348.3 250.1h.01M341.5 253.6h.01M340.0 254.6h.01M339.6 259.6h.01M344.9 247.0h.01M335.2 252.2h.01M327.6 263.3h.01M348.9 250.7h.01M336.8 257.9h.01M327.8 258.9h.01M346.0 257.4h.01M337.1 251.5h.01M357.9 249.1h.01M352.5 248.1h.01M333.3 254.1h.01M350.8 261.0h.01M336.9 256.8h.01M337.5 259.6h.01M353.1 250.1h.01M345.9 254.6h.01M316.9 266.4h.01M364.3 247.0h.01M331.2 254.6h.01M345.5 260.5h.01M350.1 254.1h.01M342.8 250.9h.01M349.9 262.3h.01M335.8 253.6h.01M350.7 255.7h.01M339.0 249.6h.01M330.1 260.2h.01M331.7 258.7h.01M338.6 257.2h.01M356.5 253.1h.01M354.6 246.9h.01M337.9 258.5h.01M329.3 261.8h.01M331.5 256.2h.01M344.2 248.1h.01M345.4 250.4h.01M339.9 258.1h.01M337.3 258.1h.01M352.0 257.1h.01M332.9 259.5h.01M349.5 249.6h.01M332.0 251.7h.01M349.9 254.4h.01M352.6 249.2h.01M335.9 245.1h.01M338.8 256.4h.01M331.7 254.1h.01M348.5 252.6h.01M337.8 245.8h.01M333.6 251.2h.01M350.2 244.1h.01M346.3 254.5h.01M344.2 250.2h.01M357.8 244.1h.01M338.7 256.7h.01M345.1 250.0h.01M335.0 255.7h.01M318.2 253.1h.01M344.6 241.5h.01M336.8 254.3h.01M334.3 253.0h.01M345.1 250.5h.01M320.4 262.1h.01M343.2 252.3h.01M331.3 249.0h.01M358.0 247.3h.01M349.6 252.0h.01M342.0 259.0h.01M353.1 253.8h.01M333.5 251.5h.01M350.9 250.5h.01M339.0 250.4h.01M329.5 261.2h.01M340.8 249.3h.01M337.5 249.5h.01M334.7 251.6h.01M344.9 253.3h.01M341.9 260.1h.01M340.5 251.2h.01M346.4 254.9h.01M333.1 263.0h.01M341.9 250.1h.01M352.0 252.7h.01M358.5 251.2h.01M334.6 255.2h.01M341.5 256.2h.01M327.5 259.8h.01M336.1 249.7h.01M327.9 253.5h.01M346.0 254.0h.01M343.6 255.9h.01M337.1 256.8h.01M345.5 250.7h.01M333.5 252.0h.01M334.7 256.3h.01M338.7 247.6h.01M346.1 254.0h.01M333.0 259.4h.01M347.0 251.5h.01M338.8 258.7h.01M342.1 259.0h.01M336.3 241.2h.01M332.0 259.0h.01M345.7 254.7h.01M352.2 255.8h.01M338.8 257.3h.01M346.5 247.8h.01M347.3 255.2h.01M351.5 257.2h.01M361.9 247.1h.01M337.8 256.9h.01M339.4 249.6h.01M341.4 231.8h.01M331.9 238.7h.01M314.5 247.9h.01M355.5 236.6h.01M348.9 233.9h.01M330.2 243.2h.01M342.8 253.9h.01M334.0 245.9h.01M336.0 246.3h.01M325.1 241.2h.01M336.8 229.8h.01M341.7 243.6h.01M330.4 241.8h.01M337.3 255.5h.01M332.1 234.6h.01M338.5 254.7h.01M335.0 244.5h.01M327.2 238.4h.01M344.0 246.5h.01M339.9 241.8h.01M349.0 239.1h.01M345.3 245.9h.01M325.5 239.3h.01M324.7 245.9h.01M339.9 238.0h.01M333.2 240.5h.01M341.4 246.0h.01M342.5 252.3h.01M340.8 251.9h.01M324.8 240.1h.01M341.4 241.4h.01M352.4 236.1h.01M344.8 255.9h.01M328.9 238.9h.01M356.4 244.0h.01M327.7 239.2h.01M343.8 251.5h.01M311.1 242.5h.01M331.2 257.4h.01M338.1 249.6h.01M329.2 241.7h.01M309.9 251.1h.01M350.0 241.3h.01M325.5 261.2h.01M331.5 244.8h.01M348.7 247.0h.01M329.6 259.0h.01M323.3 247.5h.01M331.2 242.9h.01M341.4 232.3h.01M341.0 252.0h.01M332.2 251.8h.01M345.4 247.6h.01M326.9 238.2h.01M341.6 247.4h.01M340.0 231.8h.01M347.1 236.3h.01M353.2 258.6h.01M353.9 242.8h.01M342.6 232.2h.01M334.9 260.1h.01M316.7 246.4h.01M336.0 247.7h.01M332.8 249.7h.01M337.6 236.4h.01M328.2 247.2h.01M321.8 249.9h.01M314.1 254.4h.01M325.9 254.1h.01M356.5 242.1h.01M355.0 245.3h.01M342.5 254.7h.01M335.0 250.5h.01M329.5 255.1h.01M331.5 252.0h.01M340.4 248.6h.01M316.3 243.7h.01M344.4 247.2h.01M332.3 251.1h.01M335.8 236.2h.01M341.3 243.6h.01M329.0 235.0h.01M348.7 239.6h.01M335.2 253.4h.01M334.4 246.3h.01M332.3 239.7h.01M321.0 255.6h.01M342.5 246.4h.01M338.0 237.8h.01M339.8 236.9h.01M341.6 247.3h.01M335.8 248.5h.01M345.0 246.8h.01M321.3 238.8h.01M337.1 252.6h.01M337.4 245.4h.01M338.6 241.4h.01M341.9 233.2h.01M329.6 256.6h.01M347.9 239.7h.01M343.3 241.0h.01M326.0 245.5h.01M329.8 253.1h.01M335.6 238.8h.01M338.0 242.5h.01M346.3 248.9h.01M327.9 248.9h.01M350.9 246.6h.01M349.3 239.6h.01M338.7 237.1h.01M339.6 238.4h.01M333.3 219.1h.01M314.9 236.7h.01M317.2 223.8h.01M303.2 225.2h.01M330.4 223.9h.01M333.8 217.5h.01M347.3 247.8h.01M303.7 215.9h.01M328.2 218.9h.01M320.7 239.4h.01M308.3 242.2h.01M327.0 221.5h.01M341.0 242.4h.01M321.4 246.3h.01M321.5 218.7h.01M326.1 236.9h.01M327.0 235.5h.01M328.9 234.3h.01M329.6 246.4h.01M327.6 243.1h.01M323.9 228.1h.01M313.7 239.9h.01M329.6 223.0h.01M315.4 252.3h.01M331.9 231.7h.01M329.0 229.3h.01M329.0 238.1h.01M312.5 224.5h.01M330.3 223.7h.01M336.5 233.5h.01M325.1 242.6h.01M330.2 244.2h.01M320.9 239.6h.01M334.4 233.3h.01M324.7 240.3h.01M336.7 229.6h.01M332.9 227.6h.01M312.5 241.7h.01M327.4 226.2h.01M318.5 239.3h.01M330.7 245.4h.01M329.7 231.9h.01M338.0 255.7h.01M327.2 231.0h.01M328.2 230.9h.01M314.4 236.9h.01M328.0 227.3h.01M338.5 263.0h.01M330.9 227.0h.01M327.8 240.9h.01M326.8 236.3h.01M331.3 226.5h.01M333.9 228.7h.01M345.9 229.6h.01M310.2 243.8h.01M340.4 243.3h.01M319.3 243.2h.01M335.6 233.6h.01M322.7 228.9h.01M332.8 241.9h.01M323.2 233.9h.01M336.6 248.8h.01M328.3 232.5h.01M334.5 217.0h.01M322.9 227.8h.01M323.0 239.0h.01M339.0 256.7h.01M344.1 232.4h.01M330.3 230.1h.01M331.5 232.7h.01M334.1 246.0h.01M323.2 249.2h.01M334.6 231.8h.01M320.4 251.8h.01M317.7 254.3h.01M347.8 240.3h.01M330.6 234.4h.01M318.3 245.4h.01M322.2 235.1h.01M349.2 238.0h.01M352.9 252.3h.01M336.6 243.4h.01M347.6 233.9h.01M322.8 234.8h.01M316.7 227.4h.01M323.8 246.4h.01M332.3 233.0h.01M322.7 228.1h.01M339.0 250.3h.01M326.6 252.8h.01M360.8 209.7h.01M302.9 204.5h.01M369.0 212.0h.01M290.4 201.8h.01M319.8 263.6h.01M292.5 212.0h.01M299.8 245.8h.01M312.9 270.4h.01M344.0 235.0h.01M335.7 263.3h.01M352.4 204.7h.01M321.5 246.0h.01M335.9 267.3h.01M286.0 265.1h.01M318.1 198.1h.01M301.0 208.6h.01M296.0 197.1h.01M355.5 207.0h.01M312.4 239.0h.01M327.1 221.2h.01" stroke="#000" stroke-width="0.55" stroke-linecap="square" fill="none" opacity="0.9"/>
<path d="M303.8,251.3 C308.0,255.0 308.6,265.0 307.5,270.0 C305.0,272.0 301.0,272.0 299.8,269.0 C299.0,262.0 300.0,255.0 303.8,251.3Z" fill="#b0b0b0" stroke="#222" stroke-width="0.8"/>
<path d="M303.8,255.0 C306.0,258.0 306.5,265.0 305.5,268.5 C304.0,269.5 302.0,269.5 301.5,267.5 C301.0,262.0 302.0,257.0 303.8,255.0Z" fill="#c8c8c8" stroke="#555" stroke-width="0.4"/>
<ellipse cx="303.8" cy="265.0" rx="1" ry="2.4" fill="#eee" stroke="#777" stroke-width="0.3"/>
<path d="M324.6,270.5 C330.0,263.0 341.0,257.0 348.5,256.3 C350.0,260.0 348.5,266.0 343.0,268.8 C337.0,271.0 329.0,271.5 324.6,270.5Z" fill="#c4c4c4" stroke="#222" stroke-width="0.8"/>
<path d="M329.0,268.8 C334.0,264.0 341.0,260.0 346.0,259.6 C346.5,263.0 342.0,266.5 329.0,268.8Z" fill="#e0e0e0" stroke="#666" stroke-width="0.4"/>
<path d="M334.0,267.0 C337.0,265.0 341.0,263.0 344.0,262.5" fill="none" stroke="#888" stroke-width="0.35"/>
</g>
<polygon points="322.5,270.8 323.5,262.3 345.5,181.5 364.0,179.4 372.5,194.5 365.2,261.8 355.2,273.6 326.0,274.0" fill="none" stroke="#333" stroke-width="0.8"/>
<rect x="280.90" y="179.40" width="95.40" height="95.00" fill="none" stroke="#111" stroke-width="1.1" />
<path d="M278.7 181.1h2.2M278.7 184.5h2.2M278.7 187.9h2.2M278.7 191.3h2.2M278.7 194.7h2.2M278.7 198.1h2.2M278.7 201.5h2.2M278.7 204.8h2.2M278.7 208.2h2.2M278.7 211.6h2.2M278.7 215.0h2.2M278.7 218.4h2.2M278.7 221.8h2.2M278.7 225.2h2.2M278.7 228.6h2.2M278.7 232.0h2.2M278.7 235.4h2.2M278.7 238.8h2.2M278.7 242.2h2.2M278.7 245.6h2.2M278.7 249.0h2.2M278.7 252.3h2.2M278.7 255.7h2.2M278.7 259.1h2.2M278.7 262.5h2.2M278.7 265.9h2.2M278.7 269.3h2.2M278.7 272.7h2.2" stroke="#222" stroke-width="0.65"/>
<path d="M282.4 274.4v2.2M285.5 274.4v2.2M288.6 274.4v2.2M291.7 274.4v2.2M294.8 274.4v2.2M297.9 274.4v2.2M301.0 274.4v2.2M304.1 274.4v2.2M307.2 274.4v2.2M310.3 274.4v2.2M313.4 274.4v2.2M316.5 274.4v2.2M319.6 274.4v2.2M322.7 274.4v2.2M325.8 274.4v2.2M328.9 274.4v2.2M332.0 274.4v2.2M335.1 274.4v2.2M338.2 274.4v2.2M341.3 274.4v2.2M344.4 274.4v2.2M347.5 274.4v2.2M350.6 274.4v2.2M353.7 274.4v2.2M356.8 274.4v2.2M359.9 274.4v2.2M363.0 274.4v2.2M366.1 274.4v2.2M369.2 274.4v2.2M372.3 274.4v2.2" stroke="#222" stroke-width="0.65"/>
<text x="327.50" y="193.30" font-size="8.8" text-anchor="middle" font-weight="normal" fill="#111" >53.1</text>
<text x="428.70" y="174.30" font-size="8.8" text-anchor="middle" font-weight="normal" fill="#111" >Anti-miR-31</text>
<clipPath id="cb2"><rect x="381.3" y="179.3" width="94.59999999999997" height="93.80000000000001"/></clipPath>
<g clip-path="url(#cb2)">
<path d="M400.90000000000003,251.4 C400.40000000000003,239.4 402.90000000000003,229.4 406.90000000000003,227.4 C410.90000000000003,231.4 412.90000000000003,244.4 411.90000000000003,255.4 Z" fill="#000" opacity="0.56" filter="url(#bl1)"/>
<path d="M411.90000000000003,270.4 C419.90000000000003,261.4 434.90000000000003,249.4 451.90000000000003,245.4 C455.90000000000003,250.4 454.90000000000003,259.4 448.90000000000003,264.4 C437.90000000000003,269.4 421.90000000000003,271.4 411.90000000000003,270.4Z" fill="#000" opacity="0.6" filter="url(#bl1)"/>
<path d="M401.8 229.7h.01M402.8 236.3h.01M406.9 251.3h.01M404.4 239.3h.01M404.9 253.9h.01M408.5 237.1h.01M407.8 236.6h.01M407.2 231.7h.01M401.4 236.8h.01M404.5 234.0h.01M404.8 240.1h.01M402.9 249.0h.01M407.5 239.5h.01M406.4 249.2h.01M409.0 246.9h.01M404.1 256.0h.01M404.7 248.4h.01M407.2 240.1h.01M408.4 233.4h.01M399.8 251.8h.01M408.0 240.4h.01M407.1 235.6h.01M411.1 241.8h.01M403.3 249.0h.01M409.6 253.3h.01M400.2 238.1h.01M404.4 244.8h.01M409.6 237.2h.01M404.9 243.0h.01M408.2 250.2h.01M401.4 230.0h.01M405.9 235.8h.01M410.0 236.5h.01M407.5 235.4h.01M413.4 235.4h.01M403.9 256.9h.01M412.6 237.4h.01M404.2 241.3h.01M406.0 240.3h.01M405.9 250.6h.01M403.2 257.2h.01M399.8 227.2h.01M409.0 243.4h.01M409.6 252.1h.01M406.4 226.0h.01M408.2 238.6h.01M406.9 229.2h.01M404.3 243.7h.01M406.5 237.8h.01M408.4 238.9h.01M407.2 237.8h.01M405.4 221.2h.01M407.9 247.5h.01M403.4 228.5h.01M407.5 240.7h.01M405.3 243.9h.01M403.4 233.9h.01M404.5 234.7h.01M409.6 249.7h.01M404.7 241.3h.01M412.9 238.1h.01M404.5 245.8h.01M409.0 239.8h.01M407.1 237.9h.01M401.7 242.6h.01M409.4 231.8h.01M407.4 227.4h.01M406.1 244.1h.01M410.3 240.2h.01M403.4 236.0h.01M409.1 231.7h.01M410.2 222.8h.01M401.9 245.8h.01M407.6 235.5h.01M405.5 234.1h.01M405.9 249.9h.01M400.6 247.8h.01M407.2 240.0h.01M410.6 249.0h.01M406.1 249.7h.01M401.9 234.0h.01M410.3 248.9h.01M404.8 230.5h.01M407.5 233.8h.01M398.7 238.2h.01M402.7 247.7h.01M401.1 232.8h.01M409.9 237.4h.01M409.9 249.5h.01M402.8 249.6h.01M408.7 235.6h.01M401.7 248.6h.01M402.7 251.9h.01M408.4 232.0h.01M398.4 237.7h.01M407.6 230.0h.01M406.7 228.7h.01M410.0 242.1h.01M413.5 243.3h.01M411.8 250.9h.01M407.6 228.2h.01M407.3 235.4h.01M407.1 233.7h.01M408.3 239.4h.01M405.0 241.2h.01M396.4 246.8h.01M405.4 254.6h.01M407.3 253.7h.01M403.2 238.3h.01M403.5 244.7h.01M408.4 226.2h.01M407.7 234.7h.01M402.0 231.6h.01M407.1 235.5h.01M406.6 237.1h.01M405.1 229.2h.01M404.5 249.1h.01M407.1 247.6h.01M405.4 252.9h.01M402.5 252.1h.01M410.2 232.2h.01M408.6 238.6h.01M409.1 247.2h.01M410.1 233.7h.01M400.9 235.4h.01M402.8 238.5h.01M405.2 235.4h.01M409.5 246.2h.01M408.2 234.7h.01M405.5 253.0h.01M402.8 238.8h.01M407.2 238.6h.01M411.6 236.4h.01M407.9 236.1h.01M404.7 239.0h.01M409.4 240.4h.01M409.8 243.0h.01M404.6 234.8h.01M399.8 240.9h.01M408.3 239.8h.01M406.6 251.8h.01M406.0 241.6h.01M405.9 242.0h.01M401.3 230.5h.01M402.4 245.6h.01M402.9 237.0h.01M408.3 231.8h.01M401.2 228.4h.01M411.2 238.7h.01M403.5 218.6h.01M406.7 234.5h.01M401.2 252.9h.01M408.5 237.7h.01M400.9 256.2h.01M410.1 252.3h.01M408.3 239.9h.01M404.3 239.4h.01M411.5 238.7h.01M402.3 240.0h.01M403.6 253.8h.01M401.8 232.6h.01M405.0 229.1h.01M397.2 232.7h.01M401.8 242.7h.01M410.1 244.0h.01M402.5 240.6h.01M407.8 239.0h.01M402.1 236.6h.01M408.7 243.0h.01M407.1 237.1h.01M405.4 237.7h.01M405.1 230.2h.01M410.8 236.2h.01M405.1 231.3h.01M403.7 222.1h.01M408.1 239.9h.01M402.1 243.3h.01M404.6 234.0h.01M400.0 233.5h.01M407.6 238.9h.01M401.2 237.4h.01M405.8 241.3h.01M402.0 232.4h.01M404.9 243.5h.01M410.3 238.8h.01M400.8 238.0h.01M405.6 234.4h.01M401.6 232.4h.01M406.8 245.0h.01M403.7 232.9h.01M406.9 242.8h.01M409.8 236.9h.01M408.9 237.9h.01M401.8 247.2h.01M407.8 246.0h.01M408.4 244.6h.01M404.2 224.5h.01M403.9 240.4h.01M404.0 243.7h.01M410.4 239.4h.01M403.0 251.7h.01M405.3 240.2h.01M398.8 226.4h.01M408.8 243.2h.01M409.9 258.4h.01M405.6 240.3h.01M405.3 241.7h.01M409.3 234.6h.01M411.0 225.0h.01M407.6 250.7h.01M406.8 245.5h.01M402.2 253.8h.01M409.6 234.8h.01M399.9 232.8h.01M404.1 224.6h.01M406.7 244.5h.01M406.2 238.6h.01M409.8 242.8h.01M413.2 235.4h.01M406.9 233.9h.01M405.1 247.6h.01M407.5 249.2h.01M408.9 234.9h.01M397.1 223.7h.01M412.5 231.3h.01M409.5 236.0h.01M403.2 246.0h.01M408.9 247.2h.01M404.3 246.9h.01M406.3 255.1h.01M407.1 247.9h.01M401.4 254.3h.01M411.0 233.5h.01M410.1 233.7h.01M406.7 237.3h.01M401.2 238.9h.01M404.2 249.2h.01M402.4 235.9h.01M402.7 246.6h.01M406.8 247.1h.01M403.9 242.1h.01M409.1 237.5h.01M404.7 241.7h.01M407.4 241.0h.01M401.8 236.3h.01M402.5 263.8h.01M406.6 226.8h.01M404.7 231.1h.01M413.4 245.4h.01M404.4 250.4h.01M409.1 234.5h.01M402.6 230.2h.01M404.9 239.9h.01M405.2 245.3h.01M406.9 239.8h.01M408.9 225.9h.01M405.6 230.7h.01M407.2 247.3h.01M403.7 223.7h.01M412.3 251.8h.01M409.8 232.5h.01M407.8 242.8h.01M407.1 251.4h.01M413.1 242.2h.01M407.2 252.2h.01M406.2 240.0h.01M406.3 255.0h.01M410.4 220.3h.01M411.9 239.2h.01M401.7 251.4h.01M407.6 241.6h.01M406.0 252.3h.01M408.4 234.7h.01M400.1 233.6h.01M404.4 236.5h.01M409.7 231.4h.01M405.2 252.5h.01M403.0 244.6h.01M404.7 257.3h.01M407.4 231.9h.01M402.3 233.8h.01M402.0 247.9h.01M401.4 244.1h.01M406.7 251.6h.01M411.1 251.8h.01M403.9 240.8h.01M402.3 257.4h.01M405.7 252.5h.01M408.8 237.0h.01M403.3 238.9h.01M404.5 238.8h.01M410.3 250.5h.01M411.7 227.4h.01M402.4 237.2h.01M413.2 259.3h.01M404.4 241.1h.01M406.7 255.4h.01M408.1 252.8h.01M406.7 234.8h.01M403.3 234.7h.01M408.6 248.8h.01M413.1 245.2h.01M406.1 235.3h.01M406.6 247.2h.01M398.8 232.2h.01M401.6 256.9h.01M408.5 236.9h.01M407.3 251.4h.01M404.5 243.3h.01M405.6 243.2h.01M406.7 245.2h.01M404.0 233.2h.01M406.7 238.2h.01M406.0 250.2h.01M404.2 238.8h.01M405.4 256.8h.01M402.1 249.9h.01M397.8 255.0h.01M402.2 260.6h.01M406.5 260.9h.01M399.7 264.4h.01M406.9 244.8h.01M406.2 261.3h.01M399.9 250.0h.01M409.7 262.6h.01M412.9 247.4h.01M401.6 252.3h.01M400.2 251.6h.01M403.8 245.3h.01M400.8 252.6h.01M408.8 256.7h.01M406.2 255.2h.01M399.8 255.7h.01M407.8 266.4h.01M413.2 257.3h.01M403.3 258.6h.01M404.8 253.2h.01M397.0 260.5h.01M400.8 255.9h.01M396.9 266.2h.01M399.8 261.4h.01M403.4 248.8h.01M400.6 262.3h.01M401.8 264.6h.01M403.4 252.0h.01M404.5 262.5h.01M400.5 248.0h.01M408.5 251.5h.01M404.3 249.2h.01M402.0 253.0h.01M405.3 260.4h.01M401.7 251.9h.01M407.8 245.4h.01M402.9 255.6h.01M405.1 267.3h.01M406.4 264.0h.01M401.1 256.8h.01M397.4 261.7h.01M398.9 265.2h.01M402.8 270.5h.01M401.5 255.6h.01M397.5 265.5h.01M405.4 265.2h.01M395.0 260.6h.01M411.0 270.9h.01M398.3 248.9h.01M408.7 249.0h.01M404.3 254.1h.01M412.8 258.3h.01M412.2 262.5h.01M404.6 261.8h.01M405.9 272.3h.01M397.5 270.7h.01M396.6 249.9h.01M397.0 259.3h.01M403.4 261.0h.01M394.9 250.9h.01M406.6 264.2h.01M397.8 255.2h.01M407.0 265.9h.01M391.3 261.7h.01M400.3 241.3h.01M410.5 255.6h.01M406.9 264.3h.01M404.0 253.1h.01M400.7 262.7h.01M404.3 258.8h.01M400.8 243.7h.01M409.3 252.9h.01M414.6 253.8h.01M395.3 250.6h.01M413.3 256.1h.01M406.1 259.2h.01M402.5 265.0h.01M405.6 245.9h.01M407.7 255.7h.01M401.3 238.5h.01M409.2 262.8h.01M404.1 256.0h.01M407.5 252.1h.01M408.2 271.0h.01M405.2 263.5h.01M394.0 255.1h.01M394.1 258.5h.01M407.0 259.3h.01M402.2 265.6h.01M402.7 258.3h.01M403.9 243.9h.01M402.1 258.3h.01M401.6 256.1h.01M410.1 255.9h.01M403.8 255.8h.01M396.8 269.2h.01M403.0 258.9h.01M400.6 246.5h.01M399.7 269.8h.01M408.7 246.3h.01M400.5 261.4h.01M410.6 252.9h.01M399.0 254.4h.01M405.6 255.8h.01M401.9 251.3h.01M401.7 257.2h.01M406.9 243.9h.01M405.3 259.4h.01M402.1 260.7h.01M406.4 244.2h.01M404.3 256.6h.01M412.0 258.6h.01M408.2 249.3h.01M407.4 266.7h.01M407.4 251.0h.01M409.4 247.4h.01M405.7 259.9h.01M403.0 252.3h.01M403.9 254.1h.01M413.2 268.1h.01M411.9 257.7h.01M404.1 259.9h.01M407.4 260.8h.01M398.9 255.7h.01M401.6 254.2h.01M402.3 269.1h.01M405.0 255.3h.01M404.1 258.2h.01M405.2 262.1h.01M407.4 265.3h.01M410.8 255.3h.01M403.4 254.4h.01M405.4 263.9h.01M406.6 257.2h.01M399.9 249.3h.01M399.6 251.7h.01M402.9 265.6h.01M407.2 245.8h.01M397.5 255.2h.01M407.3 256.2h.01M403.9 254.5h.01M407.7 260.2h.01M403.2 246.3h.01M404.7 254.4h.01M404.5 244.8h.01M411.3 258.4h.01M409.0 263.0h.01M407.6 253.6h.01M401.1 246.5h.01M407.1 259.9h.01M406.5 250.0h.01M403.6 248.3h.01M396.3 257.4h.01M406.1 267.3h.01M407.9 259.4h.01M399.0 259.3h.01M411.6 250.2h.01M408.8 255.9h.01M407.7 254.5h.01M403.8 250.4h.01M399.6 266.1h.01M401.9 270.4h.01M408.7 260.2h.01M408.7 261.9h.01M405.0 250.6h.01M399.8 254.9h.01M405.8 271.1h.01M406.7 269.7h.01M401.2 270.5h.01M402.3 270.8h.01M408.5 257.8h.01M399.1 261.8h.01M402.9 248.6h.01M406.5 270.4h.01M409.4 258.5h.01M408.4 265.5h.01M401.6 270.9h.01M404.2 271.3h.01M408.3 257.2h.01M408.8 261.8h.01M402.0 271.2h.01M401.7 250.4h.01M399.5 265.5h.01M402.9 271.4h.01M403.0 250.0h.01M400.1 269.8h.01M408.8 258.8h.01M399.6 266.2h.01M405.0 271.2h.01M407.2 253.0h.01M405.0 249.6h.01M399.1 257.1h.01M405.4 271.0h.01M407.2 268.7h.01M408.9 258.8h.01M404.4 271.7h.01M405.8 251.2h.01M399.1 261.7h.01M399.2 260.2h.01M407.6 266.7h.01M408.4 266.6h.01M398.5 261.6h.01M408.8 257.9h.01M405.0 250.4h.01M403.0 272.3h.01M408.7 265.2h.01M403.9 271.8h.01M406.0 251.1h.01M399.0 262.1h.01M401.7 270.8h.01M408.8 259.9h.01M406.0 251.0h.01M400.6 251.7h.01M407.3 268.2h.01M403.3 250.6h.01M405.3 250.5h.01M402.8 271.2h.01M405.9 250.6h.01M408.4 261.6h.01M408.6 262.6h.01M401.1 252.5h.01M399.1 263.2h.01M408.0 254.9h.01M399.0 257.0h.01M400.0 255.2h.01M403.1 271.6h.01M403.0 271.4h.01M406.4 270.6h.01M407.1 268.7h.01M406.9 253.2h.01M399.2 257.4h.01M402.9 250.1h.01M399.0 257.4h.01M399.8 267.8h.01M401.6 270.2h.01M402.8 271.2h.01M398.8 256.0h.01M408.5 264.7h.01M402.8 250.6h.01M408.1 265.3h.01M407.1 271.2h.01M404.2 271.5h.01M403.9 249.7h.01M399.8 266.4h.01M403.8 249.3h.01M399.2 259.3h.01M400.8 252.5h.01M405.9 251.3h.01M405.7 251.0h.01M407.8 255.4h.01M403.5 271.3h.01M398.9 256.7h.01M408.3 264.4h.01M408.5 263.8h.01M404.7 271.1h.01M407.1 253.0h.01M398.9 260.9h.01M401.3 250.5h.01M408.4 262.2h.01M401.3 250.9h.01M402.3 250.9h.01M399.9 255.4h.01M405.0 271.0h.01M402.4 251.0h.01M399.2 255.1h.01M406.5 271.1h.01M403.6 250.1h.01M402.8 272.1h.01M406.4 269.9h.01M405.3 271.4h.01M401.5 270.5h.01M403.5 271.8h.01M408.6 262.9h.01M399.9 254.3h.01M399.6 267.2h.01M405.9 271.9h.01M403.6 250.1h.01M407.2 253.3h.01M403.7 249.4h.01M406.3 251.1h.01M406.0 249.8h.01M400.5 269.8h.01M399.4 256.5h.01M407.2 254.0h.01M401.9 271.6h.01M404.8 271.3h.01M398.8 260.9h.01M402.9 250.6h.01M399.9 268.1h.01M403.9 249.6h.01M399.8 254.7h.01M405.2 249.9h.01M408.7 266.7h.01M407.5 267.5h.01M408.2 264.1h.01M408.4 261.6h.01M399.5 264.4h.01M403.2 250.3h.01M400.7 268.6h.01M400.6 251.4h.01M400.5 268.5h.01M402.9 271.5h.01M408.6 263.3h.01M407.4 268.4h.01M408.3 256.3h.01M408.6 259.8h.01M400.7 252.9h.01M408.4 257.7h.01M408.8 255.8h.01M406.1 271.2h.01M398.9 264.0h.01M407.4 254.0h.01M408.7 262.5h.01M399.0 256.4h.01M404.8 271.5h.01M400.1 267.2h.01M399.5 265.2h.01M399.3 263.1h.01M407.5 254.6h.01M400.8 250.7h.01M402.6 250.4h.01M402.9 250.6h.01M401.5 251.2h.01M408.5 258.4h.01M405.7 250.0h.01M409.0 260.6h.01M406.8 252.6h.01M399.3 257.0h.01M402.7 249.2h.01M403.6 250.5h.01M400.6 268.8h.01M406.0 250.8h.01M407.6 254.8h.01M403.1 249.9h.01M400.8 252.8h.01M399.6 267.0h.01M408.6 259.8h.01M404.3 249.8h.01M407.7 253.5h.01M401.3 249.8h.01M408.3 266.9h.01M400.5 251.4h.01M398.8 264.5h.01M407.5 254.1h.01M400.6 271.5h.01M407.0 270.1h.01M401.0 270.5h.01M406.9 251.6h.01M399.0 255.5h.01M405.9 251.5h.01M399.8 267.7h.01M409.2 260.2h.01M398.8 257.7h.01M403.7 271.4h.01M398.8 257.2h.01M401.8 250.9h.01M405.0 250.0h.01M406.2 252.0h.01M400.2 269.1h.01M405.8 251.1h.01M404.7 271.6h.01M403.8 249.8h.01M407.7 267.7h.01M406.3 251.3h.01M407.4 254.6h.01M405.0 251.0h.01M399.0 260.6h.01M408.1 265.6h.01M408.2 257.7h.01M406.1 250.8h.01M398.7 257.8h.01M408.8 262.6h.01M408.5 263.0h.01M404.6 250.3h.01M408.0 265.4h.01M398.8 266.9h.01M400.6 269.9h.01M402.2 271.5h.01M400.2 267.8h.01M399.5 254.9h.01M399.1 262.3h.01M399.1 261.5h.01M408.4 262.9h.01M402.4 250.9h.01M407.0 252.3h.01M407.9 267.3h.01M402.0 250.7h.01M408.6 258.9h.01M399.1 261.5h.01M399.2 261.7h.01M408.1 254.5h.01M407.9 266.1h.01M403.0 250.3h.01M398.4 264.4h.01M403.8 250.4h.01M409.5 263.7h.01M402.1 270.8h.01M399.7 266.7h.01M406.8 253.1h.01M404.8 249.8h.01M399.0 260.8h.01M399.2 263.3h.01M408.3 255.8h.01M400.9 251.4h.01M402.3 250.8h.01M398.9 261.5h.01M406.3 270.1h.01M402.6 271.1h.01M406.5 269.8h.01M406.3 251.8h.01M408.9 261.3h.01M404.6 250.0h.01M404.6 248.7h.01M449.2 261.0h.01M430.0 259.9h.01M442.3 256.8h.01M431.1 259.2h.01M446.5 257.1h.01M434.4 258.3h.01M448.6 257.5h.01M429.9 270.1h.01M430.9 259.2h.01M431.1 259.8h.01M427.0 261.9h.01M436.4 269.6h.01M424.8 265.2h.01M437.7 269.0h.01M448.3 257.8h.01M447.2 257.0h.01M446.2 257.1h.01M444.9 265.9h.01M424.8 264.7h.01M449.8 259.1h.01M429.8 269.9h.01M438.3 257.2h.01M443.8 267.0h.01M440.1 268.5h.01M446.3 265.4h.01M450.2 259.5h.01M448.7 261.7h.01M429.1 260.7h.01M423.6 264.2h.01M446.0 264.9h.01M447.6 256.9h.01M443.7 267.2h.01M424.9 268.2h.01M428.9 269.8h.01M426.1 261.9h.01M445.9 265.3h.01M448.2 264.6h.01M448.6 262.0h.01M423.4 267.2h.01M438.8 268.6h.01M435.4 257.8h.01M440.7 268.3h.01M437.7 269.4h.01M444.1 256.7h.01M437.6 256.7h.01M447.2 257.6h.01M427.6 270.7h.01M434.9 257.6h.01M447.6 264.6h.01M445.8 256.4h.01M428.3 261.6h.01M425.6 263.5h.01M435.8 269.5h.01M450.1 260.3h.01M450.5 261.7h.01M446.4 265.4h.01M427.5 261.7h.01M424.9 268.7h.01M439.6 256.7h.01M424.4 266.1h.01M432.5 270.4h.01M422.3 267.6h.01M428.2 270.4h.01M430.7 259.4h.01M447.7 256.9h.01M424.5 264.6h.01M424.5 268.6h.01M431.5 270.3h.01M424.3 266.8h.01M437.2 269.3h.01M437.0 269.3h.01M433.5 270.4h.01M446.7 256.6h.01M431.0 270.3h.01M434.2 270.0h.01M426.7 270.1h.01M437.6 269.6h.01M436.6 257.4h.01M445.9 256.4h.01M435.0 270.3h.01M430.3 259.8h.01M433.0 270.4h.01M438.9 256.9h.01M433.2 258.7h.01M444.5 256.7h.01M438.3 257.1h.01M441.4 256.6h.01M423.5 267.9h.01M439.1 268.9h.01M425.3 264.8h.01M424.0 266.1h.01M438.6 269.2h.01M449.4 258.0h.01M451.9 258.7h.01M444.1 267.5h.01M425.0 269.0h.01M449.5 259.0h.01M424.9 264.8h.01M442.8 267.5h.01M448.9 258.8h.01M425.1 263.7h.01M446.9 264.2h.01M444.2 266.9h.01M450.2 261.3h.01M442.4 256.8h.01M437.3 269.7h.01M437.9 256.7h.01M442.2 267.6h.01M445.2 257.0h.01M432.1 269.9h.01M427.1 262.4h.01M440.4 268.6h.01M426.3 262.7h.01M424.7 265.4h.01M442.2 256.5h.01M433.3 270.4h.01M441.0 268.1h.01M442.8 267.9h.01M426.5 262.8h.01M434.5 258.4h.01M448.6 258.8h.01M448.8 263.1h.01M442.3 256.8h.01M445.2 266.2h.01M444.0 266.3h.01M439.5 268.6h.01M433.9 270.4h.01M428.5 270.1h.01M441.4 267.7h.01M432.4 259.1h.01M426.3 268.9h.01M425.9 262.8h.01M428.8 270.3h.01M444.7 256.9h.01M424.8 267.7h.01M432.8 270.5h.01M423.4 267.8h.01M425.3 263.2h.01M429.6 270.1h.01M430.9 259.2h.01M429.4 269.9h.01M433.6 270.1h.01M428.0 269.5h.01M440.3 268.5h.01M426.1 263.4h.01M447.2 257.8h.01M439.1 268.7h.01M439.2 256.6h.01M428.5 270.1h.01M424.2 267.9h.01M433.2 258.7h.01M438.3 268.9h.01M440.9 269.1h.01M422.5 269.0h.01M444.8 266.3h.01M425.1 263.5h.01M440.1 256.2h.01M428.9 271.3h.01M435.8 256.9h.01M449.0 263.0h.01M431.1 259.6h.01M447.1 257.6h.01M425.5 268.9h.01M436.4 270.3h.01M446.4 257.4h.01M423.9 266.8h.01M440.0 268.3h.01M428.7 261.2h.01M438.0 256.2h.01M444.2 266.5h.01M422.8 265.9h.01M439.8 268.6h.01M439.7 256.8h.01M450.1 261.8h.01M447.7 263.4h.01M447.1 264.4h.01M425.6 268.4h.01M446.4 265.8h.01M447.0 257.7h.01M442.9 256.8h.01M436.4 257.7h.01M424.9 267.1h.01M448.9 261.6h.01M445.1 265.6h.01M447.3 264.8h.01M423.9 264.7h.01M436.4 269.3h.01M447.8 263.8h.01M438.9 269.1h.01M449.9 261.8h.01M428.8 270.5h.01M438.9 257.2h.01M429.5 260.1h.01M427.4 270.0h.01M422.2 267.1h.01M430.7 270.3h.01M426.2 263.2h.01M435.1 257.3h.01M423.8 266.7h.01M424.3 267.5h.01M439.4 257.0h.01M429.3 270.7h.01M434.8 270.0h.01M429.2 270.2h.01M429.6 270.0h.01M449.6 259.9h.01M426.3 269.2h.01M443.8 256.7h.01M438.3 257.4h.01M434.4 270.5h.01M439.2 268.8h.01M426.4 269.0h.01M424.0 268.1h.01M444.7 256.9h.01M425.4 268.5h.01M447.8 258.0h.01M446.0 256.7h.01M449.1 261.4h.01M424.5 268.8h.01M425.8 269.6h.01M425.5 263.5h.01M424.3 268.4h.01M447.9 257.3h.01M430.7 270.4h.01M442.9 267.1h.01M449.0 259.2h.01M445.6 265.2h.01M449.8 260.2h.01M441.0 267.9h.01M428.1 269.6h.01M439.1 256.5h.01M435.9 269.5h.01M449.3 261.3h.01M426.5 269.0h.01M425.2 267.7h.01M437.4 257.4h.01M433.5 258.6h.01M448.4 258.5h.01M448.1 257.2h.01M425.5 269.5h.01M433.2 258.9h.01M446.8 257.1h.01M448.5 263.0h.01M449.6 260.9h.01M434.5 270.0h.01M425.2 264.7h.01M427.2 269.5h.01M424.5 265.7h.01M438.2 268.8h.01M448.5 262.0h.01M443.2 256.8h.01M449.7 261.8h.01M423.1 269.3h.01M424.8 267.6h.01M450.4 262.4h.01M426.4 262.7h.01M450.1 258.3h.01M438.2 269.9h.01M423.6 265.4h.01M432.1 270.6h.01M428.3 260.5h.01M441.6 256.8h.01M425.2 263.9h.01M437.4 256.6h.01M439.0 268.7h.01M436.9 269.7h.01M448.2 257.4h.01M451.6 258.2h.01M450.4 261.1h.01M438.1 269.3h.01M441.4 255.9h.01M441.1 268.1h.01M448.5 258.0h.01M447.7 263.3h.01M423.8 266.0h.01M426.2 270.0h.01M432.4 270.2h.01M425.0 268.0h.01M447.6 257.2h.01M445.2 256.9h.01M426.4 269.1h.01M424.9 268.3h.01M449.4 260.5h.01M439.7 268.4h.01M446.2 255.4h.01M425.8 263.9h.01M427.6 269.8h.01M426.0 263.0h.01M444.8 266.0h.01M429.1 270.3h.01M449.7 262.5h.01M449.9 259.5h.01M424.5 265.9h.01M448.3 258.6h.01M440.0 256.0h.01M451.7 258.7h.01M444.9 267.0h.01M428.8 271.2h.01M430.4 260.0h.01M424.6 264.7h.01M423.2 229.2h.01M410.1 226.1h.01M395.4 207.1h.01M402.5 210.0h.01M412.2 229.7h.01M396.2 245.5h.01M417.2 232.6h.01M405.4 214.5h.01M413.3 215.6h.01M418.4 229.4h.01M410.4 239.2h.01M410.1 218.7h.01M403.7 213.0h.01M422.4 227.7h.01M406.2 208.8h.01M413.0 213.8h.01M405.9 222.9h.01M409.2 212.7h.01M412.4 215.9h.01M416.0 222.5h.01M408.8 230.6h.01M413.0 228.5h.01M417.9 230.4h.01M413.0 226.9h.01M407.7 225.4h.01M420.1 231.8h.01M407.9 210.0h.01M409.6 211.9h.01M417.1 234.4h.01M418.0 218.5h.01M398.9 209.8h.01M412.6 235.5h.01M414.3 224.8h.01M411.7 227.2h.01M422.4 227.6h.01M410.8 230.5h.01M402.1 223.6h.01M403.4 233.8h.01M409.5 228.7h.01M403.6 248.8h.01M406.3 227.9h.01M417.6 216.2h.01M410.7 222.1h.01M414.0 196.7h.01M404.9 229.8h.01M414.3 222.9h.01M414.2 218.0h.01M398.9 206.6h.01M418.9 213.7h.01M401.9 232.7h.01M404.5 210.6h.01M412.7 213.3h.01M417.8 223.6h.01M414.1 211.8h.01M412.2 233.0h.01M405.6 208.3h.01M403.5 223.0h.01M425.6 201.0h.01M404.6 213.6h.01M397.4 234.1h.01M413.0 211.9h.01M409.4 209.8h.01M401.1 218.9h.01M416.1 226.1h.01M403.9 231.9h.01M412.7 211.4h.01M420.9 205.9h.01M418.0 215.7h.01M411.5 232.9h.01M405.4 216.9h.01M408.2 238.6h.01M415.1 225.3h.01M414.7 218.6h.01M410.2 236.9h.01M425.2 230.2h.01M405.2 226.9h.01M397.2 235.2h.01M412.5 215.1h.01M413.9 210.7h.01M404.8 229.9h.01M421.1 217.7h.01M407.6 216.2h.01M409.3 221.3h.01M415.0 222.9h.01M408.3 215.7h.01M414.2 228.8h.01M418.6 222.5h.01M407.3 235.6h.01M413.7 239.3h.01M418.5 231.0h.01M412.1 222.7h.01M417.7 236.7h.01M410.4 239.5h.01M408.0 213.3h.01M414.3 219.3h.01M412.3 227.7h.01M415.6 219.5h.01M403.6 219.8h.01M426.4 236.5h.01M419.1 208.0h.01M415.3 223.6h.01M412.8 204.2h.01M425.5 213.6h.01M415.9 231.3h.01M418.3 236.4h.01M412.1 211.3h.01M417.3 234.7h.01M410.5 227.9h.01M412.3 213.4h.01M407.9 228.0h.01M420.0 217.4h.01M418.0 215.3h.01M420.9 219.8h.01M414.5 223.1h.01M406.9 234.6h.01M409.4 216.7h.01M421.0 222.4h.01M407.6 231.5h.01M403.2 235.3h.01M416.6 231.4h.01M412.5 216.4h.01M414.0 238.0h.01M412.4 205.3h.01M428.2 237.5h.01M412.2 239.3h.01M416.9 216.7h.01M411.7 212.6h.01M413.4 241.7h.01M422.3 249.0h.01M421.5 246.6h.01M429.8 244.8h.01M412.2 238.9h.01M424.2 226.1h.01M417.5 243.5h.01M420.3 236.3h.01M413.1 244.7h.01M420.5 254.3h.01M425.6 246.0h.01M411.4 257.0h.01M427.1 249.9h.01M413.8 253.5h.01M418.1 239.7h.01M417.2 244.1h.01M411.1 268.5h.01M418.9 251.7h.01M413.4 250.0h.01M412.6 254.2h.01M422.5 251.4h.01M420.5 249.9h.01M415.5 248.2h.01M421.2 245.5h.01M413.0 228.8h.01M423.3 241.3h.01M419.3 239.5h.01M419.8 250.4h.01M409.6 262.7h.01M417.6 252.1h.01M417.3 240.2h.01M414.0 263.4h.01M408.8 242.9h.01M422.8 233.7h.01M408.4 242.8h.01M414.1 239.4h.01M411.1 244.0h.01M423.8 237.2h.01M428.9 251.5h.01M408.2 252.7h.01M415.7 249.3h.01M429.2 255.6h.01M413.5 244.1h.01M409.2 247.9h.01M411.1 255.0h.01M415.2 258.4h.01M406.0 240.4h.01M419.1 249.1h.01M411.3 237.0h.01M421.6 237.0h.01M420.1 247.1h.01M415.0 241.1h.01M427.5 241.6h.01M397.8 244.7h.01M423.2 246.8h.01M414.3 262.2h.01M416.5 240.7h.01M413.9 245.5h.01M418.1 259.3h.01M418.5 256.7h.01M412.5 254.0h.01M404.8 235.7h.01M414.8 253.0h.01M417.8 242.8h.01M408.3 252.7h.01M399.3 246.8h.01M412.7 249.7h.01M415.8 251.1h.01M419.3 258.2h.01M422.4 255.6h.01M417.1 248.3h.01M425.8 246.2h.01M414.8 232.8h.01M418.7 251.1h.01M423.5 243.4h.01M410.4 234.7h.01M416.4 245.1h.01M419.1 250.2h.01M421.8 257.8h.01M418.6 228.7h.01M413.1 254.6h.01M411.0 234.9h.01M412.1 248.5h.01M413.2 241.8h.01M408.6 260.9h.01M421.5 236.1h.01M401.3 247.8h.01M411.7 249.0h.01M412.7 248.6h.01M418.1 229.7h.01M415.8 235.4h.01M416.7 250.6h.01M414.8 253.5h.01M420.4 260.2h.01M405.9 249.0h.01M422.0 250.4h.01M414.5 252.5h.01M419.5 263.5h.01M424.1 226.8h.01M415.1 256.6h.01M412.9 248.2h.01M417.6 233.7h.01M402.7 263.9h.01M407.8 242.3h.01M418.8 252.0h.01M412.7 251.4h.01M425.6 256.8h.01M410.8 245.6h.01M414.1 248.2h.01M418.7 245.3h.01M419.6 242.3h.01M416.4 269.0h.01M426.6 239.0h.01M403.7 237.2h.01M423.3 240.4h.01M416.4 246.3h.01M421.1 244.3h.01M413.1 235.8h.01M415.6 246.2h.01M416.9 250.4h.01M412.4 260.7h.01M415.8 262.7h.01M408.7 239.9h.01M408.5 226.3h.01M410.7 243.0h.01M409.8 255.0h.01M420.0 241.3h.01M419.4 239.8h.01M416.3 235.3h.01M409.5 246.8h.01M407.4 241.1h.01M426.1 258.0h.01M417.3 264.3h.01M417.6 255.3h.01M418.2 246.3h.01M409.0 224.1h.01M412.9 248.2h.01M415.6 240.1h.01M419.7 250.4h.01M421.3 241.9h.01M424.5 245.7h.01M425.7 234.3h.01M427.2 257.7h.01M413.9 243.8h.01M415.9 258.6h.01M415.6 225.2h.01M416.3 256.6h.01M415.3 251.8h.01M416.3 231.9h.01M422.1 241.7h.01M426.6 245.6h.01M418.0 243.7h.01M411.6 246.2h.01M415.8 246.3h.01M411.3 226.6h.01M416.1 234.9h.01M420.9 259.1h.01M423.7 245.0h.01M414.0 241.3h.01M417.8 240.5h.01M419.5 248.0h.01M417.8 241.1h.01M415.3 249.5h.01M408.0 250.3h.01M425.4 249.2h.01M415.0 237.9h.01M416.3 231.2h.01M419.1 238.2h.01M411.6 230.6h.01M419.1 253.8h.01M416.7 248.5h.01M421.1 261.8h.01M415.7 266.0h.01M419.2 266.4h.01M412.4 267.0h.01M416.8 263.7h.01M415.8 260.8h.01M423.4 262.9h.01M424.4 263.1h.01M425.6 264.5h.01M414.7 268.3h.01M421.7 261.9h.01M415.7 263.6h.01M414.4 266.0h.01M421.3 262.6h.01M414.6 269.2h.01M427.5 263.0h.01M419.9 263.7h.01M415.0 270.4h.01M415.3 265.7h.01M408.6 262.8h.01M419.3 266.1h.01M417.3 261.7h.01M422.7 262.4h.01M411.0 268.1h.01M415.3 260.0h.01M421.5 266.0h.01M425.5 261.6h.01M418.0 266.4h.01M422.6 262.5h.01M424.6 267.1h.01M424.2 267.2h.01M421.8 266.7h.01M407.2 263.7h.01M424.6 266.4h.01M419.6 264.0h.01M420.2 260.9h.01M420.8 266.3h.01M412.0 266.5h.01M416.3 264.5h.01M418.3 262.1h.01M410.0 256.8h.01M417.1 266.1h.01M419.3 265.5h.01M417.2 264.8h.01M418.4 264.7h.01M413.5 269.9h.01M420.7 261.7h.01M421.3 266.4h.01M420.5 265.0h.01M419.5 261.7h.01M410.6 269.2h.01M417.8 261.3h.01M414.5 256.6h.01M414.5 269.5h.01M419.9 262.0h.01M416.7 267.8h.01M422.0 268.6h.01M423.2 269.0h.01M413.1 264.8h.01M407.7 264.7h.01M424.4 269.9h.01M415.9 269.5h.01M423.6 266.2h.01M424.1 266.2h.01M425.9 266.1h.01M422.6 265.4h.01M418.1 268.2h.01M414.8 267.8h.01M410.6 265.0h.01M411.5 267.6h.01M418.2 267.1h.01M417.4 267.5h.01M414.1 269.4h.01M410.5 269.5h.01M419.2 262.6h.01M427.1 266.6h.01M416.5 264.7h.01M419.5 268.4h.01M422.6 262.4h.01M410.1 261.8h.01M426.2 265.8h.01M408.6 260.0h.01M421.3 264.5h.01M422.3 266.3h.01M420.8 265.8h.01M409.0 269.0h.01M423.3 268.1h.01M417.3 265.3h.01M414.6 263.8h.01M420.2 263.9h.01M424.6 264.3h.01M424.5 263.9h.01M410.6 268.9h.01M415.7 265.2h.01M417.5 267.1h.01M426.4 267.3h.01M414.2 263.7h.01M421.6 268.8h.01M413.2 261.1h.01M415.0 266.4h.01M418.2 268.5h.01M416.7 262.6h.01M416.8 261.8h.01M419.1 267.9h.01M418.3 264.2h.01M425.7 261.4h.01M413.6 267.2h.01M417.9 260.3h.01M419.1 264.7h.01M414.3 266.6h.01M415.4 263.0h.01M415.9 263.1h.01M430.7 263.7h.01M420.4 265.6h.01M413.5 267.6h.01M417.0 267.8h.01M408.1 262.9h.01M404.5 265.2h.01M419.2 260.6h.01M412.7 268.2h.01M414.1 265.4h.01M423.3 265.1h.01M424.5 264.8h.01M419.0 264.5h.01M417.3 264.6h.01M417.1 264.4h.01M420.6 263.6h.01M421.5 264.4h.01M418.4 262.6h.01M420.1 263.4h.01M414.2 269.7h.01M414.5 266.7h.01M419.7 266.5h.01M424.6 267.7h.01M408.4 264.6h.01M419.7 261.7h.01M414.8 264.2h.01M410.8 263.1h.01M419.2 267.4h.01M413.5 266.9h.01M419.8 271.5h.01M423.8 261.6h.01M430.8 263.6h.01M412.5 263.1h.01M418.2 262.7h.01M412.8 267.5h.01M411.8 265.4h.01M406.6 263.5h.01M418.6 265.1h.01M422.3 270.5h.01M419.4 265.4h.01M426.1 268.6h.01M420.3 266.4h.01M406.7 261.5h.01M418.1 268.3h.01M408.7 266.2h.01M417.5 267.8h.01M420.9 265.2h.01M416.9 262.3h.01M426.3 265.5h.01M419.2 268.2h.01M418.7 263.8h.01M422.7 266.3h.01M420.7 266.1h.01M407.7 264.6h.01M416.2 269.0h.01M418.8 268.4h.01M406.6 266.2h.01M409.3 262.8h.01M414.8 266.4h.01M415.5 258.4h.01M412.3 263.2h.01M423.8 266.9h.01M414.7 268.1h.01M429.6 269.2h.01M413.9 259.8h.01M415.9 268.9h.01M409.6 268.1h.01M422.0 261.7h.01M418.9 262.7h.01M411.9 265.5h.01M408.2 267.5h.01M426.7 266.7h.01M420.2 266.5h.01M418.1 264.8h.01M421.7 265.9h.01M425.2 265.2h.01M419.6 268.3h.01M419.8 264.5h.01M418.9 264.9h.01M421.7 268.1h.01M413.7 269.9h.01M420.9 266.5h.01M420.4 271.7h.01M411.1 269.8h.01M414.1 265.3h.01M411.7 263.9h.01M421.5 262.8h.01M405.9 263.0h.01M405.4 259.5h.01M420.3 263.2h.01M420.8 265.1h.01M415.4 269.0h.01M422.6 257.0h.01M418.9 262.7h.01M418.8 271.4h.01M426.3 262.8h.01M411.9 264.9h.01M419.9 269.6h.01M415.6 264.4h.01M422.5 267.1h.01M417.5 264.9h.01M421.0 262.2h.01M425.8 265.2h.01M422.5 266.4h.01M405.4 262.3h.01M416.4 262.2h.01M417.5 270.8h.01M411.3 267.7h.01M405.0 262.2h.01M410.5 267.4h.01M422.2 259.7h.01M411.7 260.7h.01M411.5 261.5h.01M417.7 260.9h.01M418.7 259.5h.01M424.1 267.3h.01M424.3 269.6h.01M410.4 263.4h.01M414.8 264.7h.01M413.3 264.4h.01M419.7 259.2h.01M408.3 263.2h.01M427.1 259.6h.01M420.1 264.5h.01M423.7 260.8h.01M419.7 270.5h.01M418.9 262.3h.01M403.9 262.4h.01M425.8 266.8h.01M425.5 266.0h.01M422.7 268.9h.01M411.9 266.2h.01M424.6 262.7h.01M419.8 267.3h.01M399.9 261.7h.01M419.0 269.5h.01M413.8 269.3h.01M425.2 263.0h.01M423.7 263.2h.01M413.7 262.2h.01M428.9 266.0h.01M417.8 265.6h.01M414.5 267.9h.01M409.1 258.1h.01M424.2 263.2h.01M416.5 265.7h.01M421.4 260.5h.01M409.4 268.2h.01M414.7 264.9h.01M416.5 264.3h.01M429.8 254.4h.01M435.5 258.8h.01M445.8 249.5h.01M425.7 254.6h.01M455.3 252.1h.01M450.3 244.7h.01M442.6 248.6h.01M433.1 262.7h.01M454.4 253.3h.01M441.2 248.3h.01M448.9 254.1h.01M441.1 244.7h.01M440.9 260.9h.01M449.0 243.8h.01M449.9 255.2h.01M453.6 248.3h.01M429.2 255.7h.01M447.4 248.1h.01M445.2 251.0h.01M449.2 249.2h.01M442.4 253.5h.01M446.5 255.7h.01M446.0 244.1h.01M461.7 247.2h.01M439.1 253.9h.01M438.4 251.9h.01M438.3 252.1h.01M440.3 251.3h.01M436.8 255.1h.01M436.5 251.9h.01M432.2 253.1h.01M437.2 254.8h.01M439.3 250.1h.01M440.8 253.1h.01M431.7 255.5h.01M440.6 254.8h.01M437.6 249.2h.01M447.4 253.4h.01M447.9 245.6h.01M433.8 252.6h.01M437.2 253.0h.01M449.1 245.1h.01M447.4 242.2h.01M460.8 240.7h.01M421.6 255.0h.01M455.3 250.5h.01M461.2 247.1h.01M437.0 250.9h.01M446.3 250.1h.01M437.5 254.0h.01M456.2 254.3h.01M430.6 262.9h.01M449.0 258.3h.01M433.8 257.3h.01M448.9 247.8h.01M452.6 261.4h.01M450.7 245.9h.01M445.7 252.0h.01M437.1 255.6h.01M427.8 260.2h.01M448.2 249.6h.01M430.7 256.7h.01M449.0 249.2h.01M445.5 255.0h.01M448.3 246.8h.01M438.3 258.2h.01M439.4 250.5h.01M438.4 252.6h.01M444.9 248.6h.01M456.7 249.2h.01M434.9 255.7h.01M450.2 250.8h.01M432.2 248.4h.01M433.3 257.8h.01M456.5 243.5h.01M438.9 248.3h.01M421.7 257.9h.01M456.4 250.8h.01M427.8 250.4h.01M448.9 246.5h.01M442.3 250.3h.01M445.8 255.3h.01M446.0 250.4h.01M427.0 255.1h.01M427.1 257.2h.01M435.5 252.4h.01M427.6 260.1h.01M447.4 246.8h.01M451.2 243.6h.01M448.2 255.4h.01M440.3 253.5h.01M444.7 257.8h.01M442.6 251.6h.01M441.9 246.9h.01M437.9 249.2h.01M425.8 245.6h.01M428.7 258.1h.01M426.0 262.7h.01M442.9 255.8h.01M441.2 250.1h.01M442.0 248.4h.01M451.6 249.0h.01M456.2 251.3h.01M447.5 255.4h.01M439.1 255.0h.01M453.7 247.9h.01M439.9 252.1h.01M430.9 266.0h.01M452.2 246.4h.01M437.2 254.9h.01M452.8 251.1h.01M443.8 250.9h.01M433.6 253.3h.01M434.1 257.3h.01M438.7 252.5h.01M427.4 253.1h.01M441.1 256.5h.01M434.8 252.3h.01M439.4 252.7h.01M452.8 255.6h.01M448.6 250.7h.01M452.6 249.7h.01M437.6 247.6h.01M417.6 257.1h.01M429.2 252.7h.01M433.8 254.6h.01M454.8 253.9h.01M435.2 259.8h.01M428.7 255.9h.01M435.9 251.4h.01M431.1 257.1h.01M426.4 259.0h.01M451.2 245.8h.01M433.8 256.1h.01M451.0 256.8h.01M434.6 256.7h.01M447.7 256.6h.01M439.6 252.1h.01M435.1 252.1h.01M442.1 241.9h.01M452.6 250.8h.01M450.5 248.5h.01M432.4 254.4h.01M449.3 254.2h.01M449.0 247.4h.01M439.3 250.7h.01M443.8 248.4h.01M431.4 253.3h.01M438.8 246.0h.01M427.9 255.4h.01M453.2 248.4h.01M432.7 248.6h.01M433.3 259.4h.01M449.1 245.8h.01M449.1 244.8h.01M431.5 259.6h.01M437.4 257.4h.01M453.7 249.6h.01M452.1 256.2h.01M449.0 255.7h.01M444.2 248.8h.01M446.5 255.0h.01M432.9 256.0h.01M452.8 254.3h.01M436.2 252.3h.01M444.2 261.1h.01M433.4 248.8h.01M447.8 244.4h.01M443.1 249.2h.01M450.4 247.5h.01M449.1 246.7h.01M448.6 252.4h.01M441.8 258.2h.01M445.3 249.7h.01M440.0 246.3h.01M445.5 249.9h.01M448.5 248.6h.01M445.9 250.3h.01M446.3 249.7h.01M437.2 250.2h.01M429.6 252.2h.01M455.9 252.3h.01M444.5 250.5h.01M437.8 249.7h.01M453.3 249.3h.01M419.3 258.2h.01M450.8 247.6h.01M448.5 250.3h.01M428.2 257.0h.01M442.9 249.2h.01M446.6 255.8h.01M451.5 253.1h.01M429.6 255.7h.01M444.4 250.4h.01M431.3 256.1h.01M451.3 250.4h.01M436.2 248.9h.01M440.9 253.5h.01M443.3 249.3h.01M439.2 256.3h.01M433.9 255.7h.01M439.5 254.5h.01M438.7 249.3h.01M451.4 244.2h.01M424.9 258.8h.01M434.5 254.0h.01M427.0 260.4h.01M462.6 248.2h.01M441.5 259.9h.01M435.3 248.8h.01M459.0 252.7h.01M441.2 251.3h.01M436.2 257.4h.01M423.5 251.6h.01M450.2 253.1h.01M438.0 253.6h.01M439.8 250.7h.01M434.3 255.0h.01M453.9 253.8h.01M423.9 256.6h.01M438.5 255.1h.01M446.7 253.2h.01M444.6 244.4h.01M438.4 253.8h.01M436.1 260.1h.01M425.7 257.1h.01M432.5 256.5h.01M440.0 255.0h.01M433.2 255.1h.01M435.2 259.9h.01M434.4 250.1h.01M436.1 258.4h.01M455.3 246.1h.01M437.0 259.4h.01M436.4 252.2h.01M457.9 254.2h.01M458.2 241.2h.01M443.2 247.7h.01M439.2 254.8h.01M449.4 243.0h.01M456.3 249.3h.01M437.2 255.7h.01M436.5 251.5h.01M445.1 250.5h.01M451.9 243.1h.01M446.2 244.3h.01M442.8 250.7h.01M448.7 250.0h.01M446.7 251.1h.01M432.5 251.4h.01M443.0 253.4h.01M437.6 260.8h.01M432.4 254.5h.01M415.0 254.1h.01M430.9 255.9h.01M453.4 238.5h.01M443.8 255.8h.01M433.9 251.4h.01M452.0 247.0h.01M441.6 252.5h.01M435.1 257.9h.01M439.8 250.3h.01M437.5 255.5h.01M450.6 248.0h.01M442.0 249.7h.01M425.1 255.5h.01M439.7 250.2h.01M446.5 251.6h.01M452.9 254.5h.01M448.2 250.2h.01M448.5 252.1h.01M444.6 251.3h.01M442.0 255.1h.01M449.8 254.9h.01M439.1 253.2h.01M447.0 254.3h.01M437.2 253.4h.01M427.0 258.8h.01M448.0 247.4h.01M436.5 259.8h.01M434.3 258.8h.01M432.7 255.5h.01M452.1 241.5h.01M436.9 258.6h.01M426.0 256.8h.01M435.2 250.4h.01M448.8 246.8h.01M438.6 249.2h.01M435.5 253.4h.01M437.1 254.4h.01M437.9 253.6h.01M438.0 250.9h.01M442.3 245.7h.01M451.3 246.4h.01M461.3 243.7h.01M447.2 248.8h.01M447.5 254.9h.01M429.4 253.9h.01M437.5 245.3h.01M453.7 246.4h.01M443.1 246.1h.01M429.5 253.2h.01M443.3 256.7h.01M442.0 254.4h.01M431.8 250.3h.01M442.8 257.0h.01M445.0 249.4h.01M433.7 253.6h.01M432.9 257.3h.01M430.8 250.5h.01M444.8 249.2h.01M442.5 248.8h.01M450.8 247.3h.01M441.3 255.3h.01M444.5 244.8h.01M429.2 252.1h.01M446.0 254.7h.01M446.5 243.5h.01M436.1 254.9h.01M442.8 253.1h.01M447.3 251.4h.01M448.0 247.5h.01M430.8 254.9h.01M449.3 252.7h.01M446.3 248.5h.01M430.6 253.3h.01M446.0 249.2h.01M451.9 254.7h.01M440.4 250.7h.01M442.1 248.1h.01M442.9 244.0h.01M435.6 253.4h.01M445.3 248.9h.01M429.3 254.3h.01M456.5 244.2h.01M430.6 255.2h.01M433.2 253.3h.01M446.2 257.0h.01M437.5 249.8h.01M435.4 254.0h.01M434.4 251.5h.01M456.9 250.1h.01M436.9 239.8h.01M440.8 249.8h.01M440.6 255.8h.01M451.0 246.4h.01M445.4 243.7h.01M437.0 252.8h.01M456.7 250.4h.01M444.6 253.5h.01M435.9 245.6h.01M442.0 251.4h.01M448.8 254.1h.01M441.6 245.8h.01M433.6 252.9h.01M448.2 250.5h.01M428.8 257.1h.01M439.6 250.2h.01M436.1 252.3h.01M449.8 249.6h.01M435.3 254.7h.01M437.5 252.5h.01M445.5 250.5h.01M445.8 251.5h.01M444.9 253.3h.01M451.7 253.0h.01M436.7 249.5h.01M429.0 257.5h.01M452.5 250.4h.01M440.3 250.9h.01M448.3 252.6h.01M445.2 252.9h.01M452.1 253.2h.01M428.6 258.5h.01M428.3 248.7h.01M439.4 243.6h.01M446.3 255.9h.01M440.3 251.5h.01M432.2 253.4h.01M436.6 258.0h.01M434.8 250.7h.01M450.6 244.2h.01M441.0 250.5h.01M440.6 249.3h.01M447.1 252.3h.01M442.4 246.0h.01M437.1 252.1h.01M440.4 253.0h.01M425.7 247.6h.01M445.8 253.5h.01M453.8 253.7h.01M428.7 253.0h.01M428.2 264.3h.01M435.8 246.5h.01M454.6 250.6h.01M430.4 249.8h.01M445.4 256.7h.01M436.9 252.5h.01M436.2 249.5h.01M444.8 251.3h.01M445.0 250.7h.01M440.7 256.6h.01M436.9 256.5h.01M436.7 256.3h.01M445.8 249.5h.01M461.5 247.3h.01M450.9 244.7h.01M467.1 245.8h.01M448.5 248.2h.01M438.1 255.1h.01M443.5 256.2h.01M452.2 250.7h.01M454.2 250.5h.01M449.5 248.7h.01M441.9 251.4h.01M442.1 254.1h.01M440.1 258.3h.01M446.6 248.4h.01M442.1 260.0h.01M445.4 245.6h.01M433.0 239.5h.01M435.7 237.8h.01M437.9 247.0h.01M420.0 233.2h.01M427.2 248.0h.01M451.4 238.3h.01M422.1 254.3h.01M436.5 245.8h.01M422.4 247.1h.01M448.5 243.3h.01M431.9 245.4h.01M438.2 251.4h.01M454.3 251.7h.01M437.8 250.9h.01M448.7 249.1h.01M440.3 231.0h.01M434.8 243.2h.01M461.8 246.0h.01M441.6 234.8h.01M446.9 247.6h.01M438.3 240.4h.01M444.9 250.6h.01M425.1 241.1h.01M444.2 233.8h.01M432.0 244.7h.01M455.1 245.5h.01M454.8 241.6h.01M430.8 244.5h.01M449.6 245.4h.01M438.2 251.2h.01M438.5 246.2h.01M459.1 247.6h.01M429.2 250.0h.01M436.4 249.2h.01M440.1 239.3h.01M437.2 241.9h.01M431.5 241.6h.01M424.7 241.7h.01M430.8 249.2h.01M430.3 245.7h.01M443.4 244.1h.01M445.2 243.6h.01M427.3 230.9h.01M441.3 250.2h.01M448.8 229.3h.01M430.1 245.4h.01M427.7 246.1h.01M439.9 240.9h.01M426.4 239.0h.01M446.2 233.9h.01M435.1 243.7h.01M449.0 242.5h.01M429.4 246.1h.01M430.8 251.6h.01M438.5 230.9h.01M451.8 246.3h.01M435.1 240.3h.01M437.9 244.8h.01M429.7 235.7h.01M412.7 238.9h.01M453.8 248.0h.01M438.9 229.6h.01M432.0 239.3h.01M446.2 243.5h.01M442.0 243.4h.01M438.6 241.4h.01M427.9 238.1h.01M441.2 237.9h.01M447.8 232.0h.01M447.9 240.4h.01M411.8 230.3h.01M427.7 235.7h.01M442.6 252.3h.01M429.9 231.6h.01M427.5 249.4h.01M434.9 250.3h.01M434.2 245.6h.01M439.8 249.0h.01M449.9 245.8h.01M437.1 248.5h.01M442.3 248.9h.01M445.2 253.8h.01M453.9 241.3h.01M425.9 238.2h.01M468.8 231.3h.01M436.1 243.8h.01M432.1 228.4h.01M443.8 249.8h.01M454.0 242.6h.01M450.1 244.7h.01M417.6 242.1h.01M431.4 242.3h.01M441.0 244.6h.01M446.8 252.1h.01M457.4 245.6h.01M434.5 241.1h.01M461.3 236.5h.01M456.4 239.1h.01M439.5 254.0h.01M438.0 234.3h.01M419.0 235.2h.01M440.2 235.9h.01M441.1 246.1h.01M465.8 240.7h.01M436.3 234.8h.01M417.9 230.5h.01M449.7 239.7h.01M446.5 230.9h.01M462.7 240.4h.01M445.3 239.7h.01M438.8 248.3h.01M408.3 241.6h.01M420.5 244.8h.01M439.6 229.6h.01M416.8 239.8h.01M426.5 236.0h.01M436.4 251.6h.01M427.7 238.5h.01M416.7 237.2h.01M443.9 246.1h.01M433.3 227.2h.01M439.5 242.3h.01M440.0 243.3h.01M433.0 238.4h.01M439.5 225.9h.01M413.0 225.9h.01M419.4 229.2h.01M432.6 232.2h.01M426.4 225.5h.01M441.9 230.2h.01M436.4 223.3h.01M430.7 236.3h.01M418.2 247.9h.01M426.9 253.1h.01M430.5 225.2h.01M426.1 237.8h.01M439.5 226.9h.01M431.5 242.7h.01M439.9 225.9h.01M419.5 232.2h.01M424.5 238.7h.01M439.9 229.9h.01M437.2 224.0h.01M423.9 230.5h.01M414.6 219.4h.01M441.8 228.4h.01M425.1 248.8h.01M422.3 240.4h.01M426.6 249.1h.01M438.7 237.2h.01M426.5 238.8h.01M440.7 236.3h.01M432.3 238.7h.01M437.2 234.3h.01M429.1 216.8h.01M417.5 242.3h.01M436.3 243.8h.01M412.1 227.5h.01M430.1 247.6h.01M416.3 233.0h.01M412.4 221.9h.01M432.9 241.3h.01M397.6 239.3h.01M428.1 224.5h.01M418.6 230.6h.01M425.3 232.9h.01M425.8 242.0h.01M434.3 223.7h.01M428.6 219.4h.01M417.4 248.5h.01M413.0 224.6h.01M448.2 235.2h.01M426.8 230.7h.01M431.5 250.9h.01M435.1 229.8h.01M430.9 235.0h.01M427.5 248.1h.01M435.4 240.4h.01M428.9 233.6h.01M438.9 254.2h.01M426.4 243.7h.01M431.1 239.5h.01M435.1 240.4h.01M434.3 236.7h.01M427.3 237.7h.01M418.6 231.2h.01M443.4 241.9h.01M406.0 237.6h.01M427.6 218.2h.01M433.3 240.9h.01M411.7 231.4h.01M419.3 226.2h.01M443.5 231.0h.01M435.3 227.1h.01M423.6 234.0h.01M434.9 239.2h.01M395.4 231.9h.01M432.3 216.8h.01M411.8 219.8h.01M410.9 218.1h.01M432.8 241.8h.01M432.1 256.4h.01M405.6 269.7h.01M419.1 241.9h.01M423.1 266.2h.01M417.7 218.1h.01M464.6 200.8h.01M414.0 214.1h.01M411.5 245.1h.01M392.9 241.5h.01M449.0 246.7h.01M388.2 247.3h.01M426.6 221.9h.01M446.6 223.5h.01M446.4 221.1h.01M389.2 199.9h.01M445.3 198.6h.01M459.1 235.6h.01M453.5 256.6h.01M401.8 218.3h.01M420.4 249.0h.01M394.3 233.8h.01" stroke="#000" stroke-width="0.55" stroke-linecap="square" fill="none" opacity="0.9"/>
<path d="M403.70000000000005,250.70000000000002 C407.90000000000003,254.4 408.50000000000006,264.4 407.40000000000003,269.4 C404.90000000000003,271.4 400.90000000000003,271.4 399.70000000000005,268.4 C398.90000000000003,261.4 399.90000000000003,254.4 403.70000000000005,250.70000000000002Z" fill="#b0b0b0" stroke="#222" stroke-width="0.8"/>
<path d="M403.70000000000005,254.4 C405.90000000000003,257.4 406.40000000000003,264.4 405.40000000000003,267.9 C403.90000000000003,268.9 401.90000000000003,268.9 401.40000000000003,266.9 C400.90000000000003,261.4 401.90000000000003,256.4 403.70000000000005,254.4Z" fill="#c8c8c8" stroke="#555" stroke-width="0.4"/>
<ellipse cx="403.70000000000005" cy="264.4" rx="1" ry="2.4" fill="#eee" stroke="#777" stroke-width="0.3"/>
<path d="M424.50000000000006,269.9 C429.90000000000003,262.4 440.90000000000003,256.4 448.40000000000003,255.70000000000002 C449.90000000000003,259.4 448.40000000000003,265.4 442.90000000000003,268.20000000000005 C436.90000000000003,270.4 428.90000000000003,270.9 424.50000000000006,269.9Z" fill="#c4c4c4" stroke="#222" stroke-width="0.8"/>
<path d="M428.90000000000003,268.20000000000005 C433.90000000000003,263.4 440.90000000000003,259.4 445.90000000000003,259.0 C446.40000000000003,262.4 441.90000000000003,265.9 428.90000000000003,268.20000000000005Z" fill="#e0e0e0" stroke="#666" stroke-width="0.4"/>
<path d="M433.90000000000003,266.4 C436.90000000000003,264.4 440.90000000000003,262.4 443.90000000000003,261.9" fill="none" stroke="#888" stroke-width="0.35"/>
</g>
<polygon points="422.5,271.0 423.8,258.3 445.4,181.0 462.9,179.4 472.3,194.5 465.6,260.2 455.6,273.1 426.0,273.4" fill="none" stroke="#333" stroke-width="0.8"/>
<rect x="380.80" y="178.80" width="95.60" height="94.80" fill="none" stroke="#111" stroke-width="1.1" />
<path d="M378.6 180.5h2.2M378.6 183.9h2.2M378.6 187.3h2.2M378.6 190.7h2.2M378.6 194.0h2.2M378.6 197.4h2.2M378.6 200.8h2.2M378.6 204.2h2.2M378.6 207.6h2.2M378.6 211.0h2.2M378.6 214.4h2.2M378.6 217.7h2.2M378.6 221.1h2.2M378.6 224.5h2.2M378.6 227.9h2.2M378.6 231.3h2.2M378.6 234.7h2.2M378.6 238.1h2.2M378.6 241.4h2.2M378.6 244.8h2.2M378.6 248.2h2.2M378.6 251.6h2.2M378.6 255.0h2.2M378.6 258.4h2.2M378.6 261.8h2.2M378.6 265.1h2.2M378.6 268.5h2.2M378.6 271.9h2.2" stroke="#222" stroke-width="0.65"/>
<path d="M382.4 273.6v2.2M385.5 273.6v2.2M388.6 273.6v2.2M391.7 273.6v2.2M394.8 273.6v2.2M397.9 273.6v2.2M401.0 273.6v2.2M404.1 273.6v2.2M407.2 273.6v2.2M410.3 273.6v2.2M413.4 273.6v2.2M416.5 273.6v2.2M419.6 273.6v2.2M422.7 273.6v2.2M425.8 273.6v2.2M428.9 273.6v2.2M432.0 273.6v2.2M435.1 273.6v2.2M438.2 273.6v2.2M441.3 273.6v2.2M444.4 273.6v2.2M447.5 273.6v2.2M450.6 273.6v2.2M453.7 273.6v2.2M456.8 273.6v2.2M459.9 273.6v2.2M463.1 273.6v2.2M466.2 273.6v2.2M469.3 273.6v2.2M472.4 273.6v2.2" stroke="#222" stroke-width="0.65"/>
<text x="426.00" y="193.30" font-size="8.8" text-anchor="middle" font-weight="normal" fill="#111" >67.6</text>
<text x="276.90" y="187.00" font-size="7.6" text-anchor="end" font-weight="normal" fill="#111" >250K</text>
<line x1="278.00" y1="184.20" x2="280.90" y2="184.20" stroke="#222" stroke-width="0.9" />
<text x="276.90" y="204.50" font-size="7.6" text-anchor="end" font-weight="normal" fill="#111" >200K</text>
<line x1="278.00" y1="201.70" x2="280.90" y2="201.70" stroke="#222" stroke-width="0.9" />
<text x="276.90" y="222.60" font-size="7.6" text-anchor="end" font-weight="normal" fill="#111" >150K</text>
<line x1="278.00" y1="219.80" x2="280.90" y2="219.80" stroke="#222" stroke-width="0.9" />
<text x="276.90" y="240.90" font-size="7.6" text-anchor="end" font-weight="normal" fill="#111" >100K</text>
<line x1="278.00" y1="238.10" x2="280.90" y2="238.10" stroke="#222" stroke-width="0.9" />
<text x="276.90" y="259.20" font-size="7.6" text-anchor="end" font-weight="normal" fill="#111" >50K</text>
<line x1="278.00" y1="256.40" x2="280.90" y2="256.40" stroke="#222" stroke-width="0.9" />
<text x="276.90" y="276.40" font-size="7.6" text-anchor="end" font-weight="normal" fill="#111" >0</text>
<line x1="278.00" y1="273.60" x2="280.90" y2="273.60" stroke="#222" stroke-width="0.9" />
<text x="255.00" y="229.00" font-size="9" text-anchor="middle" textLength="17.5" lengthAdjust="spacingAndGlyphs" fill="#111" stroke="#111" stroke-width="0.32" transform="rotate(-90 255.00 229.00)">SSC-A</text>
<text x="300.60" y="286.00" font-size="7.5" text-anchor="middle" font-weight="normal" fill="#111" >0</text>
<text x="322.10" y="286.00" font-size="7.5" text-anchor="middle" fill="#111">10<tspan font-size="5.55" dy="-3.15">3</tspan></text>
<text x="347.70" y="286.00" font-size="7.5" text-anchor="middle" fill="#111">10<tspan font-size="5.55" dy="-3.15">4</tspan></text>
<text x="366.50" y="286.00" font-size="7.5" text-anchor="middle" fill="#111">10<tspan font-size="5.55" dy="-3.15">5</tspan></text>
<text x="400.20" y="286.00" font-size="7.5" text-anchor="middle" font-weight="normal" fill="#111" >0</text>
<text x="421.20" y="286.00" font-size="7.5" text-anchor="middle" fill="#111">10<tspan font-size="5.55" dy="-3.15">3</tspan></text>
<text x="448.00" y="286.00" font-size="7.5" text-anchor="middle" fill="#111">10<tspan font-size="5.55" dy="-3.15">4</tspan></text>
<text x="467.50" y="286.00" font-size="7.5" text-anchor="middle" fill="#111">10<tspan font-size="5.55" dy="-3.15">5</tspan></text>
<text x="293.20" y="295.80" font-size="9.2" text-anchor="middle" font-weight="normal" fill="#111" >B220</text>
<line x1="308.00" y1="292.80" x2="458.50" y2="292.80" stroke="#111" stroke-width="0.9" />
<polygon points="461.50,292.80 457.50,291.10 457.50,294.50" fill="#111"/>
<rect x="60.80" y="355.10" width="17.70" height="61.00" fill="#e28496" stroke="#d46b80" stroke-width="0.5" />
<rect x="89.40" y="381.10" width="17.60" height="35.00" fill="#87a5c3" stroke="#6f8fb0" stroke-width="0.5" />
<line x1="69.50" y1="354.70" x2="69.50" y2="349.40" stroke="#333" stroke-width="1.1" />
<line x1="66.00" y1="349.40" x2="73.00" y2="349.40" stroke="#333" stroke-width="1.1" />
<line x1="98.10" y1="380.70" x2="98.10" y2="376.50" stroke="#333" stroke-width="1.1" />
<line x1="94.60" y1="376.50" x2="101.60" y2="376.50" stroke="#333" stroke-width="1.1" />
<line x1="54.30" y1="324.50" x2="54.30" y2="416.60" stroke="#111" stroke-width="1.1" />
<line x1="53.80" y1="416.10" x2="112.70" y2="416.10" stroke="#111" stroke-width="1.1" />
<line x1="51.70" y1="416.10" x2="54.30" y2="416.10" stroke="#111" stroke-width="0.9" />
<text x="49.10" y="418.70" font-size="7.3" text-anchor="end" font-weight="normal" fill="#111" >0</text>
<line x1="51.70" y1="394.50" x2="54.30" y2="394.50" stroke="#111" stroke-width="0.9" />
<text x="49.10" y="397.10" font-size="7.3" text-anchor="end" font-weight="normal" fill="#111" >10</text>
<line x1="51.70" y1="372.30" x2="54.30" y2="372.30" stroke="#111" stroke-width="0.9" />
<text x="49.10" y="374.90" font-size="7.3" text-anchor="end" font-weight="normal" fill="#111" >20</text>
<line x1="51.70" y1="350.10" x2="54.30" y2="350.10" stroke="#111" stroke-width="0.9" />
<text x="49.10" y="352.70" font-size="7.3" text-anchor="end" font-weight="normal" fill="#111" >30</text>
<line x1="51.70" y1="327.60" x2="54.30" y2="327.60" stroke="#111" stroke-width="0.9" />
<text x="49.10" y="330.20" font-size="7.3" text-anchor="end" font-weight="normal" fill="#111" >40</text>
<rect x="67.00" y="341.40" width="4.60" height="4.60" fill="#c8102e" stroke="none" stroke-width="1" />
<rect x="71.90" y="344.00" width="4.60" height="4.60" fill="#c8102e" stroke="none" stroke-width="1" />
<rect x="61.70" y="351.80" width="4.60" height="4.60" fill="#c8102e" stroke="none" stroke-width="1" />
<rect x="67.00" y="352.40" width="4.60" height="4.60" fill="#c8102e" stroke="none" stroke-width="1" />
<rect x="67.00" y="370.00" width="4.60" height="4.60" fill="#c8102e" stroke="none" stroke-width="1" />
<polygon points="90.60,370.97 95.80,370.97 93.20,366.03" fill="#1c5590"/>
<polygon points="100.30,377.27 105.50,377.27 102.90,372.33" fill="#1c5590"/>
<polygon points="90.60,388.87 95.80,388.87 93.20,383.93" fill="#1c5590"/>
<polygon points="100.30,388.87 105.50,388.87 102.90,383.93" fill="#1c5590"/>
<polygon points="95.30,393.17 100.50,393.17 97.90,388.23" fill="#1c5590"/>
<text x="82.40" y="319.50" font-size="9" text-anchor="middle" font-weight="normal" fill="#111" >CD4</text>
<text x="96.20" y="353.10" font-size="9.5" text-anchor="middle" fill="#111">**</text>
<text x="34.40" y="373.30" font-size="8.6" text-anchor="middle" transform="rotate(-90 34.40 373.30)" fill="#111" stroke="#111" stroke-width="0.3"><tspan textLength="20" lengthAdjust="spacingAndGlyphs">% CD4</tspan><tspan font-size="5.5" dy="-3">+</tspan></text>
<rect x="187.50" y="355.10" width="17.50" height="61.00" fill="#e28496" stroke="#d46b80" stroke-width="0.5" />
<rect x="216.00" y="381.10" width="17.70" height="35.00" fill="#87a5c3" stroke="#6f8fb0" stroke-width="0.5" />
<line x1="196.10" y1="354.70" x2="196.10" y2="348.40" stroke="#333" stroke-width="1.1" />
<line x1="192.60" y1="348.40" x2="199.60" y2="348.40" stroke="#333" stroke-width="1.1" />
<line x1="224.70" y1="380.70" x2="224.70" y2="374.80" stroke="#333" stroke-width="1.1" />
<line x1="221.20" y1="374.80" x2="228.20" y2="374.80" stroke="#333" stroke-width="1.1" />
<line x1="180.50" y1="324.50" x2="180.50" y2="416.60" stroke="#111" stroke-width="1.1" />
<line x1="180.00" y1="416.10" x2="238.50" y2="416.10" stroke="#111" stroke-width="1.1" />
<line x1="177.90" y1="416.10" x2="180.50" y2="416.10" stroke="#111" stroke-width="0.9" />
<text x="175.30" y="418.70" font-size="7.3" text-anchor="end" font-weight="normal" fill="#111" >0</text>
<line x1="177.90" y1="387.10" x2="180.50" y2="387.10" stroke="#111" stroke-width="0.9" />
<text x="175.30" y="389.70" font-size="7.3" text-anchor="end" font-weight="normal" fill="#111" >5</text>
<line x1="177.90" y1="357.50" x2="180.50" y2="357.50" stroke="#111" stroke-width="0.9" />
<text x="175.30" y="360.10" font-size="7.3" text-anchor="end" font-weight="normal" fill="#111" >10</text>
<line x1="177.90" y1="327.80" x2="180.50" y2="327.80" stroke="#111" stroke-width="0.9" />
<text x="175.30" y="330.40" font-size="7.3" text-anchor="end" font-weight="normal" fill="#111" >15</text>
<rect x="188.00" y="342.30" width="4.60" height="4.60" fill="#c8102e" stroke="none" stroke-width="1" />
<rect x="198.10" y="338.00" width="4.60" height="4.60" fill="#c8102e" stroke="none" stroke-width="1" />
<rect x="188.00" y="352.40" width="4.60" height="4.60" fill="#c8102e" stroke="none" stroke-width="1" />
<rect x="198.10" y="354.10" width="4.60" height="4.60" fill="#c8102e" stroke="none" stroke-width="1" />
<rect x="193.00" y="373.60" width="4.60" height="4.60" fill="#c8102e" stroke="none" stroke-width="1" />
<polygon points="221.70,367.17 226.90,367.17 224.30,362.23" fill="#1c5590"/>
<polygon points="221.70,378.37 226.90,378.37 224.30,373.43" fill="#1c5590"/>
<polygon points="216.40,386.17 221.60,386.17 219.00,381.23" fill="#1c5590"/>
<polygon points="227.00,391.67 232.20,391.67 229.60,386.73" fill="#1c5590"/>
<polygon points="221.70,393.77 226.90,393.77 224.30,388.83" fill="#1c5590"/>
<text x="213.10" y="319.50" font-size="9" text-anchor="middle" font-weight="normal" fill="#111" >CD8</text>
<text x="225.00" y="352.80" font-size="9.5" text-anchor="middle" fill="#111">*</text>
<text x="160.60" y="373.30" font-size="8.6" text-anchor="middle" transform="rotate(-90 160.60 373.30)" fill="#111" stroke="#111" stroke-width="0.3"><tspan textLength="20" lengthAdjust="spacingAndGlyphs">% CD8</tspan><tspan font-size="5.5" dy="-3">+</tspan></text>
<rect x="315.00" y="355.10" width="17.30" height="61.00" fill="#e28496" stroke="#d46b80" stroke-width="0.5" />
<rect x="343.60" y="345.20" width="17.70" height="70.90" fill="#87a5c3" stroke="#6f8fb0" stroke-width="0.5" />
<line x1="323.50" y1="354.70" x2="323.50" y2="351.00" stroke="#333" stroke-width="1.1" />
<line x1="320.00" y1="351.00" x2="327.00" y2="351.00" stroke="#333" stroke-width="1.1" />
<line x1="352.30" y1="344.80" x2="352.30" y2="342.50" stroke="#333" stroke-width="1.1" />
<line x1="348.80" y1="342.50" x2="355.80" y2="342.50" stroke="#333" stroke-width="1.1" />
<line x1="309.10" y1="324.50" x2="309.10" y2="416.60" stroke="#111" stroke-width="1.1" />
<line x1="308.60" y1="416.10" x2="366.90" y2="416.10" stroke="#111" stroke-width="1.1" />
<line x1="306.50" y1="416.10" x2="309.10" y2="416.10" stroke="#111" stroke-width="0.9" />
<text x="303.90" y="418.70" font-size="7.3" text-anchor="end" font-weight="normal" fill="#111" >0</text>
<line x1="306.50" y1="394.50" x2="309.10" y2="394.50" stroke="#111" stroke-width="0.9" />
<text x="303.90" y="397.10" font-size="7.3" text-anchor="end" font-weight="normal" fill="#111" >20</text>
<line x1="306.50" y1="372.30" x2="309.10" y2="372.30" stroke="#111" stroke-width="0.9" />
<text x="303.90" y="374.90" font-size="7.3" text-anchor="end" font-weight="normal" fill="#111" >40</text>
<line x1="306.50" y1="350.10" x2="309.10" y2="350.10" stroke="#111" stroke-width="0.9" />
<text x="303.90" y="352.70" font-size="7.3" text-anchor="end" font-weight="normal" fill="#111" >60</text>
<line x1="306.50" y1="328.30" x2="309.10" y2="328.30" stroke="#111" stroke-width="0.9" />
<text x="303.90" y="330.90" font-size="7.3" text-anchor="end" font-weight="normal" fill="#111" >80</text>
<rect x="315.90" y="351.40" width="4.60" height="4.60" fill="#c8102e" stroke="none" stroke-width="1" />
<rect x="320.60" y="348.80" width="4.60" height="4.60" fill="#c8102e" stroke="none" stroke-width="1" />
<rect x="325.20" y="349.20" width="4.60" height="4.60" fill="#c8102e" stroke="none" stroke-width="1" />
<rect x="323.10" y="354.50" width="4.60" height="4.60" fill="#c8102e" stroke="none" stroke-width="1" />
<rect x="318.50" y="358.10" width="4.60" height="4.60" fill="#c8102e" stroke="none" stroke-width="1" />
<polygon points="344.00,343.87 349.20,343.87 346.60,338.93" fill="#1c5590"/>
<polygon points="354.60,343.87 359.80,343.87 357.20,338.93" fill="#1c5590"/>
<polygon points="348.20,347.67 353.40,347.67 350.80,342.73" fill="#1c5590"/>
<polygon points="350.30,351.87 355.50,351.87 352.90,346.93" fill="#1c5590"/>
<polygon points="349.50,352.77 354.70,352.77 352.10,347.83" fill="#1c5590"/>
<text x="338.80" y="319.50" font-size="9" text-anchor="middle" font-weight="normal" fill="#111" >B cells</text>
<text x="352.50" y="336.10" font-size="9.5" text-anchor="middle" fill="#111">**</text>
<text x="290.20" y="373.30" font-size="8.6" text-anchor="middle" transform="rotate(-90 290.20 373.30)" fill="#111" stroke="#111" stroke-width="0.3"><tspan textLength="22" lengthAdjust="spacingAndGlyphs">% B220</tspan><tspan font-size="5.5" dy="-3">+</tspan></text>
<rect x="34.40" y="618.40" width="17.90" height="50.40" fill="#e28496" stroke="#d46b80" stroke-width="0.5" />
<rect x="61.90" y="609.20" width="17.90" height="59.60" fill="#87a5c3" stroke="#6f8fb0" stroke-width="0.5" />
<line x1="43.20" y1="618.00" x2="43.20" y2="611.80" stroke="#333" stroke-width="1.1" />
<line x1="39.70" y1="611.80" x2="46.70" y2="611.80" stroke="#333" stroke-width="1.1" />
<line x1="70.70" y1="608.80" x2="70.70" y2="604.50" stroke="#333" stroke-width="1.1" />
<line x1="67.20" y1="604.50" x2="74.20" y2="604.50" stroke="#333" stroke-width="1.1" />
<line x1="28.80" y1="580.00" x2="28.80" y2="669.30" stroke="#111" stroke-width="1.1" />
<line x1="28.30" y1="668.80" x2="82.50" y2="668.80" stroke="#111" stroke-width="1.1" />
<line x1="26.20" y1="668.80" x2="28.80" y2="668.80" stroke="#111" stroke-width="0.9" />
<text x="23.60" y="671.40" font-size="7.3" text-anchor="end" font-weight="normal" fill="#111" >0</text>
<line x1="26.20" y1="652.00" x2="28.80" y2="652.00" stroke="#111" stroke-width="0.9" />
<text x="23.60" y="654.60" font-size="7.3" text-anchor="end" font-weight="normal" fill="#111" >2</text>
<line x1="26.20" y1="635.00" x2="28.80" y2="635.00" stroke="#111" stroke-width="0.9" />
<text x="23.60" y="637.60" font-size="7.3" text-anchor="end" font-weight="normal" fill="#111" >4</text>
<line x1="26.20" y1="618.00" x2="28.80" y2="618.00" stroke="#111" stroke-width="0.9" />
<text x="23.60" y="620.60" font-size="7.3" text-anchor="end" font-weight="normal" fill="#111" >6</text>
<line x1="26.20" y1="600.80" x2="28.80" y2="600.80" stroke="#111" stroke-width="0.9" />
<text x="23.60" y="603.40" font-size="7.3" text-anchor="end" font-weight="normal" fill="#111" >8</text>
<line x1="26.20" y1="583.80" x2="28.80" y2="583.80" stroke="#111" stroke-width="0.9" />
<text x="23.60" y="586.40" font-size="7.3" text-anchor="end" font-weight="normal" fill="#111" >10</text>
<rect x="40.70" y="594.00" width="4.60" height="4.60" fill="#c8102e" stroke="none" stroke-width="1" />
<rect x="40.70" y="613.20" width="4.60" height="4.60" fill="#c8102e" stroke="none" stroke-width="1" />
<rect x="35.20" y="617.70" width="4.60" height="4.60" fill="#c8102e" stroke="none" stroke-width="1" />
<rect x="40.70" y="626.50" width="4.60" height="4.60" fill="#c8102e" stroke="none" stroke-width="1" />
<rect x="45.70" y="625.70" width="4.60" height="4.60" fill="#c8102e" stroke="none" stroke-width="1" />
<polygon points="62.90,599.97 68.10,599.97 65.50,595.03" fill="#1c5590"/>
<polygon points="71.90,604.47 77.10,604.47 74.50,599.53" fill="#1c5590"/>
<polygon points="62.90,616.27 68.10,616.27 65.50,611.33" fill="#1c5590"/>
<polygon points="67.40,619.97 72.60,619.97 70.00,615.03" fill="#1c5590"/>
<polygon points="72.40,619.97 77.60,619.97 75.00,615.03" fill="#1c5590"/>
<text x="57.00" y="578.50" font-size="9" text-anchor="middle" font-weight="normal" fill="#111" >CD4</text>
<text x="69.50" y="590.20" font-size="9.5" text-anchor="middle" fill="#111">*</text>
<text x="12.80" y="627.40" font-size="8.6" text-anchor="middle" transform="rotate(-90 12.80 627.40)" fill="#111" stroke="#111" stroke-width="0.3"><tspan textLength="24" lengthAdjust="spacingAndGlyphs">% Foxp3</tspan><tspan font-size="5.5" dy="-3">+</tspan></text>
<rect x="147.60" y="613.40" width="17.70" height="55.40" fill="#e28496" stroke="#d46b80" stroke-width="0.5" />
<rect x="175.60" y="648.40" width="17.20" height="20.40" fill="#87a5c3" stroke="#6f8fb0" stroke-width="0.5" />
<line x1="156.30" y1="613.00" x2="156.30" y2="605.50" stroke="#333" stroke-width="1.1" />
<line x1="152.80" y1="605.50" x2="159.80" y2="605.50" stroke="#333" stroke-width="1.1" />
<line x1="184.00" y1="648.00" x2="184.00" y2="644.50" stroke="#333" stroke-width="1.1" />
<line x1="180.50" y1="644.50" x2="187.50" y2="644.50" stroke="#333" stroke-width="1.1" />
<line x1="142.00" y1="577.50" x2="142.00" y2="669.30" stroke="#111" stroke-width="1.1" />
<line x1="141.50" y1="668.80" x2="197.50" y2="668.80" stroke="#111" stroke-width="1.1" />
<line x1="139.40" y1="668.80" x2="142.00" y2="668.80" stroke="#111" stroke-width="0.9" />
<text x="136.80" y="671.40" font-size="7.3" text-anchor="end" font-weight="normal" fill="#111" >0</text>
<line x1="139.40" y1="647.00" x2="142.00" y2="647.00" stroke="#111" stroke-width="0.9" />
<text x="136.80" y="649.60" font-size="7.3" text-anchor="end" font-weight="normal" fill="#111" >2</text>
<line x1="139.40" y1="625.00" x2="142.00" y2="625.00" stroke="#111" stroke-width="0.9" />
<text x="136.80" y="627.60" font-size="7.3" text-anchor="end" font-weight="normal" fill="#111" >4</text>
<line x1="139.40" y1="603.00" x2="142.00" y2="603.00" stroke="#111" stroke-width="0.9" />
<text x="136.80" y="605.60" font-size="7.3" text-anchor="end" font-weight="normal" fill="#111" >6</text>
<line x1="139.40" y1="581.30" x2="142.00" y2="581.30" stroke="#111" stroke-width="0.9" />
<text x="136.80" y="583.90" font-size="7.3" text-anchor="end" font-weight="normal" fill="#111" >8</text>
<rect x="154.00" y="589.00" width="4.60" height="4.60" fill="#c8102e" stroke="none" stroke-width="1" />
<rect x="149.70" y="607.20" width="4.60" height="4.60" fill="#c8102e" stroke="none" stroke-width="1" />
<rect x="158.50" y="609.00" width="4.60" height="4.60" fill="#c8102e" stroke="none" stroke-width="1" />
<rect x="154.00" y="637.70" width="4.60" height="4.60" fill="#c8102e" stroke="none" stroke-width="1" />
<polygon points="181.90,645.47 187.10,645.47 184.50,640.53" fill="#1c5590"/>
<polygon points="176.90,650.47 182.10,650.47 179.50,645.53" fill="#1c5590"/>
<polygon points="186.90,651.97 192.10,651.97 189.50,647.03" fill="#1c5590"/>
<polygon points="181.90,656.27 187.10,656.27 184.50,651.33" fill="#1c5590"/>
<text x="170.00" y="578.50" font-size="9" text-anchor="middle" font-weight="normal" fill="#111" >CD4</text>
<text x="183.80" y="627.20" font-size="9.5" text-anchor="middle" fill="#111">*</text>
<text x="126.50" y="626.15" font-size="8.6" text-anchor="middle" transform="rotate(-90 126.50 626.15)" fill="#111" stroke="#111" stroke-width="0.3"><tspan textLength="22" lengthAdjust="spacingAndGlyphs">% IL-17</tspan><tspan font-size="5.5" dy="-3">+</tspan></text>
<rect x="266.40" y="610.40" width="17.70" height="58.40" fill="#e28496" stroke="#d46b80" stroke-width="0.5" />
<rect x="293.90" y="634.20" width="17.70" height="34.60" fill="#87a5c3" stroke="#6f8fb0" stroke-width="0.5" />
<line x1="275.10" y1="610.00" x2="275.10" y2="603.80" stroke="#333" stroke-width="1.1" />
<line x1="271.60" y1="603.80" x2="278.60" y2="603.80" stroke="#333" stroke-width="1.1" />
<line x1="302.60" y1="633.80" x2="302.60" y2="629.50" stroke="#333" stroke-width="1.1" />
<line x1="299.10" y1="629.50" x2="306.10" y2="629.50" stroke="#333" stroke-width="1.1" />
<line x1="260.80" y1="580.50" x2="260.80" y2="669.30" stroke="#111" stroke-width="1.1" />
<line x1="260.30" y1="668.80" x2="315.50" y2="668.80" stroke="#111" stroke-width="1.1" />
<line x1="258.20" y1="668.80" x2="260.80" y2="668.80" stroke="#111" stroke-width="0.9" />
<text x="255.60" y="671.40" font-size="7.3" text-anchor="end" font-weight="normal" fill="#111" >0</text>
<line x1="258.20" y1="648.00" x2="260.80" y2="648.00" stroke="#111" stroke-width="0.9" />
<text x="255.60" y="650.60" font-size="7.3" text-anchor="end" font-weight="normal" fill="#111" >20</text>
<line x1="258.20" y1="626.30" x2="260.80" y2="626.30" stroke="#111" stroke-width="0.9" />
<text x="255.60" y="628.90" font-size="7.3" text-anchor="end" font-weight="normal" fill="#111" >40</text>
<line x1="258.20" y1="605.00" x2="260.80" y2="605.00" stroke="#111" stroke-width="0.9" />
<text x="255.60" y="607.60" font-size="7.3" text-anchor="end" font-weight="normal" fill="#111" >60</text>
<line x1="258.20" y1="583.80" x2="260.80" y2="583.80" stroke="#111" stroke-width="0.9" />
<text x="255.60" y="586.40" font-size="7.3" text-anchor="end" font-weight="normal" fill="#111" >80</text>
<rect x="272.20" y="589.00" width="4.60" height="4.60" fill="#c8102e" stroke="none" stroke-width="1" />
<rect x="267.70" y="600.20" width="4.60" height="4.60" fill="#c8102e" stroke="none" stroke-width="1" />
<rect x="276.50" y="606.50" width="4.60" height="4.60" fill="#c8102e" stroke="none" stroke-width="1" />
<rect x="276.50" y="619.00" width="4.60" height="4.60" fill="#c8102e" stroke="none" stroke-width="1" />
<rect x="267.70" y="626.50" width="4.60" height="4.60" fill="#c8102e" stroke="none" stroke-width="1" />
<polygon points="298.70,615.47 303.90,615.47 301.30,610.53" fill="#1c5590"/>
<polygon points="294.90,634.97 300.10,634.97 297.50,630.03" fill="#1c5590"/>
<polygon points="308.20,639.97 313.40,639.97 310.80,635.03" fill="#1c5590"/>
<polygon points="303.70,641.97 308.90,641.97 306.30,637.03" fill="#1c5590"/>
<polygon points="294.90,650.47 300.10,650.47 297.50,645.53" fill="#1c5590"/>
<text x="288.00" y="578.50" font-size="9" text-anchor="middle" font-weight="normal" fill="#111" >CD4</text>
<text x="301.30" y="601.00" font-size="9.5" text-anchor="middle" fill="#111">*</text>
<text x="241.20" y="627.65" font-size="8.6" text-anchor="middle" transform="rotate(-90 241.20 627.65)" fill="#111" stroke="#111" stroke-width="0.3"><tspan textLength="27" lengthAdjust="spacingAndGlyphs">% HIF1α</tspan><tspan font-size="5.5" dy="-3">+</tspan></text>
<rect x="370.60" y="640.40" width="17.70" height="28.40" fill="#e28496" stroke="#d46b80" stroke-width="0.5" />
<rect x="398.10" y="655.90" width="17.70" height="12.90" fill="#87a5c3" stroke="#6f8fb0" stroke-width="0.5" />
<line x1="379.30" y1="640.00" x2="379.30" y2="632.50" stroke="#333" stroke-width="1.1" />
<line x1="375.80" y1="632.50" x2="382.80" y2="632.50" stroke="#333" stroke-width="1.1" />
<line x1="406.80" y1="655.50" x2="406.80" y2="650.00" stroke="#333" stroke-width="1.1" />
<line x1="403.30" y1="650.00" x2="410.30" y2="650.00" stroke="#333" stroke-width="1.1" />
<line x1="365.00" y1="580.50" x2="365.00" y2="669.30" stroke="#111" stroke-width="1.1" />
<line x1="364.50" y1="668.80" x2="420.00" y2="668.80" stroke="#111" stroke-width="1.1" />
<line x1="362.40" y1="668.80" x2="365.00" y2="668.80" stroke="#111" stroke-width="0.9" />
<text x="359.80" y="671.40" font-size="7.3" text-anchor="end" font-weight="normal" fill="#111" >0</text>
<line x1="362.40" y1="648.00" x2="365.00" y2="648.00" stroke="#111" stroke-width="0.9" />
<text x="359.80" y="650.60" font-size="7.3" text-anchor="end" font-weight="normal" fill="#111" >20</text>
<line x1="362.40" y1="626.30" x2="365.00" y2="626.30" stroke="#111" stroke-width="0.9" />
<text x="359.80" y="628.90" font-size="7.3" text-anchor="end" font-weight="normal" fill="#111" >40</text>
<line x1="362.40" y1="605.00" x2="365.00" y2="605.00" stroke="#111" stroke-width="0.9" />
<text x="359.80" y="607.60" font-size="7.3" text-anchor="end" font-weight="normal" fill="#111" >60</text>
<line x1="362.40" y1="583.80" x2="365.00" y2="583.80" stroke="#111" stroke-width="0.9" />
<text x="359.80" y="586.40" font-size="7.3" text-anchor="end" font-weight="normal" fill="#111" >80</text>
<rect x="376.50" y="614.00" width="4.60" height="4.60" fill="#c8102e" stroke="none" stroke-width="1" />
<rect x="372.20" y="632.70" width="4.60" height="4.60" fill="#c8102e" stroke="none" stroke-width="1" />
<rect x="381.00" y="633.50" width="4.60" height="4.60" fill="#c8102e" stroke="none" stroke-width="1" />
<rect x="372.20" y="655.20" width="4.60" height="4.60" fill="#c8102e" stroke="none" stroke-width="1" />
<rect x="381.00" y="654.50" width="4.60" height="4.60" fill="#c8102e" stroke="none" stroke-width="1" />
<polygon points="403.70,639.27 408.90,639.27 406.30,634.33" fill="#1c5590"/>
<polygon points="403.70,655.47 408.90,655.47 406.30,650.53" fill="#1c5590"/>
<polygon points="399.20,662.97 404.40,662.97 401.80,658.03" fill="#1c5590"/>
<polygon points="408.70,665.77 413.90,665.77 411.30,660.83" fill="#1c5590"/>
<polygon points="403.70,669.47 408.90,669.47 406.30,664.53" fill="#1c5590"/>
<text x="392.50" y="578.50" font-size="9" text-anchor="middle" font-weight="normal" fill="#111" >CD8</text>
<text x="345.40" y="627.65" font-size="8.6" text-anchor="middle" transform="rotate(-90 345.40 627.65)" fill="#111" stroke="#111" stroke-width="0.3"><tspan textLength="27" lengthAdjust="spacingAndGlyphs">% HIF1α</tspan><tspan font-size="5.5" dy="-3">+</tspan></text>
<text x="6.60" y="442.40" font-size="11.2" text-anchor="start" font-weight="bold" fill="#000" >F</text>
<defs><linearGradient id="fgrad" x1="0" y1="0" x2="0" y2="1"><stop offset="0" stop-color="#555"/><stop offset="0.5" stop-color="#7a7a7a"/><stop offset="1" stop-color="#c4c4c4"/></linearGradient></defs>
<text x="75.50" y="445.60" font-size="8.8" text-anchor="middle" font-weight="normal" fill="#111" >PBS</text>
<clipPath id="cf1"><rect x="35.5" y="448.0" width="84.5" height="85.79999999999995"/></clipPath>
<g clip-path="url(#cf1)">
<path d="M80.3 529.3h.01M69.3 513.6h.01M93.1 517.7h.01M77.1 529.3h.01M89.4 526.3h.01M86.1 527.7h.01M77.7 529.4h.01M89.1 498.5h.01M83.6 495.3h.01M69.3 519.5h.01M67.8 512.3h.01M80.1 529.8h.01M92.7 513.6h.01M70.0 520.4h.01M73.4 524.8h.01M90.7 500.5h.01M70.5 504.5h.01M75.8 528.6h.01M83.2 529.2h.01M94.1 515.5h.01M89.2 525.1h.01M84.7 494.7h.01M89.5 499.6h.01M86.4 530.2h.01M70.9 520.4h.01M71.6 522.6h.01M74.9 527.4h.01M92.3 517.9h.01M77.0 495.6h.01M85.7 528.4h.01M86.6 528.1h.01M85.2 492.2h.01M69.6 520.2h.01M68.6 515.0h.01M71.5 522.0h.01M71.1 524.1h.01M90.7 522.9h.01M91.5 523.2h.01M72.2 525.5h.01M92.3 507.3h.01M68.8 508.1h.01M91.8 518.3h.01M81.8 494.8h.01M69.6 514.7h.01M68.3 510.1h.01M93.5 511.0h.01M89.3 524.7h.01M71.1 502.0h.01M93.3 505.0h.01M93.1 513.5h.01M85.7 491.6h.01M70.4 522.1h.01M80.0 530.3h.01M92.6 520.9h.01M79.6 494.7h.01M69.5 508.9h.01M82.5 529.0h.01M82.7 530.5h.01M74.0 527.1h.01M81.2 494.2h.01M94.4 518.2h.01M72.8 498.2h.01M73.1 524.6h.01M76.3 529.5h.01M90.3 525.5h.01M68.9 511.6h.01M90.1 499.1h.01M93.2 506.2h.01M92.5 517.2h.01M76.7 529.3h.01M72.9 525.2h.01M88.5 526.4h.01M84.9 528.6h.01M92.1 506.0h.01M87.7 526.3h.01M82.6 493.6h.01M72.2 500.5h.01M75.1 492.8h.01M72.5 500.1h.01M70.0 518.6h.01M82.7 495.1h.01M77.7 529.4h.01M73.7 498.7h.01M93.4 515.6h.01M89.4 498.4h.01M86.7 527.3h.01M92.7 520.5h.01M74.4 497.6h.01M92.4 518.8h.01M71.4 524.2h.01M81.2 530.3h.01M73.3 499.0h.01M93.6 515.9h.01M82.6 530.5h.01M78.7 494.5h.01M72.8 500.0h.01M82.6 530.6h.01M94.2 513.4h.01M88.9 497.4h.01M80.2 493.0h.01M69.3 510.4h.01M68.7 515.0h.01M78.0 530.9h.01M73.9 527.4h.01M86.4 527.1h.01M94.2 506.4h.01M80.0 531.5h.01M84.0 529.7h.01M69.5 508.2h.01M71.6 501.5h.01M83.4 529.2h.01M93.7 513.8h.01M76.5 496.3h.01M74.5 494.8h.01M81.7 529.7h.01M69.6 516.7h.01M68.4 511.7h.01M79.8 492.5h.01M85.1 494.6h.01M70.8 502.9h.01M68.4 510.3h.01M76.2 493.8h.01M92.5 518.8h.01M70.8 503.9h.01M89.3 525.5h.01M70.0 517.4h.01M88.6 525.2h.01M90.9 521.2h.01M79.3 493.1h.01M71.8 524.5h.01M80.8 529.4h.01M87.7 494.4h.01M73.9 497.7h.01M82.1 529.4h.01M68.5 503.6h.01M94.1 510.2h.01M74.3 496.4h.01M85.7 496.5h.01M94.3 504.8h.01M68.4 510.0h.01M68.3 510.3h.01M91.6 503.9h.01M87.3 528.5h.01M93.7 513.8h.01M82.5 529.1h.01M76.8 496.0h.01M72.0 523.6h.01M90.9 502.7h.01M68.5 511.1h.01M69.2 505.3h.01M85.0 494.5h.01M92.6 513.2h.01M91.2 520.7h.01M84.6 494.4h.01M78.1 529.4h.01M69.8 506.3h.01M92.1 504.1h.01M91.9 521.5h.01M68.4 510.8h.01M70.6 520.3h.01M81.1 493.7h.01M85.3 529.6h.01M76.5 529.1h.01M87.2 495.9h.01M84.0 494.6h.01M82.7 495.0h.01M93.0 513.9h.01M86.1 528.7h.01M72.5 525.4h.01M94.1 506.0h.01M70.9 502.8h.01M92.6 514.1h.01M75.8 492.8h.01M74.8 495.8h.01M70.7 520.1h.01M74.0 498.3h.01M91.1 503.4h.01M91.0 521.5h.01M87.6 496.8h.01M78.7 528.7h.01M85.2 495.5h.01M72.2 500.7h.01M92.5 503.0h.01M68.8 515.5h.01M67.9 509.2h.01M81.7 494.8h.01M69.9 519.8h.01M88.4 525.4h.01M68.5 508.0h.01M87.5 527.0h.01M71.8 501.2h.01M68.7 507.3h.01M68.9 505.2h.01M89.6 523.7h.01M69.1 508.7h.01M83.5 493.4h.01M92.9 520.7h.01M70.3 519.6h.01M73.0 525.7h.01M91.0 500.8h.01M92.8 514.6h.01M92.1 505.9h.01M89.6 526.0h.01M73.0 526.5h.01M88.2 497.1h.01M87.1 495.9h.01M86.5 531.5h.01M69.9 506.3h.01M94.5 512.7h.01M72.7 525.3h.01M89.0 526.2h.01M74.9 527.2h.01M76.0 529.1h.01M69.6 516.7h.01M77.8 495.3h.01M77.5 529.0h.01M71.7 501.7h.01M75.4 496.4h.01M87.2 496.4h.01M71.9 501.0h.01M70.5 501.9h.01M86.3 527.8h.01M88.8 526.1h.01M70.9 502.9h.01M69.3 517.7h.01M92.5 501.7h.01M80.0 529.1h.01M89.3 525.4h.01M86.3 496.1h.01M68.9 513.6h.01M87.2 496.4h.01M90.2 525.8h.01M88.2 496.4h.01M72.3 526.3h.01M86.6 497.1h.01M79.9 494.8h.01M93.3 519.7h.01M91.3 500.7h.01M70.4 522.0h.01M83.9 529.0h.01M89.0 525.6h.01M86.5 528.5h.01M87.4 527.6h.01M78.9 494.8h.01M83.8 494.8h.01M69.6 509.8h.01M92.1 506.1h.01M76.5 495.4h.01M78.6 495.3h.01M70.5 520.6h.01M70.5 524.9h.01M84.5 494.4h.01M72.7 524.5h.01M74.1 525.7h.01M69.6 505.0h.01M92.6 523.1h.01M69.5 503.4h.01M87.5 497.6h.01M90.8 499.4h.01M91.9 521.7h.01M85.0 485.9h.01M91.2 478.4h.01M85.6 493.1h.01M84.5 482.4h.01M80.4 482.6h.01M86.3 484.4h.01M79.3 485.8h.01M99.0 485.2h.01M83.6 491.8h.01M86.5 483.8h.01M73.5 483.8h.01M79.1 482.3h.01M81.1 492.8h.01M88.9 489.0h.01M76.1 485.3h.01M73.2 479.6h.01M81.3 485.4h.01M83.3 496.5h.01M84.6 478.9h.01M82.4 471.4h.01M85.9 478.2h.01M88.3 488.4h.01M87.7 475.4h.01M95.2 489.3h.01M83.6 482.1h.01M83.9 485.5h.01M79.4 489.2h.01M80.7 481.7h.01M86.7 489.1h.01M79.4 496.7h.01M86.0 476.1h.01M77.2 486.3h.01M87.3 481.5h.01M86.4 481.9h.01M78.0 483.0h.01M82.9 490.2h.01M90.2 485.3h.01M86.6 489.9h.01M104.1 482.9h.01M94.7 476.7h.01M76.4 483.9h.01M89.1 483.1h.01M85.9 495.2h.01M86.5 477.3h.01M87.6 479.9h.01M85.2 485.2h.01M80.7 488.7h.01M79.5 485.4h.01M89.4 485.5h.01M79.9 480.8h.01M80.0 487.8h.01M85.0 487.1h.01M87.6 478.0h.01M78.8 482.9h.01M84.3 481.6h.01M74.7 484.3h.01M82.9 476.6h.01M73.8 477.8h.01M86.0 485.2h.01M92.4 489.1h.01M86.5 483.2h.01M85.2 483.9h.01M81.6 487.7h.01M92.5 481.3h.01M92.8 486.6h.01M84.6 485.0h.01M82.8 479.3h.01M85.1 493.2h.01M92.5 480.8h.01M87.2 485.6h.01M86.5 484.0h.01M88.3 488.0h.01M79.8 492.2h.01M72.9 479.9h.01M87.3 485.1h.01M74.5 488.5h.01M86.1 483.0h.01M87.2 486.2h.01M83.3 480.9h.01M95.3 475.0h.01M78.8 477.7h.01M83.5 491.1h.01M82.9 483.1h.01M81.0 496.2h.01M73.8 484.4h.01M80.7 474.8h.01M76.6 485.4h.01M92.5 480.7h.01M79.2 481.4h.01M88.3 484.6h.01M84.0 482.2h.01M90.0 484.3h.01M92.1 482.2h.01M94.1 482.4h.01M93.2 484.6h.01M83.6 483.8h.01M75.8 493.6h.01M88.6 480.3h.01M74.7 483.7h.01M84.1 482.2h.01M75.9 482.1h.01M96.6 477.3h.01M89.4 483.7h.01M74.5 477.0h.01M89.5 482.8h.01M84.3 480.3h.01M78.6 488.6h.01M87.4 487.8h.01M85.9 484.8h.01M91.6 482.5h.01M73.3 488.5h.01M72.9 492.4h.01M88.0 488.4h.01M73.0 489.3h.01M79.3 486.4h.01M78.3 486.7h.01M81.5 495.0h.01M77.6 486.8h.01M79.0 485.8h.01M73.3 488.7h.01M78.4 495.7h.01M74.3 493.9h.01M82.5 495.1h.01M75.3 493.3h.01M86.0 487.0h.01M82.8 494.9h.01M75.5 487.5h.01M83.0 494.6h.01M75.1 493.3h.01M85.3 495.3h.01M87.9 493.2h.01M88.6 492.0h.01M84.8 495.0h.01M86.1 494.0h.01M83.2 486.2h.01M90.2 492.7h.01M80.3 486.3h.01M87.4 488.0h.01M73.5 492.5h.01M90.0 490.7h.01M81.9 485.2h.01M72.3 490.2h.01M81.4 495.2h.01M89.6 493.2h.01M74.7 493.0h.01M88.8 488.6h.01M79.2 495.1h.01M90.5 488.0h.01M73.2 491.6h.01M69.8 488.4h.01M91.2 489.9h.01M86.6 487.2h.01M89.0 492.9h.01M73.1 492.6h.01M86.4 495.2h.01M81.5 494.9h.01M76.4 486.3h.01M88.1 487.4h.01M86.7 494.0h.01M89.0 492.6h.01M73.0 491.5h.01M74.4 488.2h.01M89.5 490.5h.01M76.4 493.9h.01M85.4 494.1h.01M85.0 494.8h.01M73.3 492.3h.01M83.3 486.6h.01M79.7 486.3h.01M88.6 488.1h.01M83.4 485.3h.01M79.6 486.4h.01M77.4 486.3h.01M82.2 486.3h.01M72.7 490.4h.01M72.3 489.1h.01M88.7 492.7h.01M81.0 486.2h.01M77.4 485.9h.01M87.9 492.8h.01M73.1 489.1h.01M89.1 490.3h.01M76.7 493.9h.01M84.4 486.1h.01M74.4 488.0h.01M74.3 493.8h.01M90.0 488.8h.01M87.5 488.1h.01M83.8 486.5h.01M76.9 495.6h.01M89.7 492.0h.01M85.3 494.3h.01M81.2 486.4h.01M73.1 489.2h.01M73.8 487.3h.01M85.4 486.9h.01M82.1 494.6h.01M80.9 494.8h.01M79.5 494.9h.01M82.9 494.4h.01M86.4 493.4h.01M88.3 493.5h.01M73.0 492.7h.01M74.3 488.0h.01M83.9 494.6h.01M75.4 487.6h.01M89.8 490.9h.01M88.8 491.8h.01M88.6 488.9h.01M87.0 493.7h.01M78.9 485.4h.01M86.6 493.4h.01M86.7 487.7h.01M90.6 491.8h.01M82.4 486.4h.01M76.7 494.1h.01M88.7 491.7h.01M77.4 486.5h.01M85.2 486.4h.01M82.2 495.3h.01M85.3 486.5h.01M87.8 488.1h.01M88.1 492.9h.01M88.3 492.3h.01M89.8 491.1h.01M72.9 492.9h.01M87.5 487.6h.01M71.4 491.4h.01M73.9 493.9h.01M86.1 494.5h.01M81.0 486.2h.01M82.8 486.5h.01M80.2 495.0h.01M85.2 486.1h.01M88.8 492.2h.01M73.3 488.8h.01M83.6 486.6h.01M72.5 490.9h.01M72.0 490.5h.01M74.8 493.9h.01M86.1 486.5h.01M71.1 491.8h.01M81.2 486.0h.01M78.3 486.3h.01M89.4 488.5h.01M74.1 493.2h.01M75.6 493.7h.01M81.7 486.0h.01M80.7 494.9h.01M72.8 492.4h.01M96.0 510.1h.01M92.0 508.0h.01M93.3 522.3h.01M95.9 512.8h.01M91.4 519.7h.01M93.8 516.4h.01M95.7 527.5h.01M94.2 517.6h.01M93.8 517.6h.01M92.1 514.9h.01M93.9 503.9h.01M91.3 499.3h.01M92.9 517.7h.01M91.3 494.4h.01M89.7 493.2h.01M90.7 509.5h.01M97.9 509.9h.01M90.6 500.9h.01M94.0 509.6h.01M93.1 520.6h.01M93.4 508.2h.01M90.6 503.0h.01M92.9 518.7h.01M92.2 518.3h.01M96.5 531.4h.01M97.8 510.4h.01M94.3 511.0h.01M92.5 514.6h.01M91.6 510.6h.01M92.9 518.7h.01M94.5 495.3h.01M93.0 516.0h.01M95.0 495.2h.01M91.0 510.2h.01M90.8 523.3h.01M91.5 520.2h.01M92.4 490.0h.01M91.5 508.9h.01M91.9 521.6h.01M89.4 501.0h.01M93.5 504.4h.01M93.6 490.7h.01M89.8 493.7h.01M92.1 517.7h.01M91.4 520.2h.01M94.2 504.2h.01M95.4 506.4h.01M87.9 511.6h.01M94.3 514.7h.01M92.8 516.0h.01M91.9 520.0h.01M88.7 507.2h.01M88.9 502.0h.01M97.1 503.4h.01M92.7 516.0h.01M91.2 526.2h.01M91.5 507.0h.01M95.4 507.2h.01M89.9 523.6h.01M94.6 529.8h.01" stroke="#000" stroke-width="0.6" stroke-linecap="square" fill="none" opacity="0.9"/>
<ellipse cx="81.00" cy="490.50" rx="8.50" ry="4.20" fill="#000" opacity="0.8" filter="url(#bl06)"/>
<path d="M69.5,507 C68.5,499 76,496.8 82,496.8 C88,496.8 94,499 93.5,507 C93,516 91,525 90.5,533.5 L73,533.5 C72,525 70,516 69.5,507Z" fill="url(#fgrad)" stroke="#1a1a1a" stroke-width="1.3"/>
<ellipse cx="81.0" cy="508.5" rx="10" ry="12.5" fill="none" stroke="#333" stroke-width="0.5"/>
<ellipse cx="81.0" cy="508.0" rx="9" ry="11" fill="none" stroke="#444" stroke-width="0.5"/>
<ellipse cx="81.0" cy="507.7" rx="8" ry="9.7" fill="none" stroke="#333" stroke-width="0.5"/>
<ellipse cx="81.0" cy="507.5" rx="7" ry="8.5" fill="none" stroke="#444" stroke-width="0.5"/>
<ellipse cx="81.0" cy="507.3" rx="6" ry="7.2" fill="none" stroke="#333" stroke-width="0.5"/>
<ellipse cx="81.0" cy="507.0" rx="5" ry="6" fill="none" stroke="#444" stroke-width="0.5"/>
<ellipse cx="81.0" cy="507.0" rx="4" ry="4.7" fill="none" stroke="#555" stroke-width="0.5"/>
<ellipse cx="81.0" cy="507.0" rx="3" ry="3.5" fill="none" stroke="#555" stroke-width="0.5"/>
<path d="M73.0,520.0 Q81.0,516.0 89.5,520.0" fill="none" stroke="#888" stroke-width="0.4"/>
<path d="M73.2,522.2 Q81.0,518.2 89.3,522.2" fill="none" stroke="#888" stroke-width="0.4"/>
<path d="M73.4,524.4 Q81.0,520.4 89.1,524.4" fill="none" stroke="#888" stroke-width="0.4"/>
<path d="M73.6,526.6 Q81.0,522.6 88.9,526.6" fill="none" stroke="#888" stroke-width="0.4"/>
<path d="M73.8,528.8 Q81.0,524.8 88.7,528.8" fill="none" stroke="#888" stroke-width="0.4"/>
<path d="M74.0,531.0 Q81.0,527.0 88.5,531.0" fill="none" stroke="#888" stroke-width="0.4"/>
<ellipse cx="81.0" cy="507.5" rx="1.8" ry="2" fill="#e8e8e8" stroke="#666" stroke-width="0.4"/>
<ellipse cx="82.0" cy="491.8" rx="5.6" ry="2.4" fill="#fafafa" stroke="#333" stroke-width="0.7"/>
<ellipse cx="82.0" cy="491.8" rx="3.2" ry="1.2" fill="none" stroke="#777" stroke-width="0.45"/>
</g>
<rect x="37.50" y="456.30" width="80.50" height="38.90" fill="none" stroke="#222" stroke-width="0.9" />
<rect x="35.00" y="447.50" width="85.50" height="86.80" fill="none" stroke="#111" stroke-width="1.1" />
<path d="M32.8 449.1h2.2M32.8 452.1h2.2M32.8 455.2h2.2M32.8 458.4h2.2M32.8 461.4h2.2M32.8 464.6h2.2M32.8 467.6h2.2M32.8 470.8h2.2M32.8 473.8h2.2M32.8 476.9h2.2M32.8 480.0h2.2M32.8 483.1h2.2M32.8 486.2h2.2M32.8 489.3h2.2M32.8 492.4h2.2M32.8 495.5h2.2M32.8 498.6h2.2M32.8 501.7h2.2M32.8 504.8h2.2M32.8 507.9h2.2M32.8 511.0h2.2M32.8 514.1h2.2M32.8 517.2h2.2M32.8 520.3h2.2M32.8 523.4h2.2M32.8 526.5h2.2M32.8 529.6h2.2M32.8 532.8h2.2" stroke="#222" stroke-width="0.65"/>
<path d="M36.4 534.3v2.2M39.2 534.3v2.2M41.9 534.3v2.2M44.7 534.3v2.2M47.5 534.3v2.2M50.3 534.3v2.2M53.0 534.3v2.2M55.8 534.3v2.2M58.6 534.3v2.2M61.4 534.3v2.2M64.1 534.3v2.2M66.9 534.3v2.2M69.7 534.3v2.2M72.5 534.3v2.2M75.3 534.3v2.2M78.0 534.3v2.2M80.8 534.3v2.2M83.6 534.3v2.2M86.4 534.3v2.2M89.1 534.3v2.2M91.9 534.3v2.2M94.7 534.3v2.2M97.5 534.3v2.2M100.2 534.3v2.2M103.0 534.3v2.2M105.8 534.3v2.2M108.6 534.3v2.2M111.3 534.3v2.2M114.1 534.3v2.2M116.9 534.3v2.2" stroke="#222" stroke-width="0.65"/>
<text x="44.50" y="468.00" font-size="8.8" text-anchor="start" font-weight="normal" fill="#111" >4.6</text>
<text x="170.00" y="445.60" font-size="8.8" text-anchor="middle" font-weight="normal" fill="#111" >Anti-miR-31</text>
<clipPath id="cf2"><rect x="123.0" y="448.0" width="85.30000000000001" height="85.5"/></clipPath>
<g clip-path="url(#cf2)">
<path d="M177.6 525.8h.01M161.3 525.2h.01M160.3 524.0h.01M181.3 511.7h.01M181.3 506.8h.01M169.7 530.6h.01M180.1 500.2h.01M165.7 529.1h.01M164.6 528.3h.01M181.7 518.6h.01M158.7 504.9h.01M171.5 531.3h.01M180.7 507.9h.01M158.1 508.3h.01M164.3 494.0h.01M175.3 494.5h.01M179.9 503.6h.01M161.4 524.9h.01M156.7 506.0h.01M167.0 530.6h.01M176.8 528.3h.01M167.0 531.7h.01M180.2 499.9h.01M173.1 494.5h.01M168.7 530.2h.01M164.0 495.0h.01M181.9 517.8h.01M175.5 526.6h.01M162.6 498.3h.01M158.0 508.9h.01M173.2 493.8h.01M171.7 530.7h.01M157.5 518.4h.01M159.9 522.3h.01M164.2 527.8h.01M179.1 524.0h.01M179.4 502.8h.01M170.5 494.7h.01M165.7 494.8h.01M181.5 504.0h.01M180.9 519.0h.01M162.4 497.8h.01M163.1 497.5h.01M176.2 526.0h.01M176.8 498.4h.01M165.1 528.5h.01M164.1 529.1h.01M179.4 525.7h.01M181.7 515.0h.01M164.5 492.6h.01M178.8 525.5h.01M157.4 508.7h.01M159.6 496.9h.01M180.5 501.4h.01M173.3 528.8h.01M161.9 527.3h.01M176.1 526.1h.01M167.3 494.4h.01M159.7 501.4h.01M177.5 496.9h.01M172.1 494.1h.01M182.1 508.0h.01M161.9 527.0h.01M172.3 529.9h.01M170.7 530.0h.01M171.2 493.3h.01M158.5 518.1h.01M157.5 509.5h.01M159.8 500.4h.01M158.1 514.8h.01M165.0 494.0h.01M172.0 493.6h.01M171.3 529.0h.01M157.0 511.2h.01M181.3 508.9h.01M180.5 517.2h.01M181.5 509.3h.01M160.4 501.2h.01M172.4 494.2h.01M176.2 527.3h.01M176.7 498.1h.01M157.7 512.9h.01M176.6 527.6h.01M181.3 506.6h.01M181.4 509.8h.01M163.3 493.3h.01M161.6 499.3h.01M177.0 498.4h.01M163.4 496.5h.01M166.2 494.3h.01M168.5 530.6h.01M156.8 514.6h.01M164.3 527.2h.01M172.5 529.2h.01M181.1 508.7h.01M177.0 527.8h.01M181.5 506.5h.01M161.5 498.6h.01M169.8 493.7h.01M161.1 530.1h.01M181.8 510.9h.01M166.9 493.9h.01M163.2 496.4h.01M175.3 529.8h.01M181.4 507.3h.01M174.7 495.9h.01M160.5 499.8h.01M163.1 497.8h.01M178.9 501.9h.01M172.9 492.5h.01M158.0 514.3h.01M162.4 498.0h.01M158.0 508.6h.01M156.5 513.0h.01M178.7 522.5h.01M164.5 529.2h.01M177.7 496.8h.01M162.6 497.4h.01M163.7 529.2h.01M171.7 528.9h.01M160.6 523.5h.01M172.0 495.1h.01M163.5 497.1h.01M156.3 515.3h.01M160.9 526.4h.01M172.6 494.6h.01M181.1 517.0h.01M173.4 494.1h.01M180.6 505.1h.01M158.4 519.9h.01M167.2 493.6h.01M180.0 503.2h.01M163.1 526.4h.01M180.1 505.0h.01M179.4 521.4h.01M172.6 530.4h.01M164.1 528.6h.01M174.2 528.0h.01M157.6 514.5h.01M169.2 529.0h.01M158.9 518.8h.01M161.1 500.0h.01M162.1 496.5h.01M180.0 521.8h.01M165.0 529.6h.01M169.6 494.3h.01M158.2 519.9h.01M157.9 508.5h.01M161.9 497.1h.01M157.4 509.4h.01M172.1 529.5h.01M157.0 513.9h.01M180.8 521.2h.01M178.0 525.7h.01M162.8 498.0h.01M180.8 507.6h.01M165.2 494.3h.01M157.9 514.7h.01M157.3 506.8h.01M181.5 504.4h.01M181.0 505.3h.01M165.2 493.1h.01M165.2 528.3h.01M171.0 494.7h.01M163.6 528.2h.01M163.0 494.0h.01M172.1 494.8h.01M178.0 524.5h.01M180.8 516.9h.01M175.9 497.4h.01M171.4 493.8h.01M181.1 511.3h.01M156.9 504.2h.01M157.5 514.3h.01M166.5 494.0h.01M158.8 505.6h.01M160.0 522.9h.01M157.7 519.5h.01M159.2 523.0h.01M180.2 503.7h.01M179.3 499.2h.01M160.1 524.2h.01M162.8 526.0h.01M176.9 498.5h.01M181.5 515.7h.01M165.7 495.1h.01M156.6 515.6h.01M181.2 509.3h.01M157.2 504.1h.01M157.1 519.0h.01M179.1 523.7h.01M177.7 526.2h.01M165.6 495.8h.01M165.4 495.1h.01M159.8 502.5h.01M162.4 526.5h.01M175.9 527.1h.01M172.9 529.6h.01M165.4 531.0h.01M160.7 500.7h.01M180.3 502.8h.01M158.3 504.2h.01M162.7 528.9h.01M158.4 521.8h.01M158.7 518.9h.01M168.6 530.2h.01M180.1 500.8h.01M165.2 529.0h.01M168.9 531.8h.01M160.0 500.1h.01M159.4 523.5h.01M169.7 494.1h.01M170.1 529.8h.01M167.3 531.6h.01M158.2 517.3h.01M179.2 498.0h.01M168.4 531.2h.01M163.0 497.5h.01M158.7 505.5h.01M164.0 527.3h.01M158.6 520.8h.01M180.7 504.8h.01M181.6 510.7h.01M171.1 493.5h.01M157.6 509.5h.01M169.6 529.9h.01M180.4 524.2h.01M159.0 504.6h.01M177.5 524.5h.01M157.6 514.4h.01M181.5 517.0h.01M156.2 509.7h.01M174.0 529.6h.01M160.7 525.7h.01M156.5 515.3h.01M178.3 525.2h.01M169.9 530.2h.01M158.8 519.1h.01M165.5 528.7h.01M160.5 500.9h.01M158.8 504.9h.01M168.5 494.3h.01M162.2 525.8h.01M168.3 494.5h.01M157.1 516.5h.01M156.6 508.5h.01M159.6 502.0h.01M160.7 498.4h.01M176.3 496.0h.01M158.8 519.4h.01M173.9 494.3h.01M180.9 505.9h.01M168.7 529.8h.01M168.8 529.9h.01M164.0 527.5h.01M171.5 529.2h.01M157.0 507.0h.01M165.7 530.4h.01M177.1 492.6h.01M177.4 490.2h.01M180.3 491.4h.01M174.8 489.2h.01M175.0 488.7h.01M171.9 483.2h.01M173.2 489.4h.01M166.3 481.2h.01M168.7 475.6h.01M163.6 489.6h.01M173.3 482.9h.01M177.1 469.6h.01M167.0 477.6h.01M178.7 480.1h.01M170.6 492.2h.01M175.8 483.3h.01M173.4 482.0h.01M168.9 479.1h.01M174.2 482.8h.01M170.9 499.8h.01M168.8 493.1h.01M176.5 485.3h.01M175.6 474.9h.01M175.9 483.0h.01M175.8 477.7h.01M171.4 488.9h.01M176.7 491.6h.01M171.2 475.7h.01M172.7 480.7h.01M185.3 495.9h.01M169.4 481.4h.01M174.6 486.0h.01M157.4 493.0h.01M175.1 494.0h.01M173.0 487.5h.01M172.3 489.6h.01M180.9 487.2h.01M169.5 479.4h.01M159.1 487.2h.01M184.3 484.7h.01M176.8 488.4h.01M164.8 478.7h.01M167.4 493.8h.01M177.0 485.4h.01M171.1 485.2h.01M176.0 482.9h.01M173.5 490.6h.01M173.9 474.9h.01M173.2 485.1h.01M170.7 495.1h.01M173.0 482.5h.01M166.1 482.6h.01M182.7 481.0h.01M176.4 475.7h.01M173.4 483.5h.01M169.1 484.8h.01M178.0 491.6h.01M169.2 493.9h.01M182.8 487.3h.01M170.2 473.0h.01M171.8 494.3h.01M162.4 486.0h.01M183.3 490.7h.01M166.7 478.0h.01M170.5 487.5h.01M180.8 489.4h.01M162.9 478.1h.01M174.2 483.3h.01M167.7 488.8h.01M159.4 481.4h.01M177.6 490.2h.01M168.7 480.7h.01M174.0 482.7h.01M177.0 489.6h.01M175.1 477.7h.01M170.3 479.4h.01M172.8 479.9h.01M172.3 489.9h.01M171.5 471.9h.01M164.1 484.6h.01M162.7 486.6h.01M175.9 485.5h.01M174.2 485.5h.01M179.6 485.8h.01M174.2 483.7h.01M166.9 470.6h.01M162.2 481.0h.01M172.4 482.4h.01M186.7 477.1h.01M183.0 488.4h.01M177.0 479.6h.01M168.8 475.6h.01M179.9 481.2h.01M167.7 489.3h.01M169.2 481.4h.01M167.5 489.3h.01M171.3 473.4h.01M174.7 485.5h.01M178.4 493.7h.01M181.9 481.2h.01M172.5 490.4h.01M173.0 484.9h.01M174.6 481.8h.01M175.3 486.0h.01M168.6 477.1h.01M171.7 494.3h.01M161.3 492.5h.01M180.8 479.5h.01M180.0 484.1h.01M178.0 496.9h.01M166.6 495.5h.01M178.4 491.0h.01M160.1 490.4h.01M162.3 488.5h.01M165.6 494.0h.01M173.6 494.1h.01M175.2 487.1h.01M160.7 490.3h.01M163.7 494.5h.01M173.1 494.9h.01M165.5 486.1h.01M176.1 488.2h.01M162.7 493.1h.01M177.7 489.1h.01M162.7 488.1h.01M173.0 494.5h.01M178.4 488.1h.01M174.0 494.0h.01M164.0 493.9h.01M176.3 487.5h.01M163.7 494.5h.01M175.6 493.9h.01M163.6 486.2h.01M174.9 494.2h.01M167.2 495.6h.01M178.3 489.2h.01M170.4 486.5h.01M165.9 494.5h.01M169.9 486.3h.01M161.1 492.3h.01M161.6 491.4h.01M162.2 492.9h.01M173.3 486.8h.01M178.8 489.1h.01M178.0 491.7h.01M169.0 494.9h.01M160.6 490.1h.01M177.0 493.1h.01M172.1 495.0h.01M170.1 486.0h.01M177.4 491.5h.01M175.1 486.7h.01M166.9 486.1h.01M178.0 493.0h.01M175.3 486.5h.01M171.4 486.0h.01M163.6 493.6h.01M176.7 487.3h.01M167.0 485.5h.01M161.2 489.3h.01M160.7 489.5h.01M177.5 490.7h.01M170.3 486.1h.01M161.4 489.0h.01M177.3 492.0h.01M175.5 493.8h.01M174.8 486.2h.01M173.0 494.1h.01M177.8 488.5h.01M163.9 487.2h.01M160.8 491.0h.01M171.0 485.9h.01M177.9 489.4h.01M175.5 487.3h.01M169.4 486.5h.01M161.6 492.2h.01M175.2 493.5h.01M162.8 487.7h.01M167.6 486.3h.01M176.9 492.4h.01M172.8 494.2h.01M167.7 494.6h.01M161.8 487.2h.01M175.9 493.2h.01M168.4 485.3h.01M161.3 488.6h.01M174.9 487.3h.01M175.0 487.3h.01M161.4 491.9h.01M162.5 487.6h.01M177.7 489.9h.01M177.6 493.3h.01M173.8 494.0h.01M161.4 489.2h.01M177.8 492.1h.01M178.3 491.1h.01M166.5 486.8h.01M177.6 490.6h.01M176.9 488.9h.01M172.8 494.9h.01M163.1 493.0h.01M164.0 487.5h.01M165.6 494.2h.01M160.8 489.7h.01M170.3 494.8h.01M159.4 488.7h.01M174.7 494.7h.01M173.8 494.5h.01M170.9 486.5h.01M161.5 491.8h.01M159.7 489.4h.01M169.9 486.0h.01M177.2 488.8h.01M161.4 489.0h.01M176.5 487.6h.01M176.5 487.7h.01M165.5 486.7h.01M172.9 486.6h.01M162.8 492.7h.01M163.3 487.0h.01M177.4 487.0h.01M169.5 486.2h.01M170.5 486.2h.01M169.6 495.1h.01M161.4 489.1h.01M177.5 489.8h.01M172.9 494.7h.01M172.5 495.2h.01M170.8 494.7h.01M161.4 489.4h.01M160.4 490.3h.01M172.7 494.3h.01M168.9 486.5h.01M161.2 491.1h.01M167.4 486.5h.01M180.3 491.2h.01M178.3 489.2h.01M164.7 487.2h.01M161.7 492.6h.01M161.8 488.3h.01M178.7 490.7h.01M176.7 493.1h.01M164.8 487.1h.01M162.2 487.0h.01M160.5 491.4h.01M161.3 491.5h.01M159.1 490.4h.01M160.7 492.9h.01M174.9 486.9h.01M166.7 494.9h.01M180.8 506.7h.01M178.7 484.7h.01M182.0 506.9h.01M180.0 518.1h.01M183.4 509.1h.01M180.6 516.1h.01M183.3 502.5h.01M183.0 516.9h.01M182.3 525.3h.01M178.0 500.4h.01M182.4 519.6h.01M179.1 503.1h.01M181.3 511.0h.01M179.9 514.9h.01M184.1 527.0h.01M183.1 513.1h.01M178.1 514.6h.01M179.2 519.0h.01M182.2 511.9h.01M178.9 517.3h.01M178.9 513.3h.01M179.0 507.6h.01M180.4 526.1h.01M181.4 521.3h.01M179.6 503.2h.01M180.8 514.2h.01M177.9 511.0h.01M182.7 493.6h.01M183.2 519.2h.01M181.0 522.7h.01M183.2 508.8h.01M179.4 519.8h.01M181.8 507.6h.01M179.0 523.8h.01M180.0 510.3h.01M180.1 528.2h.01M182.9 524.4h.01M182.9 492.8h.01M180.9 517.4h.01M184.5 486.8h.01M182.1 516.7h.01M179.6 514.6h.01M180.8 525.1h.01M185.0 519.2h.01M182.6 523.2h.01M181.5 524.1h.01M181.5 511.7h.01M183.4 502.9h.01M182.6 525.8h.01M183.7 514.9h.01M180.3 501.2h.01M181.7 525.4h.01M177.8 515.1h.01M181.5 507.3h.01M181.6 517.7h.01M184.9 507.6h.01M182.0 510.4h.01M182.2 526.7h.01M180.9 495.4h.01M179.3 519.6h.01" stroke="#000" stroke-width="0.6" stroke-linecap="square" fill="none" opacity="0.9"/>
<ellipse cx="169.50" cy="490.50" rx="8.50" ry="4.20" fill="#000" opacity="0.8" filter="url(#bl06)"/>
<path d="M158.0,507 C157.0,499 164.5,496.8 170.5,496.8 C176.5,496.8 182.5,499 182.0,507 C181.5,516 179.5,525 179.0,533.5 L161.5,533.5 C160.5,525 158.5,516 158.0,507Z" fill="url(#fgrad)" stroke="#1a1a1a" stroke-width="1.3"/>
<ellipse cx="169.5" cy="508.5" rx="10" ry="12.5" fill="none" stroke="#333" stroke-width="0.5"/>
<ellipse cx="169.5" cy="508.0" rx="9" ry="11" fill="none" stroke="#444" stroke-width="0.5"/>
<ellipse cx="169.5" cy="507.7" rx="8" ry="9.7" fill="none" stroke="#333" stroke-width="0.5"/>
<ellipse cx="169.5" cy="507.5" rx="7" ry="8.5" fill="none" stroke="#444" stroke-width="0.5"/>
<ellipse cx="169.5" cy="507.3" rx="6" ry="7.2" fill="none" stroke="#333" stroke-width="0.5"/>
<ellipse cx="169.5" cy="507.0" rx="5" ry="6" fill="none" stroke="#444" stroke-width="0.5"/>
<ellipse cx="169.5" cy="507.0" rx="4" ry="4.7" fill="none" stroke="#555" stroke-width="0.5"/>
<ellipse cx="169.5" cy="507.0" rx="3" ry="3.5" fill="none" stroke="#555" stroke-width="0.5"/>
<path d="M161.5,520.0 Q169.5,516.0 178.0,520.0" fill="none" stroke="#888" stroke-width="0.4"/>
<path d="M161.7,522.2 Q169.5,518.2 177.8,522.2" fill="none" stroke="#888" stroke-width="0.4"/>
<path d="M161.9,524.4 Q169.5,520.4 177.6,524.4" fill="none" stroke="#888" stroke-width="0.4"/>
<path d="M162.1,526.6 Q169.5,522.6 177.4,526.6" fill="none" stroke="#888" stroke-width="0.4"/>
<path d="M162.3,528.8 Q169.5,524.8 177.2,528.8" fill="none" stroke="#888" stroke-width="0.4"/>
<path d="M162.5,531.0 Q169.5,527.0 177.0,531.0" fill="none" stroke="#888" stroke-width="0.4"/>
<ellipse cx="169.5" cy="507.5" rx="1.8" ry="2" fill="#e8e8e8" stroke="#666" stroke-width="0.4"/>
<ellipse cx="170.5" cy="491.8" rx="5.6" ry="2.4" fill="#fafafa" stroke="#333" stroke-width="0.7"/>
<ellipse cx="170.5" cy="491.8" rx="3.2" ry="1.2" fill="none" stroke="#777" stroke-width="0.45"/>
</g>
<rect x="125.00" y="456.30" width="81.30" height="38.90" fill="none" stroke="#222" stroke-width="0.9" />
<rect x="122.50" y="447.50" width="86.30" height="86.50" fill="none" stroke="#111" stroke-width="1.1" />
<path d="M120.3 449.0h2.2M120.3 452.1h2.2M120.3 455.2h2.2M120.3 458.3h2.2M120.3 461.4h2.2M120.3 464.5h2.2M120.3 467.6h2.2M120.3 470.7h2.2M120.3 473.8h2.2M120.3 476.8h2.2M120.3 479.9h2.2M120.3 483.0h2.2M120.3 486.1h2.2M120.3 489.2h2.2M120.3 492.3h2.2M120.3 495.4h2.2M120.3 498.5h2.2M120.3 501.6h2.2M120.3 504.7h2.2M120.3 507.7h2.2M120.3 510.8h2.2M120.3 513.9h2.2M120.3 517.0h2.2M120.3 520.1h2.2M120.3 523.2h2.2M120.3 526.3h2.2M120.3 529.4h2.2M120.3 532.5h2.2" stroke="#222" stroke-width="0.65"/>
<path d="M123.9 534.0v2.2M126.7 534.0v2.2M129.5 534.0v2.2M132.3 534.0v2.2M135.1 534.0v2.2M137.9 534.0v2.2M140.7 534.0v2.2M143.5 534.0v2.2M146.3 534.0v2.2M149.1 534.0v2.2M151.9 534.0v2.2M154.7 534.0v2.2M157.5 534.0v2.2M160.3 534.0v2.2M163.1 534.0v2.2M165.9 534.0v2.2M168.7 534.0v2.2M171.5 534.0v2.2M174.3 534.0v2.2M177.1 534.0v2.2M179.9 534.0v2.2M182.7 534.0v2.2M185.5 534.0v2.2M188.3 534.0v2.2M191.1 534.0v2.2M193.9 534.0v2.2M196.8 534.0v2.2M199.6 534.0v2.2M202.4 534.0v2.2M205.2 534.0v2.2" stroke="#222" stroke-width="0.65"/>
<text x="132.00" y="468.00" font-size="8.8" text-anchor="start" font-weight="normal" fill="#111" >6.7</text>
<text x="24.30" y="459.00" font-size="7.3" text-anchor="middle" fill="#111">10<tspan font-size="5.40" dy="-3.07">5</tspan></text>
<line x1="32.00" y1="456.30" x2="35.00" y2="456.30" stroke="#222" stroke-width="0.9" />
<text x="24.30" y="477.70" font-size="7.3" text-anchor="middle" fill="#111">10<tspan font-size="5.40" dy="-3.07">4</tspan></text>
<line x1="32.00" y1="475.00" x2="35.00" y2="475.00" stroke="#222" stroke-width="0.9" />
<text x="24.30" y="497.70" font-size="7.3" text-anchor="middle" fill="#111">10<tspan font-size="5.40" dy="-3.07">3</tspan></text>
<line x1="32.00" y1="495.00" x2="35.00" y2="495.00" stroke="#222" stroke-width="0.9" />
<text x="24.30" y="518.20" font-size="7.3" text-anchor="middle" fill="#111">10<tspan font-size="5.40" dy="-3.07">2</tspan></text>
<line x1="32.00" y1="515.50" x2="35.00" y2="515.50" stroke="#222" stroke-width="0.9" />
<line x1="32.00" y1="524.50" x2="35.00" y2="524.50" stroke="#222" stroke-width="0.9" />
<text x="28.00" y="527.00" font-size="7.5" text-anchor="middle" font-weight="normal" fill="#111" >0</text>
<text x="14.20" y="489.20" font-size="9.5" text-anchor="middle" textLength="16.5" lengthAdjust="spacingAndGlyphs" fill="#111" stroke="#111" stroke-width="0.32" transform="rotate(-90 14.20 489.20)">Foxp3</text>
<text x="44.50" y="545.00" font-size="7.5" text-anchor="middle" font-weight="normal" fill="#111" >0</text>
<text x="53.30" y="545.00" font-size="7.5" text-anchor="middle" fill="#111">10<tspan font-size="5.55" dy="-3.15">2</tspan></text>
<text x="73.00" y="545.00" font-size="7.5" text-anchor="middle" fill="#111">10<tspan font-size="5.55" dy="-3.15">3</tspan></text>
<text x="93.00" y="545.00" font-size="7.5" text-anchor="middle" fill="#111">10<tspan font-size="5.55" dy="-3.15">4</tspan></text>
<text x="111.30" y="545.00" font-size="7.5" text-anchor="middle" fill="#111">10<tspan font-size="5.55" dy="-3.15">5</tspan></text>
<text x="132.00" y="545.00" font-size="7.5" text-anchor="middle" font-weight="normal" fill="#111" >0</text>
<text x="140.80" y="545.00" font-size="7.5" text-anchor="middle" fill="#111">10<tspan font-size="5.55" dy="-3.15">2</tspan></text>
<text x="160.50" y="545.00" font-size="7.5" text-anchor="middle" fill="#111">10<tspan font-size="5.55" dy="-3.15">3</tspan></text>
<text x="180.50" y="545.00" font-size="7.5" text-anchor="middle" fill="#111">10<tspan font-size="5.55" dy="-3.15">4</tspan></text>
<text x="198.80" y="545.00" font-size="7.5" text-anchor="middle" fill="#111">10<tspan font-size="5.55" dy="-3.15">5</tspan></text>
<text x="50.50" y="557.00" font-size="9.2" text-anchor="middle" font-weight="normal" fill="#111" >CD4</text>
<line x1="62.00" y1="554.30" x2="189.00" y2="554.30" stroke="#111" stroke-width="0.9" />
<polygon points="192.00,554.30 188.00,552.60 188.00,556.00" fill="#111"/>
<text x="237.00" y="442.40" font-size="11.2" text-anchor="start" font-weight="bold" fill="#000" >G</text>
<text x="312.50" y="445.60" font-size="8.8" text-anchor="middle" font-weight="normal" fill="#111" >CD4</text>
<polyline points="265.0,533.6 286.5,533.6 291.7,530.8 296.9,529.1 300.3,525.6 302.9,521.3 305.5,512.7 308.1,491.9 309.3,466.0 310.7,453.0 312.4,464.2 314.2,479.8 315.9,505.7 318.0,524.8 320.2,531.7 323.0,533.6 349.0,533.6" fill="none" stroke="#c8102e" stroke-width="1.3" stroke-linejoin="round"/>
<polyline points="265.0,533.6 281.3,533.6 284.8,530.0 289.1,519.6 291.7,500.6 294.3,479.8 296.0,466.8 297.4,472.9 298.6,485.0 300.3,497.1 302.1,507.5 303.8,505.7 305.5,491.9 306.9,469.4 308.1,456.4 309.8,453.0 311.6,460.8 313.3,483.3 315.0,509.2 316.8,524.8 319.4,531.7 322.0,533.6 349.0,533.6" fill="none" stroke="#1c5590" stroke-width="1.3" stroke-linejoin="round"/>
<polyline points="265.0,533.6 286.5,533.6 290.0,523.0 293.4,505.7 296.0,474.6 297.7,459.0 299.1,453.5 300.3,459.0 302.1,483.3 303.8,505.7 305.5,523.0 308.1,531.7 312.0,533.6 349.5,533.6" fill="none" stroke="#3db54a" stroke-width="1.3" stroke-linejoin="round"/>
<rect x="264.50" y="447.50" width="85.50" height="86.80" fill="none" stroke="#111" stroke-width="1.1" />
<path d="M262.3 449.1h2.2M262.3 452.1h2.2M262.3 455.2h2.2M262.3 458.4h2.2M262.3 461.4h2.2M262.3 464.6h2.2M262.3 467.6h2.2M262.3 470.8h2.2M262.3 473.8h2.2M262.3 476.9h2.2M262.3 480.0h2.2M262.3 483.1h2.2M262.3 486.2h2.2M262.3 489.3h2.2M262.3 492.4h2.2M262.3 495.5h2.2M262.3 498.6h2.2M262.3 501.7h2.2M262.3 504.8h2.2M262.3 507.9h2.2M262.3 511.0h2.2M262.3 514.1h2.2M262.3 517.2h2.2M262.3 520.3h2.2M262.3 523.4h2.2M262.3 526.5h2.2M262.3 529.6h2.2M262.3 532.8h2.2" stroke="#222" stroke-width="0.65"/>
<path d="M265.9 534.3v2.2M268.7 534.3v2.2M271.4 534.3v2.2M274.2 534.3v2.2M277.0 534.3v2.2M279.8 534.3v2.2M282.5 534.3v2.2M285.3 534.3v2.2M288.1 534.3v2.2M290.9 534.3v2.2M293.6 534.3v2.2M296.4 534.3v2.2M299.2 534.3v2.2M302.0 534.3v2.2M304.8 534.3v2.2M307.5 534.3v2.2M310.3 534.3v2.2M313.1 534.3v2.2M315.9 534.3v2.2M318.6 534.3v2.2M321.4 534.3v2.2M324.2 534.3v2.2M327.0 534.3v2.2M329.7 534.3v2.2M332.5 534.3v2.2M335.3 534.3v2.2M338.1 534.3v2.2M340.8 534.3v2.2M343.6 534.3v2.2M346.4 534.3v2.2" stroke="#222" stroke-width="0.65"/>
<text x="388.80" y="445.60" font-size="8.8" text-anchor="middle" font-weight="normal" fill="#111" >CD8</text>
<polyline points="353.0,533.6 374.2,532.6 379.4,517.9 382.0,505.7 384.6,497.0 387.2,488.4 390.1,485.0 391.5,471.1 393.6,457.3 395.3,453.0 397.1,466.0 398.8,466.8 400.5,472.9 401.9,491.9 404.5,512.7 407.1,527.4 408.8,532.6 412.0,533.6 437.0,533.6" fill="none" stroke="#c8102e" stroke-width="1.3" stroke-linejoin="round"/>
<polyline points="353.0,533.6 368.0,533.6 372.5,530.0 376.0,524.8 379.4,497.0 380.8,481.5 382.9,474.6 384.6,453.8 386.5,453.0 388.4,484.0 390.7,476.3 393.3,479.8 395.3,479.0 396.7,486.7 399.3,512.7 401.9,524.8 407.1,531.7 410.0,533.6 437.0,533.6" fill="none" stroke="#1c5590" stroke-width="1.3" stroke-linejoin="round"/>
<polyline points="353.0,533.6 370.8,533.6 374.5,527.0 377.7,509.2 380.0,490.0 382.0,471.0 384.6,453.0 386.3,453.0 388.0,466.0 390.1,505.7 393.3,523.0 396.0,529.5 400.2,532.6 404.0,533.6 437.5,533.6" fill="none" stroke="#3db54a" stroke-width="1.3" stroke-linejoin="round"/>
<rect x="352.50" y="447.50" width="85.50" height="86.80" fill="none" stroke="#111" stroke-width="1.1" />
<path d="M350.3 449.1h2.2M350.3 452.1h2.2M350.3 455.2h2.2M350.3 458.4h2.2M350.3 461.4h2.2M350.3 464.6h2.2M350.3 467.6h2.2M350.3 470.8h2.2M350.3 473.8h2.2M350.3 476.9h2.2M350.3 480.0h2.2M350.3 483.1h2.2M350.3 486.2h2.2M350.3 489.3h2.2M350.3 492.4h2.2M350.3 495.5h2.2M350.3 498.6h2.2M350.3 501.7h2.2M350.3 504.8h2.2M350.3 507.9h2.2M350.3 511.0h2.2M350.3 514.1h2.2M350.3 517.2h2.2M350.3 520.3h2.2M350.3 523.4h2.2M350.3 526.5h2.2M350.3 529.6h2.2M350.3 532.8h2.2" stroke="#222" stroke-width="0.65"/>
<path d="M353.9 534.3v2.2M356.7 534.3v2.2M359.4 534.3v2.2M362.2 534.3v2.2M365.0 534.3v2.2M367.8 534.3v2.2M370.5 534.3v2.2M373.3 534.3v2.2M376.1 534.3v2.2M378.9 534.3v2.2M381.6 534.3v2.2M384.4 534.3v2.2M387.2 534.3v2.2M390.0 534.3v2.2M392.8 534.3v2.2M395.5 534.3v2.2M398.3 534.3v2.2M401.1 534.3v2.2M403.9 534.3v2.2M406.6 534.3v2.2M409.4 534.3v2.2M412.2 534.3v2.2M415.0 534.3v2.2M417.7 534.3v2.2M420.5 534.3v2.2M423.3 534.3v2.2M426.1 534.3v2.2M428.8 534.3v2.2M431.6 534.3v2.2M434.4 534.3v2.2" stroke="#222" stroke-width="0.65"/>
<text x="258.40" y="454.40" font-size="7.6" text-anchor="end" font-weight="normal" fill="#111" >100</text>
<line x1="261.20" y1="451.80" x2="264.50" y2="451.80" stroke="#222" stroke-width="0.9" />
<text x="258.40" y="470.60" font-size="7.6" text-anchor="end" font-weight="normal" fill="#111" >80</text>
<line x1="261.20" y1="468.00" x2="264.50" y2="468.00" stroke="#222" stroke-width="0.9" />
<text x="258.40" y="487.60" font-size="7.6" text-anchor="end" font-weight="normal" fill="#111" >60</text>
<line x1="261.20" y1="485.00" x2="264.50" y2="485.00" stroke="#222" stroke-width="0.9" />
<text x="258.40" y="503.90" font-size="7.6" text-anchor="end" font-weight="normal" fill="#111" >40</text>
<line x1="261.20" y1="501.30" x2="264.50" y2="501.30" stroke="#222" stroke-width="0.9" />
<text x="258.40" y="520.10" font-size="7.6" text-anchor="end" font-weight="normal" fill="#111" >20</text>
<line x1="261.20" y1="517.50" x2="264.50" y2="517.50" stroke="#222" stroke-width="0.9" />
<text x="258.40" y="536.90" font-size="7.6" text-anchor="end" font-weight="normal" fill="#111" >0</text>
<line x1="261.20" y1="534.30" x2="264.50" y2="534.30" stroke="#222" stroke-width="0.9" />
<text x="245.50" y="495.00" font-size="7.5" text-anchor="middle" textLength="17" lengthAdjust="spacingAndGlyphs" fill="#111" stroke="#111" stroke-width="0.32" transform="rotate(-90 245.50 495.00)">SSC-A</text>
<text x="273.00" y="545.00" font-size="7.5" text-anchor="middle" font-weight="normal" fill="#111" >0</text>
<text x="282.30" y="545.00" font-size="7.5" text-anchor="middle" fill="#111">10<tspan font-size="5.55" dy="-3.15">2</tspan></text>
<text x="302.50" y="545.00" font-size="7.5" text-anchor="middle" fill="#111">10<tspan font-size="5.55" dy="-3.15">3</tspan></text>
<text x="323.00" y="545.00" font-size="7.5" text-anchor="middle" fill="#111">10<tspan font-size="5.55" dy="-3.15">4</tspan></text>
<text x="342.00" y="545.00" font-size="7.5" text-anchor="middle" fill="#111">10<tspan font-size="5.55" dy="-3.15">5</tspan></text>
<text x="361.50" y="545.00" font-size="7.5" text-anchor="middle" font-weight="normal" fill="#111" >0</text>
<text x="370.80" y="545.00" font-size="7.5" text-anchor="middle" fill="#111">10<tspan font-size="5.55" dy="-3.15">2</tspan></text>
<text x="391.00" y="545.00" font-size="7.5" text-anchor="middle" fill="#111">10<tspan font-size="5.55" dy="-3.15">3</tspan></text>
<text x="411.50" y="545.00" font-size="7.5" text-anchor="middle" fill="#111">10<tspan font-size="5.55" dy="-3.15">4</tspan></text>
<text x="430.50" y="545.00" font-size="7.5" text-anchor="middle" fill="#111">10<tspan font-size="5.55" dy="-3.15">5</tspan></text>
<text x="275.00" y="557.00" font-size="9.2" text-anchor="middle" font-weight="normal" fill="#111" >HIF1α</text>
<line x1="292.00" y1="554.30" x2="428.30" y2="554.30" stroke="#111" stroke-width="0.9" />
<polygon points="431.30,554.30 427.30,552.60 427.30,556.00" fill="#111"/>
<line x1="445.80" y1="483.10" x2="457.70" y2="483.10" stroke="#3db54a" stroke-width="1.3" />
<text x="461.20" y="485.60" font-size="7.1" text-anchor="start" font-weight="normal" fill="#111" >BM alone</text>
<line x1="445.80" y1="490.50" x2="457.70" y2="490.50" stroke="#c8102e" stroke-width="1.3" />
<text x="461.20" y="493.00" font-size="7.1" text-anchor="start" font-weight="normal" fill="#111" >PBS</text>
<line x1="445.80" y1="498.80" x2="457.70" y2="498.80" stroke="#1c5590" stroke-width="1.3" />
<text x="461.20" y="501.30" font-size="7.1" text-anchor="start" font-weight="normal" fill="#111" >Anti-miR-31</text>
<rect x="0" y="0" width="520" height="678" fill="none" stroke="#000" stroke-width="2.6"/>
</svg></body></html>
